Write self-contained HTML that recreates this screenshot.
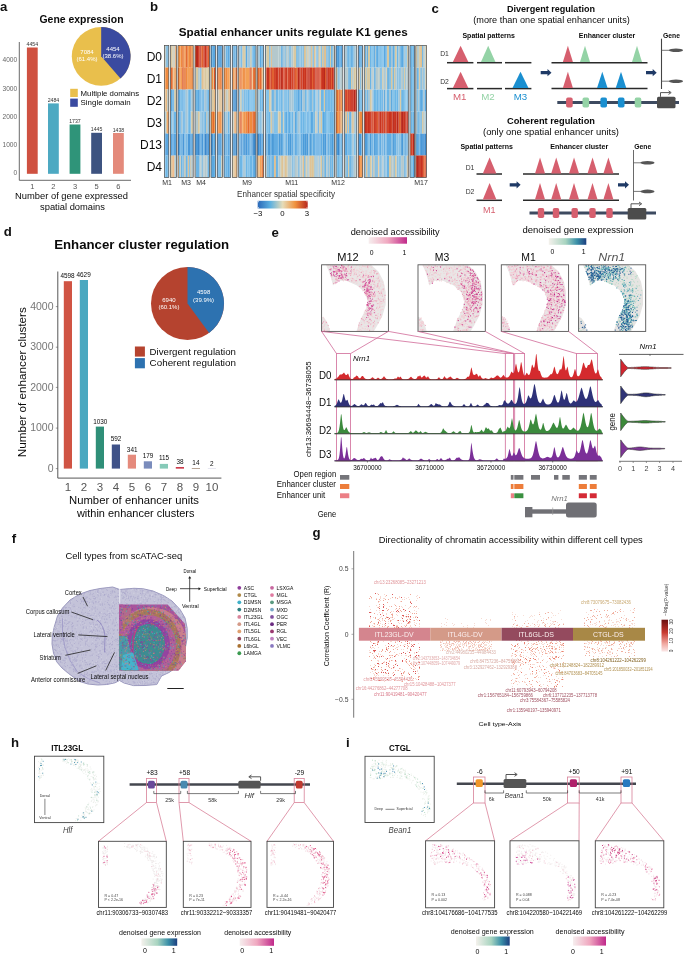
<!DOCTYPE html>
<html><head><meta charset="utf-8"><style>
html,body{margin:0;padding:0;background:#fff;width:685px;height:954px;overflow:hidden}
svg{display:block;will-change:transform;font-family:"Liberation Sans", sans-serif}
text{dominant-baseline:central}
</style></head><body>
<svg fill="#0a0a0a" width="685" height="954" viewBox="0 0 685 954">
<rect width="685" height="954" fill="#fff"/>
<text x="0" y="6.5" font-size="13.2" fill="#111" font-weight="bold" >a</text>
<text x="39.5" y="19" font-size="10.5" font-weight="bold" textLength="84.0" lengthAdjust="spacingAndGlyphs" >Gene expression</text>
<line x1="19.30" y1="42.00" x2="19.30" y2="180.30" stroke="#444" stroke-width="0.8" />
<line x1="19.30" y1="180.30" x2="131.00" y2="180.30" stroke="#444" stroke-width="0.8" />
<text x="17.2" y="59.6" font-size="6.6" fill="#666" text-anchor="end" >4000</text>
<text x="17.2" y="88.3" font-size="6.6" fill="#666" text-anchor="end" >3000</text>
<text x="17.2" y="116.8" font-size="6.6" fill="#666" text-anchor="end" >2000</text>
<text x="17.2" y="144.9" font-size="6.6" fill="#666" text-anchor="end" >1000</text>
<text x="17.2" y="172.4" font-size="6.6" fill="#666" text-anchor="end" >0</text>
<rect x="26.9" y="47.5" width="10.8" height="126.3" fill="#cf5141" />
<text x="32.3" y="44" font-size="5.2" fill="#333" text-anchor="middle" >4454</text>
<text x="32.3" y="186.6" font-size="7.5" fill="#555" text-anchor="middle" >1</text>
<rect x="48" y="103.4" width="10.8" height="70.4" fill="#4da9c2" />
<text x="53.4" y="99.9" font-size="5.2" fill="#333" text-anchor="middle" >2484</text>
<text x="53.4" y="186.6" font-size="7.5" fill="#555" text-anchor="middle" >2</text>
<rect x="69.6" y="124.5" width="10.8" height="49.3" fill="#2f9479" />
<text x="75" y="121" font-size="5.2" fill="#333" text-anchor="middle" >1737</text>
<text x="75" y="186.6" font-size="7.5" fill="#555" text-anchor="middle" >3</text>
<rect x="91.2" y="132.8" width="10.8" height="41" fill="#3d5380" />
<text x="96.6" y="129.3" font-size="5.2" fill="#333" text-anchor="middle" >1445</text>
<text x="96.6" y="186.6" font-size="7.5" fill="#555" text-anchor="middle" >5</text>
<rect x="113" y="133" width="10.8" height="40.8" fill="#e48a7b" />
<text x="118.4" y="129.5" font-size="5.2" fill="#333" text-anchor="middle" >1438</text>
<text x="118.4" y="186.6" font-size="7.5" fill="#555" text-anchor="middle" >6</text>
<text x="71.5" y="195.2" font-size="9.5" text-anchor="middle" textLength="113.0" lengthAdjust="spacingAndGlyphs" >Number of gene expressed</text>
<text x="72.5" y="206" font-size="9.5" text-anchor="middle" textLength="65.0" lengthAdjust="spacingAndGlyphs" >spatial domains</text>
<circle cx="101.2" cy="56.3" r="29.4" fill="#e9bf4c"/>
<path d="M101.2,56.3 L101.2,26.9 A29.4,29.4 0 0 1 120.50,78.47 Z" fill="#3a4aa0" stroke="none" stroke-width="1" />
<text x="113" y="49" font-size="6" fill="#fff" text-anchor="middle" >4454</text>
<text x="113" y="56" font-size="6" fill="#fff" text-anchor="middle" >(38.6%)</text>
<text x="87" y="51.5" font-size="6" fill="#fff" text-anchor="middle" >7084</text>
<text x="87" y="58.5" font-size="6" fill="#fff" text-anchor="middle" >(61.4%)</text>
<rect x="70.2" y="88.8" width="7.6" height="8.2" fill="#e9bf4c" />
<rect x="70.2" y="98.6" width="7.6" height="8.2" fill="#3a4aa0" />
<text x="80.6" y="93" font-size="7.8" textLength="58.5" lengthAdjust="spacingAndGlyphs" >Multiple domains</text>
<text x="80.6" y="102.5" font-size="7.8" textLength="50.0" lengthAdjust="spacingAndGlyphs" >Single domain</text>
<text x="150" y="6.5" font-size="13.2" fill="#111" font-weight="bold" >b</text>
<text x="178.8" y="31.5" font-size="11.3" font-weight="bold" textLength="229.0" lengthAdjust="spacingAndGlyphs" >Spatial enhancer units regulate K1 genes</text>
<path d="M165.03 45.5v22.0M178.53 155.5v22.0M190.73 155.5v22.0M203.83 67.5v22.0M206.83 111.5v22.0M282.43 155.5v22.0M304.53 45.5v22.0M311.43 45.5v22.0M312.43 155.5v22.0M314.43 45.5v22.0M318.83 45.5v22.0M324.53 45.5v22.0M334.03 45.5v22.0M336.53 67.5v22.0M348.63 111.5v22.0M366.43 155.5v22.0M407.73 155.5v22.0" stroke="#e0c090" stroke-width="1.06"/>
<path d="M180.68 155.5v22.0M283.98 45.5v22.0M287.28 155.5v22.0M300.08 155.5v22.0M373.58 155.5v22.0M378.28 155.5v22.0M378.98 155.5v22.0" stroke="#e0c090" stroke-width="0.76"/>
<path d="M184.98 155.5v22.0M188.28 155.5v22.0M271.28 45.5v22.0M325.68 45.5v22.0" stroke="#e0c090" stroke-width="1.36"/>
<path d="M202.33 67.5v22.0M274.93 155.5v22.0M346.13 111.5v22.0M421.13 45.5v22.0" stroke="#e0c090" stroke-width="2.06"/>
<path d="M285.13 155.5v22.0M303.23 155.5v22.0M310.13 155.5v22.0M352.93 111.5v22.0" stroke="#e0c090" stroke-width="1.66"/>
<path d="M165.03 67.5v22.0M175.83 67.5v22.0M178.53 45.5v22.0M239.93 67.5v22.0M239.93 111.5v22.0M241.93 67.5v22.0M241.93 111.5v22.0M243.63 111.5v22.0M251.93 67.5v22.0" stroke="#f3a157" stroke-width="1.06"/>
<path d="M172.98 67.5v22.0M180.68 45.5v22.0M218.88 111.5v22.0M221.18 111.5v22.0M229.98 67.5v22.0M242.78 111.5v22.0M257.58 155.5v22.0M261.88 67.5v22.0" stroke="#f3a157" stroke-width="0.76"/>
<path d="M176.43 67.5v22.0" stroke="#f3a157" stroke-width="0.26"/>
<path d="M179.68 67.5v22.0M181.68 67.5v22.0M184.98 45.5v22.0M188.28 45.5v22.0M188.28 67.5v22.0M189.58 67.5v22.0M338.68 89.5v22.0M338.68 111.5v22.0M360.58 155.5v22.0" stroke="#f3a157" stroke-width="1.36"/>
<path d="M192.03 45.5v22.0M359.13 111.5v22.0" stroke="#f3a157" stroke-width="1.66"/>
<path d="M214.78 111.5v22.0" stroke="#f3a157" stroke-width="1.56"/>
<path d="M221.98 67.5v22.0M221.98 111.5v22.0" stroke="#f3a157" stroke-width="0.96"/>
<path d="M228.63 67.5v22.0M246.43 67.5v22.0M248.43 67.5v22.0M260.53 155.5v22.0M341.33 89.5v22.0" stroke="#f3a157" stroke-width="2.06"/>
<path d="M230.53 67.5v22.0" stroke="#f3a157" stroke-width="0.46"/>
<path d="M263.48 67.5v22.0M342.58 111.5v22.0" stroke="#f3a157" stroke-width="0.56"/>
<path d="M362.58 111.5v22.0" stroke="#f3a157" stroke-width="0.16"/>
<path d="M165.03 89.5v22.0M173.83 45.5v22.0M212.53 89.5v22.0M213.53 89.5v22.0M234.13 111.5v22.0M234.13 155.5v22.0" stroke="#dcc8a0" stroke-width="1.06"/>
<path d="M166.33 111.5v22.0M220.03 89.5v22.0M359.13 67.5v22.0" stroke="#dcc8a0" stroke-width="1.66"/>
<path d="M168.78 89.5v22.0M168.78 111.5v22.0M362.58 67.5v22.0" stroke="#dcc8a0" stroke-width="0.16"/>
<path d="M171.63 45.5v22.0M171.63 155.5v22.0M228.63 89.5v22.0" stroke="#dcc8a0" stroke-width="2.06"/>
<path d="M176.43 155.5v22.0" stroke="#dcc8a0" stroke-width="0.26"/>
<path d="M221.98 89.5v22.0" stroke="#dcc8a0" stroke-width="0.96"/>
<path d="M232.98 155.5v22.0" stroke="#dcc8a0" stroke-width="1.36"/>
<path d="M236.33 111.5v22.0" stroke="#dcc8a0" stroke-width="1.46"/>
<path d="M165.03 111.5v22.0M175.83 155.5v22.0M182.83 155.5v22.0M183.83 155.5v22.0M200.13 111.5v22.0M203.83 111.5v22.0M267.53 155.5v22.0M268.53 155.5v22.0M282.43 45.5v22.0M289.43 45.5v22.0M304.53 155.5v22.0M306.83 45.5v22.0M307.83 155.5v22.0M313.43 45.5v22.0M322.53 155.5v22.0M324.53 155.5v22.0M331.43 155.5v22.0M339.83 67.5v22.0M347.63 111.5v22.0M351.63 155.5v22.0M365.43 155.5v22.0M375.43 67.5v22.0M375.43 155.5v22.0M376.43 155.5v22.0M377.43 155.5v22.0M381.83 155.5v22.0M385.83 67.5v22.0M385.83 155.5v22.0M394.43 155.5v22.0M400.63 67.5v22.0M400.63 155.5v22.0M403.63 67.5v22.0M418.63 67.5v22.0M419.63 111.5v22.0M424.93 67.5v22.0" stroke="#8cc0e0" stroke-width="1.06"/>
<path d="M166.33 45.5v22.0M167.93 45.5v22.0M258.73 111.5v22.0M269.83 45.5v22.0M285.13 45.5v22.0M290.73 45.5v22.0M303.23 45.5v22.0M328.13 45.5v22.0M328.13 155.5v22.0M332.73 45.5v22.0M352.93 155.5v22.0M399.33 67.5v22.0M399.33 155.5v22.0" stroke="#8cc0e0" stroke-width="1.66"/>
<path d="M168.78 45.5v22.0M408.28 67.5v22.0" stroke="#8cc0e0" stroke-width="0.16"/>
<path d="M179.68 155.5v22.0M189.58 155.5v22.0M271.28 155.5v22.0M294.18 155.5v22.0M316.98 45.5v22.0M316.98 155.5v22.0M321.38 45.5v22.0M338.68 67.5v22.0M360.58 67.5v22.0M384.68 155.5v22.0M417.48 111.5v22.0M423.78 67.5v22.0" stroke="#8cc0e0" stroke-width="1.36"/>
<path d="M200.98 111.5v22.0M261.88 111.5v22.0M278.28 155.5v22.0M287.28 45.5v22.0M300.08 45.5v22.0M315.98 45.5v22.0M344.78 111.5v22.0M378.28 67.5v22.0M383.68 67.5v22.0M383.68 155.5v22.0M386.68 155.5v22.0M405.48 155.5v22.0" stroke="#8cc0e0" stroke-width="0.76"/>
<path d="M202.33 111.5v22.0M202.33 155.5v22.0M208.33 111.5v22.0M260.53 111.5v22.0M292.53 155.5v22.0M298.73 45.5v22.0M298.73 155.5v22.0M301.43 45.5v22.0M346.13 155.5v22.0M368.93 155.5v22.0M380.33 67.5v22.0M380.33 155.5v22.0M390.03 67.5v22.0M397.53 67.5v22.0M397.53 155.5v22.0M421.13 67.5v22.0M421.13 111.5v22.0" stroke="#8cc0e0" stroke-width="2.06"/>
<path d="M356.08 111.5v22.0" stroke="#8cc0e0" stroke-width="1.56"/>
<path d="M165.03 133.5v22.0M182.83 133.5v22.0M183.83 133.5v22.0M195.53 133.5v22.0M211.53 45.5v22.0M212.53 133.5v22.0M234.13 89.5v22.0M240.93 133.5v22.0M249.93 133.5v22.0M336.53 45.5v22.0M337.53 133.5v22.0M422.63 133.5v22.0" stroke="#4a98d8" stroke-width="1.06"/>
<path d="M168.78 133.5v22.0" stroke="#4a98d8" stroke-width="0.16"/>
<path d="M176.43 133.5v22.0" stroke="#4a98d8" stroke-width="0.26"/>
<path d="M188.28 133.5v22.0M189.58 133.5v22.0M217.88 133.5v22.0M232.98 89.5v22.0M244.78 133.5v22.0M338.68 45.5v22.0M360.58 133.5v22.0M423.78 133.5v22.0" stroke="#4a98d8" stroke-width="1.36"/>
<path d="M197.03 133.5v22.0M202.33 133.5v22.0M208.33 133.5v22.0M246.43 133.5v22.0M260.53 133.5v22.0M421.13 133.5v22.0" stroke="#4a98d8" stroke-width="2.06"/>
<path d="M209.48 133.5v22.0" stroke="#4a98d8" stroke-width="0.36"/>
<path d="M220.03 45.5v22.0M359.13 133.5v22.0" stroke="#4a98d8" stroke-width="1.66"/>
<path d="M229.98 133.5v22.0" stroke="#4a98d8" stroke-width="0.76"/>
<path d="M236.33 89.5v22.0" stroke="#4a98d8" stroke-width="1.46"/>
<path d="M263.48 133.5v22.0M342.58 133.5v22.0" stroke="#4a98d8" stroke-width="0.56"/>
<path d="M165.03 155.5v22.0M182.83 111.5v22.0M183.83 89.5v22.0M190.73 111.5v22.0M239.93 89.5v22.0M250.93 89.5v22.0M265.83 89.5v22.0M265.83 111.5v22.0M267.53 89.5v22.0M267.53 111.5v22.0M268.53 89.5v22.0M268.53 111.5v22.0M282.43 89.5v22.0M286.43 89.5v22.0M304.53 111.5v22.0M306.83 89.5v22.0M306.83 111.5v22.0M313.43 89.5v22.0M313.43 111.5v22.0M322.53 111.5v22.0M323.53 89.5v22.0M329.43 111.5v22.0M330.43 89.5v22.0M337.53 155.5v22.0M347.63 133.5v22.0M351.63 133.5v22.0M372.73 45.5v22.0M376.43 89.5v22.0M382.83 45.5v22.0M394.43 45.5v22.0M394.43 89.5v22.0M403.63 45.5v22.0M404.63 89.5v22.0M407.73 89.5v22.0M419.63 89.5v22.0" stroke="#84c2e8" stroke-width="1.06"/>
<path d="M167.93 155.5v22.0M224.83 111.5v22.0M285.13 89.5v22.0M290.73 111.5v22.0M310.13 111.5v22.0M328.13 111.5v22.0M332.73 89.5v22.0M354.53 133.5v22.0M393.13 89.5v22.0" stroke="#84c2e8" stroke-width="1.66"/>
<path d="M171.63 111.5v22.0M202.33 89.5v22.0M246.43 89.5v22.0M248.43 155.5v22.0M254.13 89.5v22.0M274.93 111.5v22.0M276.93 111.5v22.0M279.63 89.5v22.0M341.33 155.5v22.0M350.13 45.5v22.0M380.33 45.5v22.0M411.73 155.5v22.0" stroke="#84c2e8" stroke-width="2.06"/>
<path d="M172.98 89.5v22.0M200.98 89.5v22.0M221.18 155.5v22.0M229.98 45.5v22.0M229.98 155.5v22.0M242.78 155.5v22.0M257.58 89.5v22.0M261.88 45.5v22.0M278.28 89.5v22.0M287.28 89.5v22.0M300.08 89.5v22.0M315.28 89.5v22.0M315.98 89.5v22.0M320.38 111.5v22.0M344.78 45.5v22.0M378.98 89.5v22.0M386.68 89.5v22.0M405.48 45.5v22.0M405.48 89.5v22.0M406.18 45.5v22.0M406.18 89.5v22.0M406.88 89.5v22.0M410.38 67.5v22.0M410.38 89.5v22.0" stroke="#84c2e8" stroke-width="0.76"/>
<path d="M176.43 89.5v22.0" stroke="#84c2e8" stroke-width="0.26"/>
<path d="M181.68 89.5v22.0M188.28 89.5v22.0M188.28 111.5v22.0M295.48 89.5v22.0M305.68 111.5v22.0M360.58 89.5v22.0M417.48 89.5v22.0" stroke="#84c2e8" stroke-width="1.36"/>
<path d="M193.03 111.5v22.0M230.53 45.5v22.0M230.53 155.5v22.0" stroke="#84c2e8" stroke-width="0.46"/>
<path d="M255.58 45.5v22.0" stroke="#84c2e8" stroke-width="0.96"/>
<path d="M356.08 133.5v22.0" stroke="#84c2e8" stroke-width="1.56"/>
<path d="M362.58 89.5v22.0M408.28 45.5v22.0" stroke="#84c2e8" stroke-width="0.16"/>
<path d="M413.63 67.5v22.0M413.63 89.5v22.0" stroke="#84c2e8" stroke-width="1.86"/>
<path d="M166.33 67.5v22.0M167.93 67.5v22.0M192.03 67.5v22.0M220.03 67.5v22.0M220.03 111.5v22.0M224.83 67.5v22.0" stroke="#ef8a3e" stroke-width="1.66"/>
<path d="M174.83 67.5v22.0M183.83 45.5v22.0M183.83 67.5v22.0M190.73 67.5v22.0M211.53 111.5v22.0M212.53 67.5v22.0M212.53 111.5v22.0M234.13 67.5v22.0M243.63 67.5v22.0M249.93 111.5v22.0M250.93 111.5v22.0M251.93 111.5v22.0M336.53 89.5v22.0M337.53 111.5v22.0" stroke="#ef8a3e" stroke-width="1.06"/>
<path d="M179.68 45.5v22.0M181.68 45.5v22.0M189.58 45.5v22.0M217.88 111.5v22.0M232.98 67.5v22.0M244.78 67.5v22.0M244.78 111.5v22.0M360.58 111.5v22.0M361.88 111.5v22.0M361.88 155.5v22.0" stroke="#ef8a3e" stroke-width="1.36"/>
<path d="M180.68 67.5v22.0M218.88 67.5v22.0M239.08 67.5v22.0M239.08 111.5v22.0M242.78 67.5v22.0M261.88 155.5v22.0" stroke="#ef8a3e" stroke-width="0.76"/>
<path d="M186.63 67.5v22.0M226.63 67.5v22.0M246.43 111.5v22.0" stroke="#ef8a3e" stroke-width="2.06"/>
<path d="M193.03 45.5v22.0" stroke="#ef8a3e" stroke-width="0.46"/>
<path d="M255.58 67.5v22.0M255.58 111.5v22.0" stroke="#ef8a3e" stroke-width="0.96"/>
<path d="M362.58 155.5v22.0" stroke="#ef8a3e" stroke-width="0.16"/>
<path d="M166.33 89.5v22.0M224.83 89.5v22.0" stroke="#e8b880" stroke-width="1.66"/>
<path d="M173.83 155.5v22.0M235.13 155.5v22.0" stroke="#e8b880" stroke-width="1.06"/>
<path d="M176.43 45.5v22.0" stroke="#e8b880" stroke-width="0.26"/>
<path d="M214.78 89.5v22.0" stroke="#e8b880" stroke-width="1.56"/>
<path d="M218.88 89.5v22.0M221.18 89.5v22.0" stroke="#e8b880" stroke-width="0.76"/>
<path d="M230.53 89.5v22.0" stroke="#e8b880" stroke-width="0.46"/>
<path d="M236.33 155.5v22.0" stroke="#e8b880" stroke-width="1.46"/>
<path d="M166.33 133.5v22.0M167.93 133.5v22.0M192.03 133.5v22.0M220.03 133.5v22.0M224.83 133.5v22.0M359.13 45.5v22.0" stroke="#5aa6e0" stroke-width="1.66"/>
<path d="M171.63 133.5v22.0M228.63 133.5v22.0M248.43 133.5v22.0M341.33 45.5v22.0" stroke="#5aa6e0" stroke-width="2.06"/>
<path d="M172.98 133.5v22.0M180.68 133.5v22.0M200.98 133.5v22.0M218.88 45.5v22.0M221.18 45.5v22.0M239.08 133.5v22.0M252.78 133.5v22.0M261.88 133.5v22.0" stroke="#5aa6e0" stroke-width="0.76"/>
<path d="M173.83 133.5v22.0M174.83 133.5v22.0M175.83 133.5v22.0M190.73 133.5v22.0M200.13 133.5v22.0M213.53 45.5v22.0M235.13 133.5v22.0M243.63 133.5v22.0M262.73 133.5v22.0M337.53 45.5v22.0M339.83 45.5v22.0M339.83 133.5v22.0M416.33 133.5v22.0M418.63 133.5v22.0" stroke="#5aa6e0" stroke-width="1.06"/>
<path d="M179.68 133.5v22.0M232.98 45.5v22.0M232.98 133.5v22.0M361.88 45.5v22.0M417.48 133.5v22.0" stroke="#5aa6e0" stroke-width="1.36"/>
<path d="M214.78 45.5v22.0M214.78 133.5v22.0" stroke="#5aa6e0" stroke-width="1.56"/>
<path d="M230.53 133.5v22.0" stroke="#5aa6e0" stroke-width="0.46"/>
<path d="M236.33 45.5v22.0" stroke="#5aa6e0" stroke-width="1.46"/>
<path d="M342.58 45.5v22.0" stroke="#5aa6e0" stroke-width="0.56"/>
<path d="M362.58 45.5v22.0" stroke="#5aa6e0" stroke-width="0.16"/>
<path d="M166.33 155.5v22.0M220.03 155.5v22.0M224.83 155.5v22.0M269.83 111.5v22.0M285.13 111.5v22.0M296.93 89.5v22.0M296.93 111.5v22.0M303.23 111.5v22.0M310.13 89.5v22.0M328.13 89.5v22.0M332.73 111.5v22.0M352.93 45.5v22.0M370.73 45.5v22.0M395.73 89.5v22.0" stroke="#6db6e6" stroke-width="1.66"/>
<path d="M168.78 155.5v22.0" stroke="#6db6e6" stroke-width="0.16"/>
<path d="M173.83 111.5v22.0M174.83 111.5v22.0M175.83 111.5v22.0M178.53 89.5v22.0M190.73 89.5v22.0M195.53 89.5v22.0M206.83 89.5v22.0M211.53 155.5v22.0M239.93 155.5v22.0M240.93 45.5v22.0M240.93 155.5v22.0M241.93 89.5v22.0M241.93 155.5v22.0M249.93 89.5v22.0M249.93 155.5v22.0M250.93 155.5v22.0M251.93 45.5v22.0M251.93 89.5v22.0M251.93 155.5v22.0M262.73 45.5v22.0M282.43 111.5v22.0M308.83 89.5v22.0M308.83 111.5v22.0M311.43 89.5v22.0M314.43 89.5v22.0M314.43 111.5v22.0M318.83 89.5v22.0M322.53 89.5v22.0M324.53 111.5v22.0M326.83 111.5v22.0M329.43 89.5v22.0M330.43 111.5v22.0M331.43 89.5v22.0M331.43 111.5v22.0M339.83 155.5v22.0M347.63 45.5v22.0M348.63 45.5v22.0M348.63 133.5v22.0M365.43 89.5v22.0M367.43 89.5v22.0M374.43 89.5v22.0M375.43 89.5v22.0M376.43 45.5v22.0M377.43 89.5v22.0M381.83 45.5v22.0M381.83 89.5v22.0M400.63 45.5v22.0M403.63 89.5v22.0M422.63 89.5v22.0" stroke="#6db6e6" stroke-width="1.06"/>
<path d="M179.68 111.5v22.0M184.98 89.5v22.0M184.98 111.5v22.0M189.58 89.5v22.0M189.58 111.5v22.0M244.78 89.5v22.0M281.28 89.5v22.0M281.28 111.5v22.0M288.28 89.5v22.0M288.28 111.5v22.0M294.18 89.5v22.0M305.68 89.5v22.0M321.38 89.5v22.0M325.68 89.5v22.0M325.68 111.5v22.0M338.68 155.5v22.0M361.88 89.5v22.0" stroke="#6db6e6" stroke-width="1.36"/>
<path d="M180.68 89.5v22.0M218.88 155.5v22.0M239.08 45.5v22.0M239.08 89.5v22.0M239.08 155.5v22.0M242.78 89.5v22.0M252.78 45.5v22.0M252.78 89.5v22.0M252.78 155.5v22.0M261.88 89.5v22.0M266.68 89.5v22.0M266.68 111.5v22.0M283.98 111.5v22.0M287.28 111.5v22.0M300.08 111.5v22.0M317.98 89.5v22.0M317.98 111.5v22.0M344.78 133.5v22.0M371.88 45.5v22.0M373.58 45.5v22.0M373.58 89.5v22.0M378.28 45.5v22.0M383.68 45.5v22.0M386.68 45.5v22.0M406.88 45.5v22.0M410.38 155.5v22.0" stroke="#6db6e6" stroke-width="0.76"/>
<path d="M197.03 89.5v22.0M208.33 89.5v22.0M226.63 45.5v22.0M226.63 155.5v22.0M228.63 111.5v22.0M246.43 155.5v22.0M248.43 89.5v22.0M254.13 45.5v22.0M260.53 89.5v22.0M272.93 89.5v22.0M276.93 89.5v22.0M292.53 111.5v22.0M301.43 111.5v22.0M350.13 133.5v22.0M380.33 89.5v22.0M388.03 89.5v22.0M390.03 45.5v22.0M397.53 45.5v22.0M397.53 89.5v22.0M402.13 89.5v22.0M411.73 45.5v22.0M411.73 67.5v22.0M411.73 89.5v22.0" stroke="#6db6e6" stroke-width="2.06"/>
<path d="M214.78 155.5v22.0" stroke="#6db6e6" stroke-width="1.56"/>
<path d="M230.53 111.5v22.0" stroke="#6db6e6" stroke-width="0.46"/>
<path d="M342.58 155.5v22.0" stroke="#6db6e6" stroke-width="0.56"/>
<path d="M413.63 45.5v22.0" stroke="#6db6e6" stroke-width="1.86"/>
<path d="M167.93 89.5v22.0" stroke="#c0c8c0" stroke-width="1.66"/>
<path d="M172.98 45.5v22.0" stroke="#c0c8c0" stroke-width="0.76"/>
<path d="M174.83 45.5v22.0M174.83 155.5v22.0M211.53 89.5v22.0" stroke="#c0c8c0" stroke-width="1.06"/>
<path d="M217.88 89.5v22.0M232.98 111.5v22.0M361.88 67.5v22.0" stroke="#c0c8c0" stroke-width="1.36"/>
<path d="M226.63 89.5v22.0" stroke="#c0c8c0" stroke-width="2.06"/>
<path d="M167.93 111.5v22.0" stroke="#f0a060" stroke-width="1.66"/>
<path d="M172.98 155.5v22.0M229.98 89.5v22.0" stroke="#f0a060" stroke-width="0.76"/>
<path d="M175.83 45.5v22.0M235.13 111.5v22.0" stroke="#f0a060" stroke-width="1.06"/>
<path d="M168.78 67.5v22.0" stroke="#e9c08c" stroke-width="0.16"/>
<path d="M173.83 67.5v22.0M211.53 67.5v22.0M213.53 67.5v22.0M235.13 67.5v22.0M262.73 67.5v22.0" stroke="#e9c08c" stroke-width="1.06"/>
<path d="M252.78 67.5v22.0" stroke="#e9c08c" stroke-width="0.76"/>
<path d="M258.73 155.5v22.0" stroke="#e9c08c" stroke-width="1.66"/>
<path d="M341.33 111.5v22.0" stroke="#e9c08c" stroke-width="2.06"/>
<path d="M171.63 67.5v22.0M186.63 45.5v22.0M248.43 111.5v22.0M254.13 67.5v22.0M254.13 111.5v22.0M260.53 67.5v22.0" stroke="#e36b30" stroke-width="2.06"/>
<path d="M178.53 67.5v22.0M182.83 45.5v22.0M190.73 45.5v22.0M213.53 111.5v22.0M240.93 67.5v22.0M249.93 67.5v22.0M262.73 155.5v22.0M336.53 111.5v22.0M337.53 89.5v22.0M339.83 111.5v22.0" stroke="#e36b30" stroke-width="1.06"/>
<path d="M184.98 67.5v22.0M217.88 67.5v22.0" stroke="#e36b30" stroke-width="1.36"/>
<path d="M193.03 67.5v22.0" stroke="#e36b30" stroke-width="0.46"/>
<path d="M221.18 67.5v22.0M252.78 111.5v22.0M257.58 67.5v22.0" stroke="#e36b30" stroke-width="0.76"/>
<path d="M236.33 67.5v22.0" stroke="#e36b30" stroke-width="1.46"/>
<path d="M258.73 67.5v22.0M359.13 155.5v22.0" stroke="#e36b30" stroke-width="1.66"/>
<path d="M263.48 155.5v22.0" stroke="#e36b30" stroke-width="0.56"/>
<path d="M171.63 89.5v22.0M228.63 45.5v22.0M228.63 155.5v22.0M246.43 45.5v22.0M254.13 155.5v22.0M260.53 45.5v22.0M298.73 89.5v22.0M301.43 89.5v22.0M346.13 133.5v22.0M402.13 45.5v22.0M421.13 89.5v22.0" stroke="#5aa8e0" stroke-width="2.06"/>
<path d="M173.83 89.5v22.0M178.53 111.5v22.0M182.83 89.5v22.0M183.83 111.5v22.0M200.13 89.5v22.0M203.83 89.5v22.0M212.53 155.5v22.0M213.53 155.5v22.0M241.93 45.5v22.0M249.93 45.5v22.0M262.73 89.5v22.0M286.43 111.5v22.0M289.43 111.5v22.0M307.83 111.5v22.0M311.43 111.5v22.0M312.43 111.5v22.0M318.83 111.5v22.0M323.53 111.5v22.0M326.83 89.5v22.0M334.03 89.5v22.0M334.03 111.5v22.0M351.63 45.5v22.0M365.43 45.5v22.0M367.43 45.5v22.0M374.43 45.5v22.0M377.43 45.5v22.0M382.83 89.5v22.0M385.83 45.5v22.0M424.93 89.5v22.0M425.93 89.5v22.0" stroke="#5aa8e0" stroke-width="1.06"/>
<path d="M179.68 89.5v22.0M217.88 155.5v22.0M295.48 111.5v22.0M384.68 45.5v22.0M384.68 89.5v22.0M391.68 89.5v22.0" stroke="#5aa8e0" stroke-width="1.36"/>
<path d="M180.68 111.5v22.0M283.98 89.5v22.0M378.28 89.5v22.0M378.98 45.5v22.0M410.38 45.5v22.0" stroke="#5aa8e0" stroke-width="0.76"/>
<path d="M193.03 89.5v22.0" stroke="#5aa8e0" stroke-width="0.46"/>
<path d="M198.83 89.5v22.0M359.13 89.5v22.0M393.13 45.5v22.0" stroke="#5aa8e0" stroke-width="1.66"/>
<path d="M255.58 155.5v22.0" stroke="#5aa8e0" stroke-width="0.96"/>
<path d="M263.48 45.5v22.0" stroke="#5aa8e0" stroke-width="0.56"/>
<path d="M408.28 89.5v22.0" stroke="#5aa8e0" stroke-width="0.16"/>
<path d="M413.63 155.5v22.0" stroke="#5aa8e0" stroke-width="1.86"/>
<path d="M172.98 111.5v22.0M229.98 111.5v22.0M257.58 45.5v22.0M283.28 89.5v22.0M315.28 111.5v22.0M319.68 89.5v22.0M364.58 89.5v22.0M371.88 89.5v22.0M383.68 89.5v22.0" stroke="#a6c6d6" stroke-width="0.76"/>
<path d="M176.43 111.5v22.0" stroke="#a6c6d6" stroke-width="0.26"/>
<path d="M181.68 111.5v22.0M244.78 155.5v22.0M271.28 89.5v22.0M294.18 111.5v22.0M316.98 89.5v22.0M316.98 111.5v22.0M391.68 45.5v22.0M423.78 89.5v22.0" stroke="#a6c6d6" stroke-width="1.36"/>
<path d="M186.63 89.5v22.0M186.63 111.5v22.0M205.33 89.5v22.0M226.63 111.5v22.0M248.43 45.5v22.0M272.93 111.5v22.0M274.93 89.5v22.0M292.53 89.5v22.0M298.73 111.5v22.0M346.13 45.5v22.0M368.93 89.5v22.0M390.03 89.5v22.0" stroke="#a6c6d6" stroke-width="2.06"/>
<path d="M192.03 89.5v22.0M224.83 45.5v22.0M258.73 45.5v22.0M258.73 89.5v22.0M290.73 89.5v22.0M303.23 89.5v22.0M352.93 133.5v22.0M354.53 45.5v22.0M399.33 45.5v22.0M399.33 89.5v22.0" stroke="#a6c6d6" stroke-width="1.66"/>
<path d="M239.93 45.5v22.0M243.63 89.5v22.0M243.63 155.5v22.0M289.43 89.5v22.0M304.53 89.5v22.0M307.83 89.5v22.0M312.43 89.5v22.0M336.53 155.5v22.0M366.43 45.5v22.0M366.43 89.5v22.0M372.73 89.5v22.0M375.43 45.5v22.0M385.83 89.5v22.0M404.63 45.5v22.0M416.33 89.5v22.0M418.63 89.5v22.0" stroke="#a6c6d6" stroke-width="1.06"/>
<path d="M263.48 89.5v22.0" stroke="#a6c6d6" stroke-width="0.56"/>
<path d="M356.08 45.5v22.0" stroke="#a6c6d6" stroke-width="1.56"/>
<path d="M174.83 89.5v22.0M175.83 89.5v22.0M240.93 89.5v22.0M243.63 45.5v22.0M250.93 45.5v22.0M324.53 89.5v22.0M400.63 89.5v22.0M407.73 45.5v22.0" stroke="#d6c8a2" stroke-width="1.06"/>
<path d="M192.03 111.5v22.0M269.83 89.5v22.0M370.73 89.5v22.0M395.73 45.5v22.0" stroke="#d6c8a2" stroke-width="1.66"/>
<path d="M209.48 89.5v22.0" stroke="#d6c8a2" stroke-width="0.36"/>
<path d="M221.98 155.5v22.0M255.58 89.5v22.0" stroke="#d6c8a2" stroke-width="0.96"/>
<path d="M242.78 45.5v22.0M278.28 111.5v22.0M283.28 111.5v22.0M315.98 111.5v22.0M319.68 111.5v22.0M320.38 89.5v22.0M364.58 45.5v22.0" stroke="#d6c8a2" stroke-width="0.76"/>
<path d="M244.78 45.5v22.0M271.28 111.5v22.0M321.38 111.5v22.0" stroke="#d6c8a2" stroke-width="1.36"/>
<path d="M279.63 111.5v22.0M368.93 45.5v22.0M388.03 45.5v22.0" stroke="#d6c8a2" stroke-width="2.06"/>
<path d="M178.53 133.5v22.0M206.83 133.5v22.0M211.53 133.5v22.0M234.13 133.5v22.0M235.13 89.5v22.0M241.93 133.5v22.0M251.93 133.5v22.0M424.93 133.5v22.0M425.93 133.5v22.0" stroke="#3a88cc" stroke-width="1.06"/>
<path d="M193.03 133.5v22.0" stroke="#3a88cc" stroke-width="0.46"/>
<path d="M198.83 133.5v22.0M258.73 133.5v22.0" stroke="#3a88cc" stroke-width="1.66"/>
<path d="M205.33 133.5v22.0M254.13 133.5v22.0" stroke="#3a88cc" stroke-width="2.06"/>
<path d="M217.88 45.5v22.0M338.68 133.5v22.0" stroke="#3a88cc" stroke-width="1.36"/>
<path d="M218.88 133.5v22.0M221.18 133.5v22.0M257.58 133.5v22.0" stroke="#3a88cc" stroke-width="0.76"/>
<path d="M221.98 45.5v22.0M255.58 133.5v22.0" stroke="#3a88cc" stroke-width="0.96"/>
<path d="M236.33 133.5v22.0" stroke="#3a88cc" stroke-width="1.46"/>
<path d="M181.68 133.5v22.0M184.98 133.5v22.0M360.58 45.5v22.0M361.88 133.5v22.0" stroke="#78b8e4" stroke-width="1.36"/>
<path d="M186.63 133.5v22.0M226.63 133.5v22.0M341.33 133.5v22.0" stroke="#78b8e4" stroke-width="2.06"/>
<path d="M203.83 133.5v22.0M212.53 45.5v22.0M213.53 133.5v22.0M234.13 45.5v22.0M235.13 45.5v22.0M239.93 133.5v22.0M250.93 133.5v22.0M336.53 133.5v22.0M419.63 133.5v22.0" stroke="#78b8e4" stroke-width="1.06"/>
<path d="M221.98 133.5v22.0" stroke="#78b8e4" stroke-width="0.96"/>
<path d="M242.78 133.5v22.0" stroke="#78b8e4" stroke-width="0.76"/>
<path d="M362.58 133.5v22.0" stroke="#78b8e4" stroke-width="0.16"/>
<path d="M181.68 155.5v22.0M281.28 45.5v22.0M325.68 155.5v22.0M417.48 67.5v22.0" stroke="#6cb4e4" stroke-width="1.36"/>
<path d="M186.63 155.5v22.0M197.03 155.5v22.0M205.33 111.5v22.0M208.33 155.5v22.0M272.93 155.5v22.0M276.93 155.5v22.0M350.13 67.5v22.0M350.13 111.5v22.0M350.13 155.5v22.0M388.03 67.5v22.0M388.03 155.5v22.0M411.73 111.5v22.0" stroke="#6cb4e4" stroke-width="2.06"/>
<path d="M198.83 155.5v22.0M269.83 155.5v22.0M296.93 45.5v22.0M332.73 155.5v22.0M370.73 67.5v22.0M393.13 67.5v22.0" stroke="#6cb4e4" stroke-width="1.66"/>
<path d="M200.13 67.5v22.0M265.83 45.5v22.0M326.83 45.5v22.0M329.43 45.5v22.0M330.43 155.5v22.0M331.43 45.5v22.0M347.63 155.5v22.0M348.63 67.5v22.0M372.73 155.5v22.0M374.43 67.5v22.0M381.83 67.5v22.0M404.63 155.5v22.0M418.63 111.5v22.0M422.63 45.5v22.0M425.93 111.5v22.0" stroke="#6cb4e4" stroke-width="1.06"/>
<path d="M200.98 67.5v22.0M266.68 155.5v22.0M283.28 45.5v22.0M315.28 155.5v22.0M317.98 45.5v22.0M319.68 155.5v22.0M344.78 67.5v22.0M364.58 67.5v22.0M405.48 67.5v22.0M406.18 155.5v22.0" stroke="#6cb4e4" stroke-width="0.76"/>
<path d="M209.48 67.5v22.0" stroke="#6cb4e4" stroke-width="0.36"/>
<path d="M263.48 111.5v22.0" stroke="#6cb4e4" stroke-width="0.56"/>
<path d="M413.63 111.5v22.0" stroke="#6cb4e4" stroke-width="1.86"/>
<path d="M182.83 67.5v22.0M240.93 111.5v22.0M250.93 67.5v22.0M339.83 89.5v22.0" stroke="#d9532a" stroke-width="1.06"/>
<path d="M214.78 67.5v22.0" stroke="#d9532a" stroke-width="1.56"/>
<path d="M342.58 89.5v22.0" stroke="#d9532a" stroke-width="0.56"/>
<path d="M192.03 155.5v22.0M198.83 67.5v22.0M290.73 155.5v22.0M296.93 155.5v22.0M310.13 45.5v22.0M352.93 67.5v22.0M354.53 111.5v22.0M354.53 155.5v22.0M393.13 155.5v22.0M395.73 67.5v22.0" stroke="#b4c8cc" stroke-width="1.66"/>
<path d="M193.03 155.5v22.0" stroke="#b4c8cc" stroke-width="0.46"/>
<path d="M195.53 67.5v22.0M195.53 111.5v22.0M195.53 155.5v22.0M200.13 155.5v22.0M203.83 155.5v22.0M206.83 155.5v22.0M262.73 111.5v22.0M286.43 45.5v22.0M289.43 155.5v22.0M308.83 45.5v22.0M308.83 155.5v22.0M312.43 45.5v22.0M314.43 155.5v22.0M318.83 155.5v22.0M323.53 45.5v22.0M323.53 155.5v22.0M326.83 155.5v22.0M329.43 155.5v22.0M334.03 155.5v22.0M337.53 67.5v22.0M347.63 67.5v22.0M351.63 111.5v22.0M366.43 67.5v22.0M367.43 155.5v22.0M372.73 67.5v22.0M374.43 155.5v22.0M376.43 67.5v22.0M377.43 67.5v22.0M382.83 155.5v22.0M403.63 155.5v22.0M407.73 67.5v22.0M416.33 67.5v22.0M416.33 111.5v22.0M418.63 45.5v22.0M422.63 67.5v22.0M424.93 45.5v22.0M424.93 111.5v22.0" stroke="#b4c8cc" stroke-width="1.06"/>
<path d="M197.03 111.5v22.0M205.33 155.5v22.0M272.93 45.5v22.0M274.93 45.5v22.0M276.93 45.5v22.0M279.63 45.5v22.0M279.63 155.5v22.0M292.53 45.5v22.0M301.43 155.5v22.0M341.33 67.5v22.0M346.13 67.5v22.0M402.13 67.5v22.0M402.13 155.5v22.0" stroke="#b4c8cc" stroke-width="2.06"/>
<path d="M200.98 155.5v22.0M257.58 111.5v22.0M278.28 45.5v22.0M283.98 155.5v22.0M315.98 155.5v22.0M317.98 155.5v22.0M320.38 45.5v22.0M320.38 155.5v22.0M364.58 155.5v22.0M371.88 67.5v22.0M371.88 155.5v22.0M373.58 67.5v22.0M406.18 67.5v22.0M406.88 67.5v22.0M406.88 155.5v22.0M410.38 111.5v22.0" stroke="#b4c8cc" stroke-width="0.76"/>
<path d="M288.28 45.5v22.0M288.28 155.5v22.0M295.48 155.5v22.0M305.68 155.5v22.0M384.68 67.5v22.0M391.68 155.5v22.0M417.48 45.5v22.0M423.78 45.5v22.0M423.78 111.5v22.0" stroke="#b4c8cc" stroke-width="1.36"/>
<path d="M342.58 67.5v22.0" stroke="#b4c8cc" stroke-width="0.56"/>
<path d="M356.08 155.5v22.0" stroke="#b4c8cc" stroke-width="1.56"/>
<path d="M195.53 45.5v22.0M265.83 67.5v22.0M312.43 67.5v22.0M331.43 67.5v22.0M347.63 89.5v22.0M377.43 111.5v22.0M385.83 111.5v22.0M400.63 111.5v22.0M424.93 155.5v22.0" stroke="#e0602f" stroke-width="1.06"/>
<path d="M200.98 45.5v22.0M287.28 67.5v22.0M320.38 67.5v22.0M373.58 111.5v22.0M410.38 133.5v22.0" stroke="#e0602f" stroke-width="0.76"/>
<path d="M202.33 45.5v22.0M208.33 45.5v22.0M272.93 67.5v22.0" stroke="#e0602f" stroke-width="2.06"/>
<path d="M269.83 67.5v22.0M296.93 67.5v22.0M399.33 111.5v22.0" stroke="#e0602f" stroke-width="1.66"/>
<path d="M295.48 67.5v22.0M325.68 67.5v22.0M423.78 155.5v22.0" stroke="#e0602f" stroke-width="1.36"/>
<path d="M197.03 45.5v22.0M298.73 67.5v22.0M397.53 111.5v22.0M402.13 111.5v22.0" stroke="#b8281c" stroke-width="2.06"/>
<path d="M200.13 45.5v22.0M308.83 67.5v22.0M324.53 67.5v22.0M326.83 67.5v22.0M365.43 111.5v22.0M418.63 155.5v22.0" stroke="#b8281c" stroke-width="1.06"/>
<path d="M281.28 67.5v22.0M417.48 155.5v22.0" stroke="#b8281c" stroke-width="1.36"/>
<path d="M315.28 67.5v22.0M371.88 111.5v22.0M383.68 111.5v22.0M386.68 111.5v22.0M405.48 111.5v22.0M406.88 111.5v22.0" stroke="#b8281c" stroke-width="0.76"/>
<path d="M354.53 89.5v22.0M393.13 111.5v22.0" stroke="#b8281c" stroke-width="1.66"/>
<path d="M413.63 133.5v22.0" stroke="#b8281c" stroke-width="1.86"/>
<path d="M197.03 67.5v22.0M205.33 67.5v22.0M208.33 67.5v22.0M368.93 67.5v22.0M390.03 155.5v22.0" stroke="#d8c8a0" stroke-width="2.06"/>
<path d="M198.83 111.5v22.0M354.53 67.5v22.0M370.73 155.5v22.0M395.73 155.5v22.0" stroke="#d8c8a0" stroke-width="1.66"/>
<path d="M206.83 67.5v22.0M265.83 155.5v22.0M267.53 45.5v22.0M268.53 45.5v22.0M286.43 155.5v22.0M306.83 155.5v22.0M307.83 45.5v22.0M311.43 155.5v22.0M313.43 155.5v22.0M322.53 45.5v22.0M330.43 45.5v22.0M348.63 155.5v22.0M351.63 67.5v22.0M365.43 67.5v22.0M367.43 67.5v22.0M382.83 67.5v22.0M394.43 67.5v22.0M404.63 67.5v22.0M416.33 45.5v22.0M419.63 45.5v22.0M419.63 67.5v22.0M422.63 111.5v22.0M425.93 45.5v22.0M425.93 67.5v22.0" stroke="#d8c8a0" stroke-width="1.06"/>
<path d="M209.48 111.5v22.0M209.48 155.5v22.0" stroke="#d8c8a0" stroke-width="0.36"/>
<path d="M266.68 45.5v22.0M283.28 155.5v22.0M315.28 45.5v22.0M319.68 45.5v22.0M344.78 155.5v22.0M378.98 67.5v22.0M386.68 67.5v22.0" stroke="#d8c8a0" stroke-width="0.76"/>
<path d="M281.28 155.5v22.0M294.18 45.5v22.0M295.48 45.5v22.0M305.68 45.5v22.0M321.38 155.5v22.0M391.68 67.5v22.0" stroke="#d8c8a0" stroke-width="1.36"/>
<path d="M356.08 67.5v22.0" stroke="#d8c8a0" stroke-width="1.56"/>
<path d="M408.28 155.5v22.0" stroke="#d8c8a0" stroke-width="0.16"/>
<path d="M198.83 45.5v22.0M285.13 67.5v22.0M370.73 111.5v22.0" stroke="#d3442a" stroke-width="1.66"/>
<path d="M203.83 45.5v22.0M206.83 45.5v22.0M289.43 67.5v22.0M304.53 67.5v22.0M306.83 67.5v22.0M313.43 67.5v22.0M314.43 67.5v22.0M318.83 67.5v22.0M329.43 67.5v22.0M367.43 111.5v22.0M372.73 111.5v22.0M375.43 111.5v22.0M376.43 111.5v22.0M381.83 111.5v22.0M382.83 111.5v22.0M425.93 155.5v22.0" stroke="#d3442a" stroke-width="1.06"/>
<path d="M266.68 67.5v22.0M278.28 67.5v22.0M283.28 67.5v22.0M283.98 67.5v22.0M315.98 67.5v22.0M319.68 67.5v22.0M344.78 89.5v22.0M378.98 111.5v22.0M406.18 111.5v22.0" stroke="#d3442a" stroke-width="0.76"/>
<path d="M271.28 67.5v22.0M288.28 67.5v22.0M294.18 67.5v22.0M316.98 67.5v22.0M321.38 67.5v22.0M384.68 111.5v22.0M391.68 111.5v22.0" stroke="#d3442a" stroke-width="1.36"/>
<path d="M274.93 67.5v22.0M279.63 67.5v22.0M292.53 67.5v22.0M301.43 67.5v22.0M346.13 89.5v22.0M350.13 89.5v22.0M388.03 111.5v22.0M411.73 133.5v22.0" stroke="#d3442a" stroke-width="2.06"/>
<path d="M205.33 45.5v22.0M276.93 67.5v22.0M368.93 111.5v22.0M380.33 111.5v22.0M390.03 111.5v22.0M421.13 155.5v22.0" stroke="#c8321f" stroke-width="2.06"/>
<path d="M209.48 45.5v22.0" stroke="#c8321f" stroke-width="0.36"/>
<path d="M267.53 67.5v22.0M268.53 67.5v22.0M282.43 67.5v22.0M286.43 67.5v22.0M307.83 67.5v22.0M311.43 67.5v22.0M322.53 67.5v22.0M323.53 67.5v22.0M330.43 67.5v22.0M334.03 67.5v22.0M348.63 89.5v22.0M351.63 89.5v22.0M366.43 111.5v22.0M374.43 111.5v22.0M394.43 111.5v22.0M403.63 111.5v22.0M404.63 111.5v22.0M407.73 111.5v22.0M416.33 155.5v22.0M419.63 155.5v22.0M422.63 155.5v22.0" stroke="#c8321f" stroke-width="1.06"/>
<path d="M290.73 67.5v22.0M303.23 67.5v22.0M310.13 67.5v22.0M328.13 67.5v22.0M332.73 67.5v22.0M352.93 89.5v22.0M395.73 111.5v22.0" stroke="#c8321f" stroke-width="1.66"/>
<path d="M300.08 67.5v22.0M317.98 67.5v22.0M364.58 111.5v22.0M378.28 111.5v22.0" stroke="#c8321f" stroke-width="0.76"/>
<path d="M305.68 67.5v22.0" stroke="#c8321f" stroke-width="1.36"/>
<path d="M356.08 89.5v22.0" stroke="#c8321f" stroke-width="1.56"/>
<path d="M408.28 111.5v22.0" stroke="#c8321f" stroke-width="0.16"/>
<path d="M265.83 133.5v22.0M268.53 133.5v22.0M306.83 133.5v22.0M307.83 133.5v22.0M323.53 133.5v22.0M365.43 133.5v22.0M366.43 133.5v22.0M374.43 133.5v22.0M382.83 133.5v22.0" stroke="#4a9ad8" stroke-width="1.06"/>
<path d="M269.83 133.5v22.0M290.73 133.5v22.0M303.23 133.5v22.0M310.13 133.5v22.0M332.73 133.5v22.0M370.73 133.5v22.0M393.13 133.5v22.0" stroke="#4a9ad8" stroke-width="1.66"/>
<path d="M272.93 133.5v22.0M279.63 133.5v22.0M402.13 133.5v22.0" stroke="#4a9ad8" stroke-width="2.06"/>
<path d="M281.28 133.5v22.0M288.28 133.5v22.0M305.68 133.5v22.0M325.68 133.5v22.0" stroke="#4a9ad8" stroke-width="1.36"/>
<path d="M283.28 133.5v22.0M317.98 133.5v22.0M378.98 133.5v22.0M386.68 133.5v22.0M405.48 133.5v22.0" stroke="#4a9ad8" stroke-width="0.76"/>
<path d="M266.68 133.5v22.0M278.28 133.5v22.0M315.28 133.5v22.0M315.98 133.5v22.0M319.68 133.5v22.0M320.38 133.5v22.0M371.88 133.5v22.0M406.18 133.5v22.0M406.88 133.5v22.0" stroke="#62ace2" stroke-width="0.76"/>
<path d="M271.28 133.5v22.0M295.48 133.5v22.0M316.98 133.5v22.0M321.38 133.5v22.0M384.68 133.5v22.0" stroke="#62ace2" stroke-width="1.36"/>
<path d="M274.93 133.5v22.0M276.93 133.5v22.0M292.53 133.5v22.0M301.43 133.5v22.0M380.33 133.5v22.0M388.03 133.5v22.0M390.03 133.5v22.0" stroke="#62ace2" stroke-width="2.06"/>
<path d="M282.43 133.5v22.0M286.43 133.5v22.0M289.43 133.5v22.0M304.53 133.5v22.0M311.43 133.5v22.0M313.43 133.5v22.0M314.43 133.5v22.0M318.83 133.5v22.0M324.53 133.5v22.0M330.43 133.5v22.0M331.43 133.5v22.0M334.03 133.5v22.0M367.43 133.5v22.0M372.73 133.5v22.0M375.43 133.5v22.0M376.43 133.5v22.0M377.43 133.5v22.0M394.43 133.5v22.0" stroke="#62ace2" stroke-width="1.06"/>
<path d="M296.93 133.5v22.0M328.13 133.5v22.0M395.73 133.5v22.0" stroke="#62ace2" stroke-width="1.66"/>
<path d="M267.53 133.5v22.0M308.83 133.5v22.0M312.43 133.5v22.0M322.53 133.5v22.0M326.83 133.5v22.0M329.43 133.5v22.0M381.83 133.5v22.0M385.83 133.5v22.0M400.63 133.5v22.0M403.63 133.5v22.0M404.63 133.5v22.0M407.73 133.5v22.0" stroke="#88c0e4" stroke-width="1.06"/>
<path d="M283.98 133.5v22.0M287.28 133.5v22.0M300.08 133.5v22.0M364.58 133.5v22.0M373.58 133.5v22.0M378.28 133.5v22.0M383.68 133.5v22.0" stroke="#88c0e4" stroke-width="0.76"/>
<path d="M285.13 133.5v22.0M399.33 133.5v22.0" stroke="#88c0e4" stroke-width="1.66"/>
<path d="M294.18 133.5v22.0M391.68 133.5v22.0" stroke="#88c0e4" stroke-width="1.36"/>
<path d="M298.73 133.5v22.0M368.93 133.5v22.0M397.53 133.5v22.0" stroke="#88c0e4" stroke-width="2.06"/>
<path d="M408.28 133.5v22.0" stroke="#88c0e4" stroke-width="0.16"/>
<rect x="164.5" y="45.5" width="4.3" height="132.0" fill="none" stroke="#4a4a4a" stroke-width="0.7"/>
<rect x="170.6" y="45.5" width="5.9" height="132.0" fill="none" stroke="#4a4a4a" stroke-width="0.7"/>
<rect x="178.0" y="45.5" width="15.2" height="132.0" fill="none" stroke="#4a4a4a" stroke-width="0.7"/>
<rect x="195.0" y="45.5" width="14.6" height="132.0" fill="none" stroke="#4a4a4a" stroke-width="0.7"/>
<rect x="211.0" y="45.5" width="4.5" height="132.0" fill="none" stroke="#4a4a4a" stroke-width="0.7"/>
<rect x="217.2" y="45.5" width="5.2" height="132.0" fill="none" stroke="#4a4a4a" stroke-width="0.7"/>
<rect x="224.0" y="45.5" width="6.7" height="132.0" fill="none" stroke="#4a4a4a" stroke-width="0.7"/>
<rect x="232.3" y="45.5" width="4.7" height="132.0" fill="none" stroke="#4a4a4a" stroke-width="0.7"/>
<rect x="238.7" y="45.5" width="17.3" height="132.0" fill="none" stroke="#4a4a4a" stroke-width="0.7"/>
<rect x="257.2" y="45.5" width="6.5" height="132.0" fill="none" stroke="#4a4a4a" stroke-width="0.7"/>
<rect x="265.3" y="45.5" width="69.2" height="132.0" fill="none" stroke="#4a4a4a" stroke-width="0.7"/>
<rect x="336.0" y="45.5" width="6.8" height="132.0" fill="none" stroke="#4a4a4a" stroke-width="0.7"/>
<rect x="344.4" y="45.5" width="12.4" height="132.0" fill="none" stroke="#4a4a4a" stroke-width="0.7"/>
<rect x="358.3" y="45.5" width="4.3" height="132.0" fill="none" stroke="#4a4a4a" stroke-width="0.7"/>
<rect x="364.2" y="45.5" width="44.1" height="132.0" fill="none" stroke="#4a4a4a" stroke-width="0.7"/>
<rect x="410.0" y="45.5" width="4.5" height="132.0" fill="none" stroke="#4a4a4a" stroke-width="0.7"/>
<rect x="415.8" y="45.5" width="10.6" height="132.0" fill="none" stroke="#4a4a4a" stroke-width="0.7"/>
<text x="162" y="56.8" font-size="12" text-anchor="end" >D0</text>
<text x="162" y="78.8" font-size="12" text-anchor="end" >D1</text>
<text x="162" y="100.8" font-size="12" text-anchor="end" >D2</text>
<text x="162" y="122.8" font-size="12" text-anchor="end" >D3</text>
<text x="162" y="144.8" font-size="12" text-anchor="end" >D13</text>
<text x="162" y="166.8" font-size="12" text-anchor="end" >D4</text>
<text x="167" y="182.9" font-size="7" fill="#333" text-anchor="middle" >M1</text>
<text x="186" y="182.9" font-size="7" fill="#333" text-anchor="middle" >M3</text>
<text x="201" y="182.9" font-size="7" fill="#333" text-anchor="middle" >M4</text>
<text x="247" y="182.9" font-size="7" fill="#333" text-anchor="middle" >M9</text>
<text x="291.7" y="182.9" font-size="7" fill="#333" text-anchor="middle" >M11</text>
<text x="338" y="182.9" font-size="7" fill="#333" text-anchor="middle" >M12</text>
<text x="421" y="182.9" font-size="7" fill="#333" text-anchor="middle" >M17</text>
<text x="286" y="194" font-size="8.4" fill="#333" text-anchor="middle" textLength="98.0" lengthAdjust="spacingAndGlyphs" >Enhancer spatial specificity</text>
<defs><linearGradient id="gb" x1="0" x2="1" y1="0" y2="0"><stop offset="0" stop-color="#2a68b8"/><stop offset="0.25" stop-color="#5cb0e0"/><stop offset="0.5" stop-color="#e6dcb8"/><stop offset="0.75" stop-color="#f0923e"/><stop offset="1" stop-color="#b8261c"/></linearGradient></defs>
<rect x="257.7" y="200.8" width="50" height="7.7" fill="url(#gb)" />
<line x1="258.50" y1="200.80" x2="258.50" y2="202.30" stroke="#fff" stroke-width="0.6" />
<line x1="258.50" y1="207.00" x2="258.50" y2="208.50" stroke="#fff" stroke-width="0.6" />
<line x1="307.00" y1="200.80" x2="307.00" y2="202.30" stroke="#fff" stroke-width="0.6" />
<line x1="307.00" y1="207.00" x2="307.00" y2="208.50" stroke="#fff" stroke-width="0.6" />
<text x="258" y="213" font-size="7.8" text-anchor="middle" >−3</text>
<text x="282.3" y="213" font-size="7.8" text-anchor="middle" >0</text>
<text x="307" y="213" font-size="7.8" text-anchor="middle" >3</text>
<text x="431.6" y="8" font-size="13.2" fill="#111" font-weight="bold" >c</text>
<text x="551" y="8" font-size="9.6" text-anchor="middle" font-weight="bold" textLength="88.0" lengthAdjust="spacingAndGlyphs" >Divergent regulation</text>
<text x="551.5" y="19.5" font-size="8.6" text-anchor="middle" textLength="156.5" lengthAdjust="spacingAndGlyphs" >(more than one spatial enhancer units)</text>
<text x="488.7" y="35.6" font-size="6.4" text-anchor="middle" font-weight="bold" textLength="52.5" lengthAdjust="spacingAndGlyphs" >Spatial patterns</text>
<text x="607" y="35.6" font-size="6.4" text-anchor="middle" font-weight="bold" textLength="56.5" lengthAdjust="spacingAndGlyphs" >Enhancer cluster</text>
<text x="671.5" y="35.6" font-size="6.4" text-anchor="middle" font-weight="bold" textLength="17.0" lengthAdjust="spacingAndGlyphs" >Gene</text>
<text x="444.5" y="53.4" font-size="6.8" fill="#333" text-anchor="middle" >D1</text>
<text x="444.5" y="81.2" font-size="6.8" fill="#333" text-anchor="middle" >D2</text>
<line x1="447.00" y1="62.70" x2="473.40" y2="62.70" stroke="#2a2a2a" stroke-width="1.5" />
<line x1="477.00" y1="62.70" x2="502.00" y2="62.70" stroke="#2a2a2a" stroke-width="1.5" />
<line x1="505.00" y1="62.70" x2="531.40" y2="62.70" stroke="#2a2a2a" stroke-width="1.5" />
<line x1="447.00" y1="88.60" x2="473.40" y2="88.60" stroke="#2a2a2a" stroke-width="1.5" />
<line x1="477.00" y1="88.60" x2="502.00" y2="88.60" stroke="#2a2a2a" stroke-width="1.5" />
<line x1="505.00" y1="88.60" x2="531.40" y2="88.60" stroke="#2a2a2a" stroke-width="1.5" />
<path d="M452.85,62.00 L460.60,45.70 L468.35,62.00 Z" fill="#d65f6e" stroke="none" stroke-width="1" />
<path d="M480.95,62.00 L488.20,45.70 L495.45,62.00 Z" fill="#94d3a6" stroke="none" stroke-width="1" />
<path d="M452.85,88.00 L460.60,71.70 L468.35,88.00 Z" fill="#d65f6e" stroke="none" stroke-width="1" />
<path d="M512.50,88.00 L520.50,71.70 L528.50,88.00 Z" fill="#1a8fd0" stroke="none" stroke-width="1" />
<text x="459.7" y="96.7" font-size="9" fill="#d65f6e" text-anchor="middle" textLength="13.5" lengthAdjust="spacingAndGlyphs" >M1</text>
<text x="488" y="96.7" font-size="9" fill="#94d3a6" text-anchor="middle" textLength="13.5" lengthAdjust="spacingAndGlyphs" >M2</text>
<text x="520.5" y="96.7" font-size="9" fill="#1a8fd0" text-anchor="middle" textLength="13.5" lengthAdjust="spacingAndGlyphs" >M3</text>
<path d="M540.70,71.10 L547.50,71.10 L547.50,69.10 L551.50,72.70 L547.50,76.30 L547.50,74.30 L540.70,74.30 Z" fill="#1f3a66" stroke="none" stroke-width="1" />
<line x1="551.50" y1="62.70" x2="647.50" y2="62.70" stroke="#2a2a2a" stroke-width="1.5" />
<line x1="551.50" y1="88.60" x2="647.50" y2="88.60" stroke="#2a2a2a" stroke-width="1.5" />
<path d="M562.90,62.00 L567.90,45.70 L572.90,62.00 Z" fill="#d65f6e" stroke="none" stroke-width="1" />
<path d="M580.00,62.00 L585.00,45.70 L590.00,62.00 Z" fill="#94d3a6" stroke="none" stroke-width="1" />
<path d="M632.00,62.00 L637.00,45.70 L642.00,62.00 Z" fill="#94d3a6" stroke="none" stroke-width="1" />
<path d="M562.90,88.00 L567.90,71.70 L572.90,88.00 Z" fill="#d65f6e" stroke="none" stroke-width="1" />
<path d="M597.05,88.00 L602.30,71.70 L607.55,88.00 Z" fill="#1a8fd0" stroke="none" stroke-width="1" />
<path d="M615.75,88.00 L621.00,71.70 L626.25,88.00 Z" fill="#1a8fd0" stroke="none" stroke-width="1" />
<path d="M646.00,71.10 L652.70,71.10 L652.70,69.10 L656.70,72.70 L652.70,76.30 L652.70,74.30 L646.00,74.30 Z" fill="#1f3a66" stroke="none" stroke-width="1" />
<line x1="661.50" y1="38.70" x2="661.50" y2="89.00" stroke="#444" stroke-width="1.1" />
<line x1="661.50" y1="50.30" x2="670.00" y2="50.30" stroke="#555" stroke-width="0.8" />
<ellipse cx="676" cy="50.3" rx="7" ry="1.8" fill="#555"/>
<line x1="661.50" y1="81.20" x2="670.00" y2="81.20" stroke="#555" stroke-width="0.8" />
<ellipse cx="676" cy="81.2" rx="7" ry="1.8" fill="#555"/>
<line x1="557.30" y1="102.50" x2="679.00" y2="102.50" stroke="#3d4a60" stroke-width="3" />
<rect x="566.1" y="97.6" width="6.6" height="10" fill="#d65f6e" rx="1.8"/>
<rect x="582.5" y="97.6" width="6.6" height="10" fill="#94d3a6" rx="1.8"/>
<rect x="600.4" y="97.6" width="6.6" height="10" fill="#1a8fd0" rx="1.8"/>
<rect x="617.9" y="97.6" width="6.6" height="10" fill="#1a8fd0" rx="1.8"/>
<rect x="634.7" y="97.6" width="6.6" height="10" fill="#94d3a6" rx="1.8"/>
<rect x="657" y="96.8" width="18.5" height="11.5" fill="#4c4c4c" rx="1.5"/>
<path d="M660.5,96.8 L660.5,92.6 L670,92.6" fill="none" stroke="#444" stroke-width="0.9" />
<path d="M668.5,90.8 L671.2,92.6 L668.5,94.4" fill="none" stroke="#444" stroke-width="0.9" />
<text x="551" y="120" font-size="9.6" text-anchor="middle" font-weight="bold" textLength="88.0" lengthAdjust="spacingAndGlyphs" >Coherent regulation</text>
<text x="551" y="131.5" font-size="8.6" text-anchor="middle" textLength="136.0" lengthAdjust="spacingAndGlyphs" >(only one spatial enhancer units)</text>
<text x="486.7" y="146.2" font-size="6.4" text-anchor="middle" font-weight="bold" textLength="52.5" lengthAdjust="spacingAndGlyphs" >Spatial patterns</text>
<text x="579.2" y="146.2" font-size="6.4" text-anchor="middle" font-weight="bold" textLength="58.0" lengthAdjust="spacingAndGlyphs" >Enhancer cluster</text>
<text x="642.7" y="146.2" font-size="6.4" text-anchor="middle" font-weight="bold" textLength="17.0" lengthAdjust="spacingAndGlyphs" >Gene</text>
<text x="470" y="167" font-size="6.8" fill="#333" text-anchor="middle" >D1</text>
<text x="470" y="191.8" font-size="6.8" fill="#333" text-anchor="middle" >D2</text>
<line x1="476.50" y1="174.00" x2="502.00" y2="174.00" stroke="#2a2a2a" stroke-width="1.5" />
<line x1="476.50" y1="200.30" x2="502.00" y2="200.30" stroke="#2a2a2a" stroke-width="1.5" />
<path d="M482.85,173.40 L489.60,157.40 L496.35,173.40 Z" fill="#d65f6e" stroke="none" stroke-width="1" />
<path d="M482.85,199.60 L489.60,183.10 L496.35,199.60 Z" fill="#d65f6e" stroke="none" stroke-width="1" />
<text x="489.2" y="210" font-size="9" fill="#d65f6e" text-anchor="middle" textLength="12.5" lengthAdjust="spacingAndGlyphs" >M1</text>
<path d="M509.70,183.20 L516.60,183.20 L516.60,181.20 L520.60,184.80 L516.60,188.40 L516.60,186.40 L509.70,186.40 Z" fill="#1f3a66" stroke="none" stroke-width="1" />
<line x1="523.00" y1="174.00" x2="619.00" y2="174.00" stroke="#2a2a2a" stroke-width="1.5" />
<line x1="523.00" y1="200.30" x2="619.00" y2="200.30" stroke="#2a2a2a" stroke-width="1.5" />
<path d="M535.00,173.40 L540.00,157.40 L545.00,173.40 Z" fill="#d65f6e" stroke="none" stroke-width="1" />
<path d="M535.00,199.60 L540.00,183.10 L545.00,199.60 Z" fill="#d65f6e" stroke="none" stroke-width="1" />
<path d="M551.20,173.40 L556.20,157.40 L561.20,173.40 Z" fill="#d65f6e" stroke="none" stroke-width="1" />
<path d="M551.20,199.60 L556.20,183.10 L561.20,199.60 Z" fill="#d65f6e" stroke="none" stroke-width="1" />
<path d="M569.00,173.40 L574.00,157.40 L579.00,173.40 Z" fill="#d65f6e" stroke="none" stroke-width="1" />
<path d="M569.00,199.60 L574.00,183.10 L579.00,199.60 Z" fill="#d65f6e" stroke="none" stroke-width="1" />
<path d="M587.50,173.40 L592.50,157.40 L597.50,173.40 Z" fill="#d65f6e" stroke="none" stroke-width="1" />
<path d="M587.50,199.60 L592.50,183.10 L597.50,199.60 Z" fill="#d65f6e" stroke="none" stroke-width="1" />
<path d="M603.40,173.40 L608.40,157.40 L613.40,173.40 Z" fill="#d65f6e" stroke="none" stroke-width="1" />
<path d="M603.40,199.60 L608.40,183.10 L613.40,199.60 Z" fill="#d65f6e" stroke="none" stroke-width="1" />
<path d="M618.00,183.20 L625.00,183.20 L625.00,181.20 L629.00,184.80 L625.00,188.40 L625.00,186.40 L618.00,186.40 Z" fill="#1f3a66" stroke="none" stroke-width="1" />
<line x1="633.50" y1="150.00" x2="633.50" y2="200.50" stroke="#444" stroke-width="0.8" />
<line x1="633.50" y1="162.80" x2="641.00" y2="162.80" stroke="#555" stroke-width="0.8" />
<ellipse cx="647.5" cy="162.8" rx="7" ry="1.8" fill="#555"/>
<line x1="633.50" y1="191.40" x2="641.00" y2="191.40" stroke="#555" stroke-width="0.8" />
<ellipse cx="647.5" cy="191.4" rx="7" ry="1.8" fill="#555"/>
<line x1="529.50" y1="213.00" x2="656.00" y2="213.00" stroke="#3d4a60" stroke-width="3" />
<rect x="537.8" y="208" width="6.4" height="10" fill="#d65f6e" rx="1.8"/>
<rect x="552.8" y="208" width="6.4" height="10" fill="#d65f6e" rx="1.8"/>
<rect x="571.5" y="208" width="6.4" height="10" fill="#d65f6e" rx="1.8"/>
<rect x="589.3" y="208" width="6.4" height="10" fill="#d65f6e" rx="1.8"/>
<rect x="606.3" y="208" width="6.4" height="10" fill="#d65f6e" rx="1.8"/>
<rect x="627.7" y="208" width="18.6" height="11.6" fill="#4c4c4c" rx="1.5"/>
<path d="M631,208 L631,203.8 L640.5,203.8" fill="none" stroke="#444" stroke-width="0.9" />
<path d="M639,202 L641.7,203.8 L639,205.6" fill="none" stroke="#444" stroke-width="0.9" />
<text x="3.7" y="231.7" font-size="13.2" fill="#111" font-weight="bold" >d</text>
<text x="54.2" y="245" font-size="12.2" font-weight="bold" textLength="175.0" lengthAdjust="spacingAndGlyphs" >Enhancer cluster regulation</text>
<line x1="57.80" y1="271.50" x2="57.80" y2="478.10" stroke="#444" stroke-width="0.9" />
<line x1="57.80" y1="478.10" x2="221.40" y2="478.10" stroke="#444" stroke-width="0.9" />
<text x="53.5" y="305.8" font-size="10.5" fill="#777" text-anchor="end" >4000</text>
<line x1="55.80" y1="306.60" x2="57.80" y2="306.60" stroke="#555" stroke-width="0.6" />
<text x="53.5" y="346.4" font-size="10.5" fill="#777" text-anchor="end" >3000</text>
<line x1="55.80" y1="347.20" x2="57.80" y2="347.20" stroke="#555" stroke-width="0.6" />
<text x="53.5" y="386.6" font-size="10.5" fill="#777" text-anchor="end" >2000</text>
<line x1="55.80" y1="387.40" x2="57.80" y2="387.40" stroke="#555" stroke-width="0.6" />
<text x="53.5" y="427.3" font-size="10.5" fill="#777" text-anchor="end" >1000</text>
<line x1="55.80" y1="428.10" x2="57.80" y2="428.10" stroke="#555" stroke-width="0.6" />
<text x="53.5" y="467.8" font-size="10.5" fill="#777" text-anchor="end" >0</text>
<line x1="55.80" y1="468.60" x2="57.80" y2="468.60" stroke="#555" stroke-width="0.6" />
<rect x="63.8" y="281.2" width="8.2" height="187.4" fill="#d05444" />
<text x="67.9" y="486.9" font-size="11.5" fill="#555" text-anchor="middle" >1</text>
<rect x="79.8" y="280" width="8.2" height="188.6" fill="#4aa8c0" />
<text x="83.9" y="486.9" font-size="11.5" fill="#555" text-anchor="middle" >2</text>
<rect x="95.8" y="426.6" width="8.2" height="42" fill="#2f8f78" />
<text x="99.9" y="486.9" font-size="11.5" fill="#555" text-anchor="middle" >3</text>
<rect x="111.8" y="444.5" width="8.2" height="24.1" fill="#3f5288" />
<text x="115.9" y="486.9" font-size="11.5" fill="#555" text-anchor="middle" >4</text>
<rect x="127.8" y="454.7" width="8.2" height="13.9" fill="#e58a7c" />
<text x="131.9" y="486.9" font-size="11.5" fill="#555" text-anchor="middle" >5</text>
<rect x="143.8" y="461.3" width="8.2" height="7.3" fill="#7a8cbc" />
<text x="147.9" y="486.9" font-size="11.5" fill="#555" text-anchor="middle" >6</text>
<rect x="159.8" y="463.9" width="8.2" height="4.7" fill="#86cab8" />
<text x="163.9" y="486.9" font-size="11.5" fill="#555" text-anchor="middle" >7</text>
<rect x="175.8" y="467.1" width="8.2" height="1.5" fill="#c8283a" />
<text x="179.9" y="486.9" font-size="11.5" fill="#555" text-anchor="middle" >8</text>
<rect x="191.8" y="468" width="8.2" height="0.6" fill="#8a6a50" />
<text x="195.9" y="486.9" font-size="11.5" fill="#555" text-anchor="middle" >9</text>
<rect x="207.8" y="468" width="8.2" height="0.6" fill="#d8d8e8" />
<text x="211.9" y="486.9" font-size="11.5" fill="#555" text-anchor="middle" >10</text>
<text x="67.5" y="275.3" font-size="6.4" text-anchor="middle" >4598</text>
<text x="83.6" y="274.8" font-size="6.4" text-anchor="middle" >4629</text>
<text x="100.3" y="421" font-size="6.4" text-anchor="middle" >1030</text>
<text x="116" y="438.9" font-size="6.4" text-anchor="middle" >592</text>
<text x="132.2" y="449" font-size="6.4" text-anchor="middle" >341</text>
<text x="148" y="455.3" font-size="6.4" text-anchor="middle" >179</text>
<text x="164" y="457.8" font-size="6.4" text-anchor="middle" >115</text>
<text x="180" y="461.3" font-size="6.4" text-anchor="middle" >38</text>
<text x="195.9" y="462.7" font-size="6.4" text-anchor="middle" >14</text>
<text x="211.8" y="463" font-size="6.4" text-anchor="middle" >2</text>
<text x="134" y="499.8" font-size="10.6" text-anchor="middle" textLength="130.0" lengthAdjust="spacingAndGlyphs" >Number of enhancer units</text>
<text x="135.7" y="513" font-size="10.6" text-anchor="middle" textLength="117.5" lengthAdjust="spacingAndGlyphs" >within enhancer clusters</text>
<text x="21.2" y="382.2" font-size="11.6" text-anchor="middle" textLength="150.0" lengthAdjust="spacingAndGlyphs" transform="rotate(-90 21.2 382.2)" >Number of enhancer clusters</text>
<circle cx="187.5" cy="303.5" r="36.5" fill="#b5432f"/>
<path d="M187.5,303.5 L187.5,267.0 A36.5,36.5 0 0 1 209.14,332.89 Z" fill="#2d72b0" stroke="none" stroke-width="1" />
<text x="203.6" y="291.8" font-size="6" fill="#fff" text-anchor="middle" >4598</text>
<text x="203.6" y="299.7" font-size="6" fill="#fff" text-anchor="middle" >(39.9%)</text>
<text x="168.9" y="299.7" font-size="6" fill="#fff" text-anchor="middle" >6940</text>
<text x="168.9" y="307.2" font-size="6" fill="#fff" text-anchor="middle" >(60.1%)</text>
<rect x="134.9" y="346.5" width="10" height="10.1" fill="#b5432f" />
<rect x="134.9" y="358.1" width="10" height="10.2" fill="#2d72b0" />
<text x="149.6" y="351.2" font-size="9.9" textLength="86.4" lengthAdjust="spacingAndGlyphs" >Divergent regulation</text>
<text x="149.6" y="362.2" font-size="9.9" textLength="86.4" lengthAdjust="spacingAndGlyphs" >Coherent regulation</text>
<text x="271.5" y="232.2" font-size="13.2" fill="#111" font-weight="bold" >e</text>
<text x="395.2" y="232.2" font-size="9" text-anchor="middle" textLength="89.0" lengthAdjust="spacingAndGlyphs" >denoised accessibility</text>
<defs><linearGradient id="gpink" x1="0" x2="1"><stop offset="0" stop-color="#f6eeee"/><stop offset="0.5" stop-color="#f0a8c0"/><stop offset="1" stop-color="#c0288a"/></linearGradient><linearGradient id="gteal" x1="0" x2="1"><stop offset="0" stop-color="#f4f1ec"/><stop offset="0.45" stop-color="#a8d4c0"/><stop offset="0.75" stop-color="#3a90a8"/><stop offset="1" stop-color="#1c3f80"/></linearGradient></defs>
<rect x="368.7" y="237.2" width="38.3" height="6.5" fill="url(#gpink)" />
<text x="371.7" y="252.5" font-size="6.8" text-anchor="middle" >0</text>
<text x="404.3" y="252.5" font-size="6.8" text-anchor="middle" >1</text>
<text x="578" y="230" font-size="9" text-anchor="middle" textLength="111.0" lengthAdjust="spacingAndGlyphs" >denoised gene expression</text>
<rect x="548.8" y="238.2" width="37.5" height="6.6" fill="url(#gteal)" />
<text x="552.3" y="251.4" font-size="6.8" text-anchor="middle" >0</text>
<text x="583.6" y="251.4" font-size="6.8" text-anchor="middle" >1</text>
<text x="348" y="256.8" font-size="11.2" text-anchor="middle" textLength="21.5" lengthAdjust="spacingAndGlyphs" >M12</text>
<text x="442" y="256.8" font-size="11.2" text-anchor="middle" textLength="14.5" lengthAdjust="spacingAndGlyphs" >M3</text>
<text x="528.5" y="256.8" font-size="11.2" text-anchor="middle" textLength="14.5" lengthAdjust="spacingAndGlyphs" >M1</text>
<text x="611.8" y="256.8" font-size="11.2" fill="#555" text-anchor="middle" font-style="italic" textLength="27.0" lengthAdjust="spacingAndGlyphs" >Nrn1</text>
<rect x="321.6" y="264.8" width="66.8" height="66.6" fill="#ffffff" />
<path d="M325.9,264.8 L371.0,264.8 L378.4,271.5 L383.7,281.4 L385.7,292.1 L385.7,304.8 L382.4,316.1 L377.7,324.7 L373.7,331.4 L356.3,331.4 L360.3,320.1 L365.7,309.4 L367.7,300.8 L364.4,292.1 L357.0,285.4 L346.3,280.8 L338.3,280.8 L333.0,285.4 L331.0,278.1 L328.9,271.5 Z" fill="#e9e6e6" stroke="none" stroke-width="1" />
<path d="M321.6,316.7 L324.3,318.1 L326.9,321.4 L328.9,326.7 L330.3,331.4 L321.6,331.4 Z" fill="#e9e6e6" stroke="none" stroke-width="1" />
<path d="M379.3 307.4h1.0M336.6 277.2h1.0M380.5 281.2h1.0M351.7 278.7h1.0M322.7 317.3h1.0M381.8 306.5h1.0M359.8 272.5h1.0M369.0 318.7h1.0M366.8 329.8h1.0M374.2 288.8h1.0M346.9 270.9h1.0M335.4 270.0h1.0M377.8 277.5h1.0M373.2 279.0h1.0M366.9 329.4h1.0M380.9 301.3h1.0M365.8 273.0h1.0M367.7 281.5h1.0M367.4 297.9h1.0M364.1 266.6h1.0M371.4 274.8h1.0M348.9 273.6h1.0M358.1 325.1h1.0M379.0 287.9h1.0M354.0 273.0h1.0M327.4 330.7h1.0M366.9 322.8h1.0M362.7 276.7h1.0M378.8 293.0h1.0M378.3 277.4h1.0M359.7 325.2h1.0M372.5 292.9h1.0M348.2 269.7h1.0M360.7 330.4h1.0M357.7 270.7h1.0M380.5 306.4h1.0M336.0 273.3h1.0M325.6 323.2h1.0M362.3 290.8h1.0M369.5 296.1h1.0M369.4 266.3h1.0M366.9 286.4h1.0M371.8 316.7h1.0M369.1 329.7h1.0M368.2 326.0h1.0M345.0 269.4h1.0M334.9 279.3h1.0M374.6 284.3h1.0M361.5 271.5h1.0M378.9 302.4h1.0M340.0 271.7h1.0M346.5 267.1h1.0M370.3 315.3h1.0M370.8 304.0h1.0M346.9 266.7h1.0M337.0 272.9h1.0M380.1 294.1h1.0M349.1 281.5h1.0M338.8 272.5h1.0M353.3 275.4h1.0M338.8 281.0h1.0M345.3 268.0h1.0M355.9 280.4h1.0M369.7 315.2h1.0M363.0 277.9h1.0M381.9 299.3h1.0M358.1 328.0h1.0M344.7 271.5h1.0M379.8 300.8h1.0M324.0 329.0h1.0M358.7 330.0h1.0M343.0 274.9h1.0M365.2 266.1h1.0M344.5 276.3h1.0M360.4 326.4h1.0M381.8 303.2h1.0M370.0 313.9h1.0M380.3 285.2h1.0M343.6 277.7h1.0M379.4 279.5h1.0M361.5 288.1h1.0M366.2 326.6h1.0M365.6 274.5h1.0M348.8 272.1h1.0M357.8 273.0h1.0M377.5 283.6h1.0M367.2 284.2h1.0M374.4 293.9h1.0M361.6 281.2h1.0M369.4 293.5h1.0M351.4 266.0h1.0M380.8 303.8h1.0M370.7 271.4h1.0M345.7 270.2h1.0M348.7 269.2h1.0M367.1 266.0h1.0M347.8 271.8h1.0M380.5 299.0h1.0M355.1 267.2h1.0M384.0 297.5h1.0M359.7 274.7h1.0M339.7 267.5h1.0M362.7 266.6h1.0M337.3 279.9h1.0M360.2 276.7h1.0M378.6 295.2h1.0M366.2 309.6h1.0M381.7 301.6h1.0M323.3 318.1h1.0M373.9 281.1h1.0M370.0 315.5h1.0M368.9 274.8h1.0M375.3 291.5h1.0M377.2 295.8h1.0M383.6 302.3h1.0M382.5 309.3h1.0M379.2 303.7h1.0M376.8 306.4h1.0M366.1 278.8h1.0M377.3 316.4h1.0M375.9 302.0h1.0M344.4 271.4h1.0M368.0 265.7h1.0M360.3 281.1h1.0M376.8 291.9h1.0M367.0 266.1h1.0M324.5 324.1h1.0M367.6 308.1h1.0M370.8 267.0h1.0M380.5 310.0h1.0M368.9 285.7h1.0M345.0 280.4h1.0M338.3 269.1h1.0M348.1 268.6h1.0M362.8 274.6h1.0M377.6 296.7h1.0M346.1 267.4h1.0M376.4 298.8h1.0M368.4 323.7h1.0M322.2 328.0h1.0M369.3 290.2h1.0M374.5 309.6h1.0M369.2 287.0h1.0M367.1 274.9h1.0M358.1 327.2h1.0M364.3 277.6h1.0M368.3 280.2h1.0M370.0 324.9h1.0M352.9 271.4h1.0M367.8 328.0h1.0M323.8 325.0h1.0M323.0 330.2h1.0M373.7 297.3h1.0M371.7 282.9h1.0M323.2 330.5h1.0M367.2 294.7h1.0M384.6 299.2h1.0M369.5 287.0h1.0M383.3 285.9h1.0M353.4 280.2h1.0M379.3 305.2h1.0M369.4 274.7h1.0M325.8 330.3h1.0M365.8 291.9h1.0M372.4 326.3h1.0M365.0 328.7h1.0M360.1 285.3h1.0M376.8 286.2h1.0M362.8 280.8h1.0M380.3 283.8h1.0M363.9 266.3h1.0M374.0 271.0h1.0M372.7 330.1h1.0M364.6 285.9h1.0M368.3 320.1h1.0M359.4 280.4h1.0M375.1 296.6h1.0M356.4 283.3h1.0M362.7 273.3h1.0M377.9 316.4h1.0M380.9 290.8h1.0M381.7 309.5h1.0M381.3 289.9h1.0M372.2 327.9h1.0M341.3 271.1h1.0M379.0 281.7h1.0M361.8 328.1h1.0M377.6 313.5h1.0M372.5 294.1h1.0M366.7 318.1h1.0M365.4 291.3h1.0M380.5 303.7h1.0M362.9 266.3h1.0M367.6 313.1h1.0M356.2 265.5h1.0M357.5 330.5h1.0M343.0 268.0h1.0M370.6 282.9h1.0M363.4 281.0h1.0M365.3 271.0h1.0M366.7 294.3h1.0M378.0 288.1h1.0M359.2 330.9h1.0M371.4 289.2h1.0M365.9 275.3h1.0M378.4 293.4h1.0M367.8 289.9h1.0M351.0 272.6h1.0M369.7 276.7h1.0M374.3 281.9h1.0M360.5 285.4h1.0M381.9 282.1h1.0M354.1 271.1h1.0M361.6 282.1h1.0M377.5 273.8h1.0M359.8 269.5h1.0M363.9 317.2h1.0M333.2 269.6h1.0M382.5 284.6h1.0M359.2 266.3h1.0M377.4 279.4h1.0M375.8 278.4h1.0M377.1 274.5h1.0M355.8 271.0h1.0M365.3 284.9h1.0M379.9 310.0h1.0M341.7 273.9h1.0M364.5 326.5h1.0M350.5 278.5h1.0M335.0 278.6h1.0M378.1 273.5h1.0M379.5 318.7h1.0M370.1 276.1h1.0M368.7 299.2h1.0M334.9 271.3h1.0M368.1 294.3h1.0M330.4 275.8h1.0M368.1 312.5h1.0M343.2 275.5h1.0M364.7 310.8h1.0M331.4 277.4h1.0M348.0 267.8h1.0M364.9 279.1h1.0M356.1 270.1h1.0M334.8 283.7h1.0M359.7 285.0h1.0M328.2 265.4h1.0M374.8 312.8h1.0M370.7 272.7h1.0M347.5 267.7h1.0M369.9 288.9h1.0M327.5 265.6h1.0M376.7 285.2h1.0M369.4 300.4h1.0M343.8 271.7h1.0M372.5 276.8h1.0M360.5 277.3h1.0M366.7 311.8h1.0M321.8 323.1h1.0M325.7 322.2h1.0M364.4 329.0h1.0M354.3 282.3h1.0M341.5 268.8h1.0M373.5 309.9h1.0M372.5 287.8h1.0M365.8 317.2h1.0M381.1 293.3h1.0M341.3 274.9h1.0M352.3 267.4h1.0M380.1 292.0h1.0M337.5 279.5h1.0M331.5 276.3h1.0M379.3 317.2h1.0M369.9 314.7h1.0M354.2 268.5h1.0M372.7 288.9h1.0M382.7 291.7h1.0M373.8 296.3h1.0M382.5 306.2h1.0M377.4 292.3h1.0M377.6 273.2h1.0M367.5 285.3h1.0M370.4 273.0h1.0M340.6 279.3h1.0M377.5 281.0h1.0M382.8 290.3h1.0M364.2 322.7h1.0M361.6 324.6h1.0M371.9 294.6h1.0M360.8 267.4h1.0M364.9 281.8h1.0M362.2 277.8h1.0M361.9 266.3h1.0M363.8 314.3h1.0M358.8 286.0h1.0M367.1 292.9h1.0M368.5 316.0h1.0M353.6 270.7h1.0M356.4 281.8h1.0M350.3 274.4h1.0M369.5 300.2h1.0M378.3 276.4h1.0M361.5 273.1h1.0M374.2 323.6h1.0M334.8 265.4h1.0M371.6 323.2h1.0M362.1 286.5h1.0M361.9 317.2h1.0M368.1 308.7h1.0M358.4 279.0h1.0M361.9 271.0h1.0M366.2 271.1h1.0M343.6 277.9h1.0M372.1 279.3h1.0M371.1 270.5h1.0M362.3 284.5h1.0M346.8 275.9h1.0M371.2 314.5h1.0M372.3 281.0h1.0M323.9 321.2h1.0M343.8 269.5h1.0M351.7 279.2h1.0M379.9 312.2h1.0M364.8 313.9h1.0M356.8 270.1h1.0M373.2 272.3h1.0M362.7 320.8h1.0M365.1 285.8h1.0M338.3 271.1h1.0M383.2 288.6h1.0M370.1 289.6h1.0M338.9 265.8h1.0M353.7 272.5h1.0M381.5 293.2h1.0M334.2 282.8h1.0M353.4 279.5h1.0M346.4 269.2h1.0M363.1 271.7h1.0M352.9 282.2h1.0M372.4 308.9h1.0M380.0 286.4h1.0M378.0 308.4h1.0M367.6 266.3h1.0M376.8 285.3h1.0M334.7 269.6h1.0M353.5 269.6h1.0M377.7 314.0h1.0M371.3 267.4h1.0M371.2 276.3h1.0M373.6 281.9h1.0M371.2 276.8h1.0M368.0 303.6h1.0M366.3 289.5h1.0M360.6 281.9h1.0M367.7 269.0h1.0M382.1 294.5h1.0M327.5 329.0h1.0M363.7 323.0h1.0M347.5 273.0h1.0M335.0 281.6h1.0M364.3 276.0h1.0M338.0 276.7h1.0M380.9 316.8h1.0M352.5 270.1h1.0M378.7 286.9h1.0M371.0 320.3h1.0M341.0 266.4h1.0M373.8 295.0h1.0M322.5 326.5h1.0M343.4 269.0h1.0M351.5 277.9h1.0M343.0 280.8h1.0M363.0 281.4h1.0M368.9 322.4h1.0M369.3 285.9h1.0M383.7 301.9h1.0M366.6 267.6h1.0M377.7 308.6h1.0M355.8 274.8h1.0M368.7 313.6h1.0M381.5 309.3h1.0M374.7 311.7h1.0M380.2 295.4h1.0M369.0 290.7h1.0M371.5 291.1h1.0M377.4 310.1h1.0M373.4 282.0h1.0M324.1 330.7h1.0M371.4 315.8h1.0M332.9 275.2h1.0M383.9 296.1h1.0M345.3 269.5h1.0M325.1 321.7h1.0M380.0 303.1h1.0M322.4 328.0h1.0M361.3 269.1h1.0M322.3 322.5h1.0M359.0 268.8h1.0M331.8 279.3h1.0M350.4 267.3h1.0M366.8 304.9h1.0M374.4 324.6h1.0M373.1 300.6h1.0M375.7 280.5h1.0M369.1 272.5h1.0M342.7 276.6h1.0M369.1 330.7h1.0M378.8 288.7h1.0M350.9 274.7h1.0M372.2 304.1h1.0M354.5 280.6h1.0M346.8 269.9h1.0M376.9 307.6h1.0M376.5 301.2h1.0M373.2 296.6h1.0M362.4 275.6h1.0M366.8 306.4h1.0M364.4 284.0h1.0M362.2 318.2h1.0M383.4 290.0h1.0M369.7 293.0h1.0M368.2 277.1h1.0M341.5 270.8h1.0M367.3 276.4h1.0M380.3 317.4h1.0M364.7 294.5h1.0M366.9 275.6h1.0M365.2 287.2h1.0M359.8 329.5h1.0M362.0 265.6h1.0M349.8 270.7h1.0M368.0 265.6h1.0M379.3 305.1h1.0M379.7 318.4h1.0M323.9 320.0h1.0M373.1 278.8h1.0M372.2 310.7h1.0M367.5 328.2h1.0M376.6 318.5h1.0M378.1 282.3h1.0M350.9 267.0h1.0M373.7 323.3h1.0M361.1 322.8h1.0M361.7 328.1h1.0M336.3 282.3h1.0M362.7 328.8h1.0M342.2 269.3h1.0M356.5 278.2h1.0M355.9 273.2h1.0M358.7 271.8h1.0M344.2 271.6h1.0M329.0 328.9h1.0M384.6 295.2h1.0M372.8 326.8h1.0M365.4 276.8h1.0M368.3 311.8h1.0M349.3 279.1h1.0M371.2 280.9h1.0M340.5 271.9h1.0M380.5 310.8h1.0M356.7 277.2h1.0M336.3 279.1h1.0M380.3 299.0h1.0M332.3 275.2h1.0M374.0 273.5h1.0M358.9 271.6h1.0M369.5 280.8h1.0M376.5 303.9h1.0M324.1 326.0h1.0M371.2 287.5h1.0M340.3 267.9h1.0M336.7 279.0h1.0M351.5 281.1h1.0M367.8 308.7h1.0M343.3 267.8h1.0M334.2 282.6h1.0M365.0 266.9h1.0M373.5 317.2h1.0M374.4 281.0h1.0M333.4 274.0h1.0M365.0 282.4h1.0M374.8 271.3h1.0M358.4 326.6h1.0M376.8 300.3h1.0M358.4 330.2h1.0M365.0 273.7h1.0M379.0 300.9h1.0M351.5 271.0h1.0M369.0 313.6h1.0M340.6 275.5h1.0M363.8 312.1h1.0M337.7 267.7h1.0M355.1 272.6h1.0M370.0 272.8h1.0M359.3 280.5h1.0M368.2 321.0h1.0M351.9 280.9h1.0M364.6 293.0h1.0M368.6 296.0h1.0M365.3 295.6h1.0" stroke="#f3d0d6" stroke-width="1.0"/>
<path d="M333.7 265.6h1.0M338.6 276.6h1.0M374.3 300.8h1.0M368.7 313.4h1.0M365.8 314.0h1.0M336.7 271.0h1.0M365.8 285.0h1.0M341.7 268.3h1.0M368.5 294.0h1.0M375.1 317.9h1.0M338.9 277.3h1.0M370.9 295.0h1.0M335.5 268.5h1.0M380.8 293.6h1.0M355.8 280.5h1.0M373.9 310.5h1.0M370.3 324.0h1.0M368.5 290.1h1.0M332.9 275.1h1.0M376.7 273.4h1.0M374.1 271.1h1.0M364.8 285.3h1.0M367.9 288.9h1.0M364.9 291.5h1.0M378.5 299.7h1.0M335.6 269.1h1.0M366.2 311.6h1.0M369.5 296.9h1.0M376.7 318.7h1.0M350.9 269.7h1.0M330.7 268.6h1.0M373.4 293.6h1.0M346.2 271.8h1.0M367.7 315.5h1.0M343.1 270.0h1.0M382.8 300.8h1.0M368.1 291.1h1.0M366.1 294.7h1.0M341.8 265.7h1.0M377.6 322.8h1.0M362.5 276.7h1.0M379.1 293.3h1.0M367.5 310.1h1.0M365.2 310.3h1.0M341.2 270.5h1.0M380.8 292.2h1.0M369.8 276.6h1.0M345.4 274.6h1.0M349.8 273.5h1.0M375.0 315.3h1.0M362.4 286.2h1.0M367.0 293.6h1.0M359.3 279.8h1.0M367.4 325.7h1.0M367.3 284.5h1.0M369.6 307.8h1.0M363.6 287.8h1.0M362.6 282.5h1.0M367.0 280.8h1.0M337.8 278.2h1.0M343.6 270.5h1.0M343.8 275.1h1.0M345.4 270.4h1.0M374.6 295.7h1.0M337.6 267.1h1.0M366.0 283.0h1.0M339.9 270.9h1.0M382.6 289.2h1.0M355.7 274.3h1.0M336.8 280.3h1.0M333.5 271.4h1.0M371.0 306.8h1.0M366.4 295.7h1.0M333.1 273.2h1.0M358.8 275.2h1.0M350.8 273.0h1.0M325.9 322.5h1.0M366.6 294.6h1.0M380.5 301.6h1.0M341.0 276.8h1.0M338.7 268.9h1.0M339.6 273.5h1.0M364.8 293.5h1.0M362.6 319.7h1.0M373.2 325.9h1.0M365.1 287.0h1.0M381.9 296.1h1.0M365.4 279.0h1.0M378.0 291.6h1.0M342.2 279.7h1.0M367.4 307.3h1.0M338.4 271.7h1.0M351.2 280.8h1.0M341.1 277.9h1.0M375.8 301.0h1.0M377.3 286.3h1.0M336.7 271.8h1.0M373.9 296.2h1.0M374.0 321.2h1.0M366.1 292.3h1.0M340.5 271.5h1.0M376.5 287.0h1.0M371.3 287.9h1.0M370.6 320.8h1.0M368.6 295.8h1.0M366.8 305.2h1.0M336.9 268.0h1.0M346.9 271.3h1.0M367.3 267.4h1.0M363.8 287.6h1.0M363.7 320.8h1.0M366.7 321.5h1.0M341.3 278.7h1.0M361.4 319.1h1.0M338.4 269.9h1.0M336.4 270.4h1.0M369.1 313.0h1.0M377.4 283.9h1.0M330.4 265.9h1.0M373.4 287.9h1.0M336.8 282.0h1.0M372.9 322.6h1.0M353.4 269.6h1.0M366.3 289.7h1.0M362.2 282.6h1.0M346.5 280.4h1.0M367.8 292.9h1.0M344.7 267.4h1.0M335.8 274.6h1.0M371.8 296.7h1.0M379.2 307.1h1.0M365.2 284.5h1.0M376.9 318.0h1.0M367.5 287.6h1.0M334.9 271.8h1.0M369.5 303.2h1.0M377.8 298.3h1.0M370.7 314.9h1.0M323.0 321.9h1.0M342.2 274.3h1.0M376.0 308.1h1.0M364.5 290.0h1.0M334.4 268.5h1.0M368.3 322.8h1.0M367.2 304.7h1.0M352.3 278.6h1.0M373.4 284.3h1.0M339.0 270.2h1.0M365.4 275.6h1.0M343.6 266.9h1.0M339.2 270.7h1.0M344.6 269.3h1.0M369.3 292.4h1.0M374.6 294.1h1.0M327.7 325.4h1.0M380.2 315.1h1.0M366.6 294.4h1.0M367.9 303.7h1.0M365.3 319.1h1.0M384.5 295.3h1.0M367.3 296.4h1.0M371.7 292.5h1.0M368.5 308.5h1.0M342.5 265.8h1.0M338.0 270.2h1.0M324.1 330.3h1.0M380.1 314.4h1.0M358.8 323.0h1.0M377.3 285.3h1.0M360.9 318.5h1.0M373.2 270.5h1.0M359.4 286.5h1.0M368.1 284.9h1.0M376.0 273.9h1.0M347.7 266.1h1.0M369.7 281.3h1.0M344.6 279.5h1.0M367.1 277.2h1.0M343.1 278.1h1.0M371.7 292.9h1.0M377.4 303.6h1.0M377.6 278.3h1.0M321.9 323.3h1.0M362.3 276.9h1.0M355.3 280.9h1.0M345.1 275.3h1.0M371.2 301.4h1.0M368.4 280.4h1.0M372.1 309.2h1.0M333.1 283.4h1.0M358.4 325.2h1.0M350.1 275.4h1.0M368.0 286.1h1.0M366.9 266.3h1.0M363.6 290.3h1.0M336.8 271.5h1.0M342.5 269.8h1.0M336.6 274.2h1.0M365.7 292.7h1.0M369.1 330.4h1.0M340.8 271.4h1.0M336.1 271.5h1.0M372.7 275.5h1.0M368.1 317.2h1.0M366.9 314.8h1.0M367.3 314.1h1.0M378.7 280.9h1.0M342.0 266.7h1.0M367.9 283.7h1.0M366.0 293.1h1.0M335.7 278.1h1.0M339.6 275.5h1.0M336.1 272.5h1.0M367.4 299.7h1.0M375.2 271.2h1.0M368.7 304.2h1.0M353.8 274.0h1.0M336.7 270.8h1.0M330.4 268.8h1.0M341.3 267.9h1.0M341.2 278.6h1.0M332.1 266.1h1.0M371.2 295.3h1.0M348.5 273.8h1.0M371.6 306.0h1.0M368.5 291.7h1.0M367.7 297.3h1.0M339.7 277.6h1.0M341.6 266.2h1.0M373.9 282.1h1.0M368.1 289.4h1.0M372.5 301.6h1.0M360.9 272.4h1.0M341.5 274.7h1.0M372.5 296.0h1.0M368.0 275.5h1.0M374.5 286.0h1.0M370.0 296.5h1.0M366.4 287.8h1.0M365.7 294.0h1.0M350.5 267.9h1.0M376.2 315.3h1.0M375.3 300.8h1.0M335.4 279.7h1.0M371.2 313.3h1.0M343.0 268.0h1.0M366.2 292.2h1.0M334.8 271.1h1.0M336.3 279.9h1.0M366.2 304.6h1.0M345.9 278.8h1.0M348.2 265.4h1.0M368.8 296.8h1.0M370.5 284.9h1.0M370.5 293.9h1.0M383.3 299.2h1.0M360.9 324.7h1.0M357.3 276.3h1.0M373.9 272.9h1.0M368.8 279.8h1.0" stroke="#eba0b8" stroke-width="1.0"/>
<path d="M373.0 294.1h1.0M367.3 315.2h1.0M336.1 273.3h1.0M371.0 310.1h1.0M366.9 289.7h1.0M339.1 275.5h1.0M368.2 295.4h1.0M369.7 294.6h1.0M342.4 277.6h1.0M344.5 271.1h1.0M372.2 281.0h1.0M347.9 279.8h1.0M370.6 300.1h1.0M368.7 301.3h1.0M370.4 287.1h1.0M364.2 292.6h1.0M374.0 292.2h1.0M367.1 302.4h1.0M330.3 269.8h1.0M331.2 275.7h1.0M367.1 304.5h1.0M338.9 276.2h1.0M367.9 305.9h1.0M342.0 276.0h1.0M370.9 286.9h1.0M366.5 288.8h1.0M343.4 266.8h1.0M346.3 275.9h1.0M338.7 271.0h1.0M337.7 269.6h1.0M371.8 289.5h1.0M365.2 284.0h1.0M336.8 273.4h1.0M369.0 296.0h1.0M345.5 275.0h1.0M364.7 285.3h1.0M336.1 266.3h1.0M367.4 296.7h1.0M359.5 279.6h1.0M367.0 304.8h1.0M337.7 269.6h1.0M368.0 326.2h1.0M363.7 286.7h1.0M368.6 292.1h1.0M333.3 266.7h1.0M373.1 305.0h1.0M371.3 306.7h1.0M362.2 286.8h1.0M367.6 290.9h1.0M332.8 271.4h1.0M338.9 276.0h1.0M369.7 281.8h1.0M368.8 283.2h1.0M339.4 275.8h1.0M368.3 282.3h1.0M370.5 301.0h1.0M369.4 279.6h1.0M368.2 290.1h1.0M367.1 290.7h1.0M366.4 291.5h1.0M340.9 274.8h1.0M333.3 271.8h1.0M366.1 290.3h1.0M371.4 308.3h1.0M330.0 273.6h1.0M339.5 270.5h1.0M370.9 305.6h1.0M369.4 289.2h1.0M369.6 303.6h1.0M364.9 283.4h1.0M333.5 275.6h1.0M372.1 306.5h1.0M369.5 319.3h1.0M342.6 267.8h1.0M333.2 267.9h1.0M370.2 301.4h1.0M342.3 276.8h1.0M368.3 277.0h1.0M364.3 281.6h1.0M368.7 283.1h1.0M363.5 286.1h1.0M364.0 285.1h1.0M369.9 287.1h1.0M368.8 282.7h1.0M345.6 268.7h1.0M341.1 278.1h1.0M366.8 285.8h1.0M368.9 301.7h1.0M331.0 272.9h1.0M345.9 273.5h1.0M365.4 293.3h1.0M341.1 274.9h1.0M370.5 292.0h1.0M371.0 276.7h1.0M338.6 271.2h1.0M340.0 267.6h1.0M368.4 308.1h1.0M364.9 280.2h1.0M369.2 308.0h1.0M329.4 269.6h1.0M334.2 276.1h1.0M341.0 265.3h1.0M364.1 289.5h1.0M368.5 286.4h1.0M333.7 271.5h1.0M362.7 281.7h1.0M335.2 266.4h1.0M339.6 278.5h1.0M365.1 285.3h1.0M373.8 312.7h1.0M366.7 288.2h1.0M333.4 272.2h1.0M335.5 282.8h1.0M341.0 265.6h1.0M369.9 280.7h1.0M335.6 276.5h1.0M369.4 279.3h1.0M335.6 274.6h1.0M372.3 305.3h1.0M369.5 296.4h1.0M367.6 310.3h1.0M344.1 274.1h1.0M368.9 309.7h1.0M369.1 292.6h1.0M341.3 271.4h1.0M367.5 298.1h1.0M350.9 267.0h1.0M339.0 269.8h1.0M372.4 309.3h1.0M370.4 289.1h1.0M331.0 274.3h1.0M370.0 308.6h1.0M334.3 271.9h1.0M365.8 282.5h1.0M367.4 305.3h1.0M345.8 275.5h1.0M366.5 305.1h1.0M367.4 313.2h1.0M368.3 279.9h1.0M345.1 277.1h1.0M337.4 275.6h1.0M370.3 311.9h1.0M373.0 276.6h1.0M366.8 291.4h1.0M369.2 281.4h1.0M345.7 269.0h1.0M369.7 314.1h1.0M335.7 266.8h1.0M367.6 303.8h1.0M350.4 271.1h1.0M338.1 278.3h1.0M369.8 298.4h1.0M338.4 281.0h1.0M340.5 277.7h1.0M347.1 279.8h1.0M333.1 274.3h1.0M366.2 317.5h1.0M363.1 275.2h1.0M340.7 273.1h1.0M372.1 299.1h1.0" stroke="#d04a98" stroke-width="1.0"/>
<rect x="321.60" y="264.80" width="66.80" height="66.60" fill="none" stroke="#555" stroke-width="0.9"/>
<rect x="418" y="264.8" width="67.3" height="66.6" fill="#ffffff" />
<path d="M422.3,264.8 L467.8,264.8 L475.2,271.5 L480.6,281.4 L482.6,292.1 L482.6,304.8 L479.2,316.1 L474.5,324.7 L470.5,331.4 L453.0,331.4 L457.0,320.1 L462.4,309.4 L464.4,300.8 L461.1,292.1 L453.7,285.4 L442.9,280.8 L434.8,280.8 L429.4,285.4 L427.4,278.1 L425.4,271.5 Z" fill="#e9e6e6" stroke="none" stroke-width="1" />
<path d="M418.0,316.7 L420.7,318.1 L423.4,321.4 L425.4,326.7 L426.7,331.4 L418.0,331.4 Z" fill="#e9e6e6" stroke="none" stroke-width="1" />
<path d="M466.7 304.9h1.0M472.7 301.9h1.0M466.9 324.4h1.0M445.9 278.0h1.0M472.9 287.3h1.0M466.4 329.7h1.0M462.2 278.1h1.0M465.6 278.9h1.0M461.0 315.9h1.0M475.7 316.5h1.0M426.1 272.2h1.0M430.2 272.3h1.0M462.7 310.7h1.0M427.5 275.7h1.0M468.8 322.3h1.0M466.6 312.3h1.0M429.2 275.5h1.0M458.3 289.0h1.0M429.5 280.7h1.0M476.7 296.6h1.0M475.2 305.3h1.0M468.0 267.5h1.0M477.8 307.2h1.0M470.0 312.6h1.0M478.6 305.9h1.0M472.5 304.4h1.0M479.1 306.9h1.0M446.6 272.0h1.0M473.1 296.4h1.0M463.2 268.2h1.0M476.5 299.7h1.0M464.6 321.9h1.0M433.1 275.0h1.0M477.3 282.7h1.0M462.1 315.8h1.0M470.2 299.4h1.0M474.2 295.0h1.0M464.6 330.5h1.0M437.9 274.2h1.0M453.2 284.2h1.0M474.6 274.4h1.0M422.4 323.5h1.0M463.2 317.8h1.0M464.7 301.8h1.0M435.1 270.3h1.0M473.3 310.5h1.0M469.2 283.3h1.0M433.1 270.8h1.0M462.8 330.0h1.0M446.0 274.6h1.0M476.5 282.7h1.0M454.3 280.5h1.0M452.0 281.5h1.0M452.9 280.7h1.0M469.3 289.9h1.0M478.6 288.1h1.0M437.4 279.2h1.0M460.9 312.4h1.0M464.5 279.5h1.0M479.0 301.3h1.0M432.3 267.7h1.0M466.9 273.0h1.0M467.8 273.1h1.0M456.4 285.9h1.0M474.9 282.8h1.0M465.1 308.2h1.0M473.8 275.7h1.0M481.2 303.4h1.0M463.5 307.4h1.0M467.3 309.5h1.0M462.6 268.1h1.0M462.0 274.2h1.0M459.8 318.4h1.0M469.3 295.4h1.0M432.2 277.8h1.0M466.2 271.8h1.0M479.1 308.7h1.0M463.4 307.3h1.0M463.9 317.8h1.0M419.1 325.8h1.0M448.7 276.7h1.0M449.2 270.5h1.0M461.5 325.7h1.0M468.3 296.3h1.0M445.7 266.0h1.0M421.2 322.2h1.0M454.7 279.0h1.0M456.4 287.5h1.0M468.0 317.1h1.0M477.4 309.3h1.0M478.2 291.2h1.0M468.6 327.2h1.0M454.7 273.4h1.0M476.4 301.3h1.0M448.5 273.3h1.0M459.3 325.7h1.0M475.2 274.0h1.0M472.5 278.6h1.0M439.0 280.8h1.0M467.3 309.1h1.0M429.3 273.6h1.0M459.0 277.3h1.0M467.5 328.7h1.0M463.9 314.0h1.0M469.0 310.9h1.0M463.2 279.2h1.0M462.1 322.4h1.0M456.5 287.9h1.0M423.0 329.4h1.0M471.9 306.2h1.0M445.7 268.2h1.0M462.6 330.1h1.0M469.3 316.0h1.0M458.5 265.6h1.0M426.2 270.9h1.0M476.2 292.2h1.0M477.3 309.7h1.0M446.3 279.6h1.0M464.9 302.1h1.0M450.2 272.8h1.0M476.0 299.3h1.0M455.7 267.3h1.0M466.2 281.5h1.0M448.7 277.9h1.0M466.6 282.8h1.0M466.7 320.0h1.0M466.1 304.0h1.0M447.3 273.0h1.0M463.5 307.3h1.0M460.2 290.8h1.0M464.0 315.9h1.0M454.2 269.4h1.0M462.1 326.2h1.0M462.9 330.3h1.0M462.6 265.9h1.0M418.9 324.0h1.0M478.6 291.5h1.0M466.4 291.5h1.0M477.0 292.4h1.0M464.2 324.8h1.0M456.7 320.3h1.0M469.6 297.3h1.0M432.3 278.0h1.0M464.0 277.6h1.0M425.2 270.4h1.0M475.7 299.2h1.0M440.9 270.2h1.0M451.9 279.5h1.0M460.4 288.3h1.0M463.6 299.9h1.0M459.1 324.2h1.0M447.3 268.7h1.0M461.9 288.1h1.0M440.4 273.7h1.0M470.1 282.9h1.0M475.5 282.4h1.0M468.5 292.4h1.0M468.5 303.3h1.0M466.1 316.6h1.0M421.7 325.5h1.0M458.4 318.8h1.0M444.0 278.4h1.0M464.5 287.5h1.0M461.5 317.1h1.0M430.0 270.7h1.0M461.6 270.2h1.0M471.0 283.6h1.0M432.3 282.0h1.0M454.1 283.8h1.0M459.7 323.6h1.0M463.6 311.4h1.0M463.5 318.3h1.0M457.6 267.7h1.0M448.4 270.0h1.0M452.8 271.1h1.0M464.3 329.5h1.0M422.2 322.2h1.0M473.8 305.6h1.0M456.9 329.4h1.0M453.6 283.8h1.0M464.2 266.8h1.0M426.0 271.7h1.0M463.0 321.4h1.0M436.2 280.7h1.0M463.3 271.3h1.0M467.8 309.4h1.0M455.1 282.3h1.0M464.7 301.9h1.0M479.3 285.1h1.0M470.7 310.0h1.0M439.9 277.3h1.0M473.7 308.7h1.0M480.2 299.4h1.0M440.8 281.0h1.0M445.4 277.1h1.0M461.6 323.3h1.0M476.6 312.4h1.0M421.6 321.5h1.0M456.5 326.0h1.0M477.0 308.0h1.0M478.9 308.2h1.0M465.9 273.1h1.0M465.1 276.1h1.0M476.5 313.2h1.0M456.6 282.7h1.0M474.9 311.2h1.0M470.4 322.8h1.0M468.4 290.1h1.0M459.5 265.5h1.0M472.9 277.4h1.0M460.7 283.0h1.0M465.8 282.0h1.0M432.9 273.1h1.0M466.1 292.5h1.0M463.3 323.0h1.0M471.8 272.5h1.0M420.1 324.7h1.0M436.9 278.8h1.0M473.5 275.3h1.0M443.1 271.3h1.0M475.3 274.9h1.0M462.8 316.4h1.0M464.4 311.0h1.0M458.8 323.5h1.0M431.2 281.2h1.0M468.4 293.5h1.0M479.8 302.6h1.0M470.9 303.3h1.0M464.2 285.5h1.0M464.7 292.1h1.0M470.8 294.5h1.0M465.6 323.3h1.0M457.6 330.2h1.0M479.5 289.8h1.0M468.7 309.7h1.0M465.2 276.3h1.0M464.1 279.1h1.0M463.6 298.4h1.0M452.1 270.9h1.0M419.8 322.2h1.0M461.3 322.3h1.0M460.4 272.7h1.0M475.6 281.8h1.0M467.0 299.4h1.0M440.8 265.4h1.0M422.5 321.8h1.0M472.5 303.9h1.0M473.3 301.7h1.0M443.5 268.9h1.0M445.8 275.6h1.0M470.3 295.5h1.0M471.5 318.4h1.0M480.4 301.9h1.0M465.3 287.6h1.0M469.7 268.2h1.0M473.8 322.1h1.0M473.9 276.6h1.0M469.1 303.4h1.0M464.5 273.9h1.0M473.1 320.0h1.0M465.0 271.2h1.0M420.8 322.7h1.0M464.6 330.0h1.0M421.8 323.6h1.0M477.4 295.8h1.0M431.4 279.5h1.0M421.2 329.4h1.0M466.9 298.9h1.0M460.1 324.8h1.0M463.0 314.6h1.0M434.6 276.3h1.0M471.1 320.7h1.0M466.8 328.1h1.0M470.8 311.3h1.0M472.6 295.1h1.0M462.6 296.4h1.0M469.4 277.5h1.0M446.5 267.0h1.0M456.8 285.2h1.0M461.4 324.4h1.0M468.5 282.4h1.0M428.8 283.7h1.0M443.5 273.3h1.0M472.3 282.1h1.0M449.7 276.2h1.0M463.7 326.5h1.0M435.8 273.5h1.0M437.3 275.0h1.0M469.3 322.1h1.0M472.5 296.6h1.0M466.7 330.4h1.0M461.5 269.6h1.0M468.5 302.4h1.0M463.6 285.7h1.0M466.5 330.7h1.0M432.1 268.0h1.0M440.9 267.1h1.0M428.7 268.4h1.0M468.4 311.5h1.0M430.4 279.2h1.0M476.7 290.0h1.0M468.4 289.0h1.0M420.7 324.3h1.0M456.3 324.0h1.0M463.8 315.7h1.0M449.9 283.8h1.0M441.8 265.4h1.0M462.0 287.4h1.0M462.0 293.7h1.0M477.1 280.0h1.0M469.4 312.4h1.0M439.3 266.6h1.0M438.9 277.9h1.0M460.0 312.8h1.0M467.3 288.8h1.0M461.6 317.0h1.0M453.7 267.2h1.0M468.6 273.5h1.0M454.5 328.2h1.0M446.5 282.6h1.0M460.1 324.0h1.0M472.2 306.3h1.0M477.4 301.2h1.0M478.4 308.4h1.0M465.5 302.9h1.0M457.4 318.3h1.0M467.6 318.4h1.0M462.8 325.0h1.0M427.9 265.4h1.0M422.9 265.9h1.0M468.6 325.4h1.0M420.8 318.1h1.0M467.4 314.1h1.0M457.3 268.8h1.0M466.7 307.3h1.0M459.4 266.3h1.0M464.4 306.8h1.0M474.9 275.0h1.0M460.3 283.5h1.0M473.5 313.1h1.0M468.9 317.5h1.0M473.5 308.1h1.0M469.9 277.5h1.0M464.0 284.4h1.0M473.0 282.4h1.0M459.8 266.5h1.0M457.3 330.0h1.0M452.7 269.3h1.0M420.0 325.4h1.0M472.4 275.0h1.0M450.9 267.8h1.0M467.8 296.4h1.0M457.5 327.2h1.0M445.7 267.4h1.0M451.3 267.7h1.0M457.7 285.6h1.0M461.8 330.6h1.0M478.6 283.8h1.0M480.4 294.5h1.0M463.5 330.6h1.0M477.2 310.3h1.0M457.9 325.5h1.0M472.2 313.6h1.0M448.0 273.7h1.0M476.0 303.2h1.0M423.0 322.8h1.0M425.8 266.6h1.0M474.1 317.2h1.0M475.1 296.4h1.0M447.3 276.8h1.0M428.0 276.5h1.0M462.9 265.4h1.0M466.2 271.5h1.0M444.0 277.2h1.0M472.3 318.0h1.0M457.7 278.8h1.0M438.4 270.8h1.0M434.4 269.7h1.0M426.5 273.9h1.0M471.1 299.5h1.0M450.1 283.4h1.0M433.8 273.5h1.0M474.5 296.3h1.0M478.1 283.0h1.0M463.4 297.4h1.0M428.3 278.5h1.0M469.5 301.6h1.0M463.9 295.4h1.0M478.2 315.4h1.0M464.9 277.6h1.0M419.0 320.5h1.0M456.6 327.1h1.0M435.5 277.1h1.0M463.3 291.3h1.0M445.2 271.3h1.0M423.5 330.0h1.0M467.5 329.6h1.0M476.2 315.3h1.0M454.1 283.2h1.0M436.0 273.3h1.0M463.0 321.4h1.0M448.5 268.3h1.0M465.7 289.7h1.0M466.0 297.5h1.0M418.2 323.0h1.0M477.0 311.5h1.0M478.8 297.9h1.0M431.5 270.3h1.0M421.3 323.5h1.0M467.5 278.2h1.0M471.7 317.2h1.0M454.9 284.8h1.0M465.6 328.0h1.0M461.3 316.7h1.0M473.9 299.6h1.0M476.5 283.9h1.0M444.0 268.1h1.0M434.4 265.9h1.0M446.7 274.2h1.0M437.1 269.2h1.0M468.1 295.9h1.0M455.1 269.6h1.0M460.6 279.8h1.0M463.7 299.1h1.0M446.9 278.9h1.0M467.5 301.1h1.0M463.9 268.7h1.0M450.9 277.4h1.0M463.6 269.2h1.0M475.2 283.2h1.0M475.4 303.8h1.0M452.7 275.0h1.0M463.1 280.3h1.0M452.9 270.8h1.0M469.4 307.1h1.0M456.9 282.8h1.0M449.1 279.6h1.0M421.3 330.2h1.0M453.9 266.0h1.0M478.9 283.7h1.0M457.7 266.2h1.0M465.0 315.1h1.0M420.4 325.2h1.0M470.7 278.6h1.0M465.2 297.0h1.0M473.5 291.4h1.0M457.3 320.4h1.0M473.9 282.6h1.0M463.1 311.9h1.0M446.2 269.0h1.0M444.7 270.0h1.0M464.6 307.0h1.0M467.3 303.0h1.0M476.2 316.5h1.0M479.1 285.5h1.0M462.7 273.0h1.0M467.9 312.1h1.0M464.2 317.0h1.0M469.0 288.7h1.0M468.7 317.6h1.0M466.7 276.7h1.0M469.0 279.8h1.0M432.8 280.7h1.0M428.8 265.9h1.0M446.5 274.4h1.0M458.1 285.1h1.0M431.8 277.9h1.0M474.8 276.6h1.0M464.2 272.9h1.0M430.8 268.8h1.0M474.6 275.4h1.0M467.3 279.6h1.0M462.7 277.8h1.0M436.4 272.2h1.0M478.2 303.0h1.0M473.4 299.1h1.0M461.9 273.8h1.0M467.6 298.7h1.0M446.0 274.9h1.0M469.4 294.0h1.0M454.6 281.0h1.0M439.8 275.2h1.0M449.8 280.9h1.0M419.8 329.9h1.0M424.5 267.2h1.0M466.4 326.5h1.0M448.4 267.1h1.0M459.2 288.5h1.0M465.2 323.6h1.0M456.8 275.7h1.0M472.9 275.5h1.0M453.6 274.7h1.0M468.5 298.7h1.0M470.9 309.0h1.0M473.0 304.2h1.0M470.6 305.5h1.0M469.2 268.0h1.0M420.2 318.3h1.0M431.5 283.3h1.0M437.9 279.0h1.0M480.9 295.6h1.0M466.1 291.6h1.0M468.5 279.8h1.0M430.4 267.3h1.0M432.2 271.8h1.0M469.7 295.2h1.0M465.8 288.0h1.0M470.0 315.3h1.0M470.1 296.4h1.0M471.6 269.9h1.0M466.4 320.5h1.0M429.6 269.8h1.0M466.7 296.5h1.0M478.0 291.1h1.0M427.8 266.5h1.0M465.3 285.9h1.0M470.4 326.3h1.0M460.0 319.1h1.0M447.2 273.2h1.0M423.3 324.4h1.0M476.3 292.6h1.0M434.1 268.1h1.0M439.0 275.2h1.0M473.0 288.5h1.0M462.9 318.0h1.0M446.6 272.1h1.0M430.3 278.8h1.0M468.5 297.4h1.0M468.1 316.7h1.0M480.8 292.3h1.0M469.5 309.1h1.0M449.7 267.3h1.0M473.5 308.4h1.0M469.9 300.5h1.0M455.4 329.7h1.0M466.3 306.9h1.0M452.5 272.8h1.0M461.1 285.3h1.0M467.2 294.7h1.0M477.5 309.8h1.0M451.4 268.5h1.0M468.6 267.7h1.0M469.6 305.8h1.0M467.9 319.2h1.0M420.0 329.7h1.0M465.7 275.2h1.0M458.4 323.9h1.0M429.0 274.9h1.0M479.1 310.2h1.0M461.8 285.5h1.0" stroke="#f3ccd3" stroke-width="1.0"/>
<path d="M467.4 312.6h1.0M433.1 279.3h1.0M472.4 281.5h1.0M471.9 276.3h1.0M466.0 329.9h1.0M467.7 294.3h1.0M472.9 293.3h1.0M455.1 327.1h1.0M459.4 270.4h1.0M474.8 317.0h1.0M464.0 287.7h1.0M475.3 297.5h1.0M460.4 275.9h1.0M473.0 274.7h1.0M472.6 278.9h1.0M456.4 280.5h1.0M466.4 295.0h1.0M466.4 302.3h1.0M471.0 311.4h1.0M464.3 298.8h1.0M462.0 294.5h1.0M466.0 313.0h1.0M477.2 285.9h1.0M458.6 285.8h1.0M446.2 273.9h1.0M450.9 277.3h1.0M468.2 287.2h1.0M471.5 301.3h1.0M471.4 280.9h1.0M434.6 272.7h1.0M476.5 298.5h1.0M475.9 316.3h1.0M469.4 292.9h1.0M471.3 322.9h1.0M472.6 303.3h1.0M471.3 276.6h1.0M468.5 304.1h1.0M469.0 295.4h1.0M466.6 299.4h1.0M477.6 315.7h1.0M471.3 288.8h1.0M431.0 266.8h1.0M465.7 299.4h1.0M477.2 289.3h1.0M460.5 275.6h1.0M481.0 304.6h1.0M473.1 299.1h1.0M479.7 284.2h1.0M458.5 287.9h1.0M474.2 284.5h1.0M457.9 330.6h1.0M473.8 290.0h1.0M457.4 277.1h1.0M475.4 293.2h1.0M466.7 307.3h1.0M474.5 282.1h1.0M465.8 293.3h1.0M470.3 321.6h1.0M431.6 281.2h1.0M476.8 289.4h1.0M461.9 309.6h1.0M469.2 286.9h1.0M476.8 310.7h1.0M477.9 281.7h1.0M460.0 283.4h1.0M470.9 310.6h1.0M461.0 279.5h1.0M474.4 282.7h1.0M466.6 310.3h1.0M467.9 310.2h1.0M479.1 290.1h1.0M466.2 310.4h1.0M480.3 299.7h1.0M470.8 270.0h1.0M431.5 274.8h1.0M467.8 304.9h1.0M454.3 279.2h1.0M472.2 299.1h1.0M467.7 315.7h1.0M471.3 291.0h1.0M428.7 281.0h1.0M479.7 303.7h1.0M477.9 311.5h1.0M466.9 313.1h1.0M465.9 294.5h1.0M474.5 294.8h1.0M481.6 293.9h1.0M419.4 319.6h1.0M450.6 278.1h1.0M480.6 298.4h1.0M472.1 278.6h1.0M470.2 273.8h1.0M474.4 312.0h1.0M457.1 274.9h1.0M467.1 280.5h1.0M460.4 284.8h1.0M457.5 328.3h1.0M481.6 296.9h1.0M459.1 280.8h1.0M463.2 295.4h1.0M478.2 285.6h1.0M468.9 314.2h1.0M464.8 267.2h1.0M457.1 273.9h1.0M469.7 286.2h1.0M476.5 295.0h1.0M477.7 283.2h1.0M470.1 282.4h1.0M469.9 307.3h1.0M468.9 298.8h1.0M436.7 266.7h1.0M469.1 306.0h1.0M470.8 279.3h1.0M467.0 310.6h1.0M467.4 271.0h1.0M469.1 308.7h1.0M467.0 302.9h1.0M464.4 291.3h1.0M473.3 276.2h1.0M469.2 279.3h1.0M443.0 269.1h1.0M472.5 285.4h1.0M463.3 280.9h1.0M470.6 298.0h1.0M427.0 267.6h1.0M474.8 297.2h1.0M460.0 330.8h1.0M468.1 300.6h1.0M472.8 282.7h1.0M460.8 278.3h1.0M459.9 270.0h1.0M463.5 293.1h1.0M451.6 281.1h1.0M469.9 285.4h1.0M472.9 289.2h1.0M474.4 302.9h1.0M465.7 306.9h1.0M464.9 281.9h1.0M464.2 285.9h1.0M457.3 319.0h1.0M464.2 297.0h1.0M468.8 267.7h1.0M472.2 303.6h1.0M461.0 324.4h1.0M422.2 330.0h1.0M449.0 268.4h1.0M469.6 305.2h1.0M458.6 271.5h1.0M478.9 296.6h1.0M469.7 286.9h1.0M477.2 297.8h1.0M449.0 277.1h1.0M476.0 298.0h1.0M468.5 296.8h1.0M430.0 269.1h1.0M466.9 301.7h1.0M467.7 313.7h1.0M466.3 291.3h1.0M469.1 292.8h1.0M468.1 303.8h1.0M468.8 273.0h1.0M462.2 285.2h1.0M465.2 301.1h1.0M469.9 277.6h1.0M474.3 299.0h1.0M434.8 266.0h1.0M462.7 291.9h1.0M465.2 315.4h1.0M472.8 310.7h1.0M477.6 298.6h1.0M461.0 281.4h1.0M475.7 282.7h1.0M460.8 284.2h1.0M468.2 301.6h1.0M470.4 301.9h1.0M460.5 269.8h1.0M469.2 299.3h1.0M469.2 275.6h1.0M472.2 277.9h1.0M467.3 308.7h1.0M481.1 291.6h1.0M475.0 301.5h1.0M457.2 275.5h1.0M466.3 278.9h1.0M472.1 289.9h1.0M476.2 308.3h1.0M468.0 289.8h1.0M466.4 291.0h1.0M460.9 272.7h1.0M471.2 270.6h1.0M424.9 325.4h1.0M470.9 289.2h1.0M466.1 290.4h1.0M471.0 291.8h1.0M473.7 303.0h1.0M475.1 286.8h1.0M473.3 315.8h1.0M478.7 299.7h1.0M461.7 287.4h1.0M471.6 300.2h1.0M457.5 289.4h1.0M476.6 316.6h1.0M460.4 283.7h1.0M464.1 307.7h1.0M476.5 298.6h1.0M461.6 283.3h1.0M473.9 283.7h1.0M466.5 308.9h1.0M480.5 295.8h1.0M471.8 287.4h1.0M472.8 302.2h1.0M467.4 285.9h1.0M473.2 290.8h1.0M441.2 279.2h1.0M470.4 296.8h1.0M477.5 296.7h1.0M470.0 305.3h1.0M474.9 289.1h1.0M469.6 305.6h1.0M473.2 279.8h1.0M466.6 270.9h1.0M474.0 289.1h1.0M458.6 271.5h1.0M480.6 300.4h1.0M469.9 297.5h1.0M472.7 283.1h1.0M465.3 288.7h1.0M464.8 269.2h1.0M464.1 320.8h1.0M468.1 284.7h1.0M465.7 287.8h1.0M458.1 328.6h1.0M476.6 294.0h1.0M469.8 272.9h1.0M480.7 295.6h1.0M479.4 281.3h1.0M465.4 266.7h1.0M472.6 270.7h1.0M461.0 291.4h1.0M471.6 286.3h1.0M463.0 312.0h1.0M463.3 279.9h1.0M475.5 299.2h1.0M463.9 304.7h1.0M460.3 319.8h1.0M470.4 285.5h1.0M479.6 305.6h1.0M477.8 283.7h1.0M469.6 320.0h1.0M461.9 281.8h1.0M463.6 311.8h1.0M468.5 272.1h1.0M468.8 321.3h1.0M420.8 326.2h1.0M474.0 322.1h1.0M473.0 311.4h1.0M469.6 300.9h1.0M475.3 284.8h1.0M467.7 326.6h1.0M477.9 311.3h1.0" stroke="#eba0b8" stroke-width="1.0"/>
<path d="M475.1 303.0h1.0M472.0 292.7h1.0M475.5 307.3h1.0M476.9 294.2h1.0M474.9 275.2h1.0M481.2 299.9h1.0M440.0 267.0h1.0M472.7 291.5h1.0M475.8 287.1h1.0M467.9 316.7h1.0M472.5 285.7h1.0M472.0 295.7h1.0M454.3 327.1h1.0M471.5 285.7h1.0M461.4 273.5h1.0M473.1 303.8h1.0M475.4 280.8h1.0M473.0 271.7h1.0M476.6 288.6h1.0M470.9 293.4h1.0M459.7 276.3h1.0M474.2 286.3h1.0M470.0 270.0h1.0M466.2 307.7h1.0M476.1 294.3h1.0M448.6 280.8h1.0M474.5 275.2h1.0M469.6 321.0h1.0M463.5 288.5h1.0M467.7 271.5h1.0M473.5 297.4h1.0M477.8 282.5h1.0M475.5 284.4h1.0M479.6 288.2h1.0M473.4 295.9h1.0M474.4 296.7h1.0M472.2 270.1h1.0M474.7 291.4h1.0M476.5 277.8h1.0M433.0 270.1h1.0M462.1 324.8h1.0M471.4 273.5h1.0M478.0 292.4h1.0M477.8 302.2h1.0M444.3 278.7h1.0M465.4 280.7h1.0M472.2 302.6h1.0M457.8 320.6h1.0M470.0 275.1h1.0M469.9 273.1h1.0M472.7 296.1h1.0M474.0 288.8h1.0M477.7 279.2h1.0M466.2 294.6h1.0M475.5 307.6h1.0M471.4 289.2h1.0M476.1 281.9h1.0M470.1 309.2h1.0M464.4 275.0h1.0M473.2 279.0h1.0M480.8 292.7h1.0M472.4 280.5h1.0M474.2 302.0h1.0M479.7 307.5h1.0M477.5 312.2h1.0M476.4 308.8h1.0M476.1 301.4h1.0M432.8 267.4h1.0M468.7 281.3h1.0M466.8 267.1h1.0M475.8 296.9h1.0M471.8 287.7h1.0M473.9 273.7h1.0M474.0 290.4h1.0M465.2 321.0h1.0M471.3 293.2h1.0M477.7 311.5h1.0M472.0 284.0h1.0M479.3 299.8h1.0M461.1 284.2h1.0M475.6 298.8h1.0M472.5 301.4h1.0M462.5 285.8h1.0M472.3 305.7h1.0M477.0 305.1h1.0M479.4 308.3h1.0M471.5 279.6h1.0M456.5 268.8h1.0M470.1 315.9h1.0M469.9 269.2h1.0M470.8 307.2h1.0M427.0 274.2h1.0M431.9 283.2h1.0M464.1 286.3h1.0M479.3 294.7h1.0M477.4 298.7h1.0M463.8 304.3h1.0M467.3 319.4h1.0M464.3 313.4h1.0M474.5 294.5h1.0M469.6 295.0h1.0M477.0 278.1h1.0M476.2 294.1h1.0M472.3 281.6h1.0M480.9 298.3h1.0M437.3 279.5h1.0M470.8 288.2h1.0M436.0 270.7h1.0M465.8 309.3h1.0M466.5 299.1h1.0M479.8 286.1h1.0M467.6 282.8h1.0M474.5 308.3h1.0M467.2 299.1h1.0M472.0 291.0h1.0M474.2 287.0h1.0M468.7 327.2h1.0M472.6 313.8h1.0M471.1 302.9h1.0M463.6 287.0h1.0M471.8 275.6h1.0M474.4 277.8h1.0M467.7 295.6h1.0M473.4 283.9h1.0M475.7 288.7h1.0M477.9 288.3h1.0M473.3 309.8h1.0M472.1 298.9h1.0M473.0 276.1h1.0M470.7 292.2h1.0M467.0 292.2h1.0M473.4 303.8h1.0M469.2 294.6h1.0M467.3 298.7h1.0M473.4 290.3h1.0M481.1 294.8h1.0M478.5 289.7h1.0M470.4 327.2h1.0M474.7 299.9h1.0M467.6 278.0h1.0" stroke="#c83088" stroke-width="1.0"/>
<rect x="418.00" y="264.80" width="67.30" height="66.60" fill="none" stroke="#555" stroke-width="0.9"/>
<rect x="501.3" y="264.8" width="67.3" height="66.6" fill="#ffffff" />
<path d="M505.6,264.8 L551.1,264.8 L558.5,271.5 L563.9,281.4 L565.9,292.1 L565.9,304.8 L562.5,316.1 L557.8,324.7 L553.8,331.4 L536.3,331.4 L540.3,320.1 L545.7,309.4 L547.7,300.8 L544.4,292.1 L537.0,285.4 L526.2,280.8 L518.1,280.8 L512.7,285.4 L510.7,278.1 L508.7,271.5 Z" fill="#e9e6e6" stroke="none" stroke-width="1" />
<path d="M501.3,316.7 L504.0,318.1 L506.7,321.4 L508.7,326.7 L510.0,331.4 L501.3,331.4 Z" fill="#e9e6e6" stroke="none" stroke-width="1" />
<path d="M548.7 286.0h1.0M549.4 297.1h1.0M506.4 325.8h1.0M550.2 273.6h1.0M536.8 272.2h1.0M541.0 328.5h1.0M554.5 296.7h1.0M547.9 288.7h1.0M555.3 288.3h1.0M542.3 286.9h1.0M538.4 271.3h1.0M545.3 272.1h1.0M555.8 292.7h1.0M522.3 274.2h1.0M526.3 272.8h1.0M541.1 322.2h1.0M549.7 324.6h1.0M510.1 272.9h1.0M528.9 278.3h1.0M536.5 282.8h1.0M558.1 280.4h1.0M508.8 270.4h1.0M529.8 281.4h1.0M508.9 327.8h1.0M560.0 318.2h1.0M519.8 266.3h1.0M558.0 297.2h1.0M511.4 266.6h1.0M534.8 280.7h1.0M535.7 271.3h1.0M527.9 274.5h1.0M550.2 323.2h1.0M514.6 282.5h1.0M540.9 270.5h1.0M555.7 279.1h1.0M558.4 284.6h1.0M553.7 294.8h1.0M502.5 322.4h1.0M543.3 266.1h1.0M511.8 276.4h1.0M544.1 291.1h1.0M554.6 315.6h1.0M511.5 281.8h1.0M527.9 271.7h1.0M540.9 277.5h1.0M531.9 271.1h1.0M540.4 287.5h1.0M513.2 277.5h1.0M537.9 281.0h1.0M555.2 276.7h1.0M548.5 269.8h1.0M547.3 271.9h1.0M504.0 328.1h1.0M560.2 306.1h1.0M528.4 281.0h1.0M538.9 330.4h1.0M548.7 318.0h1.0M509.1 267.5h1.0M553.1 279.3h1.0M556.7 287.8h1.0M561.0 312.6h1.0M551.2 284.7h1.0M551.2 318.2h1.0M559.1 299.1h1.0M563.5 302.3h1.0M548.8 299.0h1.0M551.8 303.3h1.0M552.0 270.9h1.0M503.1 325.4h1.0M546.8 310.5h1.0M544.8 276.9h1.0M536.1 277.3h1.0M546.8 280.8h1.0M541.9 273.2h1.0M551.0 318.3h1.0M548.0 289.0h1.0M541.0 330.3h1.0M553.0 319.1h1.0M503.2 319.0h1.0M552.5 303.2h1.0M539.4 281.7h1.0M558.1 295.0h1.0M563.7 297.0h1.0M555.5 316.4h1.0M508.2 329.6h1.0M555.8 310.5h1.0M541.7 320.4h1.0M542.7 273.4h1.0M563.8 301.3h1.0M560.3 280.9h1.0M559.6 278.3h1.0M553.1 304.9h1.0M516.0 279.6h1.0M548.9 278.7h1.0M520.6 273.1h1.0M550.0 320.4h1.0M536.8 271.4h1.0M546.1 274.3h1.0M549.2 276.0h1.0M556.5 288.5h1.0M515.5 266.0h1.0M514.4 283.8h1.0M550.7 320.1h1.0M549.7 270.2h1.0M559.8 295.5h1.0M556.2 320.2h1.0M503.1 319.4h1.0M536.1 266.2h1.0M535.6 277.9h1.0M551.7 297.8h1.0M530.8 282.1h1.0M525.9 274.5h1.0M534.8 272.7h1.0M538.2 325.1h1.0M549.7 317.1h1.0M552.0 279.4h1.0M546.4 265.4h1.0M542.9 319.7h1.0M512.3 276.7h1.0M550.6 295.0h1.0M514.5 272.7h1.0M517.3 268.8h1.0M550.9 280.8h1.0M559.5 283.7h1.0M554.3 302.2h1.0M540.9 320.6h1.0M556.1 300.5h1.0M509.0 265.8h1.0M553.3 311.5h1.0M564.2 300.1h1.0M549.7 316.6h1.0M512.2 274.5h1.0M553.5 320.8h1.0M557.6 310.3h1.0M551.7 271.2h1.0M558.1 283.1h1.0M542.5 322.4h1.0M539.6 329.2h1.0M560.5 302.3h1.0M516.3 272.3h1.0M544.5 311.0h1.0M554.9 272.9h1.0M546.9 280.1h1.0M538.6 329.0h1.0M522.9 267.0h1.0M549.6 323.3h1.0M548.8 320.6h1.0M534.7 279.3h1.0M548.0 274.6h1.0M542.7 324.4h1.0M551.6 293.7h1.0M502.1 316.9h1.0M541.2 324.3h1.0M547.1 295.9h1.0M544.1 313.4h1.0M561.4 279.3h1.0M517.5 275.5h1.0M549.0 294.8h1.0M557.8 300.1h1.0M549.5 299.0h1.0M557.9 321.3h1.0M555.2 294.8h1.0M547.2 317.8h1.0M517.4 267.2h1.0M549.6 325.6h1.0M562.6 286.2h1.0M553.1 329.6h1.0M529.0 268.6h1.0M556.2 284.2h1.0M502.7 326.4h1.0M545.2 288.2h1.0M524.3 280.3h1.0M551.7 297.1h1.0M550.4 278.8h1.0M503.3 329.2h1.0M536.2 275.4h1.0M550.0 307.0h1.0M540.5 328.7h1.0M563.9 307.5h1.0M555.1 279.4h1.0M511.0 272.6h1.0M543.3 320.0h1.0M552.1 296.0h1.0M544.9 294.7h1.0M512.8 272.9h1.0M511.0 270.1h1.0M525.9 266.2h1.0M516.9 275.7h1.0M511.7 275.1h1.0M503.9 323.3h1.0M540.5 270.9h1.0M542.0 324.0h1.0M562.6 299.1h1.0M543.2 282.6h1.0M556.4 274.9h1.0M555.2 313.8h1.0M537.1 328.1h1.0M522.0 273.9h1.0M551.4 289.6h1.0M524.1 277.3h1.0M550.5 307.2h1.0M504.3 324.0h1.0M543.7 325.0h1.0M559.8 285.0h1.0M554.2 288.8h1.0M559.7 285.1h1.0M523.6 273.3h1.0M547.2 319.3h1.0M538.2 286.7h1.0M549.1 292.5h1.0M530.8 275.1h1.0M556.5 272.8h1.0M537.3 329.5h1.0M554.8 311.8h1.0M506.5 321.1h1.0M556.8 319.3h1.0M551.1 319.9h1.0M513.3 272.3h1.0M546.8 269.9h1.0M517.3 271.2h1.0M561.5 303.8h1.0M514.3 277.7h1.0M544.5 289.1h1.0M551.1 329.0h1.0M555.6 297.4h1.0M562.1 296.6h1.0M553.9 314.5h1.0M522.6 275.0h1.0M531.2 283.3h1.0M541.4 326.5h1.0M539.4 279.8h1.0M543.1 278.5h1.0M513.9 281.2h1.0M513.6 283.9h1.0M545.7 276.9h1.0M564.2 293.4h1.0M531.1 271.4h1.0M544.1 319.5h1.0M554.3 270.3h1.0M539.8 283.0h1.0M526.9 270.8h1.0M542.5 326.8h1.0M547.8 275.5h1.0M543.1 275.1h1.0M526.3 268.0h1.0M540.4 270.5h1.0M541.3 318.8h1.0M558.8 288.0h1.0M523.0 275.5h1.0M543.7 270.4h1.0M532.6 283.8h1.0M547.1 277.5h1.0M546.9 269.7h1.0M547.0 308.3h1.0M514.1 270.0h1.0M542.6 329.8h1.0M556.2 296.0h1.0M562.0 282.7h1.0M554.6 281.3h1.0M563.1 292.8h1.0M538.8 327.2h1.0M526.3 265.6h1.0M557.5 272.0h1.0M521.8 273.9h1.0M563.0 302.2h1.0M561.0 284.9h1.0M527.2 280.6h1.0M545.4 294.0h1.0M511.9 272.8h1.0M553.6 296.8h1.0M555.1 306.8h1.0M548.2 315.1h1.0M533.7 272.7h1.0M556.3 276.2h1.0M539.4 276.7h1.0M546.1 326.3h1.0M555.4 300.7h1.0M514.4 276.1h1.0M545.4 320.8h1.0M550.4 282.2h1.0M545.3 284.3h1.0M526.1 272.4h1.0M531.7 282.4h1.0M523.3 279.3h1.0M541.5 267.3h1.0M554.2 325.1h1.0M551.1 318.4h1.0M552.0 290.8h1.0M528.7 276.4h1.0M549.7 291.1h1.0M561.2 286.5h1.0M554.1 281.9h1.0M549.5 271.1h1.0M545.3 315.9h1.0M543.5 267.0h1.0M514.6 277.1h1.0M542.1 316.1h1.0M543.5 321.0h1.0M503.3 319.2h1.0M552.9 278.2h1.0M537.2 271.2h1.0M541.4 268.8h1.0M540.3 326.4h1.0M549.2 324.4h1.0M556.8 280.2h1.0M546.2 306.9h1.0M545.2 315.8h1.0M562.2 309.8h1.0M519.5 266.9h1.0M547.6 303.3h1.0M512.7 269.6h1.0M513.6 272.2h1.0M558.7 309.6h1.0M541.4 278.6h1.0M540.0 326.4h1.0M542.9 319.4h1.0M543.6 275.3h1.0M507.4 328.6h1.0M554.2 283.8h1.0M522.6 280.9h1.0M535.8 275.8h1.0M550.1 292.0h1.0M551.9 324.4h1.0M547.6 306.0h1.0M553.8 273.4h1.0M557.7 273.0h1.0M529.5 266.4h1.0M550.6 298.9h1.0M554.5 277.9h1.0M536.8 267.1h1.0M547.7 298.1h1.0M542.5 318.1h1.0M548.2 297.1h1.0M552.1 279.0h1.0M556.7 271.3h1.0M543.3 274.3h1.0M560.2 303.2h1.0M549.7 317.8h1.0M549.0 312.4h1.0M547.0 326.6h1.0M539.4 325.3h1.0M535.7 275.6h1.0M540.3 268.6h1.0M556.4 314.8h1.0M532.4 270.8h1.0M557.0 281.9h1.0M553.1 280.2h1.0M540.4 330.7h1.0M507.9 326.1h1.0M536.0 282.3h1.0M532.3 272.6h1.0M544.3 314.1h1.0M554.7 312.5h1.0M547.0 328.7h1.0M528.3 273.2h1.0M520.0 279.5h1.0M564.8 302.0h1.0M548.2 312.6h1.0M530.4 269.9h1.0M542.9 287.5h1.0M557.3 298.3h1.0M546.8 296.0h1.0M512.2 266.7h1.0M508.8 270.3h1.0M529.9 280.1h1.0M538.9 266.7h1.0M532.6 283.7h1.0M552.8 319.5h1.0M507.5 323.4h1.0M543.9 290.5h1.0M549.5 271.1h1.0M516.1 276.1h1.0M558.8 319.0h1.0M548.0 326.5h1.0M512.5 282.6h1.0M555.3 270.2h1.0M526.8 272.9h1.0M530.5 273.7h1.0M549.8 290.3h1.0M547.1 278.6h1.0M534.3 267.9h1.0M514.3 265.8h1.0M514.6 269.5h1.0M557.5 303.3h1.0M514.7 277.4h1.0M510.2 274.6h1.0M546.1 275.4h1.0M550.6 317.4h1.0M527.5 273.5h1.0M555.9 287.8h1.0M555.3 281.7h1.0M552.6 311.4h1.0M547.2 326.4h1.0M529.2 268.1h1.0M541.0 326.1h1.0M551.5 304.8h1.0M513.8 273.2h1.0M534.8 270.7h1.0M552.2 310.4h1.0M554.6 289.4h1.0M531.2 278.5h1.0M552.6 311.2h1.0M558.1 282.9h1.0M558.6 295.9h1.0M510.8 269.7h1.0M538.0 266.7h1.0M503.1 324.1h1.0M552.9 276.6h1.0M548.0 298.6h1.0M561.6 312.2h1.0M539.6 279.7h1.0M553.9 320.2h1.0M557.6 291.7h1.0M551.1 277.7h1.0M511.5 269.7h1.0M531.9 281.6h1.0M524.0 273.6h1.0M534.1 274.1h1.0M548.6 290.7h1.0M546.6 317.4h1.0M545.8 321.9h1.0M525.9 277.4h1.0M561.5 300.1h1.0M556.7 293.4h1.0M507.5 326.1h1.0M564.1 289.2h1.0M554.5 306.2h1.0M557.1 313.0h1.0M556.8 319.8h1.0M546.8 279.2h1.0M503.9 322.1h1.0M555.4 292.1h1.0M547.8 310.7h1.0M519.4 276.2h1.0M544.7 326.6h1.0M504.4 321.5h1.0M564.0 287.8h1.0M547.2 287.5h1.0M507.8 267.4h1.0M559.8 299.8h1.0M513.1 268.7h1.0M557.9 288.1h1.0M504.9 324.7h1.0M530.7 276.2h1.0M532.8 270.9h1.0M538.8 328.4h1.0M537.1 266.4h1.0M528.7 281.7h1.0M556.2 317.4h1.0M544.0 328.0h1.0M513.1 267.3h1.0M542.2 270.9h1.0M547.7 293.8h1.0M555.9 307.3h1.0M547.5 306.4h1.0M540.1 286.5h1.0M557.2 294.9h1.0M528.5 274.5h1.0M543.9 319.0h1.0M546.7 325.5h1.0M548.3 279.3h1.0M541.8 318.6h1.0M512.7 268.7h1.0M543.9 276.5h1.0M533.4 268.1h1.0M526.3 268.9h1.0M551.0 274.7h1.0M547.6 290.2h1.0M543.1 320.0h1.0M548.1 321.1h1.0M548.0 299.0h1.0M554.7 274.2h1.0M554.7 280.9h1.0M544.5 310.4h1.0M555.7 309.0h1.0M547.6 303.0h1.0M541.8 274.8h1.0M547.9 302.4h1.0M548.2 324.7h1.0M536.1 280.9h1.0M527.2 279.6h1.0M556.2 305.4h1.0M502.0 317.1h1.0M554.4 271.4h1.0M540.3 274.0h1.0M550.6 296.4h1.0M552.5 297.7h1.0M551.5 287.4h1.0M551.6 310.2h1.0M544.9 274.0h1.0M536.3 284.1h1.0M549.1 286.8h1.0M534.9 273.3h1.0M529.4 281.2h1.0M549.2 315.2h1.0M546.9 265.9h1.0M549.4 327.8h1.0M522.7 268.6h1.0M542.6 326.4h1.0M521.4 278.9h1.0M541.1 276.8h1.0M546.7 322.2h1.0M555.3 270.5h1.0M554.8 327.9h1.0M551.0 270.1h1.0M525.7 267.8h1.0M553.0 318.5h1.0M531.7 277.0h1.0M536.6 271.8h1.0M555.7 304.7h1.0M550.0 326.1h1.0M545.1 279.8h1.0M535.2 285.1h1.0M555.4 301.8h1.0M552.5 273.0h1.0M514.7 272.3h1.0M545.5 327.3h1.0M533.6 279.3h1.0M523.7 276.8h1.0M528.2 266.6h1.0M511.5 272.7h1.0M549.8 268.5h1.0M523.8 271.9h1.0M535.5 266.9h1.0M540.1 283.6h1.0M549.4 287.1h1.0M506.3 326.8h1.0M507.1 324.2h1.0M545.4 309.1h1.0M564.2 290.7h1.0M548.6 295.9h1.0M506.1 328.6h1.0M552.6 270.1h1.0M540.9 321.0h1.0M561.6 300.2h1.0M555.4 312.0h1.0M542.7 318.2h1.0M549.8 285.0h1.0M509.9 265.9h1.0M528.9 266.2h1.0M561.5 280.3h1.0M549.8 281.6h1.0M547.4 304.1h1.0M548.0 281.6h1.0M523.0 265.8h1.0M502.1 318.0h1.0M543.5 327.8h1.0M540.7 284.2h1.0M538.9 283.2h1.0M522.6 272.2h1.0M546.7 286.2h1.0M549.0 274.2h1.0M512.0 277.5h1.0M509.8 274.9h1.0M552.1 293.1h1.0M559.0 298.5h1.0M537.0 267.0h1.0M513.1 274.2h1.0M561.9 296.5h1.0M514.7 282.8h1.0M550.0 326.0h1.0M548.1 290.6h1.0M537.1 267.5h1.0M557.5 298.3h1.0M550.7 319.6h1.0M559.4 284.5h1.0M526.7 278.6h1.0M550.1 266.0h1.0M563.8 296.9h1.0M560.1 282.1h1.0M556.1 325.7h1.0M545.7 287.4h1.0M515.7 276.8h1.0M546.3 277.0h1.0M562.9 292.7h1.0M546.8 304.9h1.0M560.2 294.8h1.0M561.1 289.8h1.0M553.4 294.0h1.0M527.6 274.1h1.0M546.5 329.5h1.0M531.2 273.3h1.0M550.3 301.3h1.0M554.9 315.8h1.0M521.1 270.5h1.0M547.7 294.6h1.0M551.1 298.8h1.0M550.7 280.3h1.0M510.6 267.5h1.0M513.0 272.0h1.0M550.6 318.9h1.0M542.0 274.6h1.0M553.5 313.0h1.0M558.7 277.3h1.0M539.2 286.2h1.0M520.2 265.9h1.0M560.4 286.2h1.0M539.8 279.3h1.0M554.7 324.1h1.0M548.0 314.7h1.0M506.9 326.6h1.0M516.3 273.3h1.0M558.6 311.4h1.0M555.4 311.9h1.0M562.2 303.8h1.0M559.1 276.7h1.0M552.7 315.8h1.0M562.3 300.4h1.0M546.4 320.2h1.0M520.7 278.7h1.0M553.2 268.1h1.0M558.6 306.3h1.0M548.6 311.5h1.0M562.7 289.7h1.0M502.1 329.5h1.0M557.3 303.2h1.0M547.5 311.2h1.0M528.3 279.0h1.0M502.9 326.7h1.0M559.3 315.8h1.0M551.3 326.8h1.0M519.1 270.9h1.0M547.7 322.0h1.0M554.1 326.7h1.0M512.1 281.3h1.0M545.3 316.1h1.0M551.2 295.8h1.0M503.6 320.3h1.0M532.1 274.3h1.0M555.0 326.8h1.0M541.2 323.9h1.0M560.9 311.5h1.0M548.7 285.6h1.0M554.7 295.7h1.0M527.3 277.8h1.0M532.9 271.6h1.0M550.8 276.8h1.0M558.1 300.3h1.0M546.6 285.9h1.0M502.8 322.5h1.0M516.3 269.8h1.0M548.9 309.4h1.0M556.3 290.0h1.0M545.6 330.7h1.0M548.6 291.1h1.0M528.1 277.5h1.0M548.8 312.8h1.0M558.0 301.4h1.0M561.6 293.7h1.0M534.6 283.7h1.0M549.7 271.4h1.0M548.3 318.2h1.0M547.2 318.2h1.0M548.8 324.5h1.0M550.5 290.9h1.0M551.4 272.3h1.0M545.9 268.2h1.0M558.9 279.0h1.0M512.1 278.2h1.0M544.2 325.6h1.0M550.3 301.2h1.0M551.5 315.8h1.0M563.9 295.2h1.0M555.1 308.1h1.0M503.9 322.3h1.0M554.0 275.7h1.0M560.6 290.3h1.0M533.1 275.5h1.0M539.2 327.8h1.0M548.7 326.4h1.0M552.5 324.3h1.0M544.4 326.8h1.0M554.0 298.7h1.0M537.4 281.4h1.0M557.6 296.5h1.0M561.6 301.5h1.0M549.0 330.5h1.0M505.3 324.8h1.0M547.0 270.5h1.0M552.8 279.2h1.0M544.0 312.1h1.0M519.8 277.6h1.0M559.3 286.2h1.0M547.2 298.2h1.0M550.4 290.3h1.0M524.4 279.6h1.0M512.1 283.1h1.0M532.0 279.5h1.0M535.5 281.6h1.0M515.8 278.0h1.0M546.3 269.3h1.0M548.4 328.5h1.0M556.4 316.0h1.0M549.6 294.9h1.0M552.2 268.4h1.0M555.9 315.6h1.0M532.3 268.8h1.0M555.6 276.9h1.0M558.4 307.1h1.0M545.5 287.0h1.0M561.3 294.0h1.0M548.7 290.7h1.0M556.9 283.2h1.0M548.4 277.4h1.0M553.5 287.5h1.0M534.1 266.7h1.0M557.2 302.7h1.0M532.3 273.5h1.0M548.2 296.1h1.0M555.0 300.5h1.0M537.1 286.3h1.0M503.7 323.8h1.0M551.4 317.8h1.0M538.5 274.6h1.0M546.9 306.9h1.0M548.3 315.9h1.0M540.5 279.8h1.0M520.1 279.1h1.0M556.2 298.0h1.0M543.4 268.1h1.0M542.7 279.5h1.0M548.0 296.7h1.0M550.8 319.2h1.0M521.8 270.9h1.0M556.5 322.0h1.0M559.2 287.9h1.0M539.9 277.1h1.0M559.0 308.8h1.0M560.6 277.9h1.0M545.1 292.6h1.0M554.1 327.9h1.0M507.2 329.3h1.0M516.1 278.9h1.0M548.3 317.3h1.0M555.0 280.4h1.0M550.9 279.7h1.0M512.5 269.7h1.0M561.1 291.1h1.0M527.3 267.0h1.0M563.9 289.8h1.0M562.2 282.2h1.0M563.1 297.1h1.0M539.4 325.6h1.0M546.5 266.7h1.0M552.6 298.9h1.0M539.8 280.2h1.0M558.2 289.6h1.0M556.6 273.5h1.0M551.3 308.6h1.0M552.1 300.0h1.0M561.1 312.8h1.0M553.8 280.2h1.0M545.9 309.6h1.0M514.7 267.2h1.0M549.5 279.0h1.0M546.4 293.2h1.0M540.2 321.2h1.0M514.1 282.6h1.0M512.7 284.5h1.0M540.2 329.8h1.0M522.4 277.9h1.0M548.8 280.3h1.0M550.7 312.0h1.0M543.1 267.2h1.0M550.9 271.2h1.0M542.2 266.7h1.0M553.5 322.7h1.0M552.2 276.4h1.0M559.1 309.7h1.0M515.4 272.7h1.0M554.9 325.6h1.0M542.8 330.2h1.0M547.3 315.7h1.0M550.0 293.9h1.0M539.2 287.0h1.0M504.6 330.0h1.0M539.5 278.0h1.0M541.0 287.2h1.0M540.8 271.6h1.0M515.5 281.7h1.0M528.9 271.4h1.0M545.1 270.0h1.0M549.0 300.8h1.0M553.4 323.0h1.0M563.9 302.9h1.0M553.2 275.9h1.0M535.2 276.6h1.0M541.8 271.1h1.0M527.8 271.6h1.0M559.5 311.9h1.0M561.8 299.9h1.0M522.3 279.2h1.0M550.5 326.5h1.0M550.8 326.7h1.0M556.8 294.4h1.0M520.1 275.0h1.0M556.2 308.5h1.0M543.9 289.0h1.0M554.7 287.8h1.0M541.7 275.9h1.0M549.0 300.0h1.0M550.3 329.9h1.0M519.6 271.3h1.0M556.5 273.0h1.0M549.7 284.5h1.0M517.5 276.6h1.0M556.1 277.8h1.0M562.6 312.2h1.0M545.1 277.4h1.0M536.8 271.9h1.0M521.3 274.0h1.0M526.3 265.5h1.0M562.4 302.6h1.0M559.6 319.0h1.0M540.8 283.8h1.0M543.1 268.6h1.0M543.8 268.8h1.0M551.2 266.7h1.0M545.3 272.2h1.0M540.3 274.6h1.0M549.6 296.2h1.0M563.6 303.6h1.0M527.3 271.3h1.0M554.9 324.0h1.0M529.0 280.9h1.0M516.3 274.6h1.0M526.1 281.0h1.0M529.4 281.0h1.0M551.2 278.1h1.0M517.0 276.4h1.0M550.3 308.1h1.0M541.7 318.1h1.0M517.0 280.4h1.0M541.5 274.9h1.0M545.9 279.5h1.0M542.7 276.0h1.0M557.2 282.0h1.0M550.9 299.6h1.0M551.7 295.1h1.0M551.6 301.1h1.0M523.3 271.8h1.0M513.3 278.0h1.0M564.0 303.3h1.0M540.3 329.2h1.0M561.1 291.0h1.0M552.5 301.9h1.0M517.8 277.9h1.0M560.6 317.1h1.0M526.1 279.5h1.0M541.6 267.5h1.0" stroke="#f4ccd6" stroke-width="1.0"/>
<path d="M554.7 305.5h1.0M533.2 284.1h1.0M539.8 330.6h1.0M553.0 308.7h1.0M549.4 321.0h1.0M550.6 314.1h1.0M517.0 280.6h1.0M562.8 294.0h1.0M552.5 290.4h1.0M517.9 275.6h1.0M537.3 277.4h1.0M543.1 324.9h1.0M545.3 285.8h1.0M557.0 286.5h1.0M557.2 287.7h1.0M546.8 325.0h1.0M551.5 294.2h1.0M523.0 275.4h1.0M502.6 319.8h1.0M559.7 304.6h1.0M557.5 318.9h1.0M555.0 279.2h1.0M543.6 322.8h1.0M549.0 327.1h1.0M549.8 307.1h1.0M549.6 271.2h1.0M506.6 323.7h1.0M517.1 278.0h1.0M519.0 271.9h1.0M535.5 274.8h1.0M556.5 300.2h1.0M527.6 268.5h1.0M547.5 314.4h1.0M555.5 305.0h1.0M555.0 289.5h1.0M554.3 318.3h1.0M558.8 283.2h1.0M549.8 268.6h1.0M548.9 313.3h1.0M539.3 284.8h1.0M530.4 268.6h1.0M545.3 282.0h1.0M547.7 317.1h1.0M539.5 284.3h1.0M521.4 278.2h1.0M553.5 308.7h1.0M558.9 299.8h1.0M547.8 276.2h1.0M550.7 316.5h1.0M526.8 266.6h1.0M539.7 286.3h1.0M528.4 276.7h1.0M547.2 297.6h1.0M534.8 275.5h1.0M552.5 318.6h1.0M553.5 277.9h1.0M502.3 323.4h1.0M552.1 329.6h1.0M550.0 308.6h1.0M518.9 275.2h1.0M551.3 302.5h1.0M559.6 284.4h1.0M548.8 311.2h1.0M552.8 315.7h1.0M530.2 277.0h1.0M544.0 288.5h1.0M505.2 326.7h1.0M505.1 319.2h1.0M553.4 301.0h1.0M509.4 269.1h1.0M549.4 320.0h1.0M539.7 329.3h1.0M549.2 298.6h1.0M542.5 286.6h1.0M556.2 287.5h1.0M551.4 277.2h1.0M556.9 306.0h1.0M562.5 282.8h1.0M548.1 287.7h1.0M548.4 277.9h1.0M559.7 318.8h1.0M548.2 271.4h1.0M536.5 270.5h1.0M532.4 274.3h1.0M550.5 309.8h1.0M540.5 286.6h1.0M527.8 280.2h1.0M555.9 278.6h1.0M536.0 274.6h1.0M547.3 303.6h1.0M544.0 279.0h1.0M543.8 290.8h1.0M555.2 325.7h1.0M554.0 302.7h1.0M551.0 290.8h1.0M553.9 300.6h1.0M555.2 304.9h1.0M550.1 275.4h1.0M557.0 308.2h1.0M551.0 268.1h1.0M555.0 313.8h1.0M543.8 267.2h1.0M544.1 288.9h1.0M551.4 329.8h1.0M556.6 296.9h1.0M549.6 314.5h1.0M549.6 304.5h1.0M548.8 321.7h1.0M560.1 312.1h1.0M513.3 284.7h1.0M538.9 324.1h1.0M548.0 290.6h1.0M556.6 322.7h1.0M545.6 292.5h1.0M542.6 275.2h1.0M528.2 276.2h1.0M553.8 313.2h1.0M531.2 279.7h1.0M562.9 286.6h1.0M540.7 266.2h1.0M551.2 327.2h1.0M555.1 275.0h1.0M548.1 281.9h1.0M543.3 284.8h1.0M557.8 297.2h1.0M549.7 296.1h1.0M562.2 310.2h1.0M548.7 303.4h1.0M503.3 322.3h1.0M554.0 292.2h1.0M552.2 287.3h1.0M551.4 306.2h1.0M562.2 299.0h1.0M559.0 302.6h1.0M558.4 287.3h1.0M552.9 279.7h1.0M551.6 312.3h1.0M563.1 307.7h1.0M557.7 293.5h1.0M554.1 300.6h1.0M556.7 289.7h1.0M527.8 281.0h1.0M561.6 301.4h1.0M514.0 265.9h1.0M552.2 324.0h1.0M563.1 291.3h1.0M551.3 296.4h1.0M549.6 318.5h1.0M553.3 295.0h1.0M548.8 299.4h1.0M532.0 272.6h1.0M550.9 288.0h1.0M525.0 278.8h1.0M543.1 321.4h1.0M558.8 296.2h1.0M544.6 315.4h1.0M538.5 270.3h1.0M550.5 302.4h1.0M516.7 276.5h1.0M519.5 279.8h1.0M545.0 285.5h1.0M552.2 275.7h1.0M553.0 309.1h1.0M558.0 310.5h1.0M515.1 270.8h1.0M540.0 284.7h1.0M544.7 282.9h1.0M545.6 318.9h1.0M556.7 284.0h1.0M560.4 307.0h1.0M562.6 288.1h1.0M515.5 266.0h1.0M540.7 270.4h1.0M559.3 296.2h1.0M516.0 269.2h1.0M502.9 326.0h1.0M548.9 304.2h1.0M535.6 280.2h1.0M545.5 285.8h1.0M543.0 267.8h1.0M545.0 325.7h1.0M551.1 274.2h1.0M557.0 282.4h1.0M541.5 317.5h1.0M514.6 271.4h1.0M555.7 288.1h1.0M548.3 319.4h1.0M544.4 315.5h1.0M554.6 289.7h1.0M550.4 303.0h1.0M556.7 318.2h1.0M524.6 276.9h1.0M551.0 291.1h1.0M552.7 282.9h1.0M550.4 266.4h1.0M547.3 322.0h1.0M519.7 269.4h1.0M556.0 297.8h1.0M551.8 292.4h1.0M530.9 273.4h1.0M561.5 297.2h1.0M558.7 302.2h1.0M517.3 265.5h1.0M522.5 267.6h1.0M539.0 325.8h1.0M545.4 286.7h1.0M516.1 268.9h1.0M536.8 330.8h1.0M555.9 309.8h1.0M510.6 275.2h1.0M511.6 266.4h1.0M530.9 279.1h1.0M547.4 306.0h1.0M542.3 274.7h1.0M540.5 270.7h1.0M516.1 275.2h1.0M544.9 319.5h1.0M515.2 278.6h1.0M560.1 277.1h1.0M508.2 266.7h1.0M555.3 275.4h1.0M556.7 306.7h1.0M541.1 325.2h1.0M563.6 299.7h1.0M546.4 314.8h1.0M553.3 272.5h1.0M558.7 281.1h1.0M532.3 265.9h1.0M554.4 280.3h1.0M528.9 274.5h1.0M543.3 284.8h1.0M552.4 290.3h1.0M538.6 325.2h1.0M563.1 310.5h1.0M536.1 271.6h1.0M539.0 323.6h1.0M547.4 266.4h1.0M547.4 317.5h1.0M555.6 304.1h1.0M561.7 305.3h1.0M550.4 285.5h1.0M550.6 281.9h1.0M546.8 292.3h1.0M552.9 299.0h1.0M548.8 311.9h1.0M503.6 317.8h1.0M544.4 272.7h1.0M553.5 290.1h1.0M546.7 323.6h1.0M539.4 269.4h1.0M551.2 300.2h1.0M534.8 274.5h1.0M554.6 283.7h1.0M550.0 293.7h1.0M535.3 281.3h1.0M556.2 285.2h1.0M549.6 311.5h1.0M556.4 287.1h1.0M543.9 267.5h1.0M533.1 269.7h1.0M540.3 277.0h1.0M502.0 322.3h1.0M549.2 312.3h1.0M548.6 305.0h1.0M553.6 273.8h1.0M552.1 295.2h1.0M551.0 318.7h1.0M549.8 267.6h1.0M556.6 281.0h1.0M527.3 271.9h1.0M545.4 288.0h1.0M556.2 292.7h1.0M540.2 279.7h1.0M555.4 289.2h1.0M513.1 274.7h1.0M539.4 282.4h1.0M559.1 293.4h1.0M551.0 308.4h1.0M545.6 270.0h1.0M555.0 288.0h1.0M560.0 291.6h1.0M550.6 304.4h1.0M553.4 299.7h1.0M530.9 278.6h1.0M545.2 321.1h1.0M552.2 287.6h1.0M549.1 275.9h1.0M530.8 269.6h1.0M552.5 285.9h1.0M558.6 300.6h1.0M539.9 284.8h1.0M553.7 293.0h1.0M536.4 279.9h1.0M538.4 266.7h1.0M555.6 317.2h1.0M557.3 303.4h1.0M552.9 286.4h1.0M516.0 281.3h1.0M550.9 276.1h1.0M516.0 278.4h1.0" stroke="#e898b4" stroke-width="1.0"/>
<path d="M555.2 320.7h1.0M550.4 298.6h1.0M546.1 276.4h1.0M540.6 321.9h1.0M544.2 325.3h1.0M556.2 277.2h1.0M546.6 304.3h1.0M563.9 302.0h1.0M562.2 300.7h1.0M546.3 287.6h1.0M556.3 315.8h1.0M559.5 278.2h1.0M557.9 310.9h1.0M557.9 312.8h1.0M557.2 284.2h1.0M562.8 299.6h1.0M540.2 282.5h1.0M564.3 301.3h1.0M560.4 289.0h1.0M547.8 308.4h1.0M550.0 290.1h1.0M556.3 290.5h1.0M554.7 272.7h1.0M551.7 274.2h1.0M551.9 323.1h1.0M560.3 278.8h1.0M561.4 290.8h1.0M551.6 317.6h1.0M556.9 287.4h1.0M519.7 267.7h1.0M551.7 270.6h1.0M560.5 284.5h1.0M543.8 321.1h1.0M559.3 307.0h1.0M528.8 271.5h1.0M550.0 299.8h1.0M508.6 329.3h1.0M535.4 266.7h1.0M550.4 294.2h1.0M519.8 273.0h1.0M546.4 307.4h1.0M548.1 292.1h1.0M549.1 300.7h1.0M559.7 316.8h1.0M553.8 284.7h1.0M540.6 269.0h1.0M549.3 313.0h1.0M529.3 273.6h1.0M550.9 312.1h1.0M551.9 309.5h1.0M558.3 273.3h1.0M551.1 304.8h1.0M557.8 293.5h1.0M560.8 296.7h1.0M557.8 280.5h1.0M535.9 275.1h1.0M564.3 300.8h1.0M557.7 299.8h1.0M555.2 276.4h1.0M549.2 300.7h1.0M531.8 274.2h1.0M559.0 294.7h1.0M550.9 273.1h1.0M557.7 276.8h1.0M553.3 309.7h1.0M557.6 296.4h1.0M528.3 272.9h1.0M542.4 271.2h1.0M561.3 303.7h1.0M527.1 270.0h1.0M543.1 321.1h1.0M559.4 282.5h1.0M561.3 306.1h1.0M547.0 322.3h1.0M555.3 280.4h1.0M548.0 300.7h1.0M548.7 322.5h1.0M550.7 275.7h1.0M556.5 301.6h1.0M558.6 309.7h1.0M564.3 305.1h1.0M542.2 328.7h1.0M560.3 312.9h1.0M562.3 289.8h1.0M553.7 296.0h1.0M557.1 276.6h1.0M546.9 291.0h1.0M546.8 299.2h1.0M554.0 315.8h1.0M544.0 272.7h1.0M550.7 320.4h1.0M554.0 294.5h1.0M540.7 285.6h1.0M561.7 284.6h1.0M552.0 317.5h1.0M557.3 316.4h1.0M557.1 301.6h1.0M556.7 296.5h1.0M545.2 280.3h1.0M553.9 294.0h1.0M557.0 276.7h1.0M542.3 289.9h1.0M558.6 318.5h1.0M552.2 283.7h1.0M558.7 289.4h1.0M523.4 274.1h1.0M564.7 302.6h1.0M563.5 295.2h1.0M533.7 284.1h1.0M563.1 295.2h1.0" stroke="#c02888" stroke-width="1.0"/>
<rect x="501.30" y="264.80" width="67.30" height="66.60" fill="none" stroke="#555" stroke-width="0.9"/>
<rect x="578.6" y="264.8" width="67.1" height="66.6" fill="#ffffff" />
<path d="M582.9,264.8 L628.3,264.8 L635.6,271.5 L641.0,281.4 L643.0,292.1 L643.0,304.8 L639.7,316.1 L635.0,324.7 L630.9,331.4 L613.5,331.4 L617.5,320.1 L622.9,309.4 L624.9,300.8 L621.5,292.1 L614.2,285.4 L603.4,280.8 L595.4,280.8 L590.0,285.4 L588.0,278.1 L586.0,271.5 Z" fill="#e6e4e2" stroke="none" stroke-width="1" />
<path d="M578.6,316.7 L581.3,318.1 L584.0,321.4 L586.0,326.7 L587.3,331.4 L578.6,331.4 Z" fill="#e6e4e2" stroke="none" stroke-width="1" />
<path d="M618.9 320.4h1.0M638.2 294.4h1.0M626.6 278.3h1.0M628.1 297.4h1.0M581.1 321.1h1.0M624.4 308.5h1.0M624.0 314.1h1.0M612.4 279.1h1.0M618.2 276.6h1.0M625.8 267.8h1.0M598.0 279.2h1.0M628.2 298.4h1.0M627.2 309.4h1.0M637.4 290.5h1.0M627.8 284.5h1.0M626.4 320.1h1.0M627.4 322.9h1.0M627.2 327.3h1.0M633.0 307.5h1.0M632.3 285.3h1.0M636.7 286.6h1.0M633.3 295.7h1.0M617.5 321.3h1.0M593.3 278.3h1.0M631.0 301.4h1.0M630.0 308.1h1.0M614.1 278.9h1.0M609.9 281.0h1.0M609.9 281.8h1.0M614.7 284.3h1.0M624.1 293.5h1.0M597.5 276.0h1.0M635.2 278.5h1.0M608.8 283.5h1.0M626.4 304.1h1.0M623.4 296.3h1.0M632.1 306.6h1.0M625.8 268.2h1.0M608.1 268.1h1.0M624.5 315.8h1.0M629.1 305.7h1.0M629.2 307.1h1.0M627.3 306.3h1.0M617.0 280.7h1.0M625.0 274.0h1.0M629.9 319.9h1.0M629.2 292.0h1.0M631.4 301.9h1.0M616.8 271.1h1.0M634.1 306.5h1.0M637.2 281.8h1.0M602.6 269.0h1.0M614.3 273.7h1.0M631.9 305.6h1.0M630.6 294.7h1.0M627.4 266.3h1.0M630.9 289.6h1.0M622.4 283.7h1.0M604.9 273.8h1.0M612.2 271.1h1.0M631.6 290.6h1.0M604.6 268.6h1.0M584.2 267.3h1.0M603.3 267.1h1.0M631.0 323.0h1.0M624.2 319.8h1.0M589.2 267.3h1.0M598.7 275.4h1.0M629.8 296.5h1.0M613.5 268.5h1.0M624.3 300.0h1.0M631.2 312.2h1.0M622.4 284.8h1.0M589.0 279.2h1.0M612.5 265.8h1.0M593.3 279.0h1.0M618.8 316.7h1.0M608.3 282.0h1.0M628.1 299.8h1.0M632.8 325.7h1.0M615.9 278.5h1.0M637.7 305.3h1.0M627.1 305.9h1.0M619.0 279.0h1.0M631.3 300.3h1.0M626.3 316.8h1.0M627.9 290.0h1.0M624.8 311.5h1.0M620.2 315.7h1.0M586.3 266.2h1.0M612.1 268.3h1.0M620.4 290.5h1.0M595.0 275.9h1.0M632.1 279.5h1.0M591.7 274.6h1.0M629.9 313.1h1.0M609.4 270.9h1.0M633.9 282.2h1.0M625.8 283.1h1.0M588.0 277.3h1.0M592.8 282.1h1.0M630.7 274.6h1.0M587.6 266.4h1.0M613.5 275.6h1.0M593.7 275.1h1.0M608.6 277.8h1.0M635.8 277.2h1.0M623.6 291.8h1.0M631.5 285.9h1.0M615.7 268.6h1.0M623.5 320.3h1.0M616.3 266.5h1.0M589.8 270.6h1.0M612.8 281.1h1.0M634.6 296.8h1.0M603.2 273.0h1.0M631.2 286.4h1.0M617.7 279.4h1.0M632.9 291.6h1.0M624.0 268.3h1.0M614.3 274.5h1.0M629.4 282.2h1.0M618.0 280.8h1.0M636.3 285.6h1.0M609.2 279.1h1.0M626.8 298.3h1.0M631.7 320.3h1.0M620.6 327.4h1.0M623.8 297.9h1.0M597.8 276.5h1.0M628.3 268.7h1.0M632.9 281.2h1.0M582.6 329.6h1.0M628.8 266.8h1.0M630.6 276.1h1.0M601.6 271.8h1.0M604.6 279.1h1.0M630.3 322.0h1.0M622.5 325.4h1.0M594.5 280.3h1.0M626.4 298.4h1.0M628.7 305.7h1.0M634.9 299.4h1.0M632.4 284.8h1.0M607.7 274.2h1.0M622.3 283.2h1.0M625.9 308.4h1.0M592.0 273.9h1.0M607.4 274.2h1.0M618.6 271.2h1.0M590.4 284.7h1.0M625.8 321.5h1.0M636.1 276.0h1.0M633.0 288.9h1.0M597.9 277.6h1.0M612.7 280.7h1.0M623.0 297.1h1.0M612.1 284.2h1.0M599.6 269.2h1.0M611.8 283.8h1.0M609.3 270.4h1.0M605.5 273.5h1.0M600.0 277.8h1.0M625.0 300.5h1.0M632.5 296.3h1.0M606.2 277.0h1.0M624.4 307.5h1.0M633.5 307.8h1.0M580.5 330.6h1.0M630.9 279.4h1.0M636.4 287.1h1.0M629.7 326.0h1.0M633.2 299.1h1.0M615.0 272.4h1.0M591.6 267.4h1.0M592.0 277.5h1.0M622.7 280.7h1.0M634.5 317.3h1.0M626.9 271.4h1.0M617.4 286.5h1.0M628.2 328.6h1.0M612.6 272.9h1.0M619.4 278.2h1.0M613.0 265.7h1.0M621.2 330.4h1.0M608.5 278.3h1.0M632.8 290.3h1.0M628.9 316.2h1.0M633.4 295.4h1.0M634.9 302.1h1.0M617.6 269.0h1.0M622.4 319.1h1.0M628.9 326.7h1.0M619.7 278.4h1.0M625.3 311.4h1.0M625.5 311.8h1.0M628.0 324.5h1.0M607.0 274.7h1.0M625.7 320.3h1.0M626.5 317.7h1.0M596.9 276.6h1.0M613.0 276.4h1.0M632.7 303.3h1.0M629.6 302.4h1.0M621.7 312.6h1.0M629.9 329.5h1.0M630.6 303.3h1.0M632.0 271.5h1.0M610.2 273.2h1.0M615.4 267.9h1.0M622.8 280.9h1.0M623.5 282.4h1.0M626.2 309.7h1.0M617.1 267.4h1.0M624.3 319.8h1.0M622.1 323.2h1.0M634.7 302.8h1.0M630.7 297.1h1.0M617.0 278.2h1.0M625.3 299.8h1.0M636.5 317.7h1.0M602.7 269.1h1.0M608.8 279.9h1.0M578.9 328.5h1.0M619.5 329.8h1.0M627.8 327.5h1.0M626.3 289.4h1.0M595.7 273.2h1.0M636.8 275.7h1.0M602.5 266.1h1.0M629.8 313.8h1.0M632.3 289.5h1.0M635.2 291.7h1.0M608.8 276.6h1.0M627.1 288.2h1.0M619.3 322.8h1.0M626.0 303.0h1.0M630.0 294.9h1.0M610.0 278.7h1.0M620.8 320.4h1.0M625.3 311.2h1.0M589.8 282.2h1.0M607.1 279.5h1.0M619.4 276.1h1.0M597.1 265.8h1.0M625.2 317.8h1.0M605.5 280.2h1.0M621.5 284.1h1.0M625.7 302.0h1.0M630.5 295.0h1.0M622.7 320.9h1.0M630.6 295.9h1.0M641.2 290.4h1.0M626.5 277.0h1.0M618.9 265.8h1.0M630.9 310.7h1.0M601.0 276.5h1.0M590.0 281.0h1.0M626.3 314.3h1.0M597.8 272.6h1.0M626.9 300.2h1.0M599.5 270.9h1.0M627.2 321.2h1.0M632.9 296.0h1.0M616.1 274.2h1.0M633.4 309.8h1.0M624.3 274.0h1.0M605.9 273.6h1.0M627.7 306.0h1.0M630.0 318.1h1.0M635.2 309.3h1.0M618.1 271.6h1.0M606.5 277.4h1.0M620.4 315.0h1.0M601.9 269.4h1.0M621.7 266.7h1.0M584.6 267.5h1.0M608.9 273.8h1.0M626.1 293.0h1.0M623.5 310.4h1.0M604.3 281.5h1.0M635.9 298.1h1.0M629.0 313.7h1.0M625.1 314.3h1.0M620.7 328.8h1.0M626.1 308.9h1.0M635.8 298.6h1.0M635.8 298.2h1.0M624.3 303.2h1.0M604.6 269.9h1.0M626.8 300.6h1.0M633.1 307.3h1.0M589.8 284.6h1.0M632.0 323.3h1.0M627.6 324.1h1.0M602.1 277.8h1.0M611.0 268.8h1.0M632.9 271.4h1.0M629.0 318.3h1.0M632.5 274.4h1.0M620.3 281.6h1.0M609.9 267.5h1.0M624.2 322.3h1.0M625.5 308.7h1.0M621.9 322.5h1.0M592.0 265.9h1.0M619.3 270.0h1.0M606.6 282.3h1.0M590.7 272.6h1.0M609.9 271.1h1.0M627.1 314.9h1.0M639.9 303.9h1.0M626.7 271.4h1.0M624.6 275.9h1.0M622.3 313.4h1.0M624.6 322.5h1.0M638.7 285.7h1.0M618.7 320.6h1.0M591.8 275.9h1.0M635.9 293.5h1.0M623.7 321.0h1.0M622.9 280.5h1.0M607.3 275.5h1.0M624.2 319.8h1.0M609.8 283.7h1.0M627.2 309.6h1.0M631.5 304.8h1.0M621.9 310.6h1.0M618.8 271.0h1.0M626.2 322.1h1.0M623.2 308.3h1.0M627.0 307.0h1.0M609.8 272.5h1.0M585.1 266.2h1.0M625.2 312.8h1.0M628.3 318.7h1.0M627.8 269.4h1.0M629.4 314.2h1.0M629.6 324.7h1.0M617.9 318.9h1.0M624.8 310.9h1.0M615.5 324.4h1.0M637.6 315.5h1.0M624.1 275.9h1.0M592.0 280.1h1.0M613.5 273.0h1.0M629.4 310.4h1.0M612.0 271.2h1.0M628.4 285.8h1.0M628.3 295.9h1.0M626.7 302.0h1.0M595.2 265.5h1.0M628.7 269.4h1.0M615.9 282.7h1.0M635.4 301.3h1.0M635.4 299.5h1.0M603.4 277.0h1.0M613.0 277.3h1.0M634.8 276.6h1.0M630.5 324.5h1.0M595.0 278.9h1.0M620.9 289.4h1.0M627.3 322.1h1.0M602.0 275.2h1.0M617.9 283.7h1.0M596.9 278.2h1.0M613.4 279.6h1.0M589.3 273.2h1.0M622.7 311.3h1.0M611.0 272.6h1.0M623.2 277.7h1.0M634.6 287.9h1.0M608.8 282.0h1.0M610.5 283.5h1.0M630.7 297.0h1.0M596.0 277.1h1.0M623.3 296.8h1.0M595.9 277.3h1.0M620.9 313.2h1.0M623.8 269.2h1.0" stroke="#b8dcc8" stroke-width="1.0"/>
<path d="M602.2 269.5h1.0M621.2 269.6h1.0M608.2 267.5h1.0M624.2 323.7h1.0M624.0 269.7h1.0M608.5 274.4h1.0M623.0 285.4h1.0M625.4 322.7h1.0M599.0 278.6h1.0M628.0 307.7h1.0M629.5 318.3h1.0M628.4 309.4h1.0M619.7 270.2h1.0M628.7 326.0h1.0M626.1 324.1h1.0M593.1 277.9h1.0M591.7 268.4h1.0M624.8 303.9h1.0M615.8 275.1h1.0M605.5 268.1h1.0M624.5 313.3h1.0M627.1 321.8h1.0M601.3 268.3h1.0M604.5 266.0h1.0M632.3 307.4h1.0M630.5 317.6h1.0M593.8 273.0h1.0M620.8 291.6h1.0M629.0 302.0h1.0M603.7 268.8h1.0M633.7 301.1h1.0M635.9 320.5h1.0M603.2 279.3h1.0M591.0 269.5h1.0M588.4 267.5h1.0M602.5 274.8h1.0M630.9 309.4h1.0M627.2 290.2h1.0M630.0 321.9h1.0M636.4 314.5h1.0M610.3 278.2h1.0M599.3 271.3h1.0M603.0 268.8h1.0M625.0 299.7h1.0M607.3 273.0h1.0M599.7 272.7h1.0M637.0 315.7h1.0M623.6 273.6h1.0M594.8 275.1h1.0M630.7 316.6h1.0M620.7 291.7h1.0M631.2 304.4h1.0M605.2 276.2h1.0M627.1 315.1h1.0M591.1 274.9h1.0M623.8 303.2h1.0M631.4 327.5h1.0M625.2 323.3h1.0M630.6 320.6h1.0M629.1 296.8h1.0M621.8 311.2h1.0M628.4 309.9h1.0M594.8 270.5h1.0M593.2 266.0h1.0M629.7 318.1h1.0M622.8 307.8h1.0M594.0 271.6h1.0M625.7 330.9h1.0M630.6 297.8h1.0M609.6 276.7h1.0M624.3 305.4h1.0M624.0 307.2h1.0M628.8 288.8h1.0M606.1 281.5h1.0M632.2 307.3h1.0M618.9 277.0h1.0M605.2 272.0h1.0M629.7 314.8h1.0M615.8 266.3h1.0M621.6 279.5h1.0M615.3 278.4h1.0M624.3 310.5h1.0M630.9 319.6h1.0M622.0 328.0h1.0M622.2 314.0h1.0M615.7 269.1h1.0M628.7 312.6h1.0M623.3 270.8h1.0M624.2 290.9h1.0M630.3 301.6h1.0M635.8 320.4h1.0M603.7 275.4h1.0M625.2 327.0h1.0M611.3 270.0h1.0M599.1 268.2h1.0M597.0 274.4h1.0M612.4 273.9h1.0M602.9 274.5h1.0M606.6 267.8h1.0M613.2 270.3h1.0M631.8 320.6h1.0M587.0 274.6h1.0M625.8 322.8h1.0M597.1 268.7h1.0M623.9 280.4h1.0M601.4 278.8h1.0M623.3 294.0h1.0M615.6 277.6h1.0M632.0 288.9h1.0M628.1 319.1h1.0M616.2 273.9h1.0M623.1 286.5h1.0M599.9 276.7h1.0M600.5 279.8h1.0M628.8 295.6h1.0M607.5 270.8h1.0M634.3 320.7h1.0M603.0 272.9h1.0M634.6 308.0h1.0M623.0 328.9h1.0M623.2 322.5h1.0M628.1 318.8h1.0M631.9 315.5h1.0M622.6 268.3h1.0M632.4 301.0h1.0M610.3 280.4h1.0M612.2 279.3h1.0M628.4 319.1h1.0M617.4 270.3h1.0M616.7 322.5h1.0M636.5 313.9h1.0M589.5 278.8h1.0M608.4 278.3h1.0M627.9 324.3h1.0M614.3 268.3h1.0M598.0 277.7h1.0M625.7 309.3h1.0M632.1 290.6h1.0M600.9 265.6h1.0M624.6 296.0h1.0M603.7 277.0h1.0M599.7 272.6h1.0M622.3 325.7h1.0M615.0 276.8h1.0M597.0 271.0h1.0M621.1 323.5h1.0M605.8 278.8h1.0M596.0 272.6h1.0M595.2 269.1h1.0M614.8 273.4h1.0M600.2 275.3h1.0M626.3 309.6h1.0M624.6 285.2h1.0M603.3 267.1h1.0M628.0 290.8h1.0M613.1 272.2h1.0M627.1 302.0h1.0M639.3 298.4h1.0M588.2 268.5h1.0M632.9 305.5h1.0M615.8 271.4h1.0M620.6 312.9h1.0M621.3 327.9h1.0M629.9 304.4h1.0M609.9 274.6h1.0M594.1 281.8h1.0M618.6 276.1h1.0M625.9 328.5h1.0M594.0 275.6h1.0M590.6 272.7h1.0M586.1 272.6h1.0M600.1 271.2h1.0M627.0 321.5h1.0M605.3 268.1h1.0M611.2 272.3h1.0M626.5 310.6h1.0M623.2 271.1h1.0M632.1 292.1h1.0M627.8 320.7h1.0M605.1 267.9h1.0M617.1 269.7h1.0M630.6 291.0h1.0M621.6 311.7h1.0M597.8 268.6h1.0M607.6 268.9h1.0M598.0 279.3h1.0M590.7 266.5h1.0M612.9 279.0h1.0M632.3 301.5h1.0M630.5 308.3h1.0M632.5 311.0h1.0M620.9 313.8h1.0M594.7 268.1h1.0M626.0 304.1h1.0M609.6 267.5h1.0M627.4 313.0h1.0M626.5 311.6h1.0M616.3 288.0h1.0M592.3 268.0h1.0M606.1 279.7h1.0M625.5 313.2h1.0M604.9 272.7h1.0M627.5 302.2h1.0M626.2 315.5h1.0M613.0 275.7h1.0M626.9 318.7h1.0M621.7 319.1h1.0M597.9 279.8h1.0M615.6 277.8h1.0M626.1 312.4h1.0M622.3 330.5h1.0M616.2 324.7h1.0M608.3 278.7h1.0M626.7 291.6h1.0M599.5 277.3h1.0M586.2 266.6h1.0M629.5 285.3h1.0M634.0 308.1h1.0M624.3 287.2h1.0M591.9 275.6h1.0M613.0 273.1h1.0M626.3 311.5h1.0M610.6 271.1h1.0M629.4 329.9h1.0M617.6 265.5h1.0M634.9 312.2h1.0M600.4 274.1h1.0M591.3 265.5h1.0M624.3 301.5h1.0M628.4 303.5h1.0M624.7 307.7h1.0M622.5 325.8h1.0M620.8 317.0h1.0M625.3 299.2h1.0M591.1 273.2h1.0M601.3 267.0h1.0M625.3 309.4h1.0M623.0 326.1h1.0M624.2 299.6h1.0M626.2 303.5h1.0M597.8 276.4h1.0M628.9 282.6h1.0M605.1 270.4h1.0M619.6 267.7h1.0M630.5 317.4h1.0M629.6 306.0h1.0M601.3 274.2h1.0M630.3 282.0h1.0M602.6 273.9h1.0M602.7 274.6h1.0M620.7 318.9h1.0M635.7 288.6h1.0M636.5 307.2h1.0M628.0 309.6h1.0M618.6 317.4h1.0M607.5 277.8h1.0M629.3 289.8h1.0M607.5 269.1h1.0M589.8 277.0h1.0M625.0 267.2h1.0M626.5 303.4h1.0M622.9 270.0h1.0M636.4 315.8h1.0M629.9 295.0h1.0M630.2 299.4h1.0M626.3 301.1h1.0M624.7 305.7h1.0M626.7 329.0h1.0M624.8 284.3h1.0M606.6 268.7h1.0M625.8 316.7h1.0M598.6 271.6h1.0M604.4 271.8h1.0M628.2 320.1h1.0M629.9 301.1h1.0M630.4 302.0h1.0M632.4 316.8h1.0M625.1 327.1h1.0M623.2 312.7h1.0M622.9 310.8h1.0M607.1 275.9h1.0M624.4 305.2h1.0M628.0 301.6h1.0M598.1 276.8h1.0M626.3 306.7h1.0M632.9 309.5h1.0M623.4 326.0h1.0M607.9 276.2h1.0M626.8 325.0h1.0M627.8 321.2h1.0M630.1 284.0h1.0M625.1 296.6h1.0M592.4 278.8h1.0M602.9 265.8h1.0M629.2 298.3h1.0M614.5 268.9h1.0M628.8 315.3h1.0M585.8 266.4h1.0M630.1 311.1h1.0M609.3 275.6h1.0M624.5 306.8h1.0M625.8 308.2h1.0M627.1 309.3h1.0M611.7 281.5h1.0M628.4 318.3h1.0M621.9 293.3h1.0M630.3 322.1h1.0M634.8 316.8h1.0M624.5 307.5h1.0M619.4 277.8h1.0M591.7 283.4h1.0M599.4 269.1h1.0M629.1 305.7h1.0M640.3 295.0h1.0M609.9 275.5h1.0M606.5 268.0h1.0M615.8 273.7h1.0M620.2 269.4h1.0M616.7 322.1h1.0M619.6 321.6h1.0M624.7 302.7h1.0M613.4 278.1h1.0M629.1 313.9h1.0M622.3 284.3h1.0M625.3 305.0h1.0M627.6 313.1h1.0M618.7 267.0h1.0M593.2 276.3h1.0M628.9 315.5h1.0M623.7 289.8h1.0M618.9 274.6h1.0M593.3 281.0h1.0M586.8 269.9h1.0M622.0 322.8h1.0M632.7 319.8h1.0M637.8 300.5h1.0M623.4 320.8h1.0M623.1 318.4h1.0M627.6 329.8h1.0M633.1 303.3h1.0M610.2 274.4h1.0M622.6 293.4h1.0M628.9 317.3h1.0M622.6 328.6h1.0M607.9 269.8h1.0M598.5 272.6h1.0M620.5 326.4h1.0M637.1 296.3h1.0M625.6 286.1h1.0M600.4 277.4h1.0M623.0 297.0h1.0M618.4 278.9h1.0M611.9 272.8h1.0M626.3 330.6h1.0M627.7 300.4h1.0M634.1 296.3h1.0M615.1 270.4h1.0M624.1 285.0h1.0M626.1 318.1h1.0M611.0 270.2h1.0M631.5 295.4h1.0M588.0 266.2h1.0M626.4 303.9h1.0M608.6 273.6h1.0M607.1 269.9h1.0M601.1 269.8h1.0M608.5 268.3h1.0M624.3 300.3h1.0M622.8 293.2h1.0M627.2 324.2h1.0M632.0 326.4h1.0M622.0 294.8h1.0M606.7 275.0h1.0M623.7 283.0h1.0M618.2 280.6h1.0M621.8 271.9h1.0M616.9 269.6h1.0M628.7 323.0h1.0M611.2 284.1h1.0M624.3 267.6h1.0" stroke="#48a0b0" stroke-width="1.0"/>
<path d="M588.5 279.6h1.0M619.9 269.3h1.0M626.5 319.4h1.0M627.4 301.4h1.0M619.9 317.6h1.0M625.9 316.0h1.0M625.7 326.7h1.0M626.1 309.4h1.0M588.2 265.4h1.0M625.7 310.2h1.0M604.1 272.7h1.0M618.4 327.5h1.0M617.2 279.3h1.0M600.1 272.9h1.0M600.2 276.8h1.0M598.2 271.5h1.0M625.7 321.7h1.0M630.7 272.4h1.0M632.2 316.0h1.0M612.6 266.6h1.0M591.0 274.9h1.0M599.0 277.0h1.0M596.4 273.7h1.0M621.9 325.1h1.0M585.1 324.9h1.0M614.7 270.6h1.0M623.8 310.4h1.0M588.2 277.2h1.0M616.6 271.3h1.0M622.0 309.9h1.0M603.8 266.8h1.0M630.3 325.7h1.0M602.5 276.7h1.0M625.2 295.8h1.0M599.3 278.3h1.0M623.0 306.3h1.0M619.7 326.3h1.0M631.8 326.8h1.0M628.6 324.3h1.0M626.4 324.4h1.0M598.8 273.7h1.0M587.6 273.5h1.0M605.4 269.3h1.0M615.3 269.5h1.0M585.7 271.5h1.0M635.3 320.5h1.0M591.2 272.0h1.0M608.6 269.6h1.0M608.0 277.2h1.0M629.8 316.4h1.0M589.2 277.0h1.0M626.2 319.5h1.0M615.3 266.5h1.0M599.4 272.0h1.0M625.1 329.5h1.0M593.9 275.5h1.0M622.7 322.8h1.0M592.6 277.2h1.0M597.2 275.0h1.0M629.5 326.8h1.0M596.4 276.7h1.0M598.1 276.6h1.0M616.5 268.8h1.0M627.6 328.7h1.0M619.2 275.6h1.0M618.6 269.2h1.0M628.5 322.7h1.0M632.0 312.5h1.0M591.9 269.2h1.0M617.4 326.0h1.0M612.9 279.0h1.0M593.8 272.6h1.0M604.1 277.3h1.0M609.5 270.9h1.0M628.8 312.5h1.0M619.5 272.8h1.0M622.9 323.1h1.0M630.9 317.7h1.0M630.2 315.1h1.0M627.8 313.3h1.0M605.3 266.0h1.0M590.9 280.1h1.0M623.2 321.6h1.0M614.8 330.1h1.0M620.7 317.4h1.0M617.2 268.7h1.0M605.0 270.6h1.0M627.9 314.6h1.0M591.2 272.6h1.0M610.3 273.8h1.0M616.4 321.9h1.0M601.7 279.8h1.0M630.5 322.2h1.0M630.5 268.2h1.0M592.5 282.6h1.0M628.4 274.3h1.0M602.1 273.3h1.0M626.6 320.8h1.0M621.1 319.0h1.0M618.3 328.3h1.0M630.5 308.7h1.0M629.7 311.9h1.0M632.9 320.8h1.0M606.1 273.4h1.0M602.6 267.3h1.0M597.2 278.6h1.0M591.2 279.7h1.0M626.0 315.3h1.0M590.7 277.7h1.0M628.8 295.2h1.0M605.4 269.1h1.0M629.5 315.9h1.0M585.6 265.4h1.0M622.5 317.2h1.0M624.5 312.2h1.0M583.9 326.2h1.0M597.5 279.0h1.0M613.1 277.2h1.0M593.3 278.5h1.0M624.9 326.6h1.0M621.2 317.3h1.0M596.0 270.7h1.0M624.2 328.0h1.0M587.0 274.8h1.0M589.6 277.7h1.0M625.5 330.8h1.0M623.9 313.0h1.0M610.8 270.6h1.0M626.4 323.7h1.0M614.9 276.7h1.0M589.2 273.6h1.0M617.9 324.1h1.0M615.8 266.5h1.0M593.5 272.9h1.0M593.1 269.2h1.0M608.6 270.3h1.0M580.8 323.4h1.0M597.5 275.8h1.0M592.0 274.1h1.0M600.3 271.7h1.0M625.6 304.5h1.0M612.2 272.4h1.0M620.8 326.3h1.0M596.9 280.0h1.0M592.1 276.7h1.0M612.9 268.5h1.0M594.5 271.7h1.0M604.9 274.9h1.0M591.2 270.1h1.0M596.4 267.5h1.0M636.5 310.7h1.0M626.8 317.5h1.0M621.4 319.0h1.0M629.6 271.2h1.0M624.7 323.8h1.0M596.4 276.5h1.0M621.2 268.6h1.0M631.5 325.1h1.0M595.3 274.1h1.0M595.5 275.8h1.0M622.9 326.6h1.0M593.4 274.9h1.0M588.3 269.8h1.0M622.3 312.1h1.0M622.3 314.4h1.0M608.9 272.3h1.0M627.7 309.5h1.0M582.1 327.3h1.0M590.6 278.4h1.0M587.1 269.2h1.0M629.5 326.8h1.0M621.1 329.3h1.0M623.4 326.9h1.0M627.6 325.4h1.0M590.3 275.2h1.0M597.0 267.4h1.0M589.1 268.6h1.0M624.0 323.6h1.0M598.7 266.8h1.0M623.1 319.3h1.0M586.7 273.6h1.0M621.1 314.8h1.0M626.9 319.7h1.0M599.5 276.3h1.0M598.3 278.0h1.0M597.6 270.7h1.0M627.2 320.8h1.0M591.9 279.2h1.0M580.5 321.8h1.0M609.2 269.9h1.0M587.0 273.3h1.0M627.9 307.0h1.0M591.8 268.0h1.0M592.6 274.8h1.0M624.8 329.6h1.0M590.4 269.5h1.0M631.9 316.5h1.0M627.8 326.7h1.0M620.4 317.3h1.0M601.7 271.2h1.0M594.6 272.9h1.0M606.2 279.7h1.0M600.0 273.3h1.0M583.6 328.0h1.0M590.5 266.6h1.0M629.4 328.3h1.0M616.4 272.8h1.0M590.3 272.6h1.0M614.8 274.5h1.0M590.9 276.8h1.0M628.2 300.8h1.0M623.5 305.7h1.0M604.0 269.8h1.0M626.3 307.5h1.0M623.8 324.0h1.0M598.2 274.7h1.0M627.8 326.9h1.0M597.4 276.2h1.0M627.0 316.3h1.0M590.9 275.7h1.0M586.4 330.1h1.0M626.2 317.1h1.0M627.1 322.2h1.0M628.6 310.0h1.0M592.9 277.2h1.0M628.2 307.0h1.0M596.3 273.6h1.0M613.9 271.4h1.0M603.4 271.6h1.0M592.2 267.9h1.0M630.9 319.9h1.0M623.9 274.9h1.0M619.2 315.4h1.0M621.7 327.2h1.0M628.8 315.5h1.0M628.5 305.6h1.0M619.6 273.4h1.0M587.6 274.7h1.0M591.5 273.7h1.0M625.5 314.2h1.0M591.7 275.5h1.0M622.7 315.5h1.0M627.0 321.7h1.0M624.8 299.8h1.0M593.5 280.6h1.0M612.3 274.9h1.0M625.3 314.5h1.0M613.8 269.3h1.0M622.2 272.2h1.0M626.4 303.7h1.0M615.8 268.7h1.0M611.7 270.0h1.0M613.4 272.0h1.0M630.1 273.8h1.0M591.1 267.3h1.0M627.4 307.4h1.0M598.5 268.3h1.0M592.6 273.4h1.0M590.6 281.1h1.0M612.7 272.3h1.0M592.7 279.9h1.0M600.6 275.0h1.0M625.6 320.8h1.0M593.6 267.8h1.0M624.2 318.7h1.0M586.8 270.1h1.0M621.6 320.4h1.0M607.8 266.7h1.0M593.8 270.9h1.0M616.5 271.1h1.0M619.2 271.3h1.0M591.9 280.0h1.0M621.1 324.4h1.0M594.8 278.2h1.0M621.9 268.7h1.0M598.5 275.6h1.0M624.4 314.2h1.0M584.6 327.4h1.0M581.8 327.6h1.0M592.5 281.3h1.0M601.2 274.2h1.0M624.1 311.7h1.0M625.5 305.4h1.0M628.5 326.8h1.0M619.6 330.1h1.0M601.0 280.1h1.0M592.3 273.3h1.0M617.4 274.1h1.0M596.5 276.0h1.0M620.7 314.0h1.0M590.6 270.4h1.0M624.3 318.2h1.0M630.3 295.3h1.0M627.6 309.1h1.0M590.9 266.0h1.0M606.3 271.7h1.0M619.5 315.6h1.0M599.2 277.3h1.0M625.6 330.3h1.0M628.1 329.1h1.0" stroke="#1c5590" stroke-width="1.0"/>
<rect x="578.60" y="264.80" width="67.10" height="66.60" fill="none" stroke="#555" stroke-width="0.9"/>
<line x1="321.60" y1="331.40" x2="336.50" y2="353.60" stroke="#d06a98" stroke-width="0.8" />
<line x1="388.40" y1="331.40" x2="350.50" y2="353.60" stroke="#d06a98" stroke-width="0.8" />
<line x1="321.60" y1="331.40" x2="505.30" y2="353.60" stroke="#d06a98" stroke-width="0.8" />
<line x1="388.40" y1="331.40" x2="513.40" y2="353.60" stroke="#d06a98" stroke-width="0.8" />
<line x1="418.00" y1="331.40" x2="514.70" y2="353.60" stroke="#d06a98" stroke-width="0.8" />
<line x1="485.30" y1="331.40" x2="524.60" y2="353.60" stroke="#d06a98" stroke-width="0.8" />
<line x1="501.30" y1="331.40" x2="576.50" y2="353.60" stroke="#d06a98" stroke-width="0.8" />
<line x1="568.60" y1="331.40" x2="597.50" y2="353.60" stroke="#d06a98" stroke-width="0.8" />
<rect x="336.5" y="353.6" width="14.00" height="107.2" fill="none" stroke="#d06a98" stroke-width="0.8"/>
<rect x="505.3" y="353.6" width="8.10" height="107.2" fill="none" stroke="#d06a98" stroke-width="0.8"/>
<rect x="514.7" y="353.6" width="9.90" height="107.2" fill="none" stroke="#d06a98" stroke-width="0.8"/>
<rect x="576.5" y="353.6" width="21.00" height="107.2" fill="none" stroke="#d06a98" stroke-width="0.8"/>
<text x="353" y="358.3" font-size="7.5" font-style="italic" textLength="17.0" lengthAdjust="spacingAndGlyphs" >Nrn1</text>
<path d="M334.5,379.9 L334.5,379.0 L335.0,379.0 L335.5,378.8 L336.0,378.7 L336.5,378.4 L337.0,378.1 L337.5,377.6 L338.0,377.1 L338.5,376.5 L339.0,375.7 L339.5,375.0 L340.0,374.4 L340.5,374.4 L341.0,374.5 L341.5,374.5 L342.0,374.3 L342.5,374.0 L343.0,373.5 L343.5,372.9 L344.0,372.6 L344.5,373.2 L345.0,374.0 L345.5,374.7 L346.0,375.1 L346.5,375.1 L347.0,374.7 L347.5,373.9 L348.0,373.4 L348.5,374.5 L349.0,375.9 L349.5,377.1 L350.0,378.0 L350.5,378.5 L351.0,378.8 L351.5,379.0 L352.0,379.1 L352.5,379.0 L353.0,378.8 L353.5,378.2 L354.0,377.3 L354.5,377.3 L355.0,377.3 L355.5,376.8 L356.0,375.8 L356.5,375.6 L357.0,376.0 L357.5,376.1 L358.0,376.6 L358.5,377.4 L359.0,378.0 L359.5,378.3 L360.0,378.3 L360.5,378.0 L361.0,377.3 L361.5,376.5 L362.0,376.1 L362.5,376.0 L363.0,376.1 L363.5,376.7 L364.0,377.4 L364.5,378.0 L365.0,378.4 L365.5,378.7 L366.0,378.9 L366.5,379.1 L367.0,379.1 L367.5,379.2 L368.0,379.2 L368.5,379.2 L369.0,379.1 L369.5,379.1 L370.0,379.0 L370.5,378.8 L371.0,378.5 L371.5,378.1 L372.0,377.6 L372.5,377.2 L373.0,377.5 L373.5,378.0 L374.0,378.4 L374.5,378.7 L375.0,378.9 L375.5,379.0 L376.0,378.9 L376.5,378.7 L377.0,378.4 L377.5,378.0 L378.0,377.6 L378.5,377.9 L379.0,378.3 L379.5,378.7 L380.0,378.9 L380.5,379.0 L381.0,379.0 L381.5,378.8 L382.0,378.5 L382.5,378.1 L383.0,377.5 L383.5,376.7 L384.0,376.2 L384.5,376.7 L385.0,377.5 L385.5,378.1 L386.0,378.6 L386.5,378.9 L387.0,379.0 L387.5,379.1 L388.0,379.2 L388.5,379.2 L389.0,379.2 L389.5,379.2 L390.0,379.2 L390.5,379.2 L391.0,379.2 L391.5,379.2 L392.0,379.2 L392.5,379.2 L393.0,379.1 L393.5,379.0 L394.0,378.9 L394.5,378.6 L395.0,378.4 L395.5,378.4 L396.0,378.5 L396.5,378.5 L397.0,378.0 L397.5,377.0 L398.0,376.5 L398.5,377.1 L399.0,377.5 L399.5,377.4 L400.0,376.9 L400.5,376.4 L401.0,377.3 L401.5,378.1 L402.0,378.7 L402.5,379.0 L403.0,379.1 L403.5,379.2 L404.0,379.2 L404.5,379.2 L405.0,379.2 L405.5,379.2 L406.0,379.2 L406.5,379.2 L407.0,379.1 L407.5,379.0 L408.0,378.9 L408.5,378.7 L409.0,378.4 L409.5,378.0 L410.0,377.5 L410.5,376.9 L411.0,376.7 L411.5,377.1 L412.0,377.7 L412.5,378.2 L413.0,378.6 L413.5,378.8 L414.0,379.0 L414.5,379.1 L415.0,379.1 L415.5,379.0 L416.0,378.8 L416.5,378.4 L417.0,377.8 L417.5,376.8 L418.0,375.9 L418.5,376.3 L419.0,376.5 L419.5,376.0 L420.0,375.3 L420.5,375.7 L421.0,376.9 L421.5,377.4 L422.0,377.4 L422.5,377.0 L423.0,376.6 L423.5,376.1 L424.0,375.7 L424.5,375.6 L425.0,376.1 L425.5,376.8 L426.0,377.4 L426.5,377.6 L427.0,377.4 L427.5,376.8 L428.0,376.3 L428.5,377.0 L429.0,378.0 L429.5,378.6 L430.0,379.0 L430.5,379.1 L431.0,379.2 L431.5,379.2 L432.0,379.2 L432.5,379.2 L433.0,379.2 L433.5,379.2 L434.0,379.2 L434.5,379.2 L435.0,379.2 L435.5,379.2 L436.0,379.2 L436.5,379.1 L437.0,379.0 L437.5,378.7 L438.0,378.2 L438.5,377.5 L439.0,377.2 L439.5,377.8 L440.0,378.4 L440.5,378.8 L441.0,379.0 L441.5,379.1 L442.0,379.1 L442.5,378.9 L443.0,378.5 L443.5,377.8 L444.0,376.7 L444.5,376.3 L445.0,376.8 L445.5,377.7 L446.0,378.3 L446.5,378.6 L447.0,378.6 L447.5,378.4 L448.0,377.9 L448.5,377.6 L449.0,377.4 L449.5,377.1 L450.0,376.7 L450.5,376.5 L451.0,377.0 L451.5,377.6 L452.0,378.1 L452.5,378.5 L453.0,378.7 L453.5,378.9 L454.0,379.0 L454.5,379.0 L455.0,378.9 L455.5,378.7 L456.0,378.4 L456.5,378.0 L457.0,377.7 L457.5,377.9 L458.0,378.2 L458.5,378.6 L459.0,378.8 L459.5,379.0 L460.0,379.1 L460.5,379.2 L461.0,379.2 L461.5,379.2 L462.0,379.2 L462.5,379.2 L463.0,379.2 L463.5,379.2 L464.0,379.1 L464.5,379.1 L465.0,378.9 L465.5,378.7 L466.0,378.4 L466.5,377.9 L467.0,377.3 L467.5,376.8 L468.0,376.8 L468.5,376.8 L469.0,376.4 L469.5,375.4 L470.0,373.6 L470.5,371.2 L471.0,368.5 L471.5,367.3 L472.0,369.5 L472.5,372.0 L473.0,373.9 L473.5,374.8 L474.0,374.7 L474.5,374.9 L475.0,375.0 L475.5,374.4 L476.0,373.5 L476.5,373.9 L477.0,374.1 L477.5,374.8 L478.0,376.1 L478.5,376.7 L479.0,376.4 L479.5,375.7 L480.0,375.1 L480.5,375.9 L481.0,376.8 L481.5,377.7 L482.0,378.3 L482.5,378.6 L483.0,378.8 L483.5,378.8 L484.0,378.7 L484.5,378.5 L485.0,378.3 L485.5,378.1 L486.0,378.2 L486.5,378.4 L487.0,378.7 L487.5,378.8 L488.0,378.9 L488.5,378.9 L489.0,378.9 L489.5,378.7 L490.0,378.4 L490.5,378.0 L491.0,377.6 L491.5,377.6 L492.0,377.9 L492.5,378.1 L493.0,378.2 L493.5,378.1 L494.0,377.8 L494.5,377.5 L495.0,377.1 L495.5,376.7 L496.0,376.2 L496.5,375.7 L497.0,375.4 L497.5,375.4 L498.0,375.5 L498.5,375.9 L499.0,376.5 L499.5,377.1 L500.0,377.5 L500.5,377.7 L501.0,377.6 L501.5,377.3 L502.0,376.8 L502.5,376.0 L503.0,375.5 L503.5,374.7 L504.0,375.6 L504.5,376.3 L505.0,376.9 L505.5,377.2 L506.0,377.4 L506.5,377.5 L507.0,377.5 L507.5,377.5 L508.0,377.3 L508.5,377.0 L509.0,376.5 L509.5,375.8 L510.0,374.9 L510.5,373.7 L511.0,372.4 L511.5,371.4 L512.0,372.0 L512.5,372.8 L513.0,373.3 L513.5,373.1 L514.0,372.2 L514.5,370.4 L515.0,368.0 L515.5,365.3 L516.0,363.5 L516.5,365.3 L517.0,368.0 L517.5,370.3 L518.0,371.9 L518.5,372.4 L519.0,371.9 L519.5,370.4 L520.0,367.9 L520.5,364.9 L521.0,362.1 L521.5,362.7 L522.0,365.8 L522.5,369.0 L523.0,371.7 L523.5,373.7 L524.0,375.0 L524.5,375.6 L525.0,375.6 L525.5,375.0 L526.0,374.1 L526.5,372.9 L527.0,372.7 L527.5,373.7 L528.0,374.6 L528.5,375.1 L529.0,375.1 L529.5,374.5 L530.0,373.4 L530.5,371.6 L531.0,369.4 L531.5,367.0 L532.0,364.8 L532.5,364.8 L533.0,366.4 L533.5,367.6 L534.0,367.9 L534.5,366.6 L535.0,363.7 L535.5,359.2 L536.0,354.5 L536.5,354.0 L537.0,358.9 L537.5,364.1 L538.0,368.0 L538.5,370.2 L539.0,370.9 L539.5,370.8 L540.0,371.3 L540.5,373.0 L541.0,374.6 L541.5,375.8 L542.0,376.7 L542.5,377.2 L543.0,377.4 L543.5,377.6 L544.0,377.6 L544.5,377.7 L545.0,377.7 L545.5,377.6 L546.0,377.6 L546.5,377.5 L547.0,377.4 L547.5,377.2 L548.0,376.9 L548.5,376.6 L549.0,376.1 L549.5,375.5 L550.0,374.8 L550.5,374.2 L551.0,374.2 L551.5,374.2 L552.0,373.8 L552.5,372.9 L553.0,371.4 L553.5,369.4 L554.0,367.4 L554.5,366.5 L555.0,368.3 L555.5,370.4 L556.0,372.2 L556.5,373.5 L557.0,374.1 L557.5,374.2 L558.0,373.7 L558.5,372.7 L559.0,371.5 L559.5,370.2 L560.0,369.1 L560.5,369.4 L561.0,369.7 L561.5,369.1 L562.0,367.3 L562.5,364.1 L563.0,359.7 L563.5,355.8 L564.0,358.3 L564.5,363.3 L565.0,367.5 L565.5,369.9 L566.0,370.4 L566.5,369.3 L567.0,367.4 L567.5,366.6 L568.0,369.0 L568.5,371.8 L569.0,374.0 L569.5,375.6 L570.0,376.5 L570.5,377.1 L571.0,377.3 L571.5,377.2 L572.0,377.0 L572.5,376.4 L573.0,375.5 L573.5,374.1 L574.0,372.2 L574.5,370.1 L575.0,368.7 L575.5,370.1 L576.0,372.1 L576.5,373.9 L577.0,375.2 L577.5,376.0 L578.0,376.3 L578.5,376.3 L579.0,376.0 L579.5,375.4 L580.0,374.5 L580.5,373.3 L581.0,371.8 L581.5,370.0 L582.0,368.0 L582.5,365.8 L583.0,363.7 L583.5,362.4 L584.0,363.3 L584.5,364.9 L585.0,366.5 L585.5,367.6 L586.0,368.2 L586.5,368.1 L587.0,367.4 L587.5,366.1 L588.0,364.9 L588.5,365.0 L589.0,365.1 L589.5,364.8 L590.0,363.9 L590.5,362.4 L591.0,360.7 L591.5,359.2 L592.0,359.9 L592.5,362.2 L593.0,364.9 L593.5,367.4 L594.0,369.7 L594.5,371.5 L595.0,372.8 L595.5,373.5 L596.0,373.6 L596.5,373.0 L597.0,371.8 L597.5,370.3 L598.0,369.3 L598.5,370.7 L599.0,372.7 L599.5,374.4 L600.0,375.7 L600.5,376.5 L601.0,377.1 L601.5,377.4 L602.0,379.0 L602.5,379.1 L602.8,379.9 Z" fill="#d42a2e" stroke="none" stroke-width="1" />
<line x1="334.50" y1="379.90" x2="602.80" y2="379.90" stroke="#333" stroke-width="0.9" />
<path d="M334.5,406.9 L334.5,406.0 L335.0,405.8 L335.5,405.5 L336.0,405.0 L336.5,404.2 L337.0,403.2 L337.5,401.8 L338.0,400.4 L338.5,399.2 L339.0,399.7 L339.5,400.9 L340.0,402.0 L340.5,402.7 L341.0,402.7 L341.5,402.1 L342.0,400.7 L342.5,398.6 L343.0,396.2 L343.5,394.0 L344.0,394.3 L344.5,396.5 L345.0,398.6 L345.5,400.2 L346.0,400.8 L346.5,400.6 L347.0,399.9 L347.5,399.7 L348.0,401.2 L348.5,402.8 L349.0,404.1 L349.5,405.0 L350.0,405.5 L350.5,405.8 L351.0,406.0 L351.5,406.0 L352.0,405.8 L352.5,405.6 L353.0,405.3 L353.5,404.8 L354.0,404.3 L354.5,404.1 L355.0,404.3 L355.5,404.8 L356.0,405.3 L356.5,405.6 L357.0,405.8 L357.5,406.0 L358.0,406.0 L358.5,406.0 L359.0,405.9 L359.5,405.7 L360.0,405.4 L360.5,405.0 L361.0,404.5 L361.5,404.2 L362.0,404.5 L362.5,404.9 L363.0,405.2 L363.5,405.2 L364.0,404.9 L364.5,404.4 L365.0,403.6 L365.5,402.9 L366.0,403.2 L366.5,404.1 L367.0,404.8 L367.5,405.4 L368.0,405.7 L368.5,405.9 L369.0,406.0 L369.5,405.9 L370.0,405.7 L370.5,405.3 L371.0,404.9 L371.5,404.5 L372.0,404.7 L372.5,405.0 L373.0,404.9 L373.5,404.6 L374.0,404.5 L374.5,405.2 L375.0,405.7 L375.5,406.0 L376.0,406.1 L376.5,406.1 L377.0,406.0 L377.5,405.9 L378.0,405.7 L378.5,405.3 L379.0,404.8 L379.5,404.2 L380.0,403.5 L380.5,403.1 L381.0,403.3 L381.5,403.4 L382.0,403.0 L382.5,402.3 L383.0,402.5 L383.5,403.6 L384.0,404.7 L384.5,405.3 L385.0,405.7 L385.5,405.9 L386.0,406.0 L386.5,406.1 L387.0,406.2 L387.5,406.2 L388.0,406.2 L388.5,406.2 L389.0,406.2 L389.5,406.2 L390.0,406.2 L390.5,406.2 L391.0,406.2 L391.5,406.2 L392.0,406.2 L392.5,406.2 L393.0,406.2 L393.5,406.1 L394.0,406.1 L394.5,406.0 L395.0,405.8 L395.5,405.6 L396.0,405.3 L396.5,404.9 L397.0,404.7 L397.5,404.9 L398.0,405.3 L398.5,405.6 L399.0,405.8 L399.5,406.0 L400.0,406.1 L400.5,406.1 L401.0,406.2 L401.5,406.2 L402.0,406.2 L402.5,406.2 L403.0,406.2 L403.5,406.2 L404.0,406.2 L404.5,406.2 L405.0,406.2 L405.5,406.2 L406.0,406.2 L406.5,406.2 L407.0,406.2 L407.5,406.2 L408.0,406.2 L408.5,406.2 L409.0,406.2 L409.5,406.2 L410.0,406.2 L410.5,406.2 L411.0,406.2 L411.5,406.2 L412.0,406.2 L412.5,406.2 L413.0,406.2 L413.5,406.2 L414.0,406.2 L414.5,406.2 L415.0,406.2 L415.5,406.2 L416.0,406.2 L416.5,406.1 L417.0,405.9 L417.5,405.4 L418.0,404.6 L418.5,403.7 L419.0,404.4 L419.5,405.3 L420.0,405.8 L420.5,406.1 L421.0,406.2 L421.5,406.2 L422.0,406.2 L422.5,406.2 L423.0,406.2 L423.5,406.2 L424.0,406.2 L424.5,406.2 L425.0,406.2 L425.5,406.2 L426.0,406.2 L426.5,406.2 L427.0,406.2 L427.5,406.2 L428.0,406.1 L428.5,406.0 L429.0,405.8 L429.5,405.5 L430.0,405.1 L430.5,404.5 L431.0,404.0 L431.5,404.0 L432.0,404.5 L432.5,405.1 L433.0,405.5 L433.5,405.7 L434.0,405.8 L434.5,405.5 L435.0,404.8 L435.5,403.4 L436.0,403.1 L436.5,403.7 L437.0,403.9 L437.5,403.9 L438.0,404.3 L438.5,404.5 L439.0,404.5 L439.5,404.4 L440.0,404.5 L440.5,405.0 L441.0,405.5 L441.5,405.8 L442.0,406.0 L442.5,406.1 L443.0,406.2 L443.5,406.2 L444.0,406.2 L444.5,406.2 L445.0,406.2 L445.5,406.2 L446.0,406.2 L446.5,406.2 L447.0,406.1 L447.5,406.0 L448.0,405.6 L448.5,404.8 L449.0,403.5 L449.5,401.9 L450.0,401.8 L450.5,402.3 L451.0,403.3 L451.5,404.1 L452.0,404.7 L452.5,405.2 L453.0,405.6 L453.5,405.8 L454.0,406.0 L454.5,406.1 L455.0,406.1 L455.5,406.2 L456.0,406.2 L456.5,406.2 L457.0,406.2 L457.5,406.2 L458.0,406.2 L458.5,406.2 L459.0,406.2 L459.5,406.2 L460.0,406.2 L460.5,406.2 L461.0,406.2 L461.5,406.1 L462.0,406.0 L462.5,405.7 L463.0,405.3 L463.5,404.6 L464.0,404.1 L464.5,404.5 L465.0,405.2 L465.5,405.7 L466.0,406.0 L466.5,406.1 L467.0,406.2 L467.5,406.2 L468.0,406.2 L468.5,406.2 L469.0,406.0 L469.5,405.7 L470.0,404.8 L470.5,403.4 L471.0,403.0 L471.5,403.7 L472.0,405.0 L472.5,405.8 L473.0,406.1 L473.5,406.2 L474.0,406.2 L474.5,406.2 L475.0,406.1 L475.5,406.0 L476.0,405.8 L476.5,405.5 L477.0,404.9 L477.5,404.4 L478.0,404.7 L478.5,405.3 L479.0,405.7 L479.5,406.0 L480.0,406.1 L480.5,406.2 L481.0,406.2 L481.5,406.2 L482.0,406.2 L482.5,406.1 L483.0,405.9 L483.5,405.6 L484.0,405.1 L484.5,404.6 L485.0,404.5 L485.5,403.9 L486.0,402.9 L486.5,402.8 L487.0,403.1 L487.5,403.0 L488.0,403.1 L488.5,403.4 L489.0,404.1 L489.5,404.8 L490.0,405.4 L490.5,405.7 L491.0,405.9 L491.5,406.1 L492.0,406.1 L492.5,406.2 L493.0,406.2 L493.5,406.2 L494.0,406.2 L494.5,406.2 L495.0,406.2 L495.5,406.2 L496.0,406.2 L496.5,406.1 L497.0,406.1 L497.5,406.0 L498.0,405.8 L498.5,405.6 L499.0,405.3 L499.5,405.0 L500.0,405.0 L500.5,405.2 L501.0,405.3 L501.5,405.3 L502.0,405.0 L502.5,404.6 L503.0,404.0 L503.5,401.7 L504.0,400.9 L504.5,400.2 L505.0,400.6 L505.5,401.3 L506.0,402.1 L506.5,402.8 L507.0,403.3 L507.5,403.6 L508.0,403.7 L508.5,403.6 L509.0,403.3 L509.5,402.8 L510.0,402.0 L510.5,401.2 L511.0,400.3 L511.5,399.7 L512.0,400.3 L512.5,401.2 L513.0,402.1 L513.5,402.8 L514.0,403.4 L514.5,403.8 L515.0,403.9 L515.5,403.8 L516.0,403.5 L516.5,402.7 L517.0,401.5 L517.5,399.6 L518.0,396.9 L518.5,393.5 L519.0,389.8 L519.5,386.9 L520.0,388.5 L520.5,392.1 L521.0,395.6 L521.5,398.6 L522.0,400.8 L522.5,402.3 L523.0,403.2 L523.5,403.8 L524.0,404.0 L524.5,403.9 L525.0,403.6 L525.5,403.0 L526.0,402.2 L526.5,401.0 L527.0,399.5 L527.5,397.8 L528.0,396.1 L528.5,395.2 L529.0,396.1 L529.5,397.3 L530.0,398.1 L530.5,398.5 L531.0,398.3 L531.5,397.3 L532.0,395.7 L532.5,393.5 L533.0,390.9 L533.5,388.0 L534.0,385.3 L534.5,383.7 L535.0,385.4 L535.5,388.1 L536.0,391.1 L536.5,394.0 L537.0,396.5 L537.5,398.6 L538.0,400.2 L538.5,401.5 L539.0,402.3 L539.5,402.8 L540.0,403.0 L540.5,402.9 L541.0,402.4 L541.5,401.6 L542.0,400.6 L542.5,399.4 L543.0,398.6 L543.5,399.5 L544.0,400.7 L544.5,401.9 L545.0,402.8 L545.5,403.5 L546.0,404.0 L546.5,404.3 L547.0,404.5 L547.5,404.5 L548.0,404.6 L548.5,404.5 L549.0,404.5 L549.5,404.3 L550.0,404.1 L550.5,403.8 L551.0,403.2 L551.5,402.5 L552.0,401.5 L552.5,400.2 L553.0,398.7 L553.5,397.0 L554.0,395.4 L554.5,394.8 L555.0,396.0 L555.5,397.6 L556.0,399.3 L556.5,400.6 L557.0,401.7 L557.5,402.4 L558.0,402.6 L558.5,402.4 L559.0,401.7 L559.5,400.3 L560.0,398.2 L560.5,395.6 L561.0,392.6 L561.5,390.3 L562.0,391.4 L562.5,394.2 L563.0,396.8 L563.5,398.7 L564.0,399.7 L564.5,399.7 L565.0,398.8 L565.5,397.1 L566.0,395.0 L566.5,393.0 L567.0,393.4 L567.5,395.7 L568.0,398.1 L568.5,400.2 L569.0,401.7 L569.5,402.7 L570.0,403.3 L570.5,403.5 L571.0,403.4 L571.5,403.1 L572.0,402.6 L572.5,401.9 L573.0,401.1 L573.5,400.4 L574.0,400.6 L574.5,401.1 L575.0,401.5 L575.5,401.8 L576.0,401.8 L576.5,401.6 L577.0,401.1 L577.5,400.2 L578.0,399.1 L578.5,397.8 L579.0,396.1 L579.5,394.3 L580.0,392.3 L580.5,390.4 L581.0,388.7 L581.5,387.6 L582.0,388.6 L582.5,390.3 L583.0,392.1 L583.5,393.9 L584.0,395.6 L584.5,397.0 L585.0,398.0 L585.5,398.7 L586.0,398.9 L586.5,398.7 L587.0,398.1 L587.5,396.9 L588.0,395.4 L588.5,393.5 L589.0,391.2 L589.5,389.0 L590.0,386.9 L590.5,386.2 L591.0,387.8 L591.5,390.2 L592.0,392.6 L592.5,395.0 L593.0,397.0 L593.5,398.8 L594.0,400.1 L594.5,401.1 L595.0,401.7 L595.5,402.0 L596.0,401.9 L596.5,401.6 L597.0,401.0 L597.5,400.4 L598.0,400.0 L598.5,400.6 L599.0,401.5 L599.5,402.3 L600.0,403.0 L600.5,403.6 L601.0,404.0 L601.5,404.2 L602.0,405.9 L602.5,406.0 L602.8,406.9 Z" fill="#2e3178" stroke="none" stroke-width="1" />
<line x1="334.50" y1="406.90" x2="602.80" y2="406.90" stroke="#333" stroke-width="0.9" />
<path d="M334.5,433.8 L334.5,433.1 L335.0,433.1 L335.5,433.1 L336.0,433.1 L336.5,433.0 L337.0,432.9 L337.5,432.7 L338.0,432.2 L338.5,431.3 L339.0,429.7 L339.5,427.1 L340.0,423.3 L340.5,418.5 L341.0,414.0 L341.5,414.7 L342.0,419.4 L342.5,423.9 L343.0,427.2 L343.5,429.2 L344.0,430.1 L344.5,430.1 L345.0,429.5 L345.5,428.5 L346.0,427.4 L346.5,427.3 L347.0,428.4 L347.5,429.6 L348.0,430.7 L348.5,431.5 L349.0,432.1 L349.5,432.5 L350.0,432.8 L350.5,432.9 L351.0,433.0 L351.5,433.1 L352.0,433.1 L352.5,433.1 L353.0,433.1 L353.5,433.1 L354.0,433.1 L354.5,433.1 L355.0,433.1 L355.5,433.1 L356.0,433.1 L356.5,433.1 L357.0,433.1 L357.5,433.1 L358.0,433.1 L358.5,433.1 L359.0,433.1 L359.5,433.1 L360.0,433.1 L360.5,433.1 L361.0,433.1 L361.5,433.1 L362.0,433.0 L362.5,432.8 L363.0,432.6 L363.5,432.3 L364.0,432.0 L364.5,432.2 L365.0,432.5 L365.5,432.8 L366.0,432.9 L366.5,432.9 L367.0,432.9 L367.5,432.8 L368.0,432.6 L368.5,432.4 L369.0,432.2 L369.5,432.4 L370.0,432.6 L370.5,432.8 L371.0,432.9 L371.5,433.0 L372.0,433.1 L372.5,433.1 L373.0,433.1 L373.5,433.1 L374.0,433.1 L374.5,433.1 L375.0,433.1 L375.5,433.1 L376.0,433.1 L376.5,433.1 L377.0,433.1 L377.5,433.1 L378.0,433.0 L378.5,433.0 L379.0,432.9 L379.5,432.7 L380.0,432.4 L380.5,432.1 L381.0,431.9 L381.5,432.2 L382.0,432.5 L382.5,432.8 L383.0,432.9 L383.5,433.0 L384.0,432.9 L384.5,432.7 L385.0,432.1 L385.5,430.9 L386.0,429.9 L386.5,430.8 L387.0,432.1 L387.5,432.7 L388.0,433.0 L388.5,433.1 L389.0,433.1 L389.5,433.1 L390.0,433.1 L390.5,433.1 L391.0,433.0 L391.5,432.9 L392.0,432.7 L392.5,432.4 L393.0,431.8 L393.5,431.3 L394.0,431.7 L394.5,432.3 L395.0,432.7 L395.5,432.9 L396.0,433.0 L396.5,433.1 L397.0,433.1 L397.5,433.1 L398.0,433.1 L398.5,433.1 L399.0,433.1 L399.5,433.1 L400.0,433.1 L400.5,433.1 L401.0,433.1 L401.5,433.1 L402.0,433.1 L402.5,433.1 L403.0,433.1 L403.5,433.1 L404.0,433.1 L404.5,433.1 L405.0,433.1 L405.5,433.1 L406.0,433.1 L406.5,433.1 L407.0,433.1 L407.5,433.0 L408.0,433.0 L408.5,432.9 L409.0,432.6 L409.5,432.3 L410.0,431.8 L410.5,431.3 L411.0,431.1 L411.5,431.7 L412.0,432.3 L412.5,432.7 L413.0,432.7 L413.5,432.6 L414.0,432.3 L414.5,431.7 L415.0,431.0 L415.5,430.4 L416.0,430.5 L416.5,430.8 L417.0,431.2 L417.5,431.8 L418.0,432.2 L418.5,432.5 L419.0,432.6 L419.5,432.3 L420.0,431.7 L420.5,430.9 L421.0,431.4 L421.5,432.2 L422.0,432.7 L422.5,432.9 L423.0,432.9 L423.5,432.8 L424.0,432.6 L424.5,432.3 L425.0,432.0 L425.5,431.7 L426.0,431.9 L426.5,432.2 L427.0,432.5 L427.5,432.7 L428.0,432.9 L428.5,433.0 L429.0,433.0 L429.5,433.1 L430.0,433.1 L430.5,433.1 L431.0,433.1 L431.5,433.1 L432.0,433.1 L432.5,433.1 L433.0,433.1 L433.5,433.1 L434.0,433.1 L434.5,433.1 L435.0,433.1 L435.5,433.1 L436.0,433.1 L436.5,433.1 L437.0,433.1 L437.5,433.1 L438.0,433.1 L438.5,433.1 L439.0,433.0 L439.5,433.0 L440.0,432.9 L440.5,432.7 L441.0,432.4 L441.5,431.8 L442.0,431.0 L442.5,429.8 L443.0,428.6 L443.5,428.4 L444.0,429.4 L444.5,430.2 L445.0,430.7 L445.5,430.9 L446.0,431.4 L446.5,432.0 L447.0,432.4 L447.5,432.7 L448.0,432.9 L448.5,433.0 L449.0,433.0 L449.5,433.1 L450.0,433.0 L450.5,433.0 L451.0,432.9 L451.5,432.7 L452.0,432.3 L452.5,431.9 L453.0,431.4 L453.5,431.2 L454.0,431.6 L454.5,432.1 L455.0,432.5 L455.5,432.8 L456.0,432.9 L456.5,433.0 L457.0,433.0 L457.5,432.9 L458.0,432.7 L458.5,432.2 L459.0,431.6 L459.5,431.5 L460.0,431.0 L460.5,430.9 L461.0,432.0 L461.5,432.7 L462.0,433.0 L462.5,433.1 L463.0,433.1 L463.5,433.1 L464.0,433.1 L464.5,433.1 L465.0,433.1 L465.5,433.1 L466.0,433.1 L466.5,433.1 L467.0,433.1 L467.5,433.1 L468.0,433.0 L468.5,432.9 L469.0,432.6 L469.5,431.9 L470.0,430.7 L470.5,428.7 L471.0,426.1 L471.5,424.8 L472.0,427.1 L472.5,429.5 L473.0,431.2 L473.5,432.1 L474.0,432.4 L474.5,432.4 L475.0,432.1 L475.5,431.9 L476.0,432.1 L476.5,432.3 L477.0,432.2 L477.5,432.0 L478.0,432.1 L478.5,432.1 L479.0,431.9 L479.5,431.8 L480.0,431.6 L480.5,431.0 L481.0,430.2 L481.5,429.6 L482.0,430.2 L482.5,431.1 L483.0,431.7 L483.5,431.8 L484.0,431.4 L484.5,430.5 L485.0,429.2 L485.5,427.8 L486.0,427.2 L486.5,427.8 L487.0,428.6 L487.5,428.9 L488.0,428.7 L488.5,428.3 L489.0,428.7 L489.5,429.8 L490.0,430.6 L490.5,430.7 L491.0,430.3 L491.5,430.5 L492.0,430.5 L492.5,431.4 L493.0,432.3 L493.5,432.8 L494.0,433.0 L494.5,433.1 L495.0,433.1 L495.5,433.0 L496.0,433.0 L496.5,432.8 L497.0,432.5 L497.5,431.9 L498.0,431.0 L498.5,429.7 L499.0,428.8 L499.5,428.5 L500.0,428.0 L500.5,427.6 L501.0,428.7 L501.5,430.0 L502.0,431.2 L502.5,432.0 L503.0,432.5 L503.5,431.2 L504.0,431.3 L504.5,431.3 L505.0,431.1 L505.5,430.7 L506.0,430.1 L506.5,429.1 L507.0,427.9 L507.5,426.7 L508.0,426.8 L508.5,427.7 L509.0,428.3 L509.5,428.3 L510.0,427.5 L510.5,425.8 L511.0,423.2 L511.5,420.2 L512.0,418.1 L512.5,420.2 L513.0,423.3 L513.5,426.1 L514.0,428.2 L514.5,429.5 L515.0,430.2 L515.5,430.4 L516.0,430.2 L516.5,429.6 L517.0,428.4 L517.5,426.8 L518.0,424.6 L518.5,422.2 L519.0,420.0 L519.5,420.4 L520.0,422.7 L520.5,425.1 L521.0,427.2 L521.5,428.8 L522.0,429.9 L522.5,430.6 L523.0,431.0 L523.5,431.3 L524.0,431.4 L524.5,431.5 L525.0,431.5 L525.5,431.4 L526.0,431.3 L526.5,431.0 L527.0,430.6 L527.5,430.0 L528.0,429.1 L528.5,427.8 L529.0,426.1 L529.5,423.9 L530.0,421.6 L530.5,419.6 L531.0,419.7 L531.5,421.3 L532.0,422.9 L532.5,424.1 L533.0,424.4 L533.5,424.0 L534.0,422.6 L534.5,420.5 L535.0,417.8 L535.5,415.2 L536.0,413.4 L536.5,415.4 L537.0,418.3 L537.5,421.3 L538.0,424.0 L538.5,426.2 L539.0,427.9 L539.5,429.0 L540.0,429.6 L540.5,429.8 L541.0,429.5 L541.5,428.6 L542.0,427.0 L542.5,424.9 L543.0,423.0 L543.5,423.3 L544.0,425.5 L544.5,427.5 L545.0,429.1 L545.5,430.1 L546.0,430.7 L546.5,431.0 L547.0,431.1 L547.5,431.0 L548.0,430.8 L548.5,430.5 L549.0,430.2 L549.5,429.7 L550.0,429.0 L550.5,428.3 L551.0,427.4 L551.5,426.4 L552.0,425.3 L552.5,424.2 L553.0,423.2 L553.5,422.6 L554.0,423.2 L554.5,424.2 L555.0,425.2 L555.5,426.2 L556.0,427.1 L556.5,427.7 L557.0,427.9 L557.5,427.6 L558.0,426.6 L558.5,424.7 L559.0,421.9 L559.5,418.8 L560.0,416.6 L560.5,418.9 L561.0,422.2 L561.5,425.0 L562.0,427.0 L562.5,428.2 L563.0,428.6 L563.5,428.4 L564.0,427.9 L564.5,427.1 L565.0,426.1 L565.5,425.2 L566.0,424.6 L566.5,425.2 L567.0,426.1 L567.5,427.1 L568.0,428.0 L568.5,428.8 L569.0,429.4 L569.5,429.7 L570.0,429.9 L570.5,429.9 L571.0,429.7 L571.5,429.4 L572.0,428.9 L572.5,428.4 L573.0,427.9 L573.5,427.6 L574.0,427.9 L574.5,428.5 L575.0,429.1 L575.5,429.6 L576.0,430.1 L576.5,430.4 L577.0,430.6 L577.5,430.7 L578.0,430.7 L578.5,430.4 L579.0,430.0 L579.5,429.3 L580.0,428.3 L580.5,426.9 L581.0,425.0 L581.5,422.7 L582.0,420.0 L582.5,417.1 L583.0,414.3 L583.5,412.6 L584.0,414.3 L584.5,417.0 L585.0,419.8 L585.5,422.4 L586.0,424.5 L586.5,426.1 L587.0,427.0 L587.5,427.2 L588.0,426.9 L588.5,425.8 L589.0,424.0 L589.5,421.6 L590.0,418.7 L590.5,415.6 L591.0,413.0 L591.5,413.5 L592.0,416.3 L592.5,419.5 L593.0,422.5 L593.5,425.1 L594.0,427.0 L594.5,428.5 L595.0,429.5 L595.5,430.2 L596.0,430.6 L596.5,430.7 L597.0,430.7 L597.5,430.4 L598.0,430.1 L598.5,429.6 L599.0,429.0 L599.5,428.6 L600.0,428.9 L600.5,429.4 L601.0,429.9 L601.5,430.4 L602.0,432.3 L602.5,432.6 L602.8,433.8 Z" fill="#3b8b3d" stroke="none" stroke-width="1" />
<line x1="334.50" y1="433.80" x2="602.80" y2="433.80" stroke="#333" stroke-width="0.9" />
<path d="M334.5,461.0 L334.5,460.3 L335.0,460.3 L335.5,460.3 L336.0,460.3 L336.5,460.3 L337.0,460.2 L337.5,460.1 L338.0,459.8 L338.5,459.0 L339.0,457.5 L339.5,454.7 L340.0,450.0 L340.5,443.5 L341.0,436.8 L341.5,437.9 L342.0,444.8 L342.5,451.0 L343.0,455.2 L343.5,457.5 L344.0,458.4 L344.5,458.2 L345.0,456.9 L345.5,454.5 L346.0,451.2 L346.5,447.6 L347.0,447.0 L347.5,450.5 L348.0,454.0 L348.5,456.6 L349.0,458.3 L349.5,459.3 L350.0,459.8 L350.5,460.0 L351.0,460.0 L351.5,459.9 L352.0,459.7 L352.5,459.3 L353.0,458.9 L353.5,458.3 L354.0,457.9 L354.5,458.1 L355.0,458.4 L355.5,458.5 L356.0,458.9 L356.5,459.4 L357.0,459.8 L357.5,460.0 L358.0,460.1 L358.5,460.1 L359.0,460.0 L359.5,459.9 L360.0,459.6 L360.5,459.2 L361.0,458.8 L361.5,458.8 L362.0,458.9 L362.5,458.9 L363.0,458.6 L363.5,458.2 L364.0,457.9 L364.5,458.5 L365.0,459.1 L365.5,459.6 L366.0,459.9 L366.5,460.1 L367.0,460.2 L367.5,460.3 L368.0,460.3 L368.5,460.3 L369.0,460.2 L369.5,459.9 L370.0,459.4 L370.5,458.4 L371.0,457.6 L371.5,458.4 L372.0,459.0 L372.5,459.0 L373.0,458.7 L373.5,458.4 L374.0,458.2 L374.5,458.3 L375.0,458.1 L375.5,457.7 L376.0,458.1 L376.5,459.1 L377.0,459.7 L377.5,459.9 L378.0,459.9 L378.5,459.7 L379.0,459.3 L379.5,458.6 L380.0,457.6 L380.5,456.7 L381.0,456.4 L381.5,456.1 L382.0,456.4 L382.5,456.6 L383.0,457.5 L383.5,458.5 L384.0,459.3 L384.5,459.8 L385.0,460.1 L385.5,460.2 L386.0,460.2 L386.5,460.3 L387.0,460.2 L387.5,460.2 L388.0,460.1 L388.5,459.9 L389.0,459.6 L389.5,459.3 L390.0,459.4 L390.5,459.7 L391.0,459.9 L391.5,460.1 L392.0,460.2 L392.5,460.3 L393.0,460.3 L393.5,460.3 L394.0,460.3 L394.5,460.3 L395.0,460.3 L395.5,460.3 L396.0,460.3 L396.5,460.3 L397.0,460.3 L397.5,460.3 L398.0,460.3 L398.5,460.3 L399.0,460.2 L399.5,460.2 L400.0,460.1 L400.5,460.0 L401.0,459.8 L401.5,459.5 L402.0,458.9 L402.5,458.1 L403.0,457.3 L403.5,457.9 L404.0,458.5 L404.5,458.4 L405.0,458.4 L405.5,459.2 L406.0,459.8 L406.5,460.0 L407.0,460.0 L407.5,459.8 L408.0,459.5 L408.5,459.1 L409.0,458.6 L409.5,458.5 L410.0,458.9 L410.5,459.4 L411.0,459.8 L411.5,460.0 L412.0,460.1 L412.5,460.2 L413.0,460.3 L413.5,460.3 L414.0,460.3 L414.5,460.3 L415.0,460.3 L415.5,460.3 L416.0,460.3 L416.5,460.3 L417.0,460.3 L417.5,460.2 L418.0,460.2 L418.5,460.1 L419.0,459.9 L419.5,459.6 L420.0,459.2 L420.5,458.8 L421.0,458.7 L421.5,458.7 L422.0,459.1 L422.5,459.5 L423.0,459.8 L423.5,460.0 L424.0,460.1 L424.5,460.2 L425.0,460.3 L425.5,460.3 L426.0,460.3 L426.5,460.3 L427.0,460.3 L427.5,460.2 L428.0,459.9 L428.5,459.4 L429.0,458.8 L429.5,459.2 L430.0,459.8 L430.5,460.1 L431.0,460.2 L431.5,460.3 L432.0,460.3 L432.5,460.3 L433.0,460.3 L433.5,460.3 L434.0,460.3 L434.5,460.3 L435.0,460.3 L435.5,460.2 L436.0,460.0 L436.5,459.5 L437.0,458.9 L437.5,459.0 L438.0,459.6 L438.5,460.0 L439.0,460.0 L439.5,459.8 L440.0,459.3 L440.5,458.6 L441.0,457.9 L441.5,458.4 L442.0,459.2 L442.5,459.8 L443.0,460.1 L443.5,460.2 L444.0,460.2 L444.5,460.2 L445.0,460.1 L445.5,460.0 L446.0,459.8 L446.5,459.5 L447.0,459.2 L447.5,458.8 L448.0,458.7 L448.5,458.8 L449.0,458.5 L449.5,457.7 L450.0,457.7 L450.5,458.8 L451.0,459.7 L451.5,460.1 L452.0,460.2 L452.5,460.3 L453.0,460.3 L453.5,460.2 L454.0,460.1 L454.5,460.0 L455.0,459.7 L455.5,459.1 L456.0,458.4 L456.5,457.7 L457.0,457.7 L457.5,457.8 L458.0,457.7 L458.5,457.4 L459.0,457.2 L459.5,457.6 L460.0,458.2 L460.5,458.7 L461.0,459.2 L461.5,459.6 L462.0,459.8 L462.5,460.0 L463.0,460.1 L463.5,460.2 L464.0,460.2 L464.5,460.3 L465.0,460.3 L465.5,460.3 L466.0,460.3 L466.5,460.3 L467.0,460.3 L467.5,460.3 L468.0,460.2 L468.5,460.0 L469.0,459.6 L469.5,458.4 L470.0,455.7 L470.5,450.9 L471.0,444.9 L471.5,442.6 L472.0,447.0 L472.5,450.7 L473.0,453.4 L473.5,455.9 L474.0,457.7 L474.5,458.8 L475.0,459.5 L475.5,459.9 L476.0,460.1 L476.5,460.2 L477.0,460.2 L477.5,460.1 L478.0,460.0 L478.5,459.8 L479.0,459.6 L479.5,459.3 L480.0,459.2 L480.5,459.4 L481.0,459.6 L481.5,459.8 L482.0,460.0 L482.5,460.1 L483.0,460.2 L483.5,460.3 L484.0,460.3 L484.5,460.3 L485.0,460.3 L485.5,460.3 L486.0,460.3 L486.5,460.3 L487.0,460.3 L487.5,460.3 L488.0,460.3 L488.5,460.3 L489.0,460.3 L489.5,460.3 L490.0,460.3 L490.5,460.3 L491.0,460.3 L491.5,460.3 L492.0,460.3 L492.5,460.3 L493.0,460.3 L493.5,460.3 L494.0,460.2 L494.5,460.1 L495.0,459.9 L495.5,459.5 L496.0,459.1 L496.5,458.6 L497.0,458.6 L497.5,459.1 L498.0,459.6 L498.5,459.9 L499.0,460.1 L499.5,460.2 L500.0,460.3 L500.5,460.3 L501.0,460.3 L501.5,460.3 L502.0,460.3 L502.5,460.3 L503.0,460.3 L503.5,458.8 L504.0,458.8 L504.5,458.8 L505.0,458.7 L505.5,458.7 L506.0,458.5 L506.5,458.2 L507.0,457.6 L507.5,456.7 L508.0,455.1 L508.5,453.0 L509.0,450.5 L509.5,448.7 L510.0,450.4 L510.5,452.8 L511.0,454.6 L511.5,455.7 L512.0,455.9 L512.5,455.4 L513.0,454.2 L513.5,452.8 L514.0,452.5 L514.5,453.6 L515.0,454.6 L515.5,455.2 L516.0,455.2 L516.5,454.7 L517.0,453.7 L517.5,452.4 L518.0,450.9 L518.5,449.3 L519.0,448.0 L519.5,448.2 L520.0,449.6 L520.5,451.2 L521.0,452.8 L521.5,454.2 L522.0,455.4 L522.5,456.4 L523.0,457.1 L523.5,457.6 L524.0,458.0 L524.5,458.3 L525.0,458.5 L525.5,458.6 L526.0,458.7 L526.5,458.7 L527.0,458.7 L527.5,458.8 L528.0,458.7 L528.5,458.7 L529.0,458.7 L529.5,458.6 L530.0,458.5 L530.5,458.2 L531.0,457.9 L531.5,457.4 L532.0,456.7 L532.5,455.7 L533.0,454.4 L533.5,452.6 L534.0,450.4 L534.5,447.8 L535.0,445.0 L535.5,442.4 L536.0,440.8 L536.5,442.4 L537.0,445.0 L537.5,447.8 L538.0,450.4 L538.5,452.6 L539.0,454.3 L539.5,455.7 L540.0,456.7 L540.5,457.4 L541.0,457.8 L541.5,458.1 L542.0,458.3 L542.5,458.4 L543.0,458.4 L543.5,458.3 L544.0,458.2 L544.5,458.0 L545.0,457.9 L545.5,457.6 L546.0,457.4 L546.5,457.1 L547.0,456.9 L547.5,456.8 L548.0,456.9 L548.5,457.1 L549.0,457.4 L549.5,457.6 L550.0,457.7 L550.5,457.8 L551.0,457.7 L551.5,457.3 L552.0,456.6 L552.5,455.3 L553.0,453.3 L553.5,450.8 L554.0,448.1 L554.5,446.9 L555.0,449.2 L555.5,451.9 L556.0,454.2 L556.5,455.8 L557.0,456.9 L557.5,457.3 L558.0,457.4 L558.5,457.2 L559.0,456.7 L559.5,455.9 L560.0,454.9 L560.5,453.6 L561.0,452.1 L561.5,450.4 L562.0,448.7 L562.5,447.3 L563.0,447.1 L563.5,448.4 L564.0,450.0 L564.5,451.7 L565.0,453.3 L565.5,454.6 L566.0,455.7 L566.5,456.6 L567.0,457.3 L567.5,457.7 L568.0,458.1 L568.5,458.3 L569.0,458.5 L569.5,458.6 L570.0,458.7 L570.5,458.7 L571.0,458.7 L571.5,458.7 L572.0,458.6 L572.5,458.5 L573.0,458.3 L573.5,457.9 L574.0,457.3 L574.5,456.4 L575.0,455.2 L575.5,453.6 L576.0,451.8 L576.5,450.3 L577.0,450.7 L577.5,451.9 L578.0,452.8 L578.5,453.3 L579.0,453.1 L579.5,452.3 L580.0,450.8 L580.5,448.8 L581.0,446.4 L581.5,443.7 L582.0,441.3 L582.5,439.7 L583.0,441.2 L583.5,443.7 L584.0,446.3 L584.5,448.7 L585.0,450.8 L585.5,452.3 L586.0,453.3 L586.5,453.6 L587.0,453.4 L587.5,452.6 L588.0,451.1 L588.5,449.0 L589.0,446.5 L589.5,443.7 L590.0,441.1 L590.5,440.0 L591.0,441.7 L591.5,444.0 L592.0,446.1 L592.5,447.7 L593.0,448.4 L593.5,448.3 L594.0,447.4 L594.5,446.2 L595.0,445.4 L595.5,447.3 L596.0,449.7 L596.5,451.9 L597.0,453.7 L597.5,454.9 L598.0,455.5 L598.5,455.7 L599.0,455.6 L599.5,455.4 L600.0,455.9 L600.5,456.6 L601.0,457.2 L601.5,457.8 L602.0,459.6 L602.5,459.9 L602.8,461.0 Z" fill="#7b2f98" stroke="none" stroke-width="1" />
<line x1="334.50" y1="461.00" x2="602.80" y2="461.00" stroke="#333" stroke-width="0.9" />
<text x="325.2" y="375" font-size="11.5" text-anchor="middle" textLength="12.5" lengthAdjust="spacingAndGlyphs" >D0</text>
<text x="325.2" y="401.6" font-size="11.5" text-anchor="middle" textLength="12.5" lengthAdjust="spacingAndGlyphs" >D1</text>
<text x="325.2" y="429.8" font-size="11.5" text-anchor="middle" textLength="12.5" lengthAdjust="spacingAndGlyphs" >D2</text>
<text x="325.2" y="453.5" font-size="11.5" text-anchor="middle" textLength="12.5" lengthAdjust="spacingAndGlyphs" >D3</text>
<text x="308.8" y="409.2" font-size="7.8" text-anchor="middle" textLength="95.5" lengthAdjust="spacingAndGlyphs" transform="rotate(-90 308.8 409.2)" >chr13:36694448~36738055</text>
<text x="367.4" y="467.3" font-size="7" text-anchor="middle" textLength="28.5" lengthAdjust="spacingAndGlyphs" >36700000</text>
<line x1="367.40" y1="461.00" x2="367.40" y2="462.50" stroke="#333" stroke-width="0.6" />
<text x="429.5" y="467.3" font-size="7" text-anchor="middle" textLength="28.5" lengthAdjust="spacingAndGlyphs" >36710000</text>
<line x1="429.50" y1="461.00" x2="429.50" y2="462.50" stroke="#333" stroke-width="0.6" />
<text x="491" y="467.3" font-size="7" text-anchor="middle" textLength="28.5" lengthAdjust="spacingAndGlyphs" >36720000</text>
<line x1="491.00" y1="461.00" x2="491.00" y2="462.50" stroke="#333" stroke-width="0.6" />
<text x="552.7" y="467.3" font-size="7" text-anchor="middle" textLength="28.5" lengthAdjust="spacingAndGlyphs" >36730000</text>
<line x1="552.70" y1="461.00" x2="552.70" y2="462.50" stroke="#333" stroke-width="0.6" />
<text x="336.2" y="474.6" font-size="8.2" text-anchor="end" textLength="42.6" lengthAdjust="spacingAndGlyphs" >Open region</text>
<text x="276.8" y="484.8" font-size="8.2" textLength="59.1" lengthAdjust="spacingAndGlyphs" >Enhancer cluster</text>
<text x="276.8" y="495" font-size="8.2" textLength="48.5" lengthAdjust="spacingAndGlyphs" >Enhancer unit</text>
<text x="336.2" y="514" font-size="8.2" text-anchor="end" textLength="18.5" lengthAdjust="spacingAndGlyphs" >Gene</text>
<rect x="340" y="475" width="9.3" height="4.7" fill="#75757a" />
<rect x="340" y="484" width="9.3" height="5" fill="#ed7d3a" />
<rect x="340" y="493.3" width="9.3" height="4.9" fill="#ec7f86" />
<rect x="510.8" y="475" width="2.7" height="4.7" fill="#75757a" />
<rect x="514.3" y="475" width="9.1" height="4.7" fill="#75757a" />
<rect x="531" y="475" width="9" height="4.7" fill="#75757a" />
<rect x="554" y="475" width="4.4" height="4.7" fill="#75757a" />
<rect x="562.3" y="475" width="7.5" height="4.7" fill="#75757a" />
<rect x="578.8" y="475" width="8.1" height="4.7" fill="#75757a" />
<rect x="589.8" y="475" width="6.9" height="4.7" fill="#75757a" />
<rect x="510.8" y="484" width="2.7" height="5" fill="#ed7d3a" />
<rect x="514.3" y="484" width="9.1" height="5" fill="#ed7d3a" />
<rect x="578.8" y="484" width="8.1" height="5" fill="#ed7d3a" />
<rect x="589.8" y="484" width="6.9" height="5" fill="#ed7d3a" />
<rect x="510.8" y="493.3" width="3.2" height="4.9" fill="#ec7f86" />
<rect x="514.3" y="493.3" width="9.1" height="4.9" fill="#3a9040" />
<rect x="578.8" y="493.3" width="8.1" height="4.9" fill="#d42a36" />
<rect x="589.8" y="493.3" width="6.9" height="4.9" fill="#d42a36" />
<text x="559.5" y="498.9" font-size="7.5" fill="#777" text-anchor="middle" font-style="italic" textLength="16.7" lengthAdjust="spacingAndGlyphs" >Nrn1</text>
<rect x="525" y="507" width="7.4" height="10.3" fill="#707075" />
<rect x="532" y="509.3" width="35" height="4.4" fill="#707075" />
<rect x="566" y="502.6" width="30.7" height="14.9" fill="#707075" rx="2.5"/>
<line x1="552.70" y1="507.50" x2="552.70" y2="515.00" stroke="#999" stroke-width="0.6" />
<text x="11.7" y="538.7" font-size="13.2" fill="#111" font-weight="bold" >f</text>
<text x="123.8" y="556" font-size="8.6" text-anchor="middle" textLength="116.8" lengthAdjust="spacingAndGlyphs" >Cell types from scATAC-seq</text>
<defs><clipPath id="brainclip"><path d="M119.7,589.5 L112.7,587.0 L100.0,588.5 L90.0,590.5 L80.0,594.0 L70.0,600.0 L62.5,608.0 L57.5,616.0 L54.3,626.7 L52.3,636.0 L52.0,644.0 L53.5,653.0 L56.7,661.8 L62.0,668.0 L68.4,673.4 L74.0,677.5 L80.0,681.6 L88.0,684.0 L97.6,685.0 L107.0,684.5 L115.0,682.8 L119.5,680.5 L124.0,683.0 L133.5,685.6 L145.0,685.5 L156.8,684.5 L161.5,676.0 L169.0,672.5 L175.5,668.0 L181.0,659.0 L185.5,647.0 L187.2,638.0 L187.2,628.4 L185.0,618.0 L180.2,609.7 L172.0,601.0 L163.8,595.7 L153.0,591.0 L142.8,588.7 L134.0,588.3 L125.0,589.0 Z"/></clipPath></defs>
<path d="M119.7,589.5 L112.7,587.0 L100.0,588.5 L90.0,590.5 L80.0,594.0 L70.0,600.0 L62.5,608.0 L57.5,616.0 L54.3,626.7 L52.3,636.0 L52.0,644.0 L53.5,653.0 L56.7,661.8 L62.0,668.0 L68.4,673.4 L74.0,677.5 L80.0,681.6 L88.0,684.0 L97.6,685.0 L107.0,684.5 L115.0,682.8 L119.5,680.5 L124.0,683.0 L133.5,685.6 L145.0,685.5 L156.8,684.5 L161.5,676.0 L169.0,672.5 L175.5,668.0 L181.0,659.0 L185.5,647.0 L187.2,638.0 L187.2,628.4 L185.0,618.0 L180.2,609.7 L172.0,601.0 L163.8,595.7 L153.0,591.0 L142.8,588.7 L134.0,588.3 L125.0,589.0 Z" fill="#c4c3d9" stroke="#9c9abf" stroke-width="1.0" />
<path d="M172.4 596.2h0.8M93.4 619.8h0.8M62.8 640.6h0.8M187.4 622.5h0.8M168.0 595.7h0.8M63.6 642.2h0.8M95.6 681.7h0.8M173.7 642.0h0.8M174.1 679.5h0.8M64.6 632.7h0.8M149.5 655.8h0.8M117.9 588.7h0.8M153.5 666.2h0.8M75.4 638.0h0.8M123.6 645.4h0.8M154.7 613.8h0.8M59.2 682.7h0.8M89.2 664.0h0.8M97.9 592.2h0.8M68.7 622.3h0.8M93.1 603.7h0.8M54.7 640.6h0.8M55.1 661.7h0.8M147.5 663.3h0.8M57.9 602.4h0.8M165.4 623.6h0.8M126.5 633.3h0.8M187.1 646.6h0.8M99.2 631.1h0.8M75.7 661.3h0.8M60.0 625.0h0.8M103.2 635.9h0.8M133.3 617.2h0.8M167.6 679.9h0.8M111.6 594.8h0.8M144.8 633.9h0.8M56.3 669.3h0.8M163.7 616.7h0.8M74.7 628.7h0.8M68.0 596.8h0.8M56.4 622.5h0.8M59.2 595.8h0.8M183.3 625.0h0.8M97.8 602.4h0.8M123.6 659.8h0.8M73.4 653.5h0.8M167.7 609.3h0.8M74.3 650.4h0.8M123.2 592.5h0.8M169.9 637.2h0.8M105.1 652.1h0.8M93.1 635.6h0.8M164.0 628.8h0.8M121.5 641.7h0.8M128.2 597.7h0.8M85.6 644.4h0.8M170.8 612.5h0.8M56.2 650.8h0.8M155.2 663.3h0.8M54.8 650.0h0.8M106.3 660.1h0.8M64.8 684.9h0.8M99.7 624.0h0.8M56.2 645.6h0.8M137.3 669.1h0.8M154.1 675.2h0.8M160.5 597.3h0.8M85.4 606.1h0.8M178.5 612.7h0.8M91.9 610.0h0.8M137.6 619.0h0.8M142.8 627.7h0.8M63.9 606.8h0.8M85.2 664.8h0.8M87.3 682.9h0.8M85.6 598.2h0.8M126.6 622.5h0.8M67.6 613.5h0.8M85.7 634.1h0.8M115.9 599.8h0.8M162.1 605.5h0.8M168.6 615.0h0.8M73.1 660.0h0.8M107.5 671.5h0.8M179.0 588.9h0.8M179.3 606.3h0.8M161.0 598.9h0.8M121.7 589.8h0.8M163.1 621.0h0.8M156.4 624.3h0.8M128.8 607.0h0.8M108.7 652.0h0.8M84.6 638.2h0.8M170.5 621.9h0.8M53.1 657.8h0.8M142.4 648.6h0.8M144.3 684.0h0.8M129.2 659.6h0.8M157.5 611.2h0.8M59.1 647.5h0.8M151.3 591.5h0.8M182.5 599.6h0.8M111.3 611.0h0.8M65.7 680.6h0.8M85.8 641.3h0.8M176.3 678.2h0.8M114.2 629.9h0.8M147.9 680.9h0.8M132.1 600.7h0.8M140.0 587.0h0.8M174.3 664.6h0.8M161.1 631.3h0.8M108.5 596.4h0.8M93.9 619.3h0.8M125.2 594.7h0.8M71.6 664.6h0.8M75.6 660.4h0.8M156.3 642.1h0.8M121.4 634.8h0.8M67.5 653.8h0.8M96.4 601.6h0.8M68.7 655.8h0.8M114.2 664.4h0.8M174.5 641.2h0.8M112.4 664.6h0.8M131.3 665.7h0.8M84.5 636.8h0.8M55.6 636.0h0.8M183.2 629.7h0.8M171.9 620.4h0.8M168.4 597.3h0.8M172.4 619.0h0.8M92.8 619.9h0.8M155.0 642.1h0.8M69.4 612.4h0.8M93.8 613.7h0.8M115.9 653.8h0.8M52.8 640.2h0.8M83.0 595.8h0.8M61.4 639.7h0.8M128.2 662.0h0.8M154.3 659.4h0.8M147.0 588.3h0.8M60.9 641.3h0.8M143.5 608.0h0.8M104.3 635.5h0.8M125.4 629.8h0.8M52.2 640.3h0.8M143.0 678.3h0.8M178.2 612.1h0.8M112.7 608.4h0.8M62.9 607.7h0.8M187.7 666.2h0.8M85.1 620.3h0.8M72.5 606.0h0.8M101.8 604.6h0.8M74.3 606.3h0.8M149.6 666.6h0.8M170.4 609.9h0.8M171.4 625.7h0.8M121.7 680.0h0.8M64.5 658.2h0.8M164.3 650.4h0.8M104.1 678.5h0.8M123.5 668.1h0.8M149.0 654.4h0.8M146.9 591.5h0.8M162.9 632.1h0.8M83.1 675.6h0.8M130.1 607.4h0.8M184.6 604.3h0.8M154.7 594.3h0.8M187.7 647.2h0.8M179.8 680.7h0.8M94.6 671.4h0.8M54.0 649.6h0.8M131.1 587.3h0.8M142.2 677.1h0.8M122.9 598.3h0.8M71.1 633.8h0.8M155.7 671.2h0.8M123.5 629.0h0.8M97.6 634.8h0.8M174.5 667.5h0.8M133.8 677.5h0.8M172.9 632.5h0.8M124.2 646.9h0.8M81.9 661.4h0.8M59.3 621.3h0.8M82.1 619.8h0.8M167.5 665.5h0.8M64.1 645.0h0.8M141.2 648.3h0.8M91.9 632.0h0.8M64.0 673.2h0.8M130.7 651.2h0.8M172.7 626.7h0.8M79.9 616.4h0.8M142.3 644.6h0.8M123.0 648.9h0.8M134.3 598.8h0.8M161.9 630.2h0.8M76.2 659.3h0.8M64.4 620.4h0.8M178.5 591.2h0.8M183.4 617.2h0.8M139.1 658.5h0.8M92.8 623.1h0.8M98.7 667.0h0.8M84.3 638.2h0.8M65.3 658.2h0.8M150.5 614.4h0.8M159.8 663.8h0.8M110.4 593.5h0.8M54.6 645.8h0.8M76.8 656.7h0.8M112.3 592.9h0.8M80.4 599.0h0.8M159.4 625.9h0.8M88.5 635.3h0.8M186.2 651.6h0.8M125.3 673.1h0.8M58.0 663.9h0.8M89.5 589.7h0.8M145.3 643.0h0.8M145.6 677.5h0.8M133.6 639.5h0.8M63.4 669.4h0.8M53.0 673.3h0.8M131.3 604.7h0.8M165.6 597.0h0.8M176.7 628.6h0.8M160.7 599.9h0.8M168.6 600.7h0.8M123.0 671.5h0.8M138.9 636.4h0.8M79.6 673.0h0.8M88.4 618.3h0.8M176.2 612.0h0.8M114.7 613.7h0.8M75.2 634.1h0.8M79.4 666.8h0.8M70.4 587.7h0.8M59.2 636.5h0.8M57.0 611.4h0.8M123.0 647.0h0.8M158.5 639.5h0.8M119.6 586.7h0.8M159.2 679.6h0.8M73.5 606.7h0.8M155.4 605.0h0.8M133.6 681.6h0.8M66.3 673.1h0.8M82.6 685.2h0.8M120.8 648.3h0.8M64.2 635.4h0.8M67.8 637.0h0.8M84.8 599.1h0.8M60.3 661.4h0.8M73.4 613.3h0.8M160.0 611.1h0.8M52.4 636.4h0.8M167.1 641.4h0.8M99.5 667.0h0.8M134.9 666.9h0.8M184.6 623.4h0.8M75.6 653.1h0.8M185.6 645.5h0.8M57.2 684.3h0.8M146.6 682.9h0.8M91.0 637.2h0.8M82.6 621.2h0.8M129.6 587.0h0.8M140.6 642.2h0.8M85.7 619.8h0.8M145.4 597.9h0.8M174.6 599.6h0.8M128.2 629.3h0.8M146.5 601.3h0.8M179.6 685.9h0.8M125.6 640.2h0.8M80.2 642.0h0.8M113.6 673.6h0.8M180.5 610.9h0.8M55.0 629.7h0.8M137.2 649.8h0.8M147.7 604.9h0.8M173.5 642.0h0.8M146.7 626.8h0.8M174.6 591.1h0.8M59.1 600.4h0.8M83.7 601.3h0.8M54.3 626.3h0.8M52.3 684.7h0.8M178.9 640.2h0.8M140.4 590.8h0.8M176.8 673.2h0.8M159.8 596.5h0.8M57.0 607.0h0.8M149.9 635.2h0.8M100.7 593.6h0.8M150.9 627.9h0.8M166.2 608.6h0.8M130.3 605.5h0.8M77.8 655.2h0.8M53.7 636.0h0.8M85.5 598.8h0.8M60.7 653.5h0.8M157.6 666.4h0.8M55.1 599.9h0.8M83.6 676.2h0.8M165.9 664.5h0.8M89.2 632.2h0.8M124.2 685.1h0.8M69.2 667.7h0.8M107.8 600.4h0.8M113.9 591.3h0.8M65.9 648.0h0.8M147.1 626.9h0.8M62.4 660.2h0.8M74.2 594.4h0.8M122.0 674.3h0.8M85.8 674.0h0.8M137.4 596.9h0.8M70.1 659.3h0.8M59.2 648.1h0.8M124.8 593.5h0.8M80.2 603.6h0.8M114.3 625.0h0.8M143.1 612.6h0.8M142.5 676.0h0.8M53.1 663.2h0.8M163.9 661.0h0.8M83.8 632.6h0.8M122.6 637.2h0.8M168.3 637.4h0.8M92.2 606.7h0.8M131.4 616.1h0.8M161.0 629.4h0.8M123.4 634.3h0.8M88.6 636.8h0.8M124.4 611.4h0.8M169.7 634.4h0.8M178.7 639.6h0.8M67.0 589.2h0.8M149.2 587.2h0.8M113.9 606.0h0.8M151.5 645.2h0.8M181.4 613.9h0.8M186.3 639.2h0.8M81.4 612.1h0.8M90.8 625.8h0.8M145.1 675.6h0.8M160.1 650.2h0.8M153.5 654.3h0.8M75.4 679.3h0.8M123.2 672.7h0.8M88.6 646.3h0.8M110.4 591.8h0.8M126.8 640.6h0.8M149.8 683.8h0.8M109.8 665.6h0.8M99.5 621.4h0.8M163.0 664.5h0.8M125.1 638.1h0.8M156.2 656.1h0.8M158.2 592.0h0.8M105.8 645.6h0.8M125.2 633.9h0.8M80.3 608.2h0.8M124.2 633.5h0.8M60.5 667.6h0.8M99.4 645.5h0.8M181.1 678.3h0.8M169.9 625.5h0.8M169.0 669.2h0.8M98.7 601.5h0.8M151.2 683.0h0.8M141.9 683.9h0.8M77.1 636.7h0.8M176.8 638.1h0.8M185.2 679.6h0.8M169.4 607.8h0.8M131.2 677.8h0.8M129.8 643.9h0.8M58.9 667.3h0.8M170.0 679.7h0.8M67.4 623.5h0.8M161.5 607.7h0.8M127.7 588.9h0.8M60.6 658.3h0.8M174.2 622.9h0.8M103.0 680.0h0.8M86.0 628.2h0.8M111.7 592.9h0.8M111.3 615.3h0.8M156.2 676.4h0.8M139.3 665.8h0.8M183.4 634.8h0.8M163.9 608.8h0.8M159.9 680.3h0.8M153.2 632.3h0.8M129.8 670.8h0.8M121.0 604.4h0.8M135.7 617.6h0.8M79.7 635.5h0.8M110.2 657.3h0.8M84.6 601.3h0.8M163.6 594.7h0.8M143.2 639.9h0.8M105.3 663.7h0.8M180.9 676.0h0.8M105.4 622.3h0.8M77.7 621.0h0.8M133.3 682.9h0.8M170.2 681.3h0.8M97.4 670.0h0.8M112.7 602.9h0.8M83.5 613.2h0.8M146.7 634.0h0.8M62.7 678.6h0.8M74.6 636.9h0.8M125.0 662.3h0.8M171.9 594.4h0.8M81.7 638.8h0.8M181.4 674.1h0.8M94.4 676.9h0.8M60.7 656.8h0.8M70.0 658.7h0.8M162.2 640.7h0.8M53.0 627.7h0.8M160.1 594.1h0.8M67.2 629.7h0.8M98.4 638.2h0.8M71.7 627.1h0.8M142.2 588.9h0.8M181.8 667.8h0.8M94.6 649.9h0.8M64.2 656.8h0.8M52.3 626.7h0.8M52.2 681.2h0.8M124.0 668.3h0.8M166.7 683.1h0.8M87.0 675.7h0.8M120.7 620.7h0.8M135.4 612.4h0.8M67.1 665.6h0.8M114.2 669.4h0.8M132.0 669.9h0.8M64.9 612.4h0.8M139.7 606.7h0.8M83.0 601.9h0.8M176.4 642.3h0.8M58.1 598.9h0.8M152.8 621.8h0.8M164.3 682.3h0.8M97.1 624.9h0.8M77.1 595.0h0.8M75.3 669.6h0.8M174.5 591.0h0.8M149.9 637.8h0.8M166.9 602.2h0.8M132.8 622.1h0.8M124.6 674.9h0.8M63.1 611.2h0.8M161.2 596.1h0.8M173.9 668.2h0.8M109.4 646.5h0.8M101.5 643.9h0.8M101.1 654.4h0.8M81.5 680.9h0.8M104.3 681.6h0.8M136.2 648.2h0.8M174.5 672.4h0.8M90.1 684.5h0.8M151.0 629.6h0.8M146.9 665.2h0.8M164.3 608.9h0.8M88.1 615.4h0.8M170.6 614.0h0.8M78.9 591.2h0.8M177.1 632.1h0.8M85.1 643.4h0.8M69.7 635.9h0.8M174.2 634.9h0.8M89.5 594.8h0.8M158.7 611.7h0.8M126.5 643.7h0.8M132.7 653.6h0.8M177.6 652.2h0.8M183.3 663.4h0.8M167.8 662.0h0.8M138.6 632.8h0.8M90.3 679.3h0.8M66.2 594.1h0.8M80.1 590.5h0.8M123.4 664.3h0.8M77.0 678.2h0.8M127.7 663.1h0.8M57.2 586.8h0.8M174.1 616.4h0.8M126.9 622.1h0.8M69.1 591.1h0.8M177.8 638.9h0.8M108.6 663.4h0.8M103.4 586.5h0.8M91.6 672.4h0.8M72.1 623.7h0.8M75.2 669.8h0.8M64.3 647.5h0.8M94.3 587.2h0.8M138.7 669.2h0.8M169.3 598.4h0.8M52.9 614.3h0.8M166.5 682.5h0.8M61.2 616.1h0.8M71.3 610.3h0.8M79.7 638.1h0.8M165.7 664.8h0.8M163.9 618.4h0.8M121.8 652.1h0.8M59.5 598.5h0.8M167.5 665.0h0.8M71.1 592.4h0.8M90.6 651.3h0.8M62.8 625.8h0.8M121.6 617.8h0.8M86.9 672.4h0.8M57.2 652.8h0.8M88.3 588.1h0.8M135.4 679.2h0.8M52.4 637.7h0.8M107.0 632.2h0.8M179.8 661.6h0.8M111.0 638.3h0.8M123.0 674.3h0.8M57.6 646.6h0.8M70.0 603.5h0.8M127.1 679.8h0.8M63.8 660.8h0.8M84.6 596.8h0.8M116.0 622.5h0.8M182.4 612.7h0.8M130.0 588.1h0.8M72.8 650.4h0.8M138.7 600.7h0.8M123.8 589.2h0.8M131.1 625.4h0.8M144.7 649.8h0.8M145.1 665.3h0.8M129.6 593.7h0.8M112.5 637.2h0.8M145.3 629.2h0.8M97.3 630.7h0.8M63.2 640.4h0.8M55.6 590.5h0.8M184.2 679.3h0.8M75.6 615.6h0.8M54.5 641.0h0.8M141.7 631.9h0.8M115.9 675.3h0.8M164.9 655.3h0.8M99.1 657.0h0.8M92.7 654.1h0.8M109.3 647.7h0.8M157.7 650.4h0.8M110.4 670.5h0.8M93.2 624.7h0.8M86.2 603.2h0.8M54.4 656.3h0.8M64.2 622.9h0.8M184.1 678.8h0.8M90.6 623.0h0.8M175.7 614.4h0.8M120.8 685.0h0.8M153.6 624.2h0.8M52.7 675.0h0.8M152.2 597.0h0.8M117.5 613.4h0.8M55.9 661.6h0.8M103.8 669.2h0.8M91.3 672.1h0.8M80.2 637.8h0.8M97.5 643.0h0.8M60.1 626.9h0.8M97.9 614.1h0.8M172.5 602.9h0.8M87.1 682.1h0.8M113.0 633.9h0.8M172.2 679.5h0.8M145.0 594.2h0.8M70.6 665.0h0.8M140.2 647.6h0.8M168.7 647.9h0.8M182.7 612.7h0.8M108.0 654.0h0.8M155.0 683.4h0.8M57.4 678.1h0.8M73.4 592.0h0.8M169.3 683.0h0.8M63.5 602.7h0.8M85.8 627.1h0.8M128.1 635.9h0.8M69.6 657.0h0.8M149.2 617.5h0.8M91.0 666.6h0.8M165.5 609.5h0.8M140.6 679.7h0.8M169.2 596.9h0.8M88.8 674.4h0.8M144.5 678.2h0.8M108.6 670.4h0.8M157.8 599.2h0.8M162.4 646.7h0.8M128.3 643.0h0.8M180.3 618.2h0.8M159.6 653.5h0.8M57.7 624.2h0.8M150.5 619.1h0.8M104.3 649.3h0.8M91.7 586.7h0.8M91.2 630.9h0.8M114.0 680.4h0.8M68.6 628.8h0.8M98.4 657.0h0.8M81.8 668.2h0.8M104.2 594.6h0.8M153.7 601.3h0.8M117.4 589.4h0.8M69.9 639.5h0.8M125.4 591.1h0.8M143.6 672.5h0.8M94.5 599.2h0.8M98.2 686.1h0.8M187.4 660.8h0.8M166.5 676.5h0.8M149.9 668.4h0.8M152.9 654.8h0.8M151.7 665.4h0.8M86.0 586.7h0.8M99.8 650.5h0.8M70.2 654.8h0.8M110.6 669.8h0.8M65.7 658.7h0.8M79.4 665.2h0.8M87.0 673.7h0.8M60.8 675.8h0.8M56.6 640.5h0.8M178.3 629.1h0.8M86.1 662.7h0.8M171.7 612.1h0.8M177.3 680.8h0.8M167.7 636.5h0.8M120.6 589.7h0.8M132.3 651.6h0.8M58.9 586.5h0.8M178.7 676.5h0.8M62.8 640.6h0.8M153.7 662.1h0.8M126.2 603.8h0.8M153.1 682.3h0.8M160.4 631.7h0.8M59.0 606.4h0.8M63.3 592.0h0.8M82.0 640.4h0.8M106.9 611.0h0.8M180.8 636.2h0.8M118.1 604.1h0.8M136.2 653.4h0.8M75.9 616.1h0.8M54.2 684.7h0.8M118.9 636.9h0.8M129.4 662.5h0.8M123.0 656.7h0.8M103.0 588.7h0.8M156.9 652.0h0.8M111.3 682.9h0.8M145.3 676.7h0.8M112.2 606.1h0.8M107.5 596.0h0.8M158.4 612.7h0.8M106.3 635.3h0.8M182.8 631.9h0.8M134.0 670.9h0.8M148.6 626.7h0.8M103.2 641.8h0.8M138.8 620.1h0.8M159.8 591.1h0.8M72.9 666.1h0.8M90.8 637.5h0.8M99.5 612.1h0.8M186.5 598.3h0.8M58.5 624.6h0.8M149.8 634.5h0.8M186.6 623.0h0.8M159.1 629.0h0.8M179.0 613.2h0.8M70.7 650.7h0.8M101.6 632.1h0.8M159.2 629.9h0.8M81.0 654.9h0.8M139.3 669.9h0.8M147.1 622.4h0.8M184.0 676.7h0.8M145.1 626.7h0.8M152.4 596.5h0.8M116.2 655.6h0.8M56.9 682.5h0.8M119.9 679.0h0.8M68.4 586.7h0.8M57.9 682.6h0.8M104.3 604.2h0.8M114.5 648.5h0.8M154.8 597.2h0.8M130.8 592.5h0.8M153.9 630.6h0.8M62.9 639.6h0.8M91.9 655.3h0.8M184.5 684.4h0.8M181.0 601.2h0.8M141.0 603.3h0.8M65.9 641.0h0.8M57.6 609.6h0.8M133.2 610.9h0.8M126.4 614.4h0.8M111.8 678.7h0.8M124.8 631.6h0.8M143.9 607.6h0.8M175.4 587.1h0.8M129.8 679.0h0.8M124.5 668.3h0.8M162.8 630.6h0.8M111.9 606.1h0.8M77.5 596.0h0.8M93.1 630.4h0.8M187.1 631.4h0.8M182.8 617.4h0.8M175.1 605.6h0.8M167.2 655.4h0.8M185.6 665.9h0.8M177.5 610.5h0.8M62.3 618.2h0.8M64.4 638.8h0.8M168.2 642.4h0.8M156.6 625.9h0.8M158.5 630.7h0.8M136.3 665.1h0.8M163.3 670.2h0.8M60.9 639.4h0.8M93.7 587.1h0.8M139.5 686.2h0.8M149.2 670.2h0.8M88.5 590.2h0.8M138.0 633.1h0.8M161.7 620.5h0.8M152.0 590.4h0.8M67.8 602.0h0.8M114.2 650.3h0.8M136.7 639.4h0.8M69.7 601.8h0.8M147.2 616.9h0.8M156.4 633.4h0.8M80.9 668.4h0.8M102.3 668.1h0.8M57.7 667.1h0.8M95.2 624.9h0.8M73.4 640.1h0.8M66.0 682.5h0.8M88.7 681.1h0.8M126.5 664.5h0.8M89.0 662.4h0.8M94.7 608.8h0.8M55.6 644.6h0.8M76.8 625.1h0.8M56.2 587.8h0.8M167.1 673.5h0.8M55.1 613.0h0.8M160.8 646.7h0.8M149.9 674.0h0.8M85.8 674.5h0.8M160.0 594.8h0.8M82.4 624.3h0.8M126.9 634.4h0.8M94.0 596.4h0.8M116.7 665.7h0.8M99.7 683.7h0.8M133.0 596.2h0.8M63.8 634.6h0.8M73.2 671.6h0.8M186.4 686.2h0.8M186.9 600.0h0.8M163.1 597.1h0.8M121.8 677.4h0.8M72.7 597.1h0.8M91.1 615.2h0.8M115.5 617.9h0.8M146.7 619.8h0.8M60.0 656.8h0.8M106.4 615.3h0.8M137.6 622.8h0.8M177.3 678.6h0.8M143.6 625.5h0.8M53.8 594.5h0.8M118.4 613.1h0.8M118.8 589.7h0.8M72.8 652.9h0.8M130.8 648.6h0.8M182.6 611.2h0.8M96.0 638.6h0.8M81.9 684.3h0.8M170.2 650.5h0.8M86.9 597.2h0.8M104.4 648.2h0.8M81.9 657.5h0.8M182.2 683.2h0.8M166.3 599.5h0.8M186.9 612.6h0.8M71.8 635.0h0.8M148.4 598.4h0.8M67.3 672.6h0.8M174.5 606.6h0.8M104.8 651.5h0.8M122.8 641.7h0.8M182.4 627.8h0.8M68.5 646.7h0.8M169.5 682.2h0.8M186.8 684.4h0.8M70.1 608.9h0.8M147.0 601.1h0.8M155.9 594.2h0.8M135.1 611.2h0.8M121.6 664.2h0.8M93.1 590.0h0.8M57.2 675.7h0.8M180.6 654.6h0.8M95.3 598.0h0.8M103.2 642.1h0.8M165.1 684.2h0.8M74.9 611.3h0.8M154.8 626.1h0.8M54.0 626.5h0.8M141.5 612.1h0.8M141.9 644.2h0.8M183.7 628.0h0.8M60.4 634.8h0.8M123.1 657.9h0.8M82.0 658.8h0.8M56.7 632.6h0.8M160.7 651.8h0.8M96.6 644.3h0.8M89.6 680.7h0.8M77.2 614.8h0.8M130.5 646.7h0.8M149.8 663.6h0.8M89.1 607.8h0.8M58.9 607.4h0.8M61.1 669.5h0.8M104.7 616.6h0.8M149.7 646.3h0.8M132.8 621.9h0.8M174.2 660.0h0.8M118.2 649.5h0.8M149.7 622.1h0.8M123.8 605.6h0.8M142.7 667.0h0.8M137.5 644.9h0.8M142.4 682.1h0.8M117.1 589.6h0.8M57.9 600.7h0.8M158.7 679.4h0.8M184.9 669.4h0.8M101.9 603.4h0.8M115.7 662.2h0.8M64.5 623.3h0.8M119.1 634.5h0.8M152.4 676.2h0.8M165.0 626.1h0.8M63.9 635.0h0.8M131.0 675.2h0.8M114.5 656.7h0.8M110.5 656.0h0.8M83.8 601.3h0.8M145.0 613.3h0.8M96.7 624.3h0.8M144.9 603.9h0.8M123.0 639.5h0.8M65.3 608.2h0.8M140.4 624.3h0.8M73.1 625.8h0.8M165.3 612.5h0.8M171.3 607.2h0.8M71.8 622.8h0.8M59.2 606.1h0.8M83.2 652.0h0.8M65.2 666.6h0.8M107.4 596.6h0.8M166.5 615.1h0.8M118.5 678.6h0.8M128.2 596.1h0.8M139.8 608.3h0.8M114.4 591.8h0.8M64.6 660.3h0.8M162.8 626.0h0.8M144.2 614.9h0.8M112.9 602.1h0.8M156.3 638.3h0.8M61.9 639.0h0.8M178.7 628.3h0.8M59.5 651.8h0.8M101.5 618.9h0.8M95.6 645.4h0.8M111.1 644.9h0.8M111.4 683.9h0.8M175.1 639.6h0.8M102.2 592.3h0.8M166.3 617.0h0.8M125.0 599.9h0.8M95.3 631.2h0.8M166.6 626.6h0.8M68.8 679.8h0.8M60.4 620.5h0.8M62.1 600.8h0.8M68.4 635.7h0.8M68.3 598.8h0.8M165.2 621.0h0.8M89.1 622.9h0.8M53.8 652.3h0.8M90.3 599.4h0.8M149.5 655.6h0.8M96.8 630.1h0.8M130.5 676.3h0.8M123.8 653.0h0.8M66.9 641.3h0.8M52.4 680.1h0.8M70.1 602.7h0.8M107.1 654.9h0.8M86.8 664.7h0.8M168.6 595.1h0.8M143.4 674.4h0.8M105.7 683.7h0.8M81.9 621.8h0.8M158.9 622.1h0.8M136.2 675.9h0.8M52.6 611.3h0.8M159.0 683.9h0.8M124.4 668.9h0.8M138.5 616.9h0.8M95.7 676.5h0.8M113.6 651.7h0.8M73.0 669.1h0.8M115.4 596.0h0.8M78.8 681.4h0.8M62.3 676.4h0.8M116.3 639.8h0.8M92.6 622.1h0.8M79.4 683.5h0.8M97.9 595.9h0.8M181.6 595.7h0.8M138.9 652.7h0.8M83.8 660.7h0.8M158.2 629.8h0.8M107.8 662.8h0.8M108.8 644.5h0.8M140.8 676.2h0.8M152.8 639.8h0.8M106.5 619.3h0.8M90.0 593.8h0.8M157.5 612.9h0.8M159.5 632.7h0.8M89.0 619.4h0.8M84.3 607.5h0.8M175.0 636.7h0.8M113.9 640.3h0.8M177.6 645.5h0.8M125.9 641.2h0.8M152.5 615.3h0.8M60.4 601.2h0.8M52.9 588.4h0.8M157.0 647.3h0.8M170.0 676.7h0.8M62.6 609.5h0.8M185.6 597.9h0.8M174.4 640.0h0.8M75.7 617.7h0.8M104.8 602.0h0.8M128.2 678.6h0.8M108.9 644.1h0.8M73.2 612.7h0.8M126.4 638.7h0.8M148.4 591.3h0.8M91.5 608.9h0.8M173.1 625.1h0.8M165.7 666.1h0.8M95.0 611.1h0.8M112.9 630.6h0.8M178.2 660.2h0.8M147.3 641.3h0.8M175.2 636.3h0.8M135.6 591.7h0.8M74.5 642.2h0.8M142.8 667.8h0.8M133.6 614.1h0.8M82.6 614.4h0.8M167.6 591.8h0.8M120.6 635.8h0.8M154.7 634.5h0.8M100.9 643.4h0.8M126.1 613.5h0.8M132.7 681.7h0.8M154.0 682.7h0.8M130.0 588.3h0.8M53.0 644.9h0.8M187.6 641.7h0.8M116.9 672.5h0.8M84.1 674.3h0.8M146.5 666.9h0.8M108.1 594.7h0.8M153.4 652.3h0.8M52.5 671.2h0.8M109.7 686.3h0.8M108.0 667.7h0.8M150.2 661.4h0.8M85.4 654.8h0.8M137.5 675.2h0.8M163.8 627.3h0.8M146.3 641.0h0.8M89.1 636.9h0.8M160.9 665.7h0.8M184.2 630.3h0.8M82.5 671.0h0.8M60.8 674.8h0.8M102.6 649.3h0.8M166.6 611.3h0.8M106.5 668.9h0.8M119.0 645.8h0.8M178.0 602.7h0.8M84.4 672.0h0.8M177.7 626.7h0.8M177.4 653.0h0.8M72.8 653.8h0.8M186.3 626.3h0.8M80.1 625.3h0.8M102.7 632.8h0.8M121.6 626.2h0.8M170.4 659.2h0.8M151.2 648.7h0.8M53.3 629.7h0.8M55.0 598.8h0.8M123.4 629.1h0.8M65.1 678.1h0.8M184.3 588.5h0.8M183.6 645.7h0.8M104.9 594.5h0.8M95.2 627.5h0.8M180.8 673.4h0.8M164.8 630.6h0.8M174.2 634.6h0.8M109.5 613.7h0.8M117.1 681.8h0.8M123.2 651.4h0.8M160.7 629.0h0.8M132.2 626.8h0.8M115.7 597.1h0.8M127.7 649.4h0.8M63.5 607.6h0.8M135.0 676.8h0.8M150.7 591.6h0.8M98.8 672.9h0.8M140.1 650.5h0.8M161.0 607.8h0.8M81.9 612.9h0.8M99.9 589.2h0.8M55.2 668.4h0.8M182.2 616.8h0.8M154.6 590.8h0.8M58.7 602.0h0.8M74.7 650.9h0.8M65.1 620.1h0.8M172.3 643.0h0.8M94.1 598.3h0.8M75.2 592.8h0.8M132.6 686.1h0.8M104.7 649.0h0.8M181.5 649.6h0.8M126.6 589.3h0.8M104.0 594.8h0.8M172.2 597.7h0.8M154.3 678.8h0.8M139.9 642.2h0.8M118.3 674.7h0.8M91.0 625.9h0.8M150.3 605.5h0.8M146.3 671.0h0.8M147.3 641.9h0.8M96.9 681.9h0.8M178.9 594.7h0.8M90.3 663.6h0.8M102.6 616.7h0.8M163.3 663.4h0.8M124.0 672.2h0.8M99.8 679.2h0.8M67.4 643.3h0.8M127.3 623.4h0.8M77.3 592.8h0.8M156.7 644.9h0.8M152.2 620.7h0.8M164.3 600.2h0.8M135.7 647.5h0.8M129.5 587.4h0.8M187.2 614.7h0.8M74.5 681.8h0.8M159.1 680.8h0.8M125.2 647.0h0.8M117.0 630.5h0.8M75.9 586.9h0.8M161.0 669.2h0.8M57.3 676.6h0.8M167.1 633.3h0.8M119.9 642.1h0.8M65.5 640.2h0.8M72.5 660.0h0.8M170.3 614.9h0.8M160.1 674.8h0.8M53.7 629.3h0.8M157.7 660.7h0.8M78.7 642.2h0.8M174.1 603.5h0.8M57.5 602.5h0.8M94.9 633.4h0.8M186.5 619.4h0.8M106.0 639.3h0.8M84.7 600.5h0.8M76.6 672.3h0.8M137.5 603.6h0.8M97.3 591.9h0.8M184.3 588.6h0.8M72.2 662.0h0.8M155.7 634.3h0.8M179.1 669.4h0.8M161.6 597.8h0.8M59.8 656.8h0.8M63.0 660.2h0.8M169.1 642.6h0.8M153.0 682.1h0.8M179.8 596.2h0.8M81.1 639.3h0.8M154.9 657.6h0.8M174.7 686.0h0.8M139.1 660.8h0.8M138.1 684.8h0.8M129.2 600.3h0.8M114.0 632.8h0.8M164.9 593.5h0.8M67.6 599.2h0.8M82.2 609.8h0.8M103.7 630.5h0.8M164.9 592.0h0.8M149.6 653.6h0.8M54.3 663.6h0.8M119.5 624.8h0.8M106.5 640.6h0.8M72.5 662.8h0.8M90.4 624.3h0.8M54.9 627.3h0.8M56.1 657.8h0.8M108.0 640.0h0.8M172.7 639.7h0.8M92.3 620.4h0.8M165.1 680.6h0.8M144.4 678.9h0.8M173.3 589.1h0.8M72.2 595.2h0.8M62.2 627.2h0.8M178.3 609.5h0.8M106.2 594.3h0.8M157.2 603.0h0.8M93.1 638.1h0.8M54.6 610.7h0.8M61.6 598.8h0.8M96.7 638.6h0.8M138.1 654.9h0.8M99.1 615.7h0.8M126.3 612.7h0.8M127.5 678.4h0.8M54.3 611.5h0.8M175.1 657.6h0.8M172.1 672.7h0.8M137.2 682.2h0.8M185.3 643.9h0.8M87.0 586.9h0.8M184.9 650.8h0.8M129.7 658.6h0.8M142.4 678.9h0.8M180.4 601.5h0.8M98.3 620.6h0.8M151.1 587.4h0.8M109.3 607.8h0.8M119.0 621.5h0.8M167.9 677.5h0.8M73.0 651.7h0.8M124.7 657.8h0.8M163.2 640.1h0.8M171.3 618.1h0.8M187.1 674.5h0.8M178.4 685.5h0.8M177.0 591.8h0.8M143.7 642.7h0.8M105.1 622.1h0.8M101.5 685.5h0.8M61.9 616.3h0.8M162.2 592.7h0.8M152.0 681.9h0.8M172.9 649.2h0.8M88.6 587.5h0.8M142.5 616.0h0.8M98.5 674.1h0.8M184.4 602.5h0.8M52.5 597.8h0.8M66.2 645.0h0.8M154.7 601.9h0.8M152.4 654.9h0.8M174.8 631.9h0.8M76.5 614.0h0.8M158.6 682.4h0.8M146.2 636.6h0.8M137.6 653.1h0.8M81.6 682.8h0.8M70.2 642.9h0.8M137.7 643.5h0.8M100.3 636.9h0.8M129.5 616.2h0.8M157.2 592.8h0.8M140.0 619.3h0.8M118.0 632.8h0.8M95.0 646.7h0.8M157.0 631.2h0.8M164.6 630.7h0.8M89.0 627.0h0.8M108.8 617.1h0.8M168.1 602.7h0.8M183.4 602.6h0.8M180.1 588.7h0.8M84.3 593.5h0.8M99.3 651.0h0.8M177.8 594.1h0.8M186.2 615.7h0.8M185.2 627.7h0.8M81.2 673.1h0.8M118.2 678.4h0.8M66.4 674.5h0.8M53.5 640.5h0.8M144.7 636.1h0.8M178.3 621.2h0.8M69.9 679.2h0.8M64.8 636.8h0.8M117.6 595.6h0.8M71.4 644.9h0.8M123.7 634.5h0.8M115.0 619.8h0.8M90.8 589.1h0.8M174.8 675.8h0.8M82.2 597.8h0.8M119.5 679.2h0.8M114.1 648.5h0.8M149.6 615.8h0.8M72.2 664.9h0.8M64.0 663.6h0.8M106.8 590.5h0.8M153.7 653.4h0.8M158.5 607.7h0.8M116.2 669.5h0.8M161.9 625.8h0.8M180.6 597.1h0.8M115.5 641.2h0.8M108.8 597.6h0.8M131.3 605.6h0.8M167.8 597.9h0.8M87.2 652.3h0.8M163.2 595.9h0.8M159.5 650.3h0.8M163.9 662.4h0.8M88.0 682.9h0.8M92.6 600.0h0.8M145.5 614.3h0.8M108.6 604.5h0.8M137.3 626.3h0.8M92.7 587.9h0.8M151.1 673.7h0.8M76.9 654.9h0.8M181.9 589.5h0.8M109.0 681.8h0.8M144.1 595.9h0.8M172.5 636.5h0.8M97.3 631.0h0.8M152.9 589.9h0.8M127.1 674.3h0.8M109.4 613.5h0.8M66.5 651.1h0.8M92.3 676.5h0.8M128.2 663.2h0.8M95.9 671.5h0.8M93.9 643.9h0.8M126.2 651.7h0.8M90.2 587.6h0.8M78.4 643.7h0.8M71.6 639.8h0.8M130.9 672.5h0.8M141.0 597.7h0.8M67.1 681.4h0.8M168.6 611.2h0.8M102.8 608.8h0.8M80.1 645.2h0.8M165.6 592.8h0.8M110.7 608.2h0.8M149.4 613.6h0.8M66.9 600.1h0.8M177.4 618.1h0.8M133.0 644.9h0.8M111.8 629.0h0.8M95.7 624.7h0.8M168.6 635.3h0.8M86.6 640.8h0.8M59.3 682.4h0.8M133.8 604.0h0.8M100.5 651.9h0.8M158.5 678.2h0.8M161.2 675.9h0.8M121.5 595.3h0.8M167.4 638.5h0.8M160.5 602.8h0.8M128.2 598.6h0.8M178.7 657.6h0.8M182.5 624.9h0.8M60.6 591.0h0.8M157.1 621.7h0.8M115.1 627.6h0.8M142.4 612.5h0.8M77.6 587.3h0.8M69.7 587.7h0.8M133.6 597.4h0.8M148.4 668.3h0.8M52.8 627.8h0.8M111.3 685.3h0.8M172.4 597.5h0.8M182.0 632.1h0.8M181.0 668.8h0.8M106.2 638.6h0.8M107.0 683.5h0.8M180.7 588.4h0.8M82.6 628.0h0.8M79.6 684.3h0.8M102.1 605.2h0.8M149.5 595.1h0.8M124.7 645.2h0.8M80.4 680.9h0.8M150.5 629.9h0.8M71.8 589.9h0.8M181.2 619.1h0.8M96.0 629.1h0.8M139.6 682.2h0.8M167.6 686.0h0.8M119.8 646.1h0.8M72.2 631.7h0.8M100.1 628.4h0.8M76.8 613.5h0.8M71.8 626.3h0.8M151.7 673.3h0.8M138.0 614.2h0.8M160.5 672.6h0.8M131.0 670.2h0.8M157.7 682.7h0.8M84.8 657.8h0.8M174.5 654.4h0.8M162.6 671.9h0.8M56.4 634.9h0.8M161.7 625.7h0.8M67.5 623.5h0.8M103.6 640.0h0.8M171.1 671.4h0.8M162.0 610.6h0.8M81.2 623.0h0.8M141.0 626.6h0.8M142.8 590.2h0.8M170.0 648.9h0.8M80.0 599.6h0.8M128.9 640.6h0.8M113.2 620.0h0.8M144.4 657.3h0.8M174.6 663.4h0.8M106.3 589.4h0.8M83.6 594.2h0.8M117.3 671.1h0.8M177.6 686.3h0.8M93.1 629.4h0.8M52.1 626.8h0.8M150.0 599.0h0.8M172.8 660.1h0.8M136.3 632.8h0.8M86.2 601.2h0.8M107.8 626.2h0.8M129.4 588.2h0.8M158.8 674.9h0.8M58.1 645.1h0.8M153.4 617.8h0.8M127.9 668.3h0.8M101.5 617.8h0.8M172.8 614.2h0.8M187.8 671.1h0.8M159.9 588.2h0.8M157.1 671.4h0.8M171.0 588.2h0.8M80.6 639.3h0.8M152.8 670.4h0.8M117.4 629.8h0.8M101.7 636.0h0.8M155.3 655.3h0.8M70.5 648.2h0.8M118.9 596.3h0.8M175.2 678.0h0.8M121.6 651.0h0.8M168.8 662.5h0.8M132.6 639.7h0.8M58.3 666.8h0.8M107.0 632.6h0.8M83.0 627.9h0.8M164.6 623.3h0.8M141.5 671.2h0.8M61.4 610.6h0.8M103.6 670.5h0.8M95.0 644.2h0.8M89.7 615.7h0.8M183.2 657.7h0.8M95.1 640.0h0.8M112.9 670.3h0.8M104.3 613.3h0.8M67.3 653.3h0.8M77.7 648.2h0.8M97.2 634.9h0.8M107.6 627.2h0.8M71.4 665.4h0.8M146.8 645.6h0.8M121.6 675.3h0.8M75.4 674.6h0.8M129.5 671.0h0.8M95.4 602.7h0.8M158.9 643.3h0.8M176.6 650.1h0.8M68.0 598.2h0.8M178.0 618.0h0.8M72.0 645.9h0.8M136.3 589.7h0.8M166.9 611.5h0.8M119.3 625.0h0.8M122.4 684.1h0.8M129.1 641.2h0.8M120.6 607.3h0.8M182.4 651.5h0.8M138.6 655.1h0.8M162.9 636.3h0.8M101.8 629.0h0.8M182.3 650.3h0.8M92.4 643.3h0.8M138.3 650.0h0.8M184.1 684.8h0.8M63.9 633.3h0.8M164.4 626.1h0.8M152.4 638.6h0.8M115.3 596.9h0.8M136.9 611.2h0.8M110.6 678.8h0.8M158.9 616.5h0.8M176.8 632.4h0.8M179.7 610.4h0.8M94.9 598.2h0.8M126.6 640.1h0.8M129.6 587.9h0.8M55.2 616.9h0.8M168.7 633.0h0.8M73.0 637.3h0.8M132.7 640.3h0.8M103.8 618.9h0.8M137.5 653.3h0.8M101.7 663.3h0.8M73.8 669.8h0.8M141.0 612.7h0.8M55.8 588.9h0.8M76.9 663.9h0.8M61.8 603.1h0.8M124.5 626.9h0.8M139.9 632.0h0.8M116.3 666.4h0.8M172.6 614.0h0.8M99.8 593.2h0.8M82.8 600.1h0.8M178.3 662.7h0.8M65.5 676.6h0.8M56.2 610.6h0.8M138.6 648.4h0.8M91.6 631.2h0.8M172.8 647.4h0.8M93.5 619.2h0.8M121.3 623.9h0.8M130.9 632.0h0.8M156.1 616.4h0.8M137.2 598.7h0.8M100.2 594.7h0.8M183.9 663.7h0.8M87.2 601.8h0.8M108.3 633.7h0.8M162.9 666.8h0.8M138.1 637.7h0.8M92.0 671.9h0.8M161.5 589.7h0.8M70.5 599.4h0.8M55.9 633.6h0.8M165.7 657.3h0.8M167.2 633.5h0.8M80.6 685.6h0.8M182.6 644.2h0.8M83.3 598.9h0.8M171.2 640.6h0.8M66.8 628.4h0.8M124.1 638.6h0.8M178.1 604.6h0.8M126.5 598.6h0.8M149.3 659.9h0.8M166.9 637.3h0.8M120.1 674.2h0.8M145.6 599.7h0.8M72.1 630.6h0.8M66.0 607.5h0.8M181.6 608.8h0.8M96.1 621.2h0.8M137.2 685.9h0.8M178.6 617.4h0.8M89.9 631.5h0.8M77.7 615.0h0.8M102.9 613.9h0.8M131.1 678.7h0.8M140.8 603.6h0.8M124.8 601.8h0.8M125.3 629.6h0.8M179.2 630.6h0.8M104.2 644.0h0.8M120.4 640.8h0.8M64.9 662.4h0.8M74.3 657.7h0.8M186.4 607.0h0.8M57.8 656.7h0.8M64.1 669.7h0.8M68.4 615.9h0.8M113.6 623.1h0.8M148.7 627.3h0.8M97.5 637.9h0.8M139.0 612.9h0.8M109.8 653.7h0.8M142.0 606.6h0.8M119.1 677.6h0.8M112.1 636.5h0.8M66.8 639.1h0.8M169.1 638.8h0.8M169.3 651.1h0.8M185.2 677.7h0.8M53.6 622.6h0.8M83.5 676.4h0.8M145.6 641.4h0.8M104.4 661.3h0.8M149.9 595.9h0.8M134.3 589.9h0.8M66.2 590.6h0.8M160.6 594.4h0.8M98.1 658.4h0.8M157.7 646.3h0.8M179.1 654.3h0.8M99.7 653.5h0.8M89.6 663.4h0.8M178.2 617.2h0.8M116.7 644.7h0.8M134.2 612.8h0.8M152.6 596.2h0.8M160.2 612.0h0.8M96.6 597.9h0.8M147.9 647.1h0.8M56.8 615.1h0.8M119.1 615.3h0.8M134.9 625.3h0.8M58.4 608.4h0.8M105.2 666.5h0.8M137.9 596.1h0.8M63.3 626.2h0.8M139.7 626.3h0.8M81.1 592.7h0.8M122.1 643.1h0.8M125.1 588.7h0.8M130.1 634.2h0.8M106.9 614.8h0.8M145.3 674.8h0.8M159.1 675.4h0.8M108.9 615.7h0.8M110.1 619.8h0.8M144.9 657.7h0.8M118.8 645.8h0.8M151.2 610.0h0.8M140.6 615.0h0.8M148.3 657.5h0.8M120.6 664.2h0.8M106.4 634.9h0.8M105.6 633.6h0.8M74.3 659.4h0.8M141.4 671.1h0.8M162.0 630.1h0.8M97.2 636.9h0.8M181.1 682.3h0.8M165.6 616.7h0.8M172.8 618.0h0.8M99.7 604.2h0.8M170.0 641.2h0.8M126.5 591.0h0.8M84.2 675.2h0.8M62.7 670.6h0.8M74.0 643.5h0.8M104.5 685.1h0.8M157.6 592.3h0.8M56.0 628.7h0.8M123.2 624.3h0.8M145.0 660.1h0.8M104.2 666.4h0.8M89.0 611.0h0.8M59.2 677.7h0.8M67.2 647.2h0.8M153.3 658.5h0.8M132.1 679.5h0.8M80.3 589.4h0.8M158.2 594.3h0.8M111.6 642.1h0.8M113.8 609.2h0.8M69.5 649.0h0.8M60.7 654.4h0.8M56.6 621.3h0.8M158.8 668.2h0.8M79.3 670.8h0.8M154.2 659.3h0.8M106.7 631.5h0.8M151.7 656.8h0.8M56.0 656.2h0.8M142.7 670.8h0.8M68.4 590.0h0.8M182.1 604.2h0.8M162.4 589.6h0.8M161.1 677.5h0.8M136.1 608.5h0.8M123.8 597.4h0.8M127.4 624.8h0.8M145.3 587.0h0.8M157.9 587.9h0.8M69.8 607.8h0.8M152.6 631.9h0.8M185.9 618.6h0.8M119.3 683.8h0.8M81.0 601.0h0.8M134.2 682.8h0.8M62.3 667.1h0.8M56.1 598.7h0.8M124.7 609.4h0.8M68.8 596.5h0.8M113.9 597.4h0.8M64.4 638.7h0.8M94.5 637.4h0.8M116.3 652.8h0.8M103.0 592.1h0.8M147.2 677.8h0.8M84.7 660.6h0.8M177.3 639.5h0.8M52.4 606.9h0.8M157.2 678.1h0.8M67.2 640.8h0.8M167.2 652.7h0.8M68.5 607.5h0.8M64.0 682.3h0.8M172.3 632.4h0.8M127.1 679.0h0.8M172.3 621.6h0.8M178.2 666.8h0.8M149.4 674.0h0.8M118.1 650.8h0.8M130.9 651.8h0.8M187.5 592.7h0.8M160.9 599.1h0.8M82.5 597.0h0.8M86.9 664.3h0.8M53.3 659.3h0.8M163.6 650.0h0.8M59.9 601.4h0.8M172.9 610.5h0.8M127.2 592.7h0.8M79.2 666.0h0.8M78.4 607.4h0.8M126.3 674.7h0.8M68.4 596.3h0.8M145.4 612.3h0.8M92.2 619.8h0.8M104.3 622.6h0.8M110.6 644.0h0.8M177.2 625.9h0.8M187.1 678.8h0.8M185.8 640.6h0.8M127.0 629.5h0.8M130.5 596.3h0.8M171.7 607.6h0.8M124.9 665.5h0.8M152.4 612.1h0.8M63.5 644.0h0.8M139.4 603.5h0.8M109.1 661.8h0.8M123.0 651.7h0.8M80.4 665.9h0.8M84.8 608.1h0.8M169.1 675.1h0.8M163.9 607.7h0.8M79.7 660.7h0.8M77.1 656.2h0.8M156.8 660.1h0.8M114.5 626.2h0.8M157.0 606.4h0.8M127.2 610.6h0.8M61.4 624.8h0.8M131.7 668.7h0.8M143.7 616.3h0.8M169.3 610.0h0.8M147.8 592.8h0.8M150.2 667.6h0.8M128.7 642.8h0.8M141.0 619.0h0.8M117.7 593.3h0.8M74.5 677.4h0.8M65.0 680.4h0.8M112.4 603.9h0.8M83.9 672.8h0.8M171.1 667.6h0.8M103.2 672.2h0.8M155.1 672.5h0.8M90.0 631.0h0.8M167.3 670.0h0.8M62.8 678.6h0.8M85.3 652.8h0.8M120.0 639.9h0.8M53.7 682.4h0.8M136.4 676.0h0.8M140.5 633.5h0.8M164.5 680.1h0.8M97.9 665.3h0.8M148.9 677.7h0.8M56.8 634.7h0.8M65.3 640.9h0.8M117.7 587.1h0.8M97.3 661.9h0.8M53.0 620.3h0.8M66.8 595.0h0.8M100.4 613.0h0.8M159.6 586.9h0.8M117.2 638.7h0.8M180.5 661.9h0.8M88.0 613.7h0.8M112.3 683.9h0.8M118.7 599.6h0.8M118.1 664.4h0.8M74.9 668.5h0.8M124.2 593.0h0.8M78.5 586.5h0.8M65.5 626.6h0.8M173.0 661.1h0.8M136.8 658.0h0.8M155.3 670.8h0.8M91.8 594.7h0.8M66.0 652.9h0.8M149.9 661.9h0.8M53.8 626.4h0.8M70.9 624.6h0.8M135.4 632.7h0.8M62.4 600.3h0.8M84.9 636.7h0.8M55.8 634.9h0.8M72.7 596.4h0.8M137.3 598.3h0.8M100.4 676.3h0.8M173.8 606.7h0.8M178.6 628.3h0.8M111.0 652.6h0.8M71.3 599.8h0.8M119.8 587.2h0.8M106.5 680.9h0.8M106.5 644.1h0.8M180.5 604.8h0.8M89.8 615.5h0.8M146.6 643.3h0.8M142.1 592.9h0.8M183.2 592.1h0.8M175.2 623.4h0.8M59.2 622.3h0.8M77.1 638.9h0.8M163.9 620.0h0.8M107.0 602.5h0.8M162.1 673.8h0.8M124.4 679.0h0.8M60.2 642.9h0.8M137.0 652.9h0.8M102.0 616.9h0.8M160.9 667.6h0.8M142.9 611.9h0.8M177.8 645.3h0.8M102.6 644.5h0.8M66.8 591.1h0.8M99.0 612.9h0.8M58.9 634.6h0.8M111.5 666.4h0.8M112.2 641.6h0.8M158.7 619.8h0.8M98.6 671.0h0.8M178.2 649.3h0.8M56.9 614.2h0.8M71.9 651.3h0.8M152.9 678.1h0.8M141.4 624.3h0.8M127.7 641.7h0.8M165.2 657.8h0.8M85.0 612.4h0.8M107.6 683.9h0.8M88.9 664.6h0.8M84.1 680.5h0.8M58.5 666.5h0.8M128.1 678.1h0.8M103.1 588.0h0.8M181.7 644.7h0.8M79.3 633.1h0.8M122.0 592.9h0.8M66.6 680.4h0.8M53.5 675.0h0.8M103.7 595.5h0.8M130.1 665.2h0.8M112.1 644.3h0.8M106.4 653.0h0.8M133.0 651.3h0.8M120.9 606.6h0.8M59.0 618.2h0.8M155.8 679.4h0.8M97.0 590.2h0.8M90.0 667.0h0.8M133.9 605.9h0.8M158.0 635.0h0.8M126.4 638.7h0.8M86.9 613.3h0.8M167.2 594.3h0.8M55.7 666.6h0.8M132.1 640.4h0.8M69.9 661.3h0.8M115.2 677.1h0.8M83.0 684.7h0.8M161.9 617.4h0.8M85.0 645.0h0.8M151.5 666.1h0.8M120.9 647.2h0.8M153.6 654.1h0.8M59.2 682.5h0.8M123.0 596.8h0.8M182.8 651.3h0.8M162.0 645.4h0.8M97.1 664.5h0.8M164.4 628.9h0.8M100.4 595.4h0.8M126.4 605.5h0.8M112.4 591.0h0.8M61.8 627.1h0.8M72.3 599.1h0.8M143.8 685.4h0.8M121.0 620.1h0.8M124.2 593.2h0.8M154.9 587.2h0.8M149.5 636.4h0.8M156.1 643.3h0.8M149.7 635.2h0.8M143.4 651.6h0.8M172.0 664.2h0.8M162.6 681.2h0.8M119.2 629.1h0.8M165.4 600.9h0.8M55.2 650.4h0.8M177.7 685.2h0.8M157.6 669.5h0.8M133.7 625.4h0.8M135.1 623.1h0.8M93.1 598.3h0.8M142.6 593.6h0.8M54.8 640.9h0.8M115.3 624.8h0.8M177.0 678.0h0.8M64.2 638.5h0.8M100.1 605.2h0.8M165.2 645.1h0.8M81.1 680.3h0.8M125.3 627.9h0.8M177.3 624.4h0.8M175.3 678.4h0.8M125.0 606.8h0.8M97.2 591.8h0.8M165.0 609.9h0.8M93.4 672.4h0.8M164.6 608.3h0.8M95.7 652.1h0.8M52.2 601.3h0.8M155.0 684.2h0.8M95.6 646.5h0.8M151.8 629.4h0.8M163.2 617.0h0.8M157.9 656.4h0.8M113.1 613.4h0.8M85.6 655.2h0.8M159.4 599.9h0.8M65.9 620.1h0.8M176.6 677.1h0.8M127.5 611.3h0.8M62.2 639.6h0.8M114.5 592.3h0.8M93.9 626.8h0.8M115.6 675.1h0.8M170.0 590.4h0.8M172.5 593.9h0.8M125.5 655.7h0.8M182.2 635.0h0.8M120.2 627.8h0.8M52.7 671.1h0.8M152.4 587.2h0.8M116.6 666.8h0.8M182.7 628.1h0.8M87.1 639.8h0.8M74.5 661.3h0.8M112.7 621.8h0.8M143.3 618.0h0.8M103.4 661.6h0.8M98.1 590.1h0.8M95.2 607.2h0.8M161.1 601.3h0.8M117.3 640.2h0.8M78.5 681.8h0.8M86.3 597.2h0.8M97.6 656.8h0.8M105.0 614.3h0.8M158.4 661.9h0.8M101.5 643.5h0.8M149.9 670.7h0.8M171.4 642.5h0.8M74.4 666.3h0.8M60.4 606.3h0.8M175.9 666.9h0.8M123.7 620.0h0.8M92.7 615.5h0.8M184.7 635.6h0.8M72.3 623.2h0.8M72.1 657.2h0.8M172.7 638.5h0.8M59.4 659.2h0.8M176.1 633.6h0.8M173.4 602.4h0.8M148.1 654.6h0.8M114.3 673.4h0.8M175.3 612.8h0.8M65.7 635.8h0.8M184.8 627.7h0.8M147.1 618.1h0.8M163.8 621.6h0.8M70.6 587.0h0.8M164.5 614.4h0.8M92.8 602.3h0.8M172.2 619.1h0.8M181.1 597.8h0.8M85.1 642.0h0.8M75.1 651.3h0.8M105.0 672.0h0.8M56.0 590.6h0.8M135.9 675.6h0.8M175.0 682.0h0.8M165.0 671.7h0.8M187.3 679.3h0.8M137.5 664.6h0.8M80.5 665.1h0.8M187.5 647.1h0.8M91.0 649.2h0.8M53.3 667.5h0.8M60.2 638.3h0.8M144.7 646.9h0.8M57.5 589.8h0.8M137.3 675.4h0.8M135.3 621.3h0.8M60.8 590.8h0.8M171.1 680.4h0.8M78.3 588.8h0.8M184.0 643.1h0.8M184.5 601.6h0.8M79.8 685.9h0.8M164.3 629.1h0.8M146.5 592.7h0.8M146.3 665.4h0.8M73.6 670.3h0.8M150.7 615.7h0.8M124.8 592.9h0.8M179.2 679.1h0.8M135.3 647.4h0.8M160.8 589.0h0.8M89.8 655.8h0.8M115.0 589.1h0.8M182.9 681.2h0.8M162.2 668.7h0.8M137.0 618.2h0.8M60.2 641.2h0.8M122.1 598.2h0.8M78.6 654.3h0.8M185.6 588.1h0.8M157.8 663.5h0.8M94.9 677.8h0.8M117.8 673.1h0.8M157.6 650.5h0.8M166.4 615.3h0.8M93.8 672.0h0.8M81.3 650.2h0.8M76.3 665.3h0.8M155.8 679.8h0.8M129.9 626.4h0.8M106.8 622.8h0.8M155.9 656.0h0.8M182.7 591.3h0.8M149.8 607.8h0.8M60.0 662.3h0.8M72.1 625.5h0.8M121.2 616.0h0.8M173.6 651.8h0.8M184.0 625.8h0.8M178.1 625.0h0.8M129.8 596.7h0.8M174.4 593.4h0.8M105.2 666.7h0.8M59.4 620.3h0.8M122.2 658.5h0.8M89.1 649.9h0.8M76.6 657.4h0.8M178.1 651.9h0.8M114.3 604.7h0.8M167.8 620.2h0.8M121.9 665.4h0.8M101.7 646.8h0.8M156.4 606.3h0.8M73.8 677.0h0.8M85.5 589.8h0.8M106.4 642.0h0.8M120.3 667.8h0.8M70.5 600.6h0.8M83.8 635.8h0.8M60.2 622.4h0.8M117.0 642.6h0.8M125.2 639.4h0.8M64.6 613.6h0.8M84.9 684.6h0.8M147.7 633.6h0.8M63.4 640.1h0.8M156.7 682.8h0.8M132.2 599.0h0.8M124.9 677.4h0.8M147.0 625.0h0.8M103.5 643.2h0.8M68.5 610.6h0.8M96.9 609.2h0.8M61.5 588.0h0.8M109.7 671.9h0.8M61.5 587.0h0.8M95.5 662.5h0.8M68.3 626.9h0.8M149.9 590.3h0.8M176.2 600.5h0.8M57.7 611.4h0.8M177.3 681.1h0.8M115.3 639.4h0.8M101.5 589.3h0.8M104.1 663.6h0.8M59.2 606.5h0.8M111.8 675.3h0.8M104.7 635.9h0.8M86.9 668.7h0.8M92.1 660.5h0.8M123.0 665.0h0.8M159.6 599.9h0.8M111.7 591.0h0.8M128.4 663.0h0.8M95.7 640.5h0.8M149.3 678.9h0.8M155.2 589.7h0.8M132.1 634.1h0.8M75.1 588.9h0.8M81.5 612.7h0.8M85.9 652.2h0.8M133.1 641.8h0.8M123.1 636.5h0.8M158.5 601.2h0.8M80.8 633.9h0.8M81.1 633.6h0.8M145.1 683.0h0.8M178.6 607.4h0.8M74.7 658.6h0.8M180.0 617.4h0.8M96.5 637.1h0.8M162.8 599.5h0.8M99.8 620.7h0.8M160.5 612.0h0.8M99.1 626.1h0.8M133.3 612.0h0.8M136.9 638.5h0.8M166.2 685.4h0.8M86.5 667.6h0.8M56.6 644.4h0.8M62.6 608.6h0.8M155.5 628.8h0.8M75.4 670.3h0.8M99.3 639.3h0.8M141.5 594.9h0.8M76.2 660.9h0.8M134.9 622.9h0.8M108.1 678.3h0.8M102.6 679.9h0.8M83.7 676.6h0.8M128.3 682.2h0.8M167.5 610.2h0.8M141.9 648.0h0.8M118.1 640.9h0.8M161.0 628.1h0.8M73.1 664.8h0.8M120.6 602.2h0.8M149.2 673.5h0.8M174.2 647.5h0.8M58.9 622.7h0.8M78.9 652.5h0.8M118.9 589.4h0.8M156.4 660.6h0.8M65.2 607.4h0.8M77.2 649.1h0.8M150.0 662.5h0.8M156.2 610.1h0.8M139.8 683.2h0.8M117.5 685.2h0.8M92.2 618.1h0.8M129.5 624.7h0.8M63.9 589.6h0.8M177.9 681.8h0.8M57.8 616.0h0.8M135.3 597.6h0.8M76.6 647.5h0.8M68.3 622.0h0.8M77.0 681.0h0.8M122.3 657.9h0.8M136.3 589.4h0.8M160.2 643.4h0.8M80.2 591.5h0.8M66.8 655.9h0.8M143.5 668.2h0.8M145.1 643.5h0.8M137.8 632.8h0.8M176.0 592.6h0.8M85.5 604.9h0.8M170.2 627.9h0.8M166.7 606.4h0.8M104.1 620.1h0.8M139.7 667.2h0.8M101.2 640.9h0.8M78.7 675.9h0.8M103.8 609.5h0.8M132.2 640.2h0.8M63.5 654.8h0.8M124.1 618.8h0.8M74.7 660.2h0.8M148.2 656.3h0.8M148.1 630.1h0.8M126.7 664.4h0.8M100.6 671.1h0.8M162.7 604.0h0.8M101.6 669.0h0.8M59.5 600.6h0.8M94.3 649.7h0.8M115.2 656.9h0.8M143.3 647.4h0.8M184.0 655.7h0.8M120.7 591.8h0.8M172.8 636.5h0.8M95.1 601.5h0.8M140.4 593.3h0.8M128.7 589.3h0.8M184.0 632.0h0.8M131.1 624.6h0.8M58.0 652.8h0.8M104.3 619.4h0.8M102.1 661.7h0.8M187.8 605.0h0.8M132.9 660.8h0.8M106.9 675.5h0.8M138.4 681.0h0.8M59.5 617.6h0.8M99.7 599.2h0.8M69.5 621.6h0.8M134.0 654.3h0.8M72.8 669.2h0.8M179.2 685.2h0.8M88.8 610.8h0.8M134.7 682.8h0.8M135.9 614.7h0.8M135.7 685.0h0.8M162.4 610.4h0.8M179.1 642.2h0.8M116.7 682.9h0.8M110.2 595.5h0.8M147.7 635.9h0.8M139.9 588.5h0.8M62.8 650.4h0.8M54.9 650.2h0.8M81.6 601.2h0.8M162.8 674.9h0.8M105.2 663.3h0.8M187.8 605.8h0.8M87.4 619.5h0.8M114.4 677.4h0.8M159.1 638.9h0.8M115.6 665.0h0.8M65.3 586.9h0.8M53.4 602.2h0.8M114.0 671.0h0.8M106.7 634.6h0.8M147.8 631.5h0.8M169.2 633.6h0.8M107.6 661.9h0.8M185.2 680.9h0.8M116.9 629.6h0.8M93.9 684.2h0.8M91.6 655.3h0.8M116.2 603.4h0.8M68.9 591.4h0.8M172.6 648.0h0.8M57.7 631.4h0.8M140.8 618.2h0.8M126.4 588.6h0.8M55.3 662.4h0.8M66.2 624.4h0.8M140.2 593.6h0.8M65.0 587.6h0.8M154.5 633.9h0.8M80.8 634.8h0.8M168.6 589.2h0.8M161.6 620.5h0.8M151.9 649.5h0.8M139.3 663.5h0.8M80.0 675.8h0.8M111.9 644.8h0.8M172.9 642.2h0.8M89.6 674.5h0.8M63.5 673.0h0.8M134.8 609.0h0.8M154.3 622.5h0.8M167.8 586.6h0.8M86.8 645.1h0.8M69.3 640.7h0.8M151.5 635.9h0.8M184.7 609.8h0.8M110.8 607.9h0.8M102.0 675.0h0.8M161.7 667.2h0.8M148.4 665.0h0.8M141.9 681.3h0.8M88.5 592.1h0.8M170.4 668.3h0.8M102.2 628.4h0.8M86.7 637.9h0.8M123.0 658.8h0.8M96.6 646.5h0.8M97.9 654.7h0.8M149.8 656.6h0.8M170.6 593.8h0.8M123.0 683.1h0.8M140.5 634.8h0.8M71.4 678.6h0.8M73.5 604.3h0.8M179.9 601.1h0.8M112.0 591.2h0.8M53.5 664.7h0.8M159.6 680.4h0.8M103.1 631.9h0.8M77.2 659.8h0.8M154.9 594.7h0.8M89.0 613.7h0.8M151.0 680.3h0.8M168.4 607.7h0.8M60.2 654.5h0.8M155.1 678.8h0.8M90.7 677.3h0.8M70.7 616.0h0.8M177.0 635.4h0.8M158.3 643.7h0.8M124.5 654.9h0.8M106.3 619.0h0.8M156.6 660.3h0.8M109.3 605.4h0.8M187.4 590.8h0.8M62.9 644.2h0.8M59.7 659.7h0.8M137.3 626.1h0.8M60.4 673.9h0.8M123.1 649.4h0.8M183.0 603.9h0.8M61.6 662.7h0.8M81.3 601.9h0.8M173.4 628.6h0.8M122.7 634.7h0.8M110.9 671.6h0.8M54.1 616.0h0.8M182.9 663.1h0.8M112.1 623.0h0.8M121.1 591.0h0.8M122.4 680.4h0.8M163.6 599.7h0.8M108.5 613.6h0.8M61.7 638.1h0.8M124.8 662.0h0.8M142.7 601.9h0.8M134.1 644.2h0.8M91.8 632.4h0.8M146.0 649.8h0.8M115.9 603.6h0.8M120.8 635.3h0.8M97.6 669.8h0.8M155.0 611.3h0.8M112.4 612.7h0.8M89.0 602.6h0.8M108.3 632.0h0.8M118.0 596.5h0.8M147.3 599.7h0.8M112.2 648.6h0.8M83.1 607.8h0.8M103.4 662.2h0.8M115.5 608.5h0.8M163.9 674.8h0.8M126.1 596.3h0.8M57.6 639.1h0.8M173.7 686.2h0.8M172.8 652.7h0.8M109.4 617.6h0.8M69.4 599.7h0.8M105.4 666.4h0.8M134.9 625.9h0.8M157.0 635.1h0.8M62.9 609.8h0.8M95.8 616.1h0.8M91.1 644.2h0.8M93.6 630.2h0.8M106.6 650.1h0.8M139.2 616.4h0.8M76.0 600.5h0.8M160.9 642.2h0.8M143.4 599.8h0.8M167.3 630.8h0.8M138.8 628.8h0.8M101.1 623.8h0.8M176.5 620.0h0.8M126.5 652.7h0.8M120.2 641.3h0.8M156.4 590.2h0.8M173.1 662.6h0.8M108.9 630.5h0.8M107.7 629.4h0.8M129.0 685.0h0.8M84.8 662.4h0.8M122.4 604.8h0.8M81.2 650.5h0.8M93.8 619.9h0.8M115.5 618.2h0.8M97.1 678.2h0.8M155.6 595.2h0.8M181.3 649.1h0.8M152.3 590.9h0.8M83.2 604.6h0.8M155.8 622.3h0.8M99.0 676.3h0.8M139.1 624.9h0.8M126.3 648.1h0.8M78.9 678.3h0.8M107.8 663.1h0.8M137.9 598.8h0.8M157.9 600.1h0.8M83.1 654.8h0.8M171.5 656.9h0.8M166.1 635.9h0.8M79.1 618.4h0.8M61.5 682.4h0.8M152.7 648.0h0.8M131.3 596.3h0.8M53.1 681.4h0.8M71.8 626.6h0.8M186.5 646.9h0.8M118.0 602.5h0.8M110.1 629.2h0.8M153.2 630.9h0.8M105.8 663.7h0.8M117.4 624.8h0.8M72.0 635.1h0.8M71.7 616.7h0.8M76.9 613.1h0.8M134.7 602.0h0.8M133.6 623.0h0.8M55.5 591.4h0.8M160.3 629.6h0.8M92.7 596.4h0.8M147.4 677.5h0.8M114.9 625.4h0.8M168.2 620.7h0.8M88.9 598.7h0.8M162.6 616.7h0.8M146.1 632.1h0.8M116.3 675.5h0.8M53.8 637.8h0.8M63.8 636.1h0.8M86.1 670.3h0.8M102.1 663.0h0.8M58.9 631.8h0.8M74.9 671.5h0.8M117.9 644.7h0.8M119.7 600.0h0.8M58.3 677.1h0.8M54.3 611.6h0.8M156.0 676.1h0.8M176.6 650.7h0.8M114.5 659.7h0.8M165.0 674.8h0.8M122.0 666.2h0.8M170.6 676.4h0.8M147.6 647.6h0.8M102.2 641.7h0.8M179.4 683.7h0.8M159.5 657.6h0.8M185.5 680.6h0.8M101.3 659.2h0.8M97.8 666.0h0.8M74.0 617.0h0.8M63.1 640.4h0.8M77.2 587.2h0.8M66.6 646.8h0.8M105.1 607.3h0.8M139.8 603.5h0.8M146.9 629.2h0.8M91.7 601.9h0.8M56.9 670.3h0.8M119.6 616.3h0.8M130.4 597.8h0.8M110.0 643.4h0.8M95.6 591.9h0.8M158.9 655.1h0.8M93.3 603.1h0.8M84.1 623.2h0.8M147.6 684.0h0.8M60.9 603.4h0.8M160.7 658.8h0.8M96.4 655.5h0.8M156.1 673.8h0.8M138.8 663.6h0.8M140.0 660.0h0.8M172.7 676.8h0.8M144.8 602.9h0.8M117.5 596.5h0.8M119.8 663.6h0.8M87.0 615.4h0.8M82.6 683.5h0.8M87.5 635.4h0.8M178.7 661.6h0.8M172.4 669.7h0.8M64.1 589.6h0.8M133.1 614.8h0.8M63.5 591.4h0.8M71.7 628.8h0.8M100.2 622.7h0.8M144.9 625.1h0.8M110.3 649.9h0.8M111.8 624.1h0.8M166.8 629.9h0.8M91.6 674.9h0.8M142.6 634.7h0.8M153.5 649.7h0.8M183.1 622.1h0.8M151.4 642.2h0.8M86.7 601.4h0.8M158.5 626.6h0.8M77.2 601.5h0.8M59.0 613.6h0.8M129.1 673.2h0.8M119.4 637.6h0.8M125.5 591.1h0.8M110.8 656.7h0.8M162.8 645.4h0.8M158.4 611.7h0.8M182.0 594.3h0.8M127.3 605.6h0.8M169.2 654.5h0.8M135.9 663.9h0.8M163.2 649.8h0.8M159.3 617.0h0.8M173.2 652.4h0.8M150.0 629.3h0.8M59.1 681.9h0.8M163.1 646.0h0.8M147.1 589.7h0.8M139.9 586.5h0.8M98.5 627.2h0.8M152.6 676.0h0.8M85.2 592.5h0.8M186.5 647.2h0.8M126.4 595.0h0.8M97.4 594.8h0.8M161.7 597.4h0.8M55.3 661.9h0.8M97.9 656.5h0.8M107.9 604.2h0.8M122.9 648.6h0.8M58.0 587.0h0.8M113.3 666.7h0.8M72.8 656.0h0.8M183.6 674.2h0.8M150.5 631.7h0.8M142.2 677.1h0.8M170.8 641.2h0.8M93.1 664.4h0.8M169.0 641.3h0.8M163.5 652.3h0.8M135.5 649.0h0.8M148.2 659.6h0.8M174.3 597.6h0.8M115.6 667.2h0.8M144.2 681.3h0.8M158.4 607.4h0.8M113.1 630.0h0.8M67.5 652.1h0.8M147.7 612.5h0.8M185.9 640.2h0.8M107.2 670.1h0.8M63.8 665.8h0.8M149.3 596.0h0.8M88.6 675.7h0.8M92.3 665.0h0.8M162.3 586.9h0.8M69.3 612.9h0.8M52.0 630.1h0.8M52.8 670.4h0.8M169.8 675.6h0.8M65.0 593.7h0.8M168.7 606.8h0.8M122.6 592.1h0.8M76.9 621.5h0.8M76.0 632.0h0.8M171.5 617.8h0.8M166.9 638.9h0.8M142.0 591.1h0.8M70.4 667.7h0.8M79.5 682.5h0.8M97.0 668.1h0.8M83.3 626.7h0.8M174.9 601.8h0.8M128.1 605.1h0.8M95.6 648.2h0.8M61.0 633.8h0.8M141.9 590.9h0.8M128.4 667.8h0.8M58.4 587.7h0.8M57.5 630.3h0.8M154.0 638.7h0.8M173.0 659.8h0.8M187.0 654.8h0.8M130.3 628.4h0.8M105.5 681.0h0.8M101.9 642.6h0.8M118.5 612.5h0.8M56.2 606.2h0.8M135.5 640.9h0.8M93.6 607.8h0.8M100.6 676.8h0.8M52.4 622.1h0.8M92.9 593.6h0.8M90.0 591.9h0.8M181.2 645.5h0.8M127.6 639.9h0.8M175.7 607.1h0.8M82.1 593.5h0.8M143.3 644.8h0.8M80.4 631.2h0.8M148.4 617.0h0.8M120.1 613.1h0.8M126.8 603.7h0.8M134.1 627.3h0.8M65.5 614.4h0.8M67.5 643.9h0.8M110.1 633.3h0.8M118.6 644.4h0.8M95.9 647.8h0.8" stroke="#a8a5ca" stroke-width="0.8" clip-path="url(#brainclip)"/>
<path d="M181.0 627.6h0.8M177.0 655.4h0.8M148.2 606.3h0.8M68.3 611.5h0.8M137.3 674.3h0.8M183.7 683.9h0.8M144.2 598.6h0.8M65.9 681.9h0.8M82.8 591.9h0.8M85.9 645.1h0.8M155.7 644.7h0.8M166.8 657.9h0.8M180.8 664.4h0.8M69.3 638.0h0.8M76.6 607.7h0.8M176.4 658.4h0.8M96.9 601.8h0.8M73.9 597.2h0.8M94.0 663.7h0.8M146.4 633.5h0.8M157.6 610.6h0.8M105.4 662.6h0.8M176.6 630.1h0.8M114.5 632.3h0.8M157.0 674.7h0.8M127.1 586.9h0.8M136.4 601.3h0.8M165.3 652.8h0.8M181.2 604.6h0.8M122.4 624.1h0.8M58.4 652.6h0.8M74.2 642.2h0.8M105.0 647.1h0.8M115.7 628.8h0.8M66.7 593.6h0.8M76.7 662.3h0.8M142.4 622.4h0.8M80.8 661.6h0.8M115.7 670.2h0.8M92.2 662.7h0.8M161.8 634.3h0.8M160.5 645.8h0.8M147.3 676.8h0.8M116.2 609.1h0.8M55.9 635.8h0.8M117.0 620.7h0.8M162.2 628.9h0.8M146.3 596.4h0.8M102.3 593.2h0.8M150.2 628.5h0.8M75.7 648.4h0.8M130.6 625.6h0.8M79.9 684.1h0.8M99.7 606.3h0.8M136.7 637.6h0.8M129.8 628.6h0.8M123.6 608.1h0.8M145.1 665.2h0.8M162.1 587.0h0.8M57.3 627.5h0.8M89.8 633.1h0.8M182.7 644.4h0.8M99.2 620.2h0.8M60.5 678.1h0.8M162.9 684.4h0.8M162.4 632.2h0.8M60.2 673.1h0.8M117.8 666.0h0.8M147.5 656.4h0.8M167.4 611.1h0.8M163.2 607.5h0.8M150.8 619.8h0.8M131.4 668.9h0.8M119.1 622.7h0.8M125.7 624.5h0.8M125.4 645.9h0.8M109.6 610.4h0.8M53.3 630.6h0.8M159.6 677.5h0.8M87.6 660.7h0.8M89.8 619.7h0.8M131.2 592.7h0.8M184.9 643.1h0.8M140.1 625.2h0.8M121.7 676.7h0.8M165.2 619.5h0.8M89.6 627.3h0.8M111.5 602.3h0.8M68.7 616.4h0.8M94.9 626.7h0.8M184.7 598.2h0.8M87.2 668.6h0.8M169.4 624.5h0.8M88.0 641.1h0.8M83.3 672.7h0.8M163.4 625.0h0.8M140.2 636.1h0.8M71.8 664.2h0.8M119.5 587.2h0.8M178.7 647.0h0.8M80.8 623.0h0.8M187.2 662.8h0.8M119.3 648.6h0.8M160.5 608.5h0.8M155.6 668.1h0.8M170.4 662.5h0.8M148.9 607.9h0.8M83.6 649.3h0.8M160.6 626.3h0.8M161.9 596.4h0.8M66.0 660.9h0.8M118.3 669.6h0.8M91.2 625.5h0.8M141.6 671.1h0.8M165.7 616.3h0.8M187.8 609.4h0.8M121.5 613.5h0.8M99.6 594.7h0.8M99.7 601.1h0.8M66.6 591.7h0.8M182.9 684.5h0.8M111.9 594.1h0.8M117.7 619.1h0.8M162.3 603.5h0.8M128.1 631.3h0.8M89.5 684.0h0.8M166.1 599.8h0.8M168.9 637.7h0.8M83.0 667.3h0.8M183.1 646.7h0.8M74.9 596.9h0.8M158.2 681.7h0.8M118.8 611.2h0.8M168.0 642.6h0.8M54.0 627.5h0.8M149.6 622.7h0.8M185.0 602.7h0.8M80.6 646.2h0.8M100.1 662.5h0.8M182.5 602.0h0.8M112.0 682.3h0.8M165.8 672.8h0.8M105.9 658.0h0.8M131.0 662.1h0.8M156.4 679.5h0.8M156.8 678.4h0.8M101.4 651.8h0.8M127.8 590.1h0.8M98.1 652.6h0.8M102.9 670.4h0.8M139.3 645.7h0.8M116.6 603.3h0.8M68.1 675.6h0.8M167.3 623.8h0.8M136.8 623.9h0.8M133.6 600.4h0.8M84.1 629.4h0.8M129.8 619.7h0.8M128.9 605.1h0.8M129.2 588.8h0.8M154.8 685.9h0.8M181.4 591.9h0.8M166.9 596.9h0.8M155.7 672.3h0.8M130.3 622.6h0.8M115.1 627.5h0.8M129.1 641.8h0.8M58.0 655.3h0.8M58.3 625.9h0.8M154.1 624.4h0.8M131.0 652.6h0.8M76.3 610.9h0.8M142.7 589.6h0.8M180.2 661.9h0.8M161.2 663.4h0.8M59.1 677.5h0.8M58.4 635.4h0.8M90.4 603.3h0.8M86.5 600.2h0.8M163.5 588.3h0.8M151.0 632.6h0.8M133.0 620.7h0.8M69.4 597.5h0.8M147.1 633.4h0.8M111.7 650.9h0.8M52.2 612.4h0.8M87.1 668.0h0.8M80.5 673.5h0.8M168.0 629.7h0.8M143.1 681.9h0.8M166.9 598.2h0.8M101.1 612.5h0.8M159.7 679.0h0.8M128.6 611.1h0.8M106.6 632.3h0.8M155.3 602.3h0.8M100.7 640.9h0.8M99.9 602.3h0.8M151.9 681.4h0.8M129.1 613.3h0.8M82.4 612.9h0.8M181.5 611.9h0.8M144.3 627.4h0.8M112.8 665.1h0.8M166.3 636.2h0.8M96.0 626.7h0.8M76.8 659.1h0.8M117.3 673.8h0.8M96.1 661.3h0.8M171.1 682.8h0.8M88.1 679.2h0.8M120.0 683.8h0.8M122.7 600.9h0.8M155.9 637.8h0.8M68.9 629.1h0.8M75.1 640.8h0.8M92.8 655.1h0.8M167.8 621.4h0.8M111.8 682.5h0.8M112.1 601.7h0.8M148.9 652.5h0.8M178.5 627.8h0.8M167.4 592.0h0.8M177.3 601.2h0.8M110.1 596.0h0.8M79.6 625.8h0.8M69.9 606.4h0.8M111.9 608.9h0.8M183.2 636.3h0.8M61.0 590.3h0.8M73.8 645.2h0.8M113.8 684.0h0.8M102.5 608.8h0.8M158.6 596.4h0.8M52.5 589.1h0.8M67.5 650.1h0.8M65.4 595.9h0.8M71.9 625.2h0.8M168.1 674.2h0.8M163.9 592.0h0.8M62.7 612.7h0.8M119.6 593.1h0.8M170.9 676.0h0.8M97.2 657.2h0.8M167.8 626.7h0.8M181.0 613.3h0.8M95.5 632.2h0.8M77.2 672.3h0.8M64.8 653.4h0.8M77.2 634.7h0.8M125.4 647.2h0.8M120.2 588.0h0.8M54.2 617.9h0.8M90.5 625.5h0.8M154.5 670.3h0.8M85.2 658.6h0.8M167.4 662.8h0.8M84.3 632.5h0.8M105.5 607.0h0.8M177.3 590.7h0.8M53.6 602.5h0.8M106.3 596.9h0.8M58.7 616.4h0.8M134.3 668.4h0.8M73.0 655.9h0.8M152.0 630.6h0.8M99.4 619.1h0.8M158.6 601.1h0.8M63.4 618.6h0.8M66.5 587.0h0.8M184.4 675.3h0.8M140.2 596.4h0.8M129.9 644.2h0.8M183.1 599.9h0.8M154.0 640.6h0.8M60.7 612.0h0.8M79.8 597.8h0.8M169.1 668.3h0.8M92.4 611.0h0.8M170.7 588.7h0.8M135.5 665.3h0.8M101.0 657.4h0.8M107.1 642.1h0.8M121.6 678.0h0.8M101.0 598.3h0.8M130.5 650.2h0.8M142.7 663.4h0.8M128.0 683.4h0.8M123.2 626.3h0.8M86.6 667.9h0.8M96.5 605.7h0.8M176.2 675.3h0.8M159.8 647.5h0.8M133.3 593.2h0.8M135.4 666.8h0.8M156.4 596.2h0.8M61.3 605.4h0.8M175.6 668.8h0.8M151.0 646.7h0.8M82.9 660.2h0.8M67.8 670.1h0.8M68.5 620.2h0.8M170.4 588.6h0.8M145.1 637.6h0.8M152.1 617.2h0.8M167.4 669.3h0.8M141.2 649.3h0.8M156.9 629.3h0.8M71.0 652.4h0.8M58.2 649.2h0.8M167.2 591.3h0.8M59.4 648.5h0.8M169.1 628.5h0.8M173.7 685.1h0.8M72.6 599.9h0.8M77.4 619.4h0.8M145.2 627.1h0.8M180.0 643.4h0.8M169.8 606.0h0.8M146.5 675.1h0.8M177.9 650.9h0.8M69.1 679.7h0.8M124.2 622.3h0.8M170.1 588.3h0.8M161.9 622.7h0.8M154.1 675.8h0.8M129.8 658.7h0.8M147.8 605.1h0.8M185.5 628.6h0.8M180.7 685.0h0.8M84.7 624.4h0.8M174.9 661.8h0.8M164.0 610.0h0.8M91.0 628.3h0.8M102.5 617.8h0.8M58.6 613.0h0.8M164.9 653.6h0.8M107.2 625.8h0.8M97.8 673.2h0.8M168.4 629.9h0.8M177.5 622.4h0.8M143.6 592.7h0.8M71.9 663.8h0.8M93.7 597.4h0.8M57.6 629.8h0.8M93.3 636.0h0.8M168.9 599.5h0.8M139.2 683.5h0.8M159.0 600.1h0.8M60.3 654.9h0.8M89.8 633.6h0.8M137.7 681.8h0.8M81.3 619.1h0.8M68.8 634.0h0.8M92.6 616.6h0.8M108.5 670.7h0.8M187.9 668.7h0.8M178.3 622.0h0.8M143.4 629.6h0.8M107.8 587.9h0.8M177.7 594.6h0.8M126.9 641.1h0.8M179.9 653.0h0.8M100.1 667.2h0.8M159.0 587.8h0.8M154.3 600.5h0.8M104.4 681.4h0.8M154.3 649.5h0.8M154.0 669.7h0.8M136.8 638.1h0.8M124.0 682.7h0.8M143.6 649.3h0.8M147.5 594.8h0.8M155.5 684.1h0.8M112.3 614.5h0.8M131.4 646.5h0.8M102.3 660.2h0.8M184.2 629.7h0.8M112.6 680.2h0.8M142.1 614.7h0.8M124.5 623.8h0.8M183.8 661.2h0.8M133.5 616.7h0.8M177.2 620.9h0.8M118.3 671.3h0.8M164.4 649.0h0.8M91.8 625.3h0.8M182.3 589.4h0.8M58.1 598.8h0.8M161.1 593.5h0.8M158.4 647.3h0.8M129.1 677.7h0.8M131.8 684.8h0.8M81.7 646.3h0.8M53.6 606.3h0.8M92.3 588.8h0.8M160.4 605.6h0.8M187.3 594.5h0.8M170.2 598.0h0.8M174.6 679.9h0.8M101.8 678.5h0.8M168.2 612.6h0.8M89.5 635.0h0.8M157.8 616.2h0.8M155.0 672.2h0.8M158.8 675.6h0.8M144.9 626.6h0.8M153.5 661.5h0.8M123.1 614.0h0.8M120.5 620.3h0.8M132.6 613.8h0.8M88.3 610.5h0.8M117.1 643.1h0.8M124.0 611.4h0.8M65.3 598.0h0.8M143.4 627.7h0.8M117.4 598.2h0.8M72.0 610.6h0.8M89.0 608.9h0.8M144.4 609.4h0.8M105.6 680.2h0.8M144.3 638.8h0.8M123.1 671.8h0.8M60.5 659.3h0.8M116.7 648.1h0.8M165.2 607.8h0.8M71.5 683.1h0.8M58.8 658.6h0.8M185.6 589.7h0.8M144.6 633.2h0.8M74.1 649.0h0.8M114.6 624.4h0.8M147.0 668.6h0.8M87.4 627.3h0.8M82.2 663.9h0.8M53.1 674.7h0.8M54.0 650.8h0.8M167.0 675.3h0.8M183.9 660.8h0.8M106.0 684.3h0.8M162.2 594.6h0.8M172.6 586.6h0.8M73.8 612.7h0.8M111.3 643.1h0.8M68.4 635.0h0.8M172.5 672.6h0.8M105.7 594.7h0.8M139.6 613.8h0.8M59.7 597.9h0.8M106.4 669.0h0.8M109.0 624.3h0.8M100.9 625.3h0.8M138.1 590.2h0.8M126.2 673.4h0.8M75.8 627.3h0.8M148.0 681.6h0.8M143.7 592.2h0.8M105.7 672.6h0.8M57.0 592.0h0.8M117.5 622.3h0.8M121.3 593.3h0.8M56.1 681.9h0.8M171.3 647.4h0.8M151.0 595.4h0.8M170.2 639.5h0.8M160.6 607.2h0.8M88.5 615.3h0.8M99.6 619.4h0.8M157.8 656.7h0.8M177.1 591.4h0.8M62.9 683.4h0.8M71.5 586.5h0.8M56.4 611.7h0.8M58.8 659.0h0.8M137.7 659.8h0.8M128.4 616.5h0.8M79.8 622.7h0.8M58.6 602.2h0.8M71.5 643.1h0.8M92.4 626.3h0.8M175.0 656.5h0.8M140.8 610.3h0.8M159.1 644.7h0.8M89.2 662.6h0.8M60.5 632.6h0.8M90.6 617.3h0.8M82.4 620.4h0.8M104.7 627.9h0.8M151.0 588.6h0.8M178.9 610.3h0.8M167.5 632.0h0.8M110.4 611.2h0.8M55.6 609.9h0.8M165.2 652.0h0.8M156.1 593.2h0.8M126.4 654.6h0.8M140.3 606.3h0.8M57.6 618.3h0.8M62.7 645.8h0.8M184.6 616.3h0.8M104.2 636.9h0.8M87.0 588.1h0.8M153.1 656.6h0.8M86.7 668.7h0.8M177.5 607.4h0.8M61.2 633.3h0.8M172.8 590.5h0.8M185.5 618.8h0.8M59.7 617.4h0.8M136.0 654.5h0.8M112.7 604.6h0.8M53.9 588.8h0.8M161.4 683.5h0.8M177.7 669.1h0.8M110.9 641.4h0.8M160.1 670.5h0.8M175.5 664.2h0.8M173.5 651.1h0.8M110.7 618.7h0.8M54.1 599.5h0.8M67.0 669.2h0.8M149.2 666.1h0.8M58.8 598.6h0.8M85.5 594.1h0.8M91.9 641.6h0.8M138.9 676.2h0.8M177.3 677.2h0.8M164.7 667.1h0.8M53.8 670.4h0.8M143.9 670.0h0.8M122.8 607.5h0.8M187.0 684.5h0.8M138.6 604.1h0.8M53.6 665.5h0.8M146.4 611.6h0.8M82.6 641.0h0.8M108.2 612.7h0.8M133.7 593.2h0.8M72.4 592.8h0.8M63.3 620.5h0.8M127.0 597.1h0.8M67.1 670.6h0.8M164.9 648.7h0.8M158.8 642.5h0.8M144.8 616.3h0.8M153.1 628.4h0.8M74.9 675.1h0.8M102.1 630.7h0.8M144.8 665.1h0.8M124.2 637.7h0.8M86.2 660.8h0.8M101.7 661.8h0.8M81.9 636.5h0.8M93.7 590.9h0.8M89.1 684.3h0.8M110.3 655.3h0.8M157.3 628.6h0.8M119.2 603.1h0.8M180.1 681.0h0.8M155.0 590.4h0.8M152.9 676.1h0.8M64.1 656.3h0.8M106.4 640.9h0.8M148.2 653.3h0.8M95.3 614.4h0.8M55.6 632.5h0.8M151.6 597.4h0.8M121.9 618.3h0.8M61.2 631.0h0.8M186.2 667.2h0.8M80.3 637.5h0.8M100.9 600.1h0.8M110.6 629.3h0.8M97.2 593.5h0.8M183.1 607.1h0.8M131.9 589.2h0.8M185.7 657.6h0.8M96.3 591.9h0.8M148.3 588.8h0.8M96.4 598.3h0.8M82.4 597.4h0.8M118.9 669.5h0.8M56.5 684.1h0.8M114.6 677.9h0.8M171.0 638.5h0.8M69.5 659.5h0.8M159.2 661.1h0.8M92.5 633.8h0.8M98.0 617.7h0.8M163.1 620.5h0.8M173.6 587.9h0.8M86.8 678.4h0.8M78.4 638.6h0.8M139.3 653.8h0.8M100.6 645.7h0.8M100.2 589.8h0.8M180.6 629.5h0.8M113.2 635.9h0.8M52.2 610.8h0.8M121.3 647.7h0.8M156.7 662.2h0.8M78.8 652.0h0.8M94.4 643.5h0.8M75.5 673.6h0.8M60.2 647.4h0.8M54.6 607.4h0.8M164.0 672.5h0.8M132.7 595.1h0.8M124.8 668.1h0.8M117.9 595.2h0.8M66.0 619.0h0.8M151.7 595.0h0.8M73.4 650.4h0.8M138.4 612.7h0.8M149.1 613.1h0.8M68.1 638.8h0.8M79.7 642.7h0.8M88.0 635.2h0.8M129.3 640.1h0.8M164.5 645.1h0.8M112.2 603.8h0.8M81.8 588.7h0.8M142.5 680.4h0.8M140.2 631.4h0.8M85.6 588.3h0.8M181.7 678.9h0.8M99.5 590.0h0.8M61.6 651.7h0.8M132.1 639.1h0.8M137.5 593.7h0.8M123.6 652.4h0.8M122.9 619.1h0.8M124.6 655.4h0.8M96.3 648.6h0.8M114.8 654.3h0.8M56.5 664.9h0.8M70.9 601.2h0.8M183.1 602.1h0.8M119.8 651.7h0.8M178.6 627.4h0.8M94.4 669.4h0.8M92.5 599.6h0.8M104.8 602.7h0.8M78.1 674.2h0.8M119.2 648.1h0.8M93.1 610.9h0.8M52.9 605.2h0.8M102.0 625.6h0.8M152.0 594.2h0.8M179.5 594.3h0.8M169.8 612.0h0.8M159.4 670.9h0.8M78.9 679.3h0.8M81.7 623.2h0.8M152.0 672.2h0.8M139.7 675.9h0.8M106.5 588.2h0.8M126.2 646.1h0.8M87.1 587.7h0.8M103.7 620.3h0.8M172.0 675.6h0.8M146.1 646.2h0.8M173.9 590.8h0.8M182.2 620.3h0.8M176.2 609.9h0.8M89.4 611.7h0.8M150.5 619.9h0.8M154.9 669.8h0.8M130.7 590.7h0.8M119.2 638.1h0.8M131.3 667.0h0.8M66.2 627.9h0.8M119.0 663.3h0.8M172.3 639.6h0.8M101.6 670.6h0.8M150.7 654.3h0.8M150.9 594.9h0.8M102.2 670.1h0.8M144.1 633.0h0.8M135.2 660.4h0.8M79.4 652.2h0.8M172.5 605.2h0.8M159.3 647.1h0.8M87.3 650.7h0.8M98.7 623.0h0.8M100.4 639.5h0.8M63.3 680.9h0.8M147.8 608.3h0.8M74.6 634.1h0.8M63.0 655.1h0.8M138.8 652.9h0.8M137.8 644.2h0.8M182.3 610.4h0.8M100.7 593.0h0.8M125.1 601.4h0.8M77.7 616.6h0.8M92.6 665.4h0.8M89.6 612.7h0.8M140.3 601.5h0.8M161.3 658.9h0.8" stroke="#d6d6e4" stroke-width="0.8" clip-path="url(#brainclip)"/>
<line x1="119.70" y1="589.00" x2="119.70" y2="603.00" stroke="#e4e4ee" stroke-width="1.2" />
<path d="M62.5,618.5 Q60,650 77.7,672.3 Q88,680 100,683" fill="none" stroke="#a09cc8" stroke-width="0.9" />
<path d="M97,620 Q104,625 105,636 L104.6,652.4" fill="none" stroke="#9088c0" stroke-width="0.9" />
<defs><clipPath id="spclip"><path d="M119.2,604.6 L167.6,604.6 L185,624 L186,640 L186,661 L178.5,670.5 L119.2,670.5 Z"/></clipPath></defs>
<g clip-path="url(#spclip)">
<rect x="119" y="604" width="70" height="67" fill="#a8549c" />
<ellipse cx="151" cy="648" rx="37" ry="41" fill="#c87e8e"/>
<ellipse cx="148" cy="646" rx="33" ry="37" fill="#a8785a"/>
<ellipse cx="148" cy="646" rx="28" ry="31" fill="#b0609a"/>
<ellipse cx="148" cy="644" rx="22" ry="25" fill="#9444a0"/>
<ellipse cx="148" cy="644" rx="17" ry="20" fill="#3e8c92"/>
<path d="M138,626 Q130,640 134,660" fill="none" stroke="#b83a8a" stroke-width="1.6" />
<path d="M119,636 L127,636 L131,652 L136,670.5 L119,670.5 Z" fill="#4a9aa8" stroke="none" stroke-width="1" />
<path d="M123,655 L133,652 L139,670.5 L121,670.5 Z" fill="#44b4cc" stroke="none" stroke-width="1" />
<rect x="119" y="604" width="4" height="30" fill="#b05a9a" />
<rect x="122" y="608" width="9" height="16" fill="#b87a80" opacity="0.6"/>
<path d="M138.9 648.2h1.0M140.9 644.5h1.0M121.2 639.9h1.0M140.9 623.8h1.0M127.1 627.9h1.0M125.8 657.6h1.0M148.2 639.4h1.0M165.7 618.2h1.0M120.8 610.1h1.0M126.3 614.6h1.0M181.3 654.9h1.0M176.7 613.7h1.0M181.5 623.1h1.0M132.5 631.0h1.0M158.4 627.2h1.0M150.0 665.1h1.0M134.9 655.4h1.0M131.5 624.4h1.0M122.0 632.0h1.0M149.6 639.8h1.0M152.3 614.3h1.0M145.9 658.6h1.0M123.9 648.3h1.0M136.6 643.6h1.0M171.8 633.0h1.0M176.8 626.5h1.0M129.6 653.6h1.0M178.1 637.6h1.0M131.9 648.6h1.0M162.7 667.0h1.0M125.3 636.1h1.0M148.4 653.0h1.0M145.4 633.7h1.0M148.1 617.7h1.0M168.1 619.7h1.0M128.6 632.9h1.0M150.5 659.7h1.0M159.6 607.3h1.0M141.6 625.1h1.0M133.9 668.7h1.0M136.9 657.1h1.0M163.2 661.5h1.0M171.4 660.1h1.0M126.5 648.6h1.0M159.7 652.1h1.0M121.6 607.8h1.0M180.6 629.6h1.0M133.1 613.2h1.0M133.8 615.7h1.0M171.3 666.4h1.0M124.7 612.6h1.0M174.1 616.9h1.0M147.2 619.0h1.0M184.3 619.7h1.0M120.3 628.6h1.0M142.8 633.0h1.0M139.4 654.3h1.0M131.8 611.6h1.0M140.1 612.2h1.0M149.7 619.9h1.0M182.5 656.1h1.0M125.8 611.7h1.0M159.4 643.1h1.0M161.4 625.0h1.0M136.7 635.0h1.0M145.1 645.7h1.0M177.5 616.0h1.0M185.3 643.3h1.0M180.4 644.3h1.0M162.8 646.9h1.0M146.1 626.1h1.0M132.0 623.6h1.0M131.1 666.1h1.0M121.1 670.2h1.0M162.7 648.6h1.0M168.5 660.1h1.0M168.7 670.1h1.0M150.2 607.1h1.0M180.6 668.2h1.0M151.3 610.7h1.0M124.3 660.6h1.0M144.6 644.9h1.0M154.8 626.3h1.0M178.8 654.8h1.0M157.8 640.1h1.0M124.3 664.6h1.0M162.9 631.1h1.0M184.6 610.3h1.0M163.7 657.7h1.0M155.5 640.3h1.0M168.4 624.0h1.0M180.7 665.6h1.0M175.5 613.9h1.0M160.0 620.8h1.0M121.2 634.7h1.0M151.9 632.1h1.0M139.2 621.7h1.0M127.2 646.1h1.0M186.6 642.9h1.0M138.9 616.5h1.0M171.6 666.4h1.0M178.9 647.6h1.0M123.8 631.5h1.0M146.8 645.3h1.0M171.5 650.0h1.0M143.4 670.8h1.0M151.3 639.4h1.0M169.2 650.9h1.0M134.1 627.3h1.0M183.2 615.8h1.0M168.5 634.8h1.0M150.9 632.0h1.0M153.2 653.2h1.0M165.6 615.1h1.0M166.0 605.9h1.0M161.9 609.9h1.0M127.5 641.4h1.0M159.7 622.9h1.0M149.7 612.1h1.0M158.1 647.0h1.0M175.6 645.2h1.0M134.4 641.5h1.0M153.1 640.6h1.0M184.6 611.0h1.0M152.8 611.0h1.0M154.3 618.5h1.0M128.4 610.0h1.0M181.7 642.3h1.0M144.5 656.7h1.0M135.3 618.5h1.0M138.4 612.9h1.0M168.9 628.2h1.0M159.0 665.7h1.0M125.9 663.6h1.0M163.4 664.9h1.0M144.0 624.0h1.0M167.0 614.1h1.0M137.6 622.3h1.0M124.9 626.9h1.0M135.8 623.1h1.0M127.5 653.4h1.0M122.5 634.4h1.0M170.1 622.6h1.0M128.2 634.0h1.0M185.6 644.5h1.0M127.0 653.1h1.0M147.9 666.0h1.0M180.1 609.7h1.0M186.8 616.0h1.0M169.3 660.8h1.0M124.6 651.7h1.0M130.0 607.3h1.0M143.6 615.1h1.0M158.5 636.1h1.0M172.0 609.0h1.0M130.7 626.1h1.0M142.1 607.2h1.0M177.7 630.6h1.0M131.7 644.4h1.0M160.4 624.9h1.0M172.9 668.6h1.0M150.0 613.3h1.0M185.4 619.5h1.0M162.3 606.0h1.0M139.9 623.5h1.0M149.2 640.3h1.0M164.9 635.6h1.0M176.4 644.2h1.0M185.4 611.5h1.0M163.2 660.4h1.0" stroke="#c868a0" stroke-width="1" opacity="0.75"/>
<path d="M126.2 617.8h1.0M121.0 620.5h1.0M128.8 615.9h1.0M161.7 618.5h1.0M127.2 668.5h1.0M150.3 659.7h1.0M124.7 646.7h1.0M165.8 623.0h1.0M174.7 665.1h1.0M151.1 628.6h1.0M129.7 669.5h1.0M149.4 659.1h1.0M123.5 641.8h1.0M146.1 630.0h1.0M186.4 664.7h1.0M137.4 647.0h1.0M128.2 634.6h1.0M133.9 629.1h1.0M144.0 646.6h1.0M134.7 621.6h1.0M169.7 627.8h1.0M142.5 608.6h1.0M172.3 609.0h1.0M178.7 620.8h1.0M163.6 609.0h1.0M137.6 670.4h1.0M182.9 620.3h1.0M167.9 622.7h1.0M184.5 638.2h1.0M170.9 625.9h1.0M166.3 624.4h1.0M151.7 606.4h1.0M149.6 646.6h1.0M125.9 634.6h1.0M174.6 662.5h1.0M184.9 624.6h1.0M139.0 626.8h1.0M129.5 619.0h1.0M185.2 645.3h1.0M174.5 644.1h1.0M160.1 660.1h1.0M137.1 652.1h1.0M141.6 657.0h1.0M138.2 629.3h1.0M164.9 632.3h1.0M186.8 619.3h1.0M165.0 609.0h1.0M143.3 653.3h1.0M173.9 607.0h1.0M120.8 609.6h1.0M139.6 664.5h1.0M125.8 659.7h1.0M177.8 619.0h1.0M126.5 624.0h1.0M183.2 668.8h1.0M160.2 630.1h1.0M161.3 660.6h1.0M130.4 630.2h1.0M137.0 651.9h1.0M137.8 610.0h1.0M144.5 618.5h1.0M134.8 625.0h1.0M156.7 639.3h1.0M154.5 630.2h1.0M138.8 657.2h1.0M186.0 640.9h1.0M164.2 636.4h1.0M174.3 607.5h1.0M134.5 612.0h1.0M179.1 610.6h1.0M148.0 632.8h1.0M168.2 644.0h1.0M160.9 633.0h1.0M124.5 665.9h1.0M120.9 659.0h1.0M166.5 648.3h1.0M156.1 649.4h1.0M173.5 664.4h1.0M182.2 611.7h1.0M159.2 611.8h1.0M144.8 606.1h1.0M154.3 622.9h1.0M140.6 622.4h1.0M168.5 664.2h1.0M122.2 645.1h1.0M181.4 653.2h1.0M134.0 649.9h1.0M177.3 614.2h1.0M122.6 644.2h1.0M183.9 614.3h1.0M178.2 646.4h1.0M135.1 622.8h1.0M182.6 611.2h1.0M119.1 664.9h1.0M149.7 631.6h1.0M158.9 656.8h1.0M166.4 637.8h1.0M121.1 650.4h1.0M154.1 652.8h1.0M149.6 667.9h1.0M154.5 611.1h1.0M167.5 663.9h1.0M169.3 660.2h1.0M122.9 658.1h1.0M147.4 611.7h1.0M161.7 639.3h1.0M161.5 656.2h1.0M153.8 667.4h1.0M120.5 666.6h1.0M176.5 641.1h1.0M126.8 656.6h1.0M143.0 648.5h1.0M123.4 619.8h1.0M128.4 605.7h1.0M183.3 621.3h1.0M142.9 606.5h1.0M179.2 617.2h1.0M125.9 636.3h1.0M154.7 625.8h1.0M155.1 642.6h1.0M133.5 639.7h1.0M148.3 645.9h1.0M126.8 668.4h1.0M148.3 634.9h1.0M177.7 623.7h1.0M121.8 610.1h1.0M184.7 658.3h1.0M159.1 655.3h1.0M138.9 651.8h1.0M120.6 612.8h1.0M142.0 627.2h1.0M158.4 670.8h1.0M167.2 634.3h1.0M119.9 668.9h1.0M183.3 609.6h1.0M129.1 662.4h1.0M179.0 647.5h1.0M163.1 639.8h1.0M143.3 607.1h1.0M149.9 639.1h1.0M176.8 641.2h1.0M177.9 616.8h1.0M159.1 666.6h1.0M147.0 651.0h1.0M140.9 652.8h1.0M167.5 628.7h1.0M175.0 637.0h1.0M149.8 624.9h1.0M169.5 624.0h1.0M128.4 651.0h1.0M179.2 637.4h1.0M121.5 625.8h1.0M144.2 608.8h1.0M164.8 658.4h1.0M128.3 661.7h1.0M182.1 613.3h1.0M159.2 644.9h1.0M133.6 622.5h1.0M172.6 654.2h1.0M141.5 615.8h1.0M134.5 628.0h1.0M151.8 663.5h1.0M125.1 670.5h1.0M157.6 636.6h1.0M148.2 645.2h1.0M144.3 612.9h1.0M137.1 614.8h1.0M162.0 669.9h1.0M124.8 636.1h1.0M122.3 627.6h1.0" stroke="#3c8a8c" stroke-width="1" opacity="0.75"/>
<path d="M167.7 669.1h1.0M137.8 618.3h1.0M122.3 609.2h1.0M139.4 628.3h1.0M168.6 607.7h1.0M166.2 618.6h1.0M167.6 652.8h1.0M159.3 628.0h1.0M183.3 632.5h1.0M172.6 664.4h1.0M151.2 624.6h1.0M139.3 615.8h1.0M167.0 647.3h1.0M184.2 615.8h1.0M180.6 646.1h1.0M164.5 670.8h1.0M149.7 619.7h1.0M123.7 645.3h1.0M120.5 630.0h1.0M165.0 617.4h1.0M173.6 657.6h1.0M150.1 645.2h1.0M170.0 609.0h1.0M148.2 617.0h1.0M153.5 613.4h1.0M175.8 607.9h1.0M143.9 616.7h1.0M131.2 668.9h1.0M175.0 634.9h1.0M150.2 659.4h1.0M175.9 606.5h1.0M160.0 666.0h1.0M155.8 664.8h1.0M121.7 666.2h1.0M183.5 658.3h1.0M175.9 666.0h1.0M138.6 634.1h1.0M158.4 610.6h1.0M125.6 645.5h1.0M154.6 607.5h1.0M170.3 620.3h1.0M163.3 614.6h1.0M120.9 659.8h1.0M177.3 651.6h1.0M156.0 622.6h1.0M147.7 644.1h1.0M128.3 632.3h1.0M128.4 625.4h1.0M185.9 665.5h1.0M179.9 670.4h1.0M138.0 608.8h1.0M179.3 668.6h1.0M184.4 630.9h1.0M167.8 610.8h1.0M151.9 665.1h1.0M136.8 645.7h1.0M185.5 606.3h1.0M165.7 628.4h1.0M167.4 630.2h1.0M144.7 668.6h1.0M146.7 625.7h1.0M181.6 644.1h1.0M140.9 647.7h1.0M130.8 624.8h1.0M132.4 658.3h1.0M160.3 625.8h1.0M147.9 612.8h1.0M181.7 642.1h1.0M176.4 670.2h1.0M136.7 626.9h1.0M132.5 651.7h1.0M158.8 642.6h1.0M167.0 670.1h1.0M154.3 635.3h1.0M166.7 661.3h1.0M171.7 664.8h1.0M132.2 647.9h1.0M162.7 663.6h1.0M161.5 624.0h1.0M156.1 610.4h1.0M155.6 638.6h1.0M180.2 620.2h1.0M169.8 658.5h1.0M184.8 642.1h1.0M139.5 656.2h1.0M176.6 654.6h1.0M152.6 640.4h1.0M152.0 631.9h1.0M182.3 625.2h1.0M154.1 662.3h1.0M120.6 635.9h1.0M135.0 649.1h1.0M140.9 625.1h1.0M178.4 655.7h1.0M168.9 630.9h1.0M119.1 657.5h1.0M125.5 628.8h1.0M147.2 657.8h1.0M148.9 631.7h1.0M124.8 636.5h1.0M160.7 621.5h1.0M153.8 640.5h1.0M172.0 660.2h1.0M145.4 670.2h1.0M128.7 647.1h1.0M138.2 647.7h1.0M163.2 667.7h1.0M141.5 642.9h1.0M139.4 618.9h1.0M161.0 633.4h1.0M175.4 663.9h1.0M140.7 639.5h1.0M178.0 662.3h1.0M173.6 631.2h1.0M137.4 638.5h1.0M173.3 650.0h1.0M121.8 643.8h1.0M136.3 653.0h1.0M170.6 621.4h1.0M145.7 659.8h1.0M179.6 618.7h1.0M142.8 650.0h1.0M183.2 651.4h1.0M126.8 618.3h1.0M134.8 619.0h1.0M139.5 653.9h1.0M153.0 646.5h1.0M139.3 636.9h1.0M125.4 666.0h1.0M158.5 625.5h1.0M185.9 606.3h1.0M175.0 655.4h1.0M176.8 618.1h1.0M180.6 613.4h1.0M150.7 661.2h1.0M184.9 623.1h1.0M144.0 641.4h1.0M136.6 654.3h1.0M179.8 609.0h1.0M159.4 638.0h1.0M127.6 634.5h1.0M141.6 615.0h1.0M122.3 647.9h1.0M140.7 641.5h1.0M137.7 621.4h1.0M177.7 631.4h1.0M128.1 625.3h1.0M160.2 621.9h1.0M148.9 613.3h1.0M179.5 648.1h1.0M162.6 668.9h1.0M159.8 640.5h1.0M186.9 615.7h1.0M175.5 662.2h1.0M173.6 657.0h1.0M162.1 624.6h1.0M137.1 665.3h1.0M171.0 651.4h1.0M126.8 628.4h1.0M160.3 614.8h1.0M131.2 627.7h1.0M171.7 638.1h1.0M138.6 663.8h1.0M183.5 640.2h1.0M138.4 663.9h1.0M165.4 666.0h1.0M129.7 646.5h1.0M148.3 659.9h1.0M181.4 614.8h1.0M184.1 655.6h1.0" stroke="#8e3e9a" stroke-width="1" opacity="0.75"/>
<path d="M143.4 634.4h1.0M121.4 654.8h1.0M158.3 640.3h1.0M156.6 618.1h1.0M178.0 662.5h1.0M184.3 658.8h1.0M120.2 658.2h1.0M130.9 615.6h1.0M156.2 669.6h1.0M147.7 627.0h1.0M170.2 617.4h1.0M156.9 657.7h1.0M177.2 622.2h1.0M164.4 614.9h1.0M141.0 612.2h1.0M123.8 658.5h1.0M168.4 635.4h1.0M125.6 616.3h1.0M125.9 610.2h1.0M144.3 648.4h1.0M128.4 652.1h1.0M179.5 664.4h1.0M163.3 649.5h1.0M178.9 614.6h1.0M146.7 640.3h1.0M185.2 636.1h1.0M136.1 649.9h1.0M161.5 625.6h1.0M136.6 646.9h1.0M164.8 606.9h1.0M150.2 637.0h1.0M119.7 668.2h1.0M162.0 667.1h1.0M178.9 624.3h1.0M175.4 629.1h1.0M163.3 648.9h1.0M172.5 635.1h1.0M162.9 636.4h1.0M124.3 608.4h1.0M174.2 667.2h1.0M173.3 624.2h1.0M165.0 669.1h1.0M126.2 606.4h1.0M140.2 622.7h1.0M150.6 651.0h1.0M162.5 659.8h1.0M173.0 657.3h1.0M168.7 612.0h1.0M158.2 649.2h1.0M135.9 642.4h1.0M184.7 657.1h1.0M128.6 621.5h1.0M150.0 643.6h1.0M172.4 618.8h1.0M170.0 666.6h1.0M151.4 625.0h1.0M180.3 606.0h1.0M171.2 655.9h1.0M182.7 656.0h1.0M141.2 616.5h1.0M126.3 660.1h1.0M127.7 634.6h1.0M145.9 649.1h1.0M160.1 612.3h1.0M123.4 662.1h1.0M146.9 657.8h1.0M131.4 657.1h1.0M175.9 665.1h1.0M179.7 620.8h1.0M171.1 609.4h1.0M184.0 627.3h1.0M154.0 610.2h1.0M164.5 620.4h1.0M162.2 661.6h1.0M175.8 609.2h1.0M126.3 619.4h1.0M128.2 664.0h1.0M133.7 666.7h1.0M120.3 637.7h1.0M169.1 615.7h1.0M165.2 650.0h1.0M142.7 657.9h1.0M126.1 647.7h1.0M154.1 620.3h1.0M136.7 658.2h1.0M127.4 644.3h1.0M155.7 660.6h1.0M131.5 657.0h1.0M156.2 620.1h1.0M131.4 614.0h1.0M122.0 637.2h1.0M173.9 633.5h1.0M120.1 640.8h1.0M136.2 615.0h1.0M184.4 607.1h1.0M125.6 636.8h1.0M147.3 636.9h1.0M133.7 661.9h1.0M168.1 631.2h1.0M125.2 611.9h1.0M137.3 633.0h1.0M150.4 614.8h1.0M168.4 646.5h1.0M166.8 626.3h1.0M129.2 625.8h1.0M177.1 641.3h1.0M134.3 644.7h1.0M156.2 613.9h1.0M152.1 665.7h1.0M121.1 630.6h1.0M158.4 616.7h1.0M186.0 623.6h1.0M120.5 656.1h1.0M184.9 627.7h1.0M125.5 634.7h1.0M127.2 638.6h1.0M180.2 629.6h1.0M130.3 610.1h1.0M163.1 657.8h1.0M151.1 638.2h1.0M151.6 644.1h1.0M161.8 662.2h1.0M184.4 667.8h1.0M149.0 634.8h1.0M135.0 629.4h1.0M173.2 620.9h1.0M181.9 640.6h1.0M158.3 608.7h1.0M183.2 658.8h1.0M138.4 640.8h1.0M178.4 638.2h1.0M176.8 620.1h1.0M137.7 661.2h1.0M143.6 642.8h1.0M157.7 670.8h1.0M135.9 620.3h1.0M152.9 624.5h1.0M156.2 640.7h1.0M125.3 616.5h1.0M151.2 623.5h1.0M137.2 645.1h1.0M122.3 624.4h1.0M123.0 661.1h1.0M119.7 628.5h1.0M122.0 634.2h1.0M171.7 665.5h1.0M166.9 611.5h1.0M148.3 669.7h1.0M166.4 648.8h1.0M171.5 639.8h1.0M172.7 605.3h1.0M138.0 610.5h1.0M126.5 629.6h1.0M179.7 668.4h1.0M143.5 634.3h1.0M182.3 618.1h1.0M144.7 658.6h1.0M121.5 659.9h1.0M173.9 608.5h1.0M137.4 626.5h1.0M179.0 655.4h1.0M122.0 645.0h1.0M163.1 669.1h1.0M185.4 634.5h1.0M162.8 641.9h1.0M155.0 668.7h1.0M168.6 627.1h1.0M145.5 634.8h1.0M152.8 607.2h1.0M166.4 667.0h1.0" stroke="#b08a48" stroke-width="1" opacity="0.75"/>
<path d="M171.0 636.4h1.0M120.5 616.7h1.0M125.7 637.7h1.0M141.7 668.0h1.0M179.9 621.1h1.0M162.2 645.4h1.0M128.1 643.7h1.0M154.4 647.9h1.0M132.9 621.1h1.0M126.5 638.9h1.0M150.6 612.6h1.0M167.2 643.1h1.0M133.5 658.6h1.0M178.1 615.7h1.0M153.2 657.4h1.0M143.6 637.2h1.0M169.5 650.7h1.0M147.4 633.8h1.0M155.2 664.9h1.0M165.8 617.3h1.0M153.0 621.5h1.0M125.6 649.2h1.0M161.1 637.7h1.0M150.1 658.2h1.0M181.5 634.1h1.0M163.1 626.0h1.0M131.9 626.5h1.0M156.2 613.6h1.0M157.3 665.3h1.0M138.3 626.6h1.0M136.6 665.0h1.0M131.6 670.5h1.0M129.2 632.1h1.0M177.5 625.5h1.0M164.2 647.9h1.0M146.4 646.6h1.0M154.2 621.6h1.0M186.9 620.9h1.0M183.1 621.8h1.0M181.4 628.8h1.0M143.2 606.2h1.0M143.8 655.7h1.0M146.9 617.6h1.0M120.0 655.1h1.0M183.4 624.0h1.0M119.4 607.9h1.0M131.2 651.1h1.0M168.7 610.8h1.0M169.3 606.4h1.0M158.0 665.0h1.0M127.1 663.1h1.0M135.5 615.8h1.0M170.2 642.5h1.0M165.4 608.0h1.0M139.1 630.8h1.0M125.7 620.6h1.0M124.9 663.3h1.0M181.8 614.2h1.0M129.6 649.7h1.0M155.8 612.6h1.0M159.1 625.5h1.0M175.0 611.9h1.0M152.8 644.8h1.0M160.1 640.1h1.0M146.4 610.1h1.0M150.8 655.8h1.0M142.9 651.4h1.0M178.1 614.3h1.0M122.8 622.6h1.0M141.9 636.2h1.0M180.5 628.8h1.0M176.7 620.3h1.0M159.5 652.7h1.0M129.2 664.7h1.0M168.8 650.0h1.0M181.8 662.8h1.0M186.4 613.2h1.0M163.4 656.9h1.0M137.8 646.5h1.0M160.8 615.2h1.0M165.7 630.0h1.0M152.6 668.0h1.0M159.6 644.9h1.0M159.0 670.5h1.0M174.4 613.5h1.0M165.8 661.2h1.0M172.9 646.4h1.0M135.9 641.5h1.0M176.9 612.2h1.0M175.4 661.6h1.0M185.8 657.0h1.0M184.3 634.1h1.0M165.2 607.4h1.0M175.8 617.3h1.0M143.1 628.4h1.0M141.4 618.6h1.0M153.8 644.9h1.0M184.4 652.1h1.0M165.9 666.1h1.0M159.8 648.3h1.0M124.7 627.6h1.0M121.5 608.6h1.0M137.6 622.2h1.0M144.7 631.3h1.0M125.7 647.5h1.0M182.0 605.6h1.0M134.8 656.6h1.0M125.8 617.5h1.0M125.8 633.4h1.0M165.5 662.8h1.0M173.6 655.0h1.0M124.8 650.8h1.0M182.8 663.4h1.0M162.5 668.9h1.0M169.7 625.5h1.0M123.6 629.6h1.0M151.2 668.1h1.0M144.9 650.4h1.0M148.3 616.5h1.0M140.8 656.2h1.0M162.4 649.7h1.0M156.2 633.1h1.0M152.9 653.4h1.0M186.4 623.2h1.0M175.1 656.1h1.0M184.2 620.9h1.0M176.5 662.1h1.0M173.9 623.7h1.0M186.5 645.7h1.0M183.3 623.8h1.0M174.4 631.8h1.0M175.7 650.4h1.0M124.5 667.4h1.0M121.4 626.4h1.0M128.9 664.8h1.0M155.3 610.3h1.0M153.9 653.2h1.0M162.2 635.6h1.0M137.1 620.3h1.0M176.7 665.8h1.0M146.2 619.1h1.0M157.1 637.2h1.0M148.8 617.8h1.0M133.8 638.9h1.0M174.2 627.3h1.0M175.1 612.0h1.0M186.1 658.5h1.0M161.6 647.3h1.0M130.1 624.1h1.0M148.9 621.3h1.0M125.8 656.1h1.0M133.8 615.5h1.0M144.7 629.6h1.0M173.4 661.8h1.0M177.3 649.6h1.0M155.6 620.5h1.0M175.1 607.9h1.0M130.5 620.7h1.0M174.6 614.6h1.0M144.2 658.6h1.0M134.6 631.7h1.0M164.9 644.6h1.0M128.1 643.0h1.0M178.0 644.4h1.0M142.0 611.7h1.0M165.2 666.5h1.0M143.7 618.3h1.0M156.1 645.0h1.0M172.5 648.1h1.0M163.0 639.7h1.0" stroke="#d88878" stroke-width="1" opacity="0.75"/>
<path d="M170.1 647.2h1.0M139.6 609.3h1.0M148.6 605.3h1.0M121.3 608.3h1.0M146.9 628.8h1.0M138.8 605.7h1.0M155.8 627.4h1.0M142.3 630.7h1.0M138.5 620.5h1.0M182.9 670.3h1.0M131.8 667.8h1.0M137.9 632.1h1.0M151.1 656.7h1.0M177.7 632.7h1.0M183.7 636.0h1.0M147.4 611.4h1.0M164.8 649.1h1.0M158.3 612.5h1.0M182.3 641.3h1.0M135.0 650.4h1.0M145.0 665.6h1.0M170.5 638.2h1.0M152.1 633.6h1.0M165.2 625.1h1.0M139.5 667.4h1.0M131.4 660.8h1.0M161.0 612.7h1.0M134.8 652.9h1.0M144.2 660.1h1.0M158.8 622.2h1.0M133.4 651.2h1.0M166.4 615.6h1.0M130.7 616.3h1.0M142.0 634.5h1.0M170.7 648.1h1.0M163.1 611.9h1.0M135.7 652.1h1.0M161.6 663.7h1.0M136.2 656.1h1.0M138.6 669.6h1.0M144.0 647.6h1.0M169.0 658.6h1.0M131.5 642.4h1.0M160.5 617.8h1.0M127.8 632.1h1.0M136.2 666.1h1.0M175.9 638.6h1.0M159.2 667.7h1.0M181.9 615.2h1.0M172.9 609.3h1.0M174.7 624.6h1.0M127.3 607.2h1.0M130.6 659.6h1.0M148.5 667.1h1.0M157.1 623.6h1.0M173.0 647.9h1.0M172.6 631.2h1.0M164.0 622.6h1.0M163.6 627.3h1.0M127.8 658.6h1.0M134.3 649.1h1.0M126.1 652.0h1.0M167.1 646.1h1.0M125.5 665.8h1.0M138.5 634.0h1.0M130.0 656.4h1.0M163.1 620.6h1.0M183.7 638.5h1.0M159.9 631.7h1.0M126.8 659.1h1.0M119.8 615.4h1.0M125.4 623.1h1.0M149.9 626.7h1.0M133.4 629.6h1.0M138.9 639.5h1.0M130.6 647.8h1.0M150.1 614.2h1.0M120.6 644.3h1.0M155.6 623.3h1.0M181.4 656.2h1.0M120.2 611.8h1.0M131.9 620.7h1.0M141.7 629.1h1.0M137.9 609.3h1.0M185.8 628.4h1.0M139.2 636.3h1.0M123.8 659.9h1.0M185.7 623.7h1.0M135.7 670.4h1.0M132.2 632.1h1.0M135.7 624.0h1.0M179.9 612.9h1.0M147.3 611.7h1.0M119.1 645.6h1.0M144.5 644.3h1.0M156.7 632.3h1.0M151.9 657.2h1.0M149.3 654.0h1.0M143.2 648.5h1.0M127.6 622.4h1.0M128.0 645.7h1.0M166.3 631.9h1.0M136.8 635.3h1.0M146.1 625.8h1.0M143.6 636.6h1.0M150.4 668.9h1.0M173.2 633.4h1.0M153.4 659.8h1.0M177.4 647.3h1.0M163.1 665.9h1.0M175.1 668.6h1.0M150.2 663.6h1.0M143.3 608.4h1.0M146.2 615.2h1.0M166.2 606.5h1.0M147.1 622.2h1.0M139.9 644.5h1.0M135.0 637.5h1.0M141.1 656.1h1.0M144.2 630.6h1.0M127.0 636.9h1.0M129.8 644.0h1.0M168.8 616.9h1.0M177.8 645.1h1.0M175.3 635.7h1.0M129.0 658.1h1.0M186.3 660.4h1.0M154.0 633.5h1.0M142.2 664.4h1.0M155.4 605.9h1.0M125.9 639.2h1.0M127.1 624.2h1.0M179.2 611.2h1.0M163.3 657.8h1.0M139.0 637.3h1.0M171.5 610.6h1.0M175.1 613.4h1.0M166.3 621.7h1.0M155.2 669.3h1.0M176.5 636.6h1.0M169.5 648.9h1.0M176.0 643.4h1.0M119.6 630.0h1.0M128.7 668.6h1.0M174.3 670.2h1.0M145.7 622.7h1.0M172.0 661.9h1.0M158.6 665.3h1.0M149.8 652.4h1.0M155.3 661.4h1.0M175.3 663.4h1.0M133.9 663.2h1.0M163.1 666.9h1.0M125.6 611.8h1.0M180.7 664.0h1.0M153.6 642.6h1.0M151.7 606.3h1.0M179.3 653.2h1.0M166.4 635.7h1.0M173.8 621.2h1.0M167.7 646.0h1.0M146.0 609.1h1.0M172.2 644.7h1.0M136.9 606.8h1.0M133.9 625.8h1.0M127.7 639.4h1.0M158.1 670.0h1.0M129.3 605.5h1.0M161.1 605.8h1.0M126.1 610.9h1.0" stroke="#3fb0c8" stroke-width="1" opacity="0.75"/>
<path d="M128.1 638.1h1.0M133.4 666.7h1.0M157.5 623.8h1.0M170.5 618.1h1.0M139.0 610.9h1.0M176.2 649.2h1.0M120.3 606.3h1.0M150.4 626.0h1.0M122.4 642.5h1.0M170.8 643.4h1.0M148.9 622.4h1.0M163.1 647.2h1.0M138.4 646.2h1.0M163.0 613.0h1.0M128.9 663.0h1.0M168.2 649.3h1.0M180.8 638.0h1.0M182.2 641.2h1.0M140.0 614.9h1.0M131.9 652.1h1.0M125.2 640.2h1.0M142.2 642.7h1.0M126.7 609.1h1.0M160.9 658.6h1.0M134.6 640.8h1.0M152.8 668.6h1.0M159.3 662.1h1.0M183.3 635.8h1.0M177.0 621.9h1.0M183.3 640.0h1.0M163.2 616.6h1.0M145.9 626.9h1.0M168.7 649.4h1.0M127.6 640.2h1.0M162.8 635.5h1.0M146.1 606.8h1.0M159.4 615.9h1.0M149.6 627.9h1.0M150.3 617.9h1.0M166.9 636.2h1.0M163.5 632.8h1.0M141.9 632.0h1.0M143.4 660.5h1.0M163.5 620.1h1.0M142.8 647.2h1.0M152.6 660.8h1.0M148.8 638.6h1.0M186.9 666.8h1.0M175.0 658.8h1.0M131.5 610.0h1.0M128.5 655.8h1.0M131.8 624.9h1.0M177.7 636.8h1.0M119.3 659.0h1.0M131.6 650.4h1.0M179.2 663.0h1.0M125.2 623.1h1.0M119.7 667.9h1.0M179.1 637.5h1.0M168.4 626.8h1.0M145.8 657.1h1.0M162.8 624.2h1.0M126.6 618.6h1.0M151.3 610.7h1.0M177.9 654.6h1.0M126.3 631.0h1.0M121.4 624.1h1.0M170.6 655.7h1.0M130.8 630.3h1.0M185.6 653.5h1.0M159.6 608.3h1.0M182.3 620.6h1.0M174.4 623.1h1.0M182.4 635.7h1.0M157.8 644.7h1.0M181.5 640.9h1.0M140.0 642.6h1.0M139.7 615.4h1.0M135.1 649.7h1.0M129.3 614.6h1.0M175.5 618.3h1.0M174.8 654.8h1.0M182.6 643.8h1.0M179.5 628.3h1.0M166.3 623.7h1.0M170.6 640.0h1.0M176.8 634.1h1.0M137.4 662.8h1.0M160.5 651.9h1.0M179.8 646.4h1.0M186.3 607.1h1.0M168.2 621.6h1.0M185.1 661.4h1.0M125.2 605.7h1.0M185.3 666.6h1.0M158.5 609.0h1.0M134.1 661.2h1.0M151.3 644.2h1.0M142.2 665.4h1.0M170.5 625.8h1.0M160.1 615.2h1.0M157.5 666.9h1.0M185.5 639.2h1.0M156.5 661.6h1.0M137.7 608.2h1.0M147.8 657.3h1.0M131.2 644.9h1.0M153.5 637.3h1.0M154.7 664.2h1.0M140.9 641.9h1.0M120.1 629.9h1.0M184.6 668.3h1.0M141.9 644.4h1.0M174.9 618.2h1.0M141.9 606.9h1.0M138.1 627.4h1.0M176.6 610.5h1.0M132.0 608.8h1.0M119.5 616.1h1.0M173.9 653.4h1.0M184.4 612.7h1.0M165.6 624.2h1.0M137.4 631.3h1.0M143.2 620.1h1.0M148.3 620.7h1.0M166.3 606.9h1.0M120.3 620.3h1.0M160.7 630.4h1.0M160.0 607.2h1.0M183.5 654.3h1.0M171.1 605.2h1.0M139.3 622.7h1.0M180.3 637.5h1.0M142.0 647.3h1.0M147.6 620.7h1.0M146.7 647.5h1.0M133.0 629.1h1.0M164.0 649.9h1.0M173.2 640.6h1.0M150.3 607.6h1.0M141.1 610.1h1.0M119.1 618.8h1.0M148.9 632.2h1.0M145.1 616.6h1.0M172.6 639.3h1.0M165.3 662.6h1.0M178.9 635.8h1.0M146.7 665.7h1.0M159.1 659.7h1.0M159.2 633.6h1.0M144.2 645.0h1.0M153.6 645.8h1.0M122.8 613.8h1.0M142.6 646.0h1.0M120.9 612.7h1.0M170.0 620.4h1.0M160.7 608.7h1.0M147.1 656.8h1.0M177.3 669.7h1.0M164.3 620.7h1.0M139.9 662.3h1.0M177.2 663.8h1.0M179.4 661.3h1.0M153.8 622.2h1.0M164.8 635.7h1.0M179.5 631.1h1.0M175.6 610.2h1.0M136.2 627.3h1.0M132.6 661.2h1.0M146.4 609.1h1.0" stroke="#7a3a9a" stroke-width="1" opacity="0.75"/>
<path d="M183.9 609.7h1.0M164.9 628.9h1.0M131.1 646.9h1.0M151.2 659.3h1.0M169.8 653.9h1.0M163.6 645.2h1.0M141.8 641.8h1.0M133.4 616.2h1.0M168.8 635.1h1.0M138.5 662.6h1.0M180.9 652.0h1.0M126.2 643.7h1.0M139.1 615.0h1.0M125.4 660.3h1.0M152.2 670.9h1.0M156.9 608.8h1.0M134.7 630.6h1.0M145.5 647.8h1.0M161.9 652.9h1.0M183.6 630.4h1.0M181.6 640.9h1.0M133.0 639.6h1.0M154.3 652.8h1.0M159.2 655.1h1.0M144.5 667.4h1.0M148.6 612.2h1.0M135.3 645.0h1.0M161.6 654.3h1.0M133.9 626.8h1.0M148.7 640.1h1.0M138.4 670.0h1.0M142.6 629.4h1.0M133.3 617.5h1.0M176.4 627.8h1.0M181.5 640.9h1.0M148.2 668.8h1.0M134.1 651.6h1.0M181.0 620.3h1.0M157.8 662.7h1.0M122.3 618.3h1.0M154.2 665.4h1.0M173.2 640.5h1.0M158.9 659.0h1.0M162.5 656.4h1.0M170.2 639.5h1.0M176.1 632.6h1.0M155.6 635.0h1.0M176.0 630.0h1.0M179.5 646.1h1.0M170.2 662.6h1.0M163.7 634.2h1.0M145.9 666.6h1.0M138.0 663.5h1.0M158.8 640.4h1.0M183.2 613.8h1.0M160.7 663.3h1.0M186.8 642.0h1.0M179.4 612.6h1.0M162.4 647.6h1.0M167.8 666.6h1.0M161.6 667.5h1.0M152.8 650.9h1.0M170.9 656.1h1.0M154.9 658.2h1.0M172.4 616.7h1.0M145.4 663.5h1.0M128.5 657.5h1.0M126.8 635.8h1.0M176.5 651.6h1.0M137.6 628.7h1.0M175.0 623.9h1.0M121.5 622.3h1.0M125.1 619.9h1.0M165.7 670.3h1.0M160.5 651.2h1.0M158.1 629.8h1.0M134.8 663.9h1.0M176.2 633.8h1.0M149.0 650.6h1.0M129.9 651.6h1.0M174.4 617.5h1.0M166.7 657.3h1.0M150.9 612.4h1.0M119.2 638.2h1.0M139.6 617.5h1.0M135.8 659.3h1.0M156.5 645.6h1.0M180.8 649.8h1.0M179.9 662.7h1.0M141.5 644.6h1.0M182.2 609.9h1.0M184.6 631.6h1.0M175.6 639.5h1.0M168.8 607.4h1.0M147.5 661.3h1.0M129.8 650.1h1.0M121.0 652.7h1.0M176.8 622.6h1.0M155.5 656.6h1.0M157.0 658.1h1.0M119.2 662.7h1.0M183.1 607.6h1.0M154.6 622.8h1.0M184.2 644.0h1.0M138.4 631.7h1.0M133.6 635.8h1.0M142.9 637.6h1.0M154.2 656.7h1.0M129.3 627.2h1.0M168.4 653.4h1.0M183.6 622.1h1.0M160.4 652.1h1.0M167.7 608.4h1.0M179.1 621.8h1.0M169.4 650.3h1.0M173.2 640.7h1.0M155.6 634.2h1.0M139.8 656.0h1.0M180.4 648.9h1.0M121.7 645.6h1.0M142.1 641.9h1.0M122.5 632.5h1.0M176.5 656.9h1.0M121.1 670.2h1.0M136.6 619.1h1.0M137.8 614.5h1.0M139.3 652.0h1.0M154.1 609.5h1.0M135.1 664.8h1.0M171.7 653.4h1.0M130.8 605.5h1.0M157.9 621.1h1.0M129.1 641.4h1.0M152.9 647.5h1.0M172.2 669.5h1.0M185.4 637.6h1.0M129.1 642.9h1.0M153.9 626.9h1.0M138.6 662.2h1.0M131.8 634.5h1.0M154.5 637.6h1.0M142.0 649.5h1.0M148.6 626.0h1.0M158.0 627.6h1.0M148.3 635.8h1.0M133.3 658.9h1.0M120.5 659.1h1.0M163.9 661.1h1.0M164.6 624.0h1.0M180.7 647.3h1.0M148.7 637.4h1.0M145.4 663.3h1.0M172.5 621.7h1.0M163.7 640.3h1.0M135.1 619.0h1.0M163.0 659.9h1.0M151.1 617.8h1.0M150.2 606.9h1.0M122.8 646.3h1.0M168.5 624.9h1.0M148.7 650.0h1.0M132.4 633.6h1.0M150.9 660.2h1.0M174.6 654.9h1.0M170.3 637.0h1.0M133.8 657.1h1.0M167.9 637.6h1.0M149.5 651.9h1.0M176.0 617.9h1.0M166.1 617.1h1.0" stroke="#a040a0" stroke-width="1" opacity="0.75"/>
</g>
<line x1="167.30" y1="688.50" x2="183.70" y2="688.50" stroke="#222" stroke-width="1" />
<text x="73.3" y="592.8" font-size="6.5" text-anchor="middle" textLength="16.9" lengthAdjust="spacingAndGlyphs" >Cortex</text>
<line x1="83.00" y1="597.00" x2="87.60" y2="606.30" stroke="#222" stroke-width="0.8" />
<text x="47.6" y="611.5" font-size="6.5" text-anchor="middle" textLength="43.8" lengthAdjust="spacingAndGlyphs" >Corpus callosum</text>
<line x1="71.30" y1="612.00" x2="92.90" y2="619.70" stroke="#222" stroke-width="0.8" />
<text x="54.2" y="634.9" font-size="6.5" text-anchor="middle" textLength="41.2" lengthAdjust="spacingAndGlyphs" >Lateral ventricle</text>
<line x1="78.30" y1="634.90" x2="107.50" y2="636.60" stroke="#222" stroke-width="0.8" />
<text x="50.2" y="657" font-size="6.5" text-anchor="middle" textLength="21.2" lengthAdjust="spacingAndGlyphs" >Striatum</text>
<line x1="65.40" y1="655.30" x2="90.50" y2="650.00" stroke="#222" stroke-width="0.8" />
<text x="58.2" y="679.3" font-size="6.5" text-anchor="middle" textLength="54.2" lengthAdjust="spacingAndGlyphs" >Anterior commissure</text>
<line x1="77.70" y1="673.40" x2="96.40" y2="665.80" stroke="#222" stroke-width="0.8" />
<text x="119.5" y="676.4" font-size="6.5" text-anchor="middle" textLength="58.0" lengthAdjust="spacingAndGlyphs" >Lateral septal nucleus</text>
<line x1="105.70" y1="670.50" x2="114.50" y2="652.40" stroke="#222" stroke-width="0.8" />
<text x="189.8" y="571.4" font-size="5.2" text-anchor="middle" textLength="12.4" lengthAdjust="spacingAndGlyphs" >Dorsal</text>
<text x="171.3" y="588.7" font-size="5.2" text-anchor="middle" textLength="10.6" lengthAdjust="spacingAndGlyphs" >Deep</text>
<text x="215.2" y="588.7" font-size="5.2" text-anchor="middle" textLength="23.0" lengthAdjust="spacingAndGlyphs" >Superficial</text>
<text x="190.3" y="605.5" font-size="5.2" text-anchor="middle" textLength="16.6" lengthAdjust="spacingAndGlyphs" >Ventral</text>
<line x1="189.70" y1="577.00" x2="189.70" y2="601.80" stroke="#222" stroke-width="0.8" />
<line x1="180.00" y1="588.70" x2="200.00" y2="588.70" stroke="#222" stroke-width="0.8" />
<path d="M188.2,578.5 L189.7,576 L191.2,578.5 Z" fill="#222" stroke="none" stroke-width="1" />
<path d="M198.5,587.2 L201,588.7 L198.5,590.2 Z" fill="#222" stroke="none" stroke-width="1" />
<circle cx="239.3" cy="587.80" r="1.9" fill="#8e3e9a"/>
<text x="243.8" y="587.8" font-size="5" >ASC</text>
<circle cx="239.3" cy="595.07" r="1.9" fill="#b08a48"/>
<text x="243.8" y="595.1" font-size="5" >CTGL</text>
<circle cx="239.3" cy="602.34" r="1.9" fill="#3fb0c8"/>
<text x="243.8" y="602.3" font-size="5" >D1MSN</text>
<circle cx="239.3" cy="609.61" r="1.9" fill="#2f7f80"/>
<text x="243.8" y="609.6" font-size="5" >D2MSN</text>
<circle cx="239.3" cy="616.88" r="1.9" fill="#d8849a"/>
<text x="243.8" y="616.9" font-size="5" >ITL23GL</text>
<circle cx="239.3" cy="624.15" r="1.9" fill="#d49a88"/>
<text x="243.8" y="624.1" font-size="5" >ITL4GL</text>
<circle cx="239.3" cy="631.42" r="1.9" fill="#e0a070"/>
<text x="243.8" y="631.4" font-size="5" >ITL5GL</text>
<circle cx="239.3" cy="638.69" r="1.9" fill="#944a5e"/>
<text x="243.8" y="638.7" font-size="5" >ITL6GL</text>
<circle cx="239.3" cy="645.96" r="1.9" fill="#a87030"/>
<text x="243.8" y="646" font-size="5" >L6bGL</text>
<circle cx="239.3" cy="653.23" r="1.9" fill="#3a9a50"/>
<text x="243.8" y="653.2" font-size="5" >LAMGA</text>
<circle cx="272" cy="587.80" r="1.9" fill="#c868a0"/>
<text x="276.6" y="587.8" font-size="5" >LSXGA</text>
<circle cx="272" cy="595.07" r="1.9" fill="#e07aa0"/>
<text x="276.6" y="595.1" font-size="5" >MGL</text>
<circle cx="272" cy="602.34" r="1.9" fill="#5a9a80"/>
<text x="276.6" y="602.3" font-size="5" >MSGA</text>
<circle cx="272" cy="609.61" r="1.9" fill="#7aa8c8"/>
<text x="276.6" y="609.6" font-size="5" >MXD</text>
<circle cx="272" cy="616.88" r="1.9" fill="#8050a0"/>
<text x="276.6" y="616.9" font-size="5" >OGC</text>
<circle cx="272" cy="624.15" r="1.9" fill="#6a2a80"/>
<text x="276.6" y="624.1" font-size="5" >PER</text>
<circle cx="272" cy="631.42" r="1.9" fill="#9a3a70"/>
<text x="276.6" y="631.4" font-size="5" >RGL</text>
<circle cx="272" cy="638.69" r="1.9" fill="#c080c0"/>
<text x="276.6" y="638.7" font-size="5" >VEC</text>
<circle cx="272" cy="645.96" r="1.9" fill="#8878c0"/>
<text x="276.6" y="646" font-size="5" >VLMC</text>
<text x="312.4" y="532.4" font-size="13.2" fill="#111" font-weight="bold" >g</text>
<text x="510.8" y="539.9" font-size="8.8" text-anchor="middle" textLength="264.0" lengthAdjust="spacingAndGlyphs" >Directionality of chromatin accessibility within different cell types</text>
<line x1="353.70" y1="551.00" x2="353.70" y2="717.70" stroke="#777" stroke-width="1" />
<text x="348.5" y="568.8" font-size="6.8" fill="#444" text-anchor="end" >0.5</text>
<line x1="351.50" y1="568.80" x2="353.70" y2="568.80" stroke="#777" stroke-width="0.6" />
<text x="348.5" y="634.3" font-size="6.8" fill="#444" text-anchor="end" >0</text>
<line x1="351.50" y1="634.30" x2="353.70" y2="634.30" stroke="#777" stroke-width="0.6" />
<text x="348.5" y="699.3" font-size="6.8" fill="#444" text-anchor="end" >−0.5</text>
<line x1="351.50" y1="699.30" x2="353.70" y2="699.30" stroke="#777" stroke-width="0.6" />
<text x="326.4" y="626" font-size="6.8" text-anchor="middle" textLength="80.6" lengthAdjust="spacingAndGlyphs" transform="rotate(-90 326.4 626)" >Correlation Coefficient (R)</text>
<path d="M406.0 621.5h1M392.0 613.5h1M391.0 620.5h1M403.0 615.5h1M373.0 623.5h1M369.0 606.5h1M406.0 624.5h1M407.0 619.5h1M399.0 623.5h1M408.0 617.5h1M397.0 625.5h1M400.0 601.5h1M416.0 600.5h1M392.0 619.5h1M377.0 619.5h1M409.0 618.5h1M414.0 610.5h1M393.0 624.5h1M399.0 612.5h1M379.0 627.5h1M397.0 612.5h1M382.0 624.5h1M410.0 621.5h1M390.0 598.5h1M395.0 609.5h1M392.0 616.5h1M407.0 621.5h1M373.0 617.5h1M414.0 624.5h1M380.0 598.5h1M400.0 620.5h1M410.0 625.5h1M385.0 596.5h1M409.0 619.5h1M380.0 617.5h1M372.0 625.5h1M370.0 617.5h1M408.0 597.5h1M392.0 615.5h1M398.0 627.5h1M401.0 606.5h1M379.0 601.5h1M415.0 607.5h1M399.0 596.5h1M373.0 626.5h1M402.0 620.5h1M374.0 624.5h1M419.0 623.5h1M389.0 606.5h1M416.0 616.5h1M379.0 610.5h1M382.0 619.5h1M411.0 627.5h1M380.0 623.5h1M419.0 626.5h1M383.0 600.5h1M380.0 597.5h1M388.0 623.5h1M378.0 621.5h1M384.0 624.5h1M410.0 626.5h1M415.0 616.5h1M407.0 616.5h1M401.0 617.5h1M379.0 618.5h1M391.0 611.5h1M379.0 608.5h1M416.0 619.5h1M380.0 621.5h1M381.0 616.5h1M397.0 615.5h1M404.0 599.5h1M383.0 615.5h1M371.0 612.5h1M409.0 627.5h1M416.0 606.5h1M386.0 614.5h1M410.0 622.5h1M382.0 618.5h1M377.0 614.5h1M402.0 627.5h1M377.0 593.5h1M386.0 616.5h1M404.0 611.5h1M393.0 611.5h1M370.0 609.5h1M370.0 618.5h1M408.0 608.5h1M384.0 626.5h1M410.0 622.5h1M404.0 597.5h1M378.0 623.5h1M399.0 597.5h1M396.0 608.5h1M406.0 598.5h1M390.0 617.5h1M412.0 613.5h1M371.0 598.5h1M404.0 625.5h1M394.0 618.5h1M405.0 605.5h1M402.0 607.5h1M402.0 599.5h1M417.0 620.5h1M398.0 622.5h1M384.0 598.5h1M383.0 598.5h1M398.0 609.5h1M401.0 623.5h1M413.0 607.5h1M388.0 609.5h1M409.0 599.5h1M410.0 612.5h1M414.0 622.5h1M416.0 611.5h1M413.0 617.5h1M380.0 596.5h1M379.0 612.5h1M384.0 605.5h1M416.0 596.5h1M409.0 607.5h1M395.0 609.5h1M373.0 617.5h1M377.0 607.5h1M376.0 610.5h1M386.0 613.5h1M376.0 605.5h1M394.0 604.5h1M378.0 602.5h1M406.0 614.5h1M402.0 620.5h1M380.0 600.5h1M405.0 616.5h1M417.0 598.5h1M406.0 617.5h1M413.0 620.5h1M403.0 620.5h1M396.0 625.5h1M397.0 612.5h1M382.0 619.5h1M383.0 600.5h1M393.0 619.5h1M382.0 613.5h1M404.0 609.5h1M419.0 624.5h1M384.0 594.5h1M388.0 621.5h1M379.0 612.5h1M418.0 608.5h1M395.0 598.5h1M396.0 606.5h1M397.0 627.5h1M373.0 626.5h1M387.0 626.5h1M378.0 623.5h1M396.0 614.5h1M376.0 598.5h1M391.0 617.5h1M382.0 620.5h1M416.0 606.5h1M373.0 617.5h1M416.0 623.5h1M382.0 612.5h1M409.0 623.5h1M417.0 595.5h1" stroke="#f8d8d0" stroke-width="1"/>
<path d="M378.0 601.5h1M407.0 623.5h1M388.0 619.5h1M390.0 612.5h1M408.0 614.5h1M402.0 615.5h1M414.0 613.5h1M397.0 620.5h1M375.0 618.5h1M382.0 618.5h1M392.0 615.5h1M403.0 616.5h1M378.0 619.5h1M384.0 620.5h1M379.0 606.5h1M406.0 625.5h1M390.0 620.5h1M419.0 597.5h1M378.0 623.5h1M391.0 614.5h1M405.0 626.5h1M399.0 608.5h1M397.0 598.5h1M395.0 605.5h1M392.0 597.5h1M408.0 623.5h1M394.0 627.5h1M374.0 613.5h1M369.0 598.5h1M409.0 622.5h1M396.0 608.5h1M378.0 607.5h1M370.0 622.5h1M410.0 606.5h1M371.0 597.5h1M410.0 617.5h1M388.0 619.5h1M374.0 623.5h1M379.0 625.5h1M410.0 594.5h1M383.0 600.5h1M401.0 611.5h1M385.0 621.5h1M385.0 599.5h1M392.0 614.5h1M382.0 626.5h1M415.0 625.5h1M379.0 620.5h1M392.0 617.5h1M401.0 626.5h1M378.0 594.5h1M388.0 617.5h1M401.0 601.5h1M377.0 624.5h1M387.0 602.5h1M416.0 613.5h1M388.0 599.5h1M388.0 626.5h1M410.0 601.5h1M395.0 597.5h1M379.0 604.5h1M407.0 619.5h1M376.0 599.5h1M374.0 626.5h1M414.0 620.5h1M387.0 627.5h1M385.0 618.5h1M370.0 596.5h1M396.0 627.5h1M386.0 595.5h1M396.0 626.5h1M415.0 617.5h1M375.0 617.5h1M371.0 621.5h1M412.0 613.5h1M388.0 609.5h1M397.0 626.5h1M390.0 621.5h1M399.0 606.5h1M414.0 606.5h1M391.0 606.5h1M369.0 625.5h1M416.0 606.5h1M390.0 621.5h1M385.0 625.5h1M386.0 608.5h1M379.0 599.5h1M387.0 610.5h1M386.0 617.5h1M400.0 610.5h1" stroke="#f0a898" stroke-width="1"/>
<path d="M383.0 615.5h1M378.0 622.5h1M411.0 603.5h1M402.0 618.5h1M405.0 610.5h1M383.0 607.5h1M389.0 618.5h1M408.0 622.5h1M392.0 594.5h1M394.0 625.5h1M410.0 602.5h1M403.0 609.5h1M383.0 610.5h1M408.0 616.5h1M382.0 610.5h1M406.0 616.5h1M370.0 612.5h1M391.0 623.5h1M410.0 619.5h1M375.0 593.5h1M409.0 621.5h1M379.0 608.5h1M387.0 617.5h1M403.0 621.5h1M398.0 620.5h1M383.0 604.5h1M385.0 623.5h1M380.0 614.5h1M383.0 606.5h1M369.0 626.5h1M406.0 620.5h1M396.0 611.5h1M398.0 627.5h1M401.0 597.5h1M397.0 610.5h1M369.0 612.5h1M370.0 616.5h1M419.0 620.5h1M417.0 617.5h1M393.0 625.5h1M398.0 611.5h1M402.0 615.5h1M410.0 616.5h1M409.0 611.5h1M403.0 615.5h1" stroke="#dc5a5a" stroke-width="1"/>
<path d="M394.0 652.5h1M401.0 649.5h1M385.0 645.5h1M410.0 663.5h1M375.0 672.5h1M381.0 671.5h1M418.0 673.5h1M388.0 675.5h1M411.0 668.5h1M413.0 663.5h1M377.0 669.5h1M393.0 679.5h1M401.0 674.5h1M419.0 655.5h1M414.0 667.5h1M382.0 680.5h1M414.0 669.5h1M371.0 642.5h1M395.0 656.5h1M408.0 664.5h1M383.0 675.5h1M373.0 647.5h1M373.0 655.5h1M378.0 675.5h1M378.0 653.5h1M392.0 655.5h1M412.0 665.5h1M389.0 660.5h1M371.0 648.5h1M415.0 678.5h1M370.0 665.5h1M394.0 667.5h1M379.0 664.5h1M397.0 640.5h1M400.0 668.5h1M389.0 658.5h1M406.0 655.5h1M373.0 669.5h1M393.0 665.5h1M418.0 651.5h1M396.0 663.5h1M416.0 679.5h1M385.0 673.5h1M398.0 646.5h1M401.0 681.5h1M413.0 664.5h1M374.0 666.5h1M397.0 649.5h1M372.0 671.5h1M374.0 648.5h1M375.0 676.5h1M417.0 671.5h1M409.0 642.5h1M382.0 655.5h1M417.0 652.5h1M375.0 643.5h1M378.0 660.5h1M378.0 661.5h1M404.0 676.5h1M409.0 660.5h1M390.0 646.5h1M397.0 647.5h1M378.0 654.5h1M404.0 658.5h1M374.0 652.5h1M402.0 669.5h1M411.0 641.5h1M385.0 658.5h1M384.0 662.5h1M390.0 641.5h1M377.0 641.5h1M370.0 647.5h1M372.0 653.5h1M415.0 668.5h1M395.0 648.5h1M403.0 649.5h1M387.0 649.5h1M411.0 662.5h1M405.0 660.5h1M391.0 641.5h1M374.0 656.5h1M390.0 655.5h1M376.0 675.5h1M381.0 663.5h1M379.0 678.5h1M414.0 652.5h1M397.0 654.5h1M394.0 666.5h1M392.0 657.5h1M408.0 672.5h1M417.0 670.5h1M417.0 658.5h1M397.0 670.5h1M374.0 674.5h1M380.0 654.5h1M374.0 648.5h1M385.0 680.5h1M419.0 666.5h1M373.0 651.5h1M377.0 660.5h1M407.0 647.5h1M378.0 654.5h1M379.0 656.5h1M400.0 671.5h1M395.0 641.5h1M374.0 670.5h1M410.0 679.5h1M384.0 681.5h1M405.0 661.5h1M406.0 679.5h1M397.0 641.5h1M374.0 666.5h1M397.0 644.5h1M398.0 680.5h1M417.0 665.5h1M396.0 647.5h1M392.0 673.5h1M378.0 664.5h1M388.0 666.5h1M373.0 673.5h1M401.0 675.5h1M411.0 663.5h1M371.0 669.5h1M384.0 662.5h1M396.0 663.5h1M404.0 672.5h1M405.0 644.5h1M410.0 656.5h1M379.0 651.5h1M405.0 655.5h1M388.0 673.5h1M413.0 665.5h1M401.0 655.5h1M378.0 679.5h1M403.0 645.5h1M407.0 663.5h1M377.0 641.5h1M388.0 643.5h1M389.0 644.5h1M393.0 668.5h1M384.0 681.5h1M399.0 653.5h1M413.0 661.5h1M378.0 647.5h1M410.0 648.5h1M384.0 661.5h1M412.0 680.5h1M398.0 655.5h1M413.0 680.5h1M404.0 644.5h1M411.0 650.5h1M392.0 646.5h1M388.0 672.5h1M418.0 643.5h1M369.0 652.5h1M377.0 673.5h1M392.0 646.5h1M369.0 650.5h1M386.0 666.5h1M379.0 657.5h1M407.0 651.5h1M374.0 675.5h1M392.0 660.5h1M375.0 665.5h1M370.0 672.5h1M377.0 674.5h1M375.0 670.5h1M396.0 661.5h1M386.0 663.5h1M372.0 647.5h1M410.0 654.5h1M390.0 651.5h1M389.0 664.5h1M383.0 641.5h1M384.0 669.5h1M409.0 655.5h1M377.0 643.5h1M373.0 658.5h1M370.0 646.5h1M378.0 653.5h1M406.0 655.5h1M388.0 673.5h1M391.0 655.5h1M402.0 669.5h1M371.0 680.5h1M374.0 664.5h1M410.0 667.5h1M414.0 653.5h1M391.0 677.5h1M374.0 667.5h1" stroke="#f8d8d0" stroke-width="1"/>
<path d="M391.0 668.5h1M409.0 661.5h1M402.0 675.5h1M391.0 660.5h1M381.0 651.5h1M373.0 677.5h1M386.0 647.5h1M404.0 671.5h1M393.0 665.5h1M411.0 668.5h1M377.0 642.5h1M419.0 649.5h1M370.0 652.5h1M374.0 643.5h1M395.0 670.5h1M375.0 658.5h1M378.0 680.5h1M398.0 670.5h1M386.0 673.5h1M405.0 641.5h1M395.0 661.5h1M387.0 650.5h1M403.0 673.5h1M394.0 645.5h1M393.0 646.5h1M418.0 677.5h1M402.0 681.5h1M419.0 676.5h1M374.0 657.5h1M372.0 653.5h1M410.0 657.5h1M390.0 651.5h1M385.0 651.5h1M390.0 657.5h1M396.0 654.5h1M415.0 640.5h1M401.0 642.5h1M413.0 666.5h1M389.0 655.5h1M393.0 672.5h1M418.0 655.5h1M409.0 665.5h1M373.0 678.5h1M407.0 648.5h1M388.0 648.5h1M372.0 669.5h1M395.0 642.5h1M379.0 656.5h1M390.0 677.5h1M411.0 644.5h1M375.0 672.5h1M408.0 680.5h1M409.0 643.5h1M399.0 668.5h1M419.0 668.5h1M382.0 649.5h1M369.0 656.5h1M380.0 680.5h1M388.0 665.5h1M383.0 656.5h1M390.0 651.5h1M370.0 641.5h1M392.0 655.5h1M389.0 652.5h1M418.0 676.5h1M413.0 678.5h1M370.0 647.5h1M382.0 650.5h1M371.0 660.5h1M386.0 662.5h1M406.0 661.5h1M378.0 642.5h1M397.0 649.5h1M390.0 657.5h1M389.0 661.5h1M404.0 678.5h1M381.0 669.5h1M408.0 646.5h1M375.0 645.5h1M410.0 663.5h1M376.0 655.5h1M395.0 655.5h1M411.0 676.5h1M406.0 662.5h1M419.0 647.5h1M408.0 673.5h1M411.0 664.5h1M383.0 662.5h1M418.0 662.5h1M375.0 665.5h1M393.0 667.5h1M386.0 659.5h1M401.0 679.5h1M403.0 672.5h1M388.0 666.5h1M408.0 656.5h1M389.0 667.5h1M413.0 644.5h1M407.0 645.5h1M373.0 667.5h1M378.0 672.5h1M393.0 649.5h1M378.0 663.5h1M394.0 680.5h1M416.0 657.5h1M373.0 679.5h1M413.0 669.5h1M382.0 670.5h1M386.0 648.5h1M416.0 663.5h1M373.0 678.5h1M387.0 658.5h1M381.0 667.5h1M400.0 645.5h1" stroke="#f0a898" stroke-width="1"/>
<path d="M415.0 673.5h1M386.0 662.5h1M409.0 674.5h1M391.0 645.5h1M387.0 658.5h1M373.0 650.5h1M410.0 650.5h1M419.0 662.5h1M393.0 667.5h1M419.0 647.5h1M382.0 663.5h1M377.0 644.5h1M378.0 641.5h1M404.0 646.5h1M385.0 669.5h1M394.0 674.5h1M372.0 645.5h1M413.0 671.5h1M387.0 670.5h1M403.0 652.5h1M394.0 656.5h1M412.0 645.5h1M375.0 669.5h1M376.0 673.5h1M393.0 675.5h1M395.0 660.5h1M386.0 649.5h1M393.0 675.5h1M399.0 641.5h1M406.0 659.5h1M415.0 665.5h1M385.0 672.5h1M388.0 646.5h1M379.0 680.5h1M419.0 667.5h1M416.0 652.5h1M395.0 664.5h1M411.0 646.5h1M410.0 655.5h1M401.0 673.5h1M413.0 646.5h1M419.0 662.5h1M405.0 653.5h1M381.0 672.5h1M410.0 649.5h1M407.0 641.5h1M371.0 678.5h1M388.0 663.5h1M387.0 679.5h1M373.0 643.5h1M388.0 673.5h1M404.0 646.5h1M374.0 650.5h1M401.0 653.5h1M383.0 672.5h1M397.0 665.5h1M407.0 643.5h1M418.0 679.5h1M377.0 663.5h1M414.0 644.5h1M378.0 666.5h1M402.0 660.5h1M381.0 656.5h1M415.0 671.5h1M374.0 651.5h1M388.0 643.5h1M402.0 661.5h1M386.0 664.5h1M375.0 650.5h1M377.0 656.5h1M418.0 655.5h1M415.0 656.5h1M371.0 668.5h1M409.0 652.5h1M416.0 655.5h1M378.0 663.5h1" stroke="#dc5a5a" stroke-width="1"/>
<path d="M449.0 642.5h1M442.0 650.5h1M446.0 649.5h1M458.0 642.5h1M460.0 642.5h1M488.0 646.5h1M447.0 640.5h1M464.0 644.5h1M459.0 641.5h1M453.0 644.5h1M466.0 646.5h1M466.0 649.5h1M482.0 649.5h1M454.0 649.5h1M469.0 641.5h1M451.0 643.5h1M489.0 647.5h1M487.0 642.5h1M446.0 645.5h1M454.0 644.5h1M462.0 649.5h1M447.0 643.5h1M489.0 645.5h1M479.0 645.5h1M440.0 650.5h1M464.0 643.5h1M479.0 644.5h1M474.0 642.5h1M444.0 645.5h1M474.0 643.5h1M471.0 648.5h1M484.0 644.5h1M477.0 642.5h1M484.0 647.5h1M458.0 645.5h1M476.0 648.5h1M472.0 643.5h1M460.0 644.5h1M475.0 649.5h1M466.0 642.5h1M462.0 643.5h1M446.0 643.5h1M487.0 642.5h1M468.0 642.5h1M440.0 641.5h1M488.0 648.5h1M456.0 645.5h1M489.0 649.5h1M457.0 641.5h1M476.0 650.5h1M483.0 641.5h1M442.0 648.5h1M450.0 644.5h1M444.0 643.5h1M470.0 645.5h1M485.0 644.5h1M485.0 645.5h1M490.0 650.5h1M465.0 643.5h1M478.0 647.5h1M458.0 649.5h1M478.0 642.5h1M444.0 650.5h1M456.0 641.5h1M449.0 646.5h1M481.0 643.5h1M441.0 642.5h1M471.0 644.5h1M481.0 650.5h1M450.0 647.5h1M456.0 644.5h1M443.0 648.5h1M456.0 647.5h1M440.0 650.5h1M467.0 649.5h1M459.0 644.5h1M466.0 644.5h1M449.0 650.5h1M475.0 641.5h1M478.0 646.5h1M460.0 643.5h1M459.0 645.5h1M486.0 642.5h1M455.0 648.5h1M458.0 644.5h1M488.0 643.5h1M459.0 650.5h1M446.0 643.5h1M474.0 646.5h1M440.0 644.5h1M464.0 640.5h1M453.0 644.5h1M457.0 647.5h1M491.0 648.5h1M471.0 644.5h1M475.0 649.5h1M455.0 650.5h1M453.0 644.5h1M457.0 647.5h1M480.0 646.5h1M481.0 643.5h1M455.0 646.5h1M472.0 647.5h1M472.0 646.5h1M445.0 646.5h1M458.0 647.5h1M464.0 645.5h1M441.0 644.5h1M483.0 646.5h1M455.0 649.5h1M469.0 647.5h1M469.0 647.5h1M465.0 643.5h1M442.0 641.5h1M466.0 641.5h1M456.0 648.5h1M463.0 642.5h1M472.0 645.5h1M467.0 640.5h1M442.0 641.5h1M442.0 649.5h1M469.0 648.5h1M477.0 650.5h1M443.0 649.5h1M461.0 649.5h1M468.0 647.5h1M445.0 650.5h1M475.0 648.5h1M448.0 649.5h1M482.0 649.5h1M472.0 646.5h1M446.0 646.5h1M441.0 644.5h1M471.0 644.5h1M476.0 644.5h1M454.0 649.5h1M491.0 646.5h1M461.0 649.5h1M485.0 641.5h1M486.0 648.5h1M484.0 645.5h1M486.0 645.5h1M486.0 650.5h1M448.0 649.5h1M449.0 648.5h1M446.0 641.5h1M466.0 650.5h1M480.0 649.5h1M457.0 646.5h1M475.0 650.5h1M448.0 643.5h1M472.0 643.5h1M475.0 645.5h1M463.0 641.5h1M444.0 645.5h1M441.0 647.5h1M488.0 643.5h1M466.0 642.5h1M466.0 643.5h1M469.0 649.5h1M445.0 643.5h1M470.0 643.5h1M484.0 650.5h1M463.0 644.5h1M474.0 650.5h1M482.0 649.5h1M468.0 646.5h1M463.0 647.5h1M445.0 643.5h1M445.0 644.5h1M453.0 645.5h1M441.0 647.5h1M470.0 641.5h1M445.0 650.5h1M485.0 648.5h1M480.0 644.5h1M478.0 644.5h1M457.0 643.5h1M486.0 644.5h1M441.0 644.5h1M482.0 647.5h1M469.0 643.5h1M470.0 646.5h1M462.0 645.5h1M459.0 644.5h1M473.0 644.5h1M461.0 648.5h1M479.0 649.5h1M473.0 650.5h1M475.0 645.5h1M468.0 644.5h1M488.0 648.5h1M485.0 647.5h1M483.0 643.5h1M484.0 649.5h1M440.0 647.5h1M476.0 647.5h1M474.0 645.5h1M480.0 645.5h1M491.0 641.5h1M445.0 647.5h1M448.0 643.5h1M450.0 649.5h1M462.0 645.5h1M472.0 647.5h1M469.0 647.5h1M453.0 649.5h1M453.0 641.5h1M453.0 645.5h1M489.0 642.5h1M485.0 649.5h1M484.0 644.5h1M451.0 644.5h1M467.0 649.5h1M489.0 648.5h1M463.0 646.5h1M462.0 644.5h1M462.0 643.5h1M468.0 648.5h1M446.0 643.5h1M442.0 650.5h1M473.0 649.5h1M463.0 644.5h1M481.0 644.5h1M446.0 647.5h1M449.0 643.5h1M447.0 644.5h1M446.0 647.5h1M487.0 647.5h1M484.0 648.5h1" stroke="#f8e0d8" stroke-width="1"/>
<path d="M470.0 650.5h1M473.0 647.5h1M478.0 646.5h1M483.0 649.5h1M479.0 649.5h1M485.0 648.5h1M452.0 643.5h1M452.0 648.5h1M474.0 644.5h1M483.0 649.5h1M482.0 642.5h1M459.0 650.5h1M442.0 650.5h1M463.0 641.5h1M455.0 642.5h1M481.0 646.5h1M466.0 645.5h1M483.0 646.5h1M473.0 641.5h1M450.0 646.5h1M465.0 642.5h1M449.0 642.5h1M489.0 648.5h1M475.0 642.5h1M452.0 649.5h1M480.0 645.5h1M469.0 650.5h1M440.0 642.5h1M446.0 642.5h1M479.0 649.5h1M441.0 646.5h1M472.0 643.5h1M481.0 649.5h1M457.0 646.5h1M469.0 646.5h1M459.0 649.5h1M472.0 645.5h1M447.0 647.5h1M478.0 645.5h1M480.0 646.5h1M451.0 645.5h1M448.0 648.5h1M472.0 650.5h1M456.0 641.5h1M483.0 646.5h1M470.0 646.5h1M459.0 641.5h1M473.0 650.5h1M478.0 645.5h1M449.0 641.5h1M487.0 640.5h1M489.0 641.5h1M459.0 646.5h1M470.0 641.5h1M487.0 650.5h1M479.0 647.5h1M490.0 646.5h1M457.0 647.5h1M471.0 642.5h1M468.0 643.5h1M468.0 642.5h1M454.0 641.5h1M484.0 642.5h1M448.0 640.5h1M440.0 645.5h1M455.0 647.5h1M478.0 642.5h1M449.0 642.5h1M481.0 644.5h1M455.0 642.5h1M458.0 641.5h1M443.0 643.5h1M453.0 643.5h1M491.0 644.5h1M452.0 649.5h1M458.0 648.5h1M466.0 641.5h1M479.0 641.5h1M454.0 648.5h1M449.0 644.5h1M479.0 650.5h1M482.0 647.5h1M441.0 646.5h1M477.0 649.5h1M447.0 645.5h1M481.0 646.5h1M463.0 647.5h1M449.0 644.5h1M460.0 646.5h1M442.0 640.5h1M464.0 643.5h1M447.0 650.5h1M483.0 643.5h1M457.0 650.5h1M468.0 642.5h1M487.0 649.5h1M466.0 641.5h1M458.0 641.5h1M469.0 646.5h1" stroke="#f0bcb0" stroke-width="1"/>
<path d="M441.0 626.5h1M453.0 625.5h1M452.0 623.5h1M461.0 623.5h1M486.0 623.5h1M486.0 619.5h1M473.0 627.5h1M490.0 620.5h1M463.0 626.5h1M467.0 625.5h1M447.0 619.5h1M485.0 620.5h1M488.0 625.5h1M474.0 625.5h1M446.0 625.5h1M454.0 624.5h1M446.0 622.5h1M467.0 627.5h1M481.0 618.5h1M490.0 619.5h1M444.0 624.5h1M474.0 623.5h1M485.0 622.5h1M445.0 618.5h1M441.0 623.5h1" stroke="#f6dcd4" stroke-width="1"/>
<path d="M512.0 614.5h1M539.0 624.5h1M543.0 620.5h1M514.0 617.5h1M552.0 621.5h1M558.0 627.5h1M553.0 621.5h1M520.0 627.5h1M557.0 622.5h1M535.0 625.5h1M543.0 618.5h1M544.0 623.5h1M534.0 615.5h1M522.0 625.5h1M519.0 626.5h1M514.0 623.5h1M539.0 612.5h1M561.0 619.5h1M537.0 621.5h1M529.0 617.5h1M563.0 623.5h1M531.0 615.5h1M512.0 619.5h1M534.0 619.5h1M512.0 612.5h1M532.0 616.5h1M548.0 618.5h1M537.0 624.5h1M553.0 622.5h1M540.0 616.5h1M558.0 613.5h1M530.0 616.5h1M534.0 626.5h1M515.0 614.5h1M551.0 617.5h1M551.0 624.5h1M512.0 626.5h1M560.0 610.5h1M528.0 626.5h1M551.0 612.5h1M523.0 615.5h1M542.0 623.5h1M550.0 625.5h1M532.0 623.5h1M550.0 623.5h1M553.0 624.5h1M555.0 615.5h1M530.0 625.5h1M517.0 624.5h1M516.0 627.5h1M547.0 623.5h1M514.0 627.5h1M547.0 612.5h1M539.0 625.5h1M514.0 618.5h1M525.0 621.5h1M545.0 625.5h1M554.0 621.5h1M552.0 623.5h1M542.0 622.5h1M517.0 616.5h1M537.0 622.5h1M550.0 620.5h1M557.0 622.5h1M527.0 620.5h1M538.0 620.5h1M545.0 613.5h1M552.0 613.5h1M527.0 620.5h1M553.0 615.5h1" stroke="#f8e0d8" stroke-width="1"/>
<path d="M517.0 625.5h1M534.0 624.5h1M539.0 614.5h1M558.0 625.5h1M544.0 625.5h1M541.0 620.5h1M545.0 613.5h1M548.0 617.5h1M527.0 626.5h1M513.0 624.5h1M555.0 627.5h1M554.0 624.5h1M559.0 624.5h1M528.0 623.5h1M549.0 626.5h1M526.0 626.5h1M546.0 619.5h1M524.0 623.5h1M563.0 624.5h1M555.0 621.5h1M538.0 626.5h1M521.0 627.5h1M545.0 626.5h1M515.0 620.5h1M543.0 622.5h1M516.0 625.5h1M546.0 619.5h1M545.0 624.5h1M548.0 612.5h1M514.0 616.5h1" stroke="#f0b0a0" stroke-width="1"/>
<path d="M545.0 652.5h1M543.0 672.5h1M535.0 674.5h1M551.0 660.5h1M517.0 646.5h1M557.0 663.5h1M546.0 641.5h1M524.0 675.5h1M527.0 640.5h1M527.0 652.5h1M536.0 660.5h1M515.0 680.5h1M525.0 682.5h1M512.0 655.5h1M556.0 641.5h1M545.0 651.5h1M515.0 651.5h1M523.0 650.5h1M523.0 652.5h1M512.0 686.5h1M550.0 658.5h1M511.0 649.5h1M550.0 681.5h1M535.0 655.5h1M515.0 650.5h1M538.0 662.5h1M519.0 674.5h1M513.0 674.5h1M539.0 665.5h1M541.0 656.5h1M552.0 673.5h1M520.0 655.5h1M555.0 672.5h1M531.0 645.5h1M559.0 672.5h1M540.0 646.5h1M523.0 662.5h1M524.0 682.5h1M543.0 675.5h1M524.0 644.5h1M553.0 666.5h1M547.0 661.5h1M555.0 668.5h1M554.0 667.5h1M558.0 666.5h1M511.0 683.5h1M514.0 660.5h1M549.0 652.5h1M543.0 684.5h1M535.0 644.5h1M555.0 659.5h1M530.0 654.5h1M547.0 648.5h1M535.0 648.5h1M549.0 665.5h1M541.0 643.5h1M547.0 653.5h1M527.0 644.5h1M521.0 663.5h1M559.0 646.5h1M539.0 665.5h1M539.0 681.5h1M538.0 677.5h1M541.0 670.5h1M532.0 654.5h1M563.0 649.5h1M549.0 653.5h1M541.0 651.5h1M515.0 667.5h1M540.0 686.5h1M525.0 678.5h1M517.0 672.5h1M550.0 642.5h1M553.0 667.5h1M557.0 664.5h1M511.0 655.5h1M511.0 648.5h1M540.0 684.5h1M546.0 653.5h1M527.0 660.5h1M531.0 643.5h1M540.0 667.5h1M519.0 655.5h1M542.0 665.5h1M524.0 643.5h1M517.0 652.5h1M556.0 652.5h1M536.0 656.5h1M554.0 649.5h1M514.0 670.5h1M547.0 661.5h1M552.0 656.5h1M554.0 659.5h1M550.0 645.5h1M545.0 675.5h1M536.0 662.5h1M557.0 642.5h1M541.0 648.5h1M543.0 647.5h1M546.0 667.5h1M534.0 648.5h1M547.0 681.5h1M524.0 681.5h1M552.0 648.5h1M539.0 653.5h1M552.0 649.5h1M550.0 656.5h1M556.0 685.5h1M539.0 671.5h1M530.0 652.5h1M517.0 650.5h1M511.0 649.5h1M545.0 672.5h1M529.0 658.5h1M528.0 657.5h1M530.0 650.5h1M532.0 686.5h1M532.0 644.5h1M529.0 683.5h1M553.0 668.5h1M530.0 673.5h1M537.0 666.5h1M560.0 652.5h1M521.0 668.5h1M546.0 687.5h1M538.0 669.5h1M556.0 648.5h1M562.0 645.5h1M528.0 641.5h1M526.0 656.5h1M548.0 686.5h1M517.0 658.5h1M513.0 662.5h1M541.0 686.5h1M514.0 654.5h1M528.0 664.5h1M522.0 663.5h1M558.0 678.5h1M527.0 641.5h1M512.0 679.5h1M556.0 671.5h1M562.0 643.5h1M554.0 646.5h1M552.0 679.5h1M512.0 663.5h1M531.0 667.5h1M544.0 643.5h1M552.0 651.5h1M529.0 669.5h1M518.0 643.5h1M553.0 653.5h1M546.0 642.5h1M540.0 646.5h1M542.0 644.5h1M532.0 674.5h1M512.0 658.5h1M519.0 666.5h1M554.0 647.5h1M520.0 671.5h1M541.0 650.5h1M537.0 649.5h1M547.0 656.5h1M533.0 656.5h1M555.0 651.5h1M516.0 651.5h1M558.0 664.5h1M546.0 648.5h1M545.0 640.5h1M515.0 678.5h1M543.0 659.5h1M517.0 643.5h1M531.0 653.5h1M525.0 663.5h1M552.0 648.5h1M527.0 685.5h1M558.0 678.5h1M519.0 682.5h1M511.0 675.5h1M517.0 678.5h1M514.0 682.5h1M537.0 675.5h1M543.0 647.5h1M546.0 662.5h1M520.0 662.5h1M555.0 685.5h1M557.0 681.5h1M552.0 647.5h1M523.0 655.5h1M531.0 640.5h1M551.0 646.5h1M563.0 665.5h1M543.0 651.5h1M533.0 640.5h1M526.0 662.5h1M518.0 670.5h1M559.0 656.5h1M532.0 686.5h1M561.0 644.5h1M532.0 646.5h1M539.0 665.5h1M518.0 681.5h1M530.0 684.5h1M557.0 674.5h1M561.0 672.5h1M518.0 648.5h1M515.0 681.5h1M538.0 659.5h1M538.0 658.5h1M539.0 643.5h1M518.0 645.5h1M551.0 660.5h1M519.0 662.5h1M534.0 664.5h1M549.0 643.5h1M532.0 664.5h1M543.0 646.5h1M562.0 656.5h1M530.0 674.5h1M534.0 651.5h1M563.0 667.5h1M540.0 677.5h1M519.0 677.5h1M521.0 641.5h1M558.0 652.5h1M545.0 669.5h1M563.0 647.5h1M561.0 647.5h1M517.0 684.5h1M543.0 644.5h1M533.0 643.5h1M542.0 649.5h1M551.0 683.5h1M556.0 649.5h1M519.0 651.5h1M533.0 664.5h1M511.0 656.5h1M529.0 668.5h1M535.0 655.5h1M555.0 663.5h1M553.0 661.5h1M525.0 674.5h1M539.0 652.5h1M531.0 655.5h1M561.0 658.5h1M549.0 646.5h1M514.0 662.5h1M556.0 676.5h1M554.0 647.5h1M556.0 665.5h1M542.0 649.5h1M563.0 679.5h1M551.0 641.5h1M524.0 659.5h1M526.0 674.5h1M528.0 662.5h1M516.0 669.5h1M535.0 667.5h1M526.0 645.5h1M557.0 645.5h1M532.0 651.5h1M522.0 649.5h1M542.0 642.5h1M531.0 651.5h1M559.0 682.5h1" stroke="#f8dcd4" stroke-width="1"/>
<path d="M511.0 660.5h1M552.0 640.5h1M530.0 648.5h1M533.0 653.5h1M561.0 651.5h1M556.0 643.5h1M514.0 663.5h1M535.0 652.5h1M511.0 680.5h1M536.0 642.5h1M536.0 644.5h1M512.0 653.5h1M546.0 678.5h1M559.0 641.5h1M513.0 649.5h1M540.0 662.5h1M552.0 652.5h1M534.0 677.5h1M541.0 669.5h1M555.0 652.5h1M554.0 658.5h1M545.0 653.5h1M545.0 650.5h1M562.0 672.5h1M536.0 672.5h1M554.0 687.5h1M549.0 648.5h1M535.0 649.5h1M542.0 654.5h1M542.0 652.5h1M533.0 648.5h1M534.0 659.5h1M558.0 669.5h1M563.0 662.5h1M561.0 679.5h1M555.0 648.5h1M552.0 657.5h1M516.0 681.5h1M551.0 642.5h1M546.0 653.5h1M549.0 681.5h1M532.0 651.5h1M530.0 660.5h1M542.0 660.5h1M555.0 649.5h1M521.0 656.5h1M538.0 641.5h1M559.0 647.5h1M551.0 675.5h1M511.0 644.5h1M543.0 666.5h1M559.0 649.5h1M512.0 662.5h1M516.0 655.5h1M543.0 646.5h1M515.0 654.5h1M559.0 681.5h1M519.0 647.5h1M536.0 648.5h1M554.0 668.5h1M559.0 671.5h1M551.0 651.5h1M556.0 686.5h1M563.0 655.5h1M551.0 674.5h1M532.0 686.5h1M561.0 658.5h1M526.0 684.5h1M549.0 645.5h1M540.0 648.5h1M560.0 642.5h1M518.0 659.5h1M550.0 659.5h1M513.0 649.5h1M520.0 664.5h1M560.0 664.5h1M532.0 680.5h1M556.0 648.5h1M546.0 642.5h1M549.0 679.5h1M550.0 652.5h1M530.0 687.5h1M563.0 651.5h1M534.0 643.5h1M513.0 664.5h1M562.0 644.5h1M562.0 644.5h1M511.0 648.5h1M537.0 662.5h1M548.0 646.5h1M516.0 678.5h1M555.0 656.5h1M527.0 678.5h1M556.0 680.5h1M562.0 677.5h1M532.0 673.5h1M549.0 673.5h1M548.0 651.5h1M561.0 645.5h1M515.0 656.5h1M528.0 647.5h1M536.0 681.5h1M550.0 650.5h1M530.0 664.5h1M518.0 675.5h1M551.0 648.5h1M529.0 648.5h1M560.0 640.5h1M547.0 644.5h1M530.0 666.5h1M535.0 677.5h1M520.0 665.5h1M519.0 660.5h1M556.0 657.5h1M538.0 650.5h1M534.0 654.5h1M552.0 648.5h1M551.0 667.5h1M515.0 646.5h1M539.0 666.5h1M515.0 654.5h1M550.0 643.5h1M547.0 685.5h1M536.0 673.5h1M514.0 674.5h1M515.0 669.5h1M551.0 646.5h1M536.0 656.5h1M523.0 657.5h1M529.0 661.5h1M513.0 683.5h1M531.0 650.5h1M515.0 654.5h1M521.0 649.5h1M512.0 645.5h1M552.0 646.5h1M528.0 643.5h1M513.0 662.5h1M537.0 644.5h1M516.0 650.5h1M555.0 657.5h1M555.0 643.5h1M560.0 644.5h1M525.0 650.5h1M531.0 647.5h1M533.0 644.5h1M536.0 676.5h1M537.0 682.5h1M550.0 642.5h1M513.0 673.5h1M522.0 661.5h1M520.0 656.5h1M548.0 671.5h1M523.0 664.5h1M520.0 660.5h1M562.0 686.5h1M554.0 679.5h1M541.0 641.5h1M546.0 672.5h1M520.0 654.5h1M513.0 661.5h1M515.0 661.5h1M548.0 676.5h1M522.0 681.5h1M557.0 680.5h1M562.0 651.5h1M531.0 684.5h1M555.0 666.5h1" stroke="#f2b0a0" stroke-width="1"/>
<path d="M529.0 649.5h1M525.0 662.5h1M532.0 671.5h1M537.0 647.5h1M555.0 682.5h1M517.0 644.5h1M544.0 669.5h1M525.0 658.5h1M546.0 646.5h1M562.0 679.5h1M557.0 684.5h1M516.0 640.5h1M515.0 651.5h1M544.0 673.5h1M530.0 658.5h1M562.0 651.5h1M563.0 643.5h1M525.0 647.5h1M532.0 649.5h1M524.0 643.5h1M539.0 685.5h1M556.0 656.5h1M519.0 640.5h1M515.0 645.5h1M552.0 643.5h1M559.0 670.5h1M536.0 670.5h1M514.0 646.5h1M520.0 659.5h1M552.0 652.5h1M552.0 648.5h1M526.0 659.5h1M529.0 660.5h1M533.0 658.5h1M556.0 686.5h1M558.0 657.5h1M529.0 681.5h1M521.0 652.5h1M553.0 658.5h1M535.0 659.5h1M544.0 649.5h1M532.0 667.5h1M549.0 658.5h1M554.0 686.5h1M563.0 645.5h1M554.0 658.5h1M521.0 672.5h1M524.0 642.5h1" stroke="#e88070" stroke-width="1"/>
<path d="M634.0 623.5h1M606.0 627.5h1M629.0 621.5h1M609.0 617.5h1M632.0 623.5h1M590.0 617.5h1M632.0 624.5h1M619.0 618.5h1M609.0 620.5h1M611.0 620.5h1M592.0 624.5h1M609.0 619.5h1M623.0 618.5h1M630.0 625.5h1M588.0 614.5h1M604.0 621.5h1M593.0 612.5h1M595.0 617.5h1M617.0 621.5h1M634.0 625.5h1M616.0 622.5h1M612.0 622.5h1M589.0 627.5h1M590.0 624.5h1M595.0 617.5h1M606.0 615.5h1M595.0 625.5h1M604.0 624.5h1M606.0 615.5h1M613.0 622.5h1M608.0 622.5h1M604.0 627.5h1M599.0 622.5h1M604.0 620.5h1M608.0 620.5h1M624.0 615.5h1M626.0 619.5h1M606.0 617.5h1M634.0 610.5h1M594.0 623.5h1M604.0 621.5h1M616.0 619.5h1M584.0 622.5h1M596.0 622.5h1M632.0 612.5h1M595.0 623.5h1M630.0 621.5h1M630.0 610.5h1M614.0 624.5h1M614.0 614.5h1M607.0 616.5h1M613.0 625.5h1M633.0 609.5h1M611.0 614.5h1M608.0 620.5h1M619.0 622.5h1M616.0 621.5h1M601.0 625.5h1M608.0 620.5h1M623.0 611.5h1M632.0 627.5h1M586.0 612.5h1M622.0 626.5h1M607.0 617.5h1M617.0 624.5h1M596.0 624.5h1M624.0 624.5h1M606.0 626.5h1M619.0 610.5h1M631.0 623.5h1M633.0 620.5h1M625.0 619.5h1M597.0 609.5h1M616.0 622.5h1M611.0 625.5h1M623.0 625.5h1M618.0 621.5h1M615.0 626.5h1M617.0 621.5h1M592.0 619.5h1M628.0 619.5h1M615.0 624.5h1M618.0 626.5h1M605.0 616.5h1" stroke="#f8dcd4" stroke-width="1"/>
<path d="M584.0 625.5h1M608.0 623.5h1M620.0 609.5h1M626.0 618.5h1M604.0 610.5h1M588.0 626.5h1M629.0 625.5h1M608.0 615.5h1M600.0 614.5h1M599.0 626.5h1M597.0 615.5h1M591.0 619.5h1M603.0 626.5h1M588.0 619.5h1M601.0 617.5h1M634.0 617.5h1M633.0 612.5h1M599.0 621.5h1M593.0 615.5h1M632.0 620.5h1M587.0 625.5h1M586.0 620.5h1M590.0 621.5h1M584.0 618.5h1M594.0 609.5h1M624.0 625.5h1M629.0 627.5h1M617.0 612.5h1M605.0 627.5h1M621.0 617.5h1M615.0 611.5h1M621.0 624.5h1M613.0 613.5h1M605.0 623.5h1M612.0 613.5h1M607.0 610.5h1M587.0 617.5h1M592.0 616.5h1M590.0 622.5h1M590.0 622.5h1M607.0 616.5h1M602.0 625.5h1M620.0 620.5h1M626.0 620.5h1M599.0 611.5h1M590.0 610.5h1M591.0 610.5h1M596.0 618.5h1M620.0 611.5h1M613.0 612.5h1M584.0 623.5h1M594.0 616.5h1M606.0 614.5h1M600.0 625.5h1M596.0 611.5h1M634.0 608.5h1" stroke="#f0b0a0" stroke-width="1"/>
<path d="M602.0 656.5h1M631.0 653.5h1M605.0 643.5h1M613.0 645.5h1M594.0 643.5h1M630.0 643.5h1M593.0 648.5h1M608.0 653.5h1M599.0 651.5h1M609.0 643.5h1M588.0 642.5h1M633.0 642.5h1M610.0 652.5h1M587.0 641.5h1M605.0 647.5h1M594.0 649.5h1M613.0 640.5h1M612.0 649.5h1M624.0 649.5h1M603.0 645.5h1M611.0 656.5h1M599.0 653.5h1M634.0 650.5h1M598.0 656.5h1M586.0 643.5h1M630.0 645.5h1M631.0 646.5h1M601.0 651.5h1M588.0 642.5h1M616.0 653.5h1M584.0 640.5h1M621.0 641.5h1M621.0 651.5h1M623.0 641.5h1M596.0 640.5h1M614.0 643.5h1M629.0 650.5h1M586.0 643.5h1M616.0 656.5h1M586.0 651.5h1M626.0 640.5h1M603.0 648.5h1M611.0 645.5h1M607.0 643.5h1M610.0 645.5h1M630.0 642.5h1M610.0 651.5h1M631.0 642.5h1M629.0 645.5h1M600.0 641.5h1M597.0 647.5h1M596.0 642.5h1M585.0 647.5h1M601.0 644.5h1M633.0 643.5h1M605.0 642.5h1M602.0 650.5h1M595.0 650.5h1M587.0 646.5h1M601.0 643.5h1M630.0 646.5h1M594.0 653.5h1M587.0 647.5h1M619.0 641.5h1M621.0 644.5h1M589.0 650.5h1M606.0 647.5h1M607.0 653.5h1M587.0 651.5h1M585.0 647.5h1M609.0 654.5h1M626.0 644.5h1M610.0 654.5h1M598.0 641.5h1M622.0 641.5h1M609.0 642.5h1M589.0 643.5h1M619.0 648.5h1M618.0 641.5h1M621.0 640.5h1M606.0 642.5h1M605.0 640.5h1M604.0 652.5h1M587.0 646.5h1M610.0 651.5h1M585.0 643.5h1M629.0 646.5h1M598.0 651.5h1M624.0 644.5h1M592.0 651.5h1M627.0 641.5h1M631.0 643.5h1M598.0 649.5h1M591.0 648.5h1M597.0 649.5h1M587.0 641.5h1M609.0 652.5h1M606.0 645.5h1M600.0 645.5h1M593.0 652.5h1M600.0 653.5h1M602.0 649.5h1M629.0 652.5h1M588.0 644.5h1M602.0 648.5h1M601.0 641.5h1M618.0 648.5h1M628.0 642.5h1M585.0 646.5h1M625.0 647.5h1M623.0 641.5h1M589.0 653.5h1M632.0 640.5h1M591.0 642.5h1M614.0 641.5h1M612.0 652.5h1M589.0 642.5h1M588.0 642.5h1M604.0 642.5h1M609.0 651.5h1" stroke="#f8dcd4" stroke-width="1"/>
<path d="M621.0 648.5h1M609.0 645.5h1M623.0 647.5h1M629.0 649.5h1M598.0 643.5h1M585.0 655.5h1M595.0 652.5h1M632.0 644.5h1M629.0 656.5h1M634.0 641.5h1M628.0 652.5h1M631.0 643.5h1M599.0 648.5h1M620.0 643.5h1M591.0 643.5h1M613.0 643.5h1M591.0 640.5h1M592.0 648.5h1M622.0 651.5h1M633.0 640.5h1M634.0 652.5h1M584.0 649.5h1M608.0 650.5h1M611.0 648.5h1M632.0 644.5h1M633.0 649.5h1M622.0 642.5h1M607.0 652.5h1M620.0 646.5h1M607.0 642.5h1M593.0 656.5h1M600.0 640.5h1M602.0 652.5h1M611.0 649.5h1M594.0 649.5h1M601.0 641.5h1M587.0 647.5h1M631.0 642.5h1M608.0 645.5h1M589.0 655.5h1M589.0 652.5h1M597.0 644.5h1M606.0 641.5h1M623.0 648.5h1M614.0 642.5h1M589.0 647.5h1M605.0 648.5h1M614.0 642.5h1M617.0 655.5h1M626.0 646.5h1M629.0 644.5h1M619.0 641.5h1M629.0 646.5h1M588.0 651.5h1M625.0 652.5h1M592.0 641.5h1M609.0 641.5h1M612.0 644.5h1M626.0 643.5h1M612.0 653.5h1M601.0 650.5h1M598.0 650.5h1M586.0 653.5h1M627.0 640.5h1M598.0 642.5h1M611.0 644.5h1M621.0 651.5h1M592.0 649.5h1M614.0 656.5h1M619.0 644.5h1M595.0 642.5h1M617.0 650.5h1M592.0 648.5h1M634.0 655.5h1M584.0 646.5h1M606.0 655.5h1M624.0 645.5h1M584.0 643.5h1M613.0 643.5h1M628.0 650.5h1" stroke="#f0b0a0" stroke-width="1"/>
<rect x="358.9" y="627.8" width="71.4" height="12.9" fill="#d4858e" />
<text x="394.1" y="634.3" font-size="7.6" fill="#fbeeee" text-anchor="middle" textLength="38.9" lengthAdjust="spacingAndGlyphs" >ITL23GL-DV</text>
<rect x="430.3" y="627.8" width="71.3" height="12.9" fill="#d49a88" />
<text x="465.2" y="634.3" font-size="7.6" fill="#fbeeee" text-anchor="middle" textLength="35.0" lengthAdjust="spacingAndGlyphs" >ITL4GL-DV</text>
<rect x="501.6" y="627.8" width="71.4" height="12.9" fill="#944a5e" />
<text x="536.2" y="634.3" font-size="7.6" fill="#fbeeee" text-anchor="middle" textLength="35.6" lengthAdjust="spacingAndGlyphs" >ITL6GL-DS</text>
<rect x="573" y="627.8" width="72" height="12.9" fill="#a88846" />
<text x="608.4" y="634.3" font-size="7.6" fill="#fbeeee" text-anchor="middle" textLength="30.7" lengthAdjust="spacingAndGlyphs" >CTGL-DS</text>
<text x="374" y="582.6" font-size="4.6" fill="#e0959a" textLength="51.8" lengthAdjust="spacingAndGlyphs" >chr13:23268085~23271213</text>
<text x="363.6" y="679" font-size="4.6" fill="#e0959a" textLength="49.1" lengthAdjust="spacingAndGlyphs" >chr8:45599518~45594435</text>
<text x="404" y="684.6" font-size="4.6" fill="#e0959a" textLength="51.6" lengthAdjust="spacingAndGlyphs" >chr15:10428488~10427377</text>
<text x="355.8" y="688.6" font-size="4.6" fill="#e0959a" textLength="51.7" lengthAdjust="spacingAndGlyphs" >chr16:44276862~44277708</text>
<text x="374" y="694.2" font-size="4.6" fill="#d87888" textLength="52.7" lengthAdjust="spacingAndGlyphs" >chr11:90419481~90420477</text>
<text x="412.7" y="658" font-size="4.6" fill="#e0a8a8" textLength="47.3" lengthAdjust="spacingAndGlyphs" >chr2:143733653~143734654</text>
<text x="412.7" y="663.2" font-size="4.6" fill="#e0a8a8" textLength="47.3" lengthAdjust="spacingAndGlyphs" >chr5:107448059~107449079</text>
<text x="446" y="652.2" font-size="4.6" fill="#d8b0a8" textLength="50.0" lengthAdjust="spacingAndGlyphs" >chr2:44980235~44984433</text>
<text x="470" y="661" font-size="4.6" fill="#d8a8a0" textLength="50.0" lengthAdjust="spacingAndGlyphs" >chr6:84757236~84759881</text>
<text x="463.8" y="667.4" font-size="4.6" fill="#d8a8a0" textLength="53.2" lengthAdjust="spacingAndGlyphs" >chr3:132927462~132929388</text>
<text x="505.4" y="690" font-size="4.6" fill="#a05060" textLength="51.3" lengthAdjust="spacingAndGlyphs" >chr11:60793943~60794208</text>
<text x="477.8" y="695.6" font-size="4.6" fill="#a05060" textLength="55.2" lengthAdjust="spacingAndGlyphs" >chr1:156765184~156759866</text>
<text x="543" y="695.3" font-size="4.6" fill="#a05060" textLength="54.0" lengthAdjust="spacingAndGlyphs" >chr6:137712235~137713778</text>
<text x="520" y="700.7" font-size="4.6" fill="#a05060" textLength="50.0" lengthAdjust="spacingAndGlyphs" >chr3:75584367~75585824</text>
<text x="506.8" y="710.7" font-size="4.6" fill="#a05060" textLength="54.0" lengthAdjust="spacingAndGlyphs" >chr1:135940197~135940971</text>
<text x="581" y="602.7" font-size="4.6" fill="#c8a870" textLength="50.0" lengthAdjust="spacingAndGlyphs" >chr8:73079675~73082436</text>
<text x="590.5" y="660.2" font-size="4.6" fill="#806020" textLength="55.3" lengthAdjust="spacingAndGlyphs" >chr8:104261222~104262299</text>
<text x="550" y="665" font-size="4.6" fill="#b09050" textLength="54.0" lengthAdjust="spacingAndGlyphs" >chr4:182248824~182289912</text>
<text x="604" y="669" font-size="4.6" fill="#b09050" textLength="48.6" lengthAdjust="spacingAndGlyphs" >chr5:201850032~201851194</text>
<text x="555.4" y="673.7" font-size="4.6" fill="#b09050" textLength="47.2" lengthAdjust="spacingAndGlyphs" >chr6:84703683~84705145</text>
<defs><linearGradient id="gred" x1="0" x2="0" y1="0" y2="1"><stop offset="0" stop-color="#6a1010"/><stop offset="0.4" stop-color="#c83a30"/><stop offset="0.75" stop-color="#f0a8a0"/><stop offset="1" stop-color="#fbe8e8"/></linearGradient></defs>
<rect x="661.5" y="619.7" width="6.5" height="31.9" fill="url(#gred)" />
<text x="671.5" y="621.9" font-size="4.8" fill="#333" text-anchor="middle" transform="rotate(-90 671.5 621.9)" >30</text>
<text x="671.5" y="631" font-size="4.8" fill="#333" text-anchor="middle" transform="rotate(-90 671.5 631)" >20</text>
<text x="671.5" y="640.8" font-size="4.8" fill="#333" text-anchor="middle" transform="rotate(-90 671.5 640.8)" >10</text>
<text x="671.5" y="650.8" font-size="4.8" fill="#333" text-anchor="middle" transform="rotate(-90 671.5 650.8)" >0</text>
<text x="666" y="599.7" font-size="4.8" fill="#333" text-anchor="middle" textLength="32.0" lengthAdjust="spacingAndGlyphs" transform="rotate(-90 666 599.7)" >−log<tspan font-size="3.4" dy="1">10</tspan><tspan dy="-1">(P-value)</tspan></text>
<text x="499.9" y="724" font-size="5.6" text-anchor="middle" textLength="42.8" lengthAdjust="spacingAndGlyphs" >Cell type-Axis</text>
<text x="11" y="742.3" font-size="13.2" fill="#111" font-weight="bold" >h</text>
<text x="67.2" y="748.1" font-size="9" text-anchor="middle" font-weight="bold" textLength="31.8" lengthAdjust="spacingAndGlyphs" >ITL23GL</text>
<rect x="34.5" y="756.2" width="69.3" height="66.4" fill="#fff" />
<path d="M79.4 764.5h0.9M86.2 812.2h0.9M79.3 769.2h0.9M82.7 813.0h0.9M82.7 813.9h0.9M93.7 775.7h0.9M77.6 818.4h0.9M76.4 759.6h0.9M91.4 797.7h0.9M63.3 759.4h0.9M62.7 759.0h0.9M75.2 820.6h0.9M92.9 774.4h0.9M90.7 776.5h0.9M38.6 770.6h0.9M78.8 763.8h0.9M90.6 813.4h0.9M62.1 759.9h0.9M84.1 769.6h0.9M97.8 789.4h0.9M85.5 808.9h0.9M81.6 763.8h0.9M81.6 769.0h0.9M91.4 810.8h0.9M85.0 809.0h0.9M77.3 819.4h0.9M65.0 758.6h0.9M83.6 770.0h0.9M94.5 796.6h0.9M96.6 793.8h0.9M90.8 783.9h0.9M99.1 793.3h0.9M87.7 771.3h0.9M83.4 773.4h0.9M98.9 789.0h0.9M86.7 766.2h0.9M86.7 768.8h0.9M85.9 817.3h0.9M74.5 760.8h0.9M63.1 759.7h0.9M69.0 759.9h0.9M76.7 768.3h0.9M39.1 778.0h0.9M90.9 809.7h0.9M90.0 810.5h0.9M92.3 811.1h0.9M40.8 758.8h0.9M92.0 807.3h0.9M84.0 815.6h0.9M65.7 759.3h0.9M88.3 809.3h0.9M41.1 777.3h0.9M92.3 772.1h0.9M80.1 765.9h0.9M95.3 775.0h0.9M87.2 772.2h0.9M98.1 801.1h0.9M93.8 787.9h0.9M94.8 791.4h0.9M80.5 765.5h0.9M84.2 814.6h0.9M99.3 788.8h0.9M96.4 798.0h0.9M85.9 764.3h0.9M88.4 774.1h0.9M63.6 761.7h0.9M39.4 775.3h0.9M75.6 760.1h0.9M88.3 803.2h0.9M93.9 789.3h0.9M67.1 762.3h0.9M92.7 789.2h0.9M85.3 811.2h0.9M96.6 787.9h0.9M79.0 767.7h0.9M80.5 817.8h0.9M80.5 768.9h0.9M93.5 799.4h0.9M40.7 775.8h0.9M40.4 773.3h0.9M96.4 804.9h0.9M88.6 779.4h0.9M40.9 764.0h0.9M79.9 764.2h0.9M93.2 786.5h0.9M80.4 820.2h0.9M80.5 764.9h0.9M76.3 764.1h0.9M39.0 772.9h0.9M96.1 784.3h0.9M90.9 797.2h0.9M88.4 809.9h0.9M66.7 759.5h0.9M39.3 771.4h0.9M96.3 790.2h0.9M89.5 778.9h0.9M82.2 771.8h0.9M89.3 813.6h0.9M87.2 809.5h0.9M80.6 769.7h0.9M94.6 784.0h0.9M95.7 792.0h0.9M40.5 762.9h0.9M92.5 806.7h0.9M96.7 801.9h0.9M90.5 769.0h0.9M75.8 818.6h0.9M92.4 811.4h0.9M86.1 806.6h0.9M73.7 764.4h0.9M98.9 786.7h0.9M70.6 760.2h0.9M68.3 758.7h0.9M93.4 797.5h0.9M92.6 799.0h0.9M93.8 800.8h0.9M93.2 771.7h0.9M83.3 814.6h0.9M94.9 790.1h0.9M75.6 763.8h0.9M85.9 806.3h0.9M91.3 810.2h0.9M72.3 763.7h0.9M39.9 763.4h0.9M73.6 759.0h0.9M83.5 770.3h0.9M62.9 758.9h0.9M95.1 778.3h0.9M88.7 814.6h0.9M75.0 761.4h0.9M94.7 797.7h0.9M91.2 784.9h0.9M40.1 762.1h0.9M85.1 811.2h0.9M38.9 771.7h0.9M87.0 812.7h0.9M88.0 808.0h0.9M97.1 783.2h0.9M78.1 766.1h0.9M63.5 758.6h0.9M89.5 806.8h0.9M95.0 802.7h0.9M75.2 766.2h0.9M84.8 807.8h0.9M83.1 816.3h0.9M64.9 761.7h0.9M89.9 810.6h0.9M92.1 772.0h0.9M91.0 809.7h0.9M42.7 775.0h0.9M91.4 810.8h0.9M82.2 816.7h0.9M98.1 797.2h0.9M90.7 791.0h0.9M89.8 767.0h0.9M93.3 779.3h0.9M97.7 801.8h0.9M84.1 817.0h0.9M39.3 770.1h0.9M95.0 805.9h0.9M74.9 760.7h0.9M85.1 769.1h0.9M91.2 788.4h0.9M70.9 761.2h0.9M83.1 817.8h0.9M72.9 765.2h0.9M41.7 767.3h0.9M96.4 795.3h0.9M38.0 767.4h0.9M95.6 795.9h0.9M92.4 777.8h0.9M86.9 766.3h0.9M42.9 765.0h0.9M38.7 780.1h0.9M42.1 773.6h0.9M74.3 761.9h0.9M85.0 771.1h0.9M88.0 775.5h0.9M66.7 761.6h0.9M90.1 782.8h0.9M39.3 769.6h0.9M91.3 800.4h0.9M75.6 762.5h0.9M93.6 809.9h0.9M77.3 761.0h0.9M95.3 783.9h0.9M96.1 799.2h0.9M42.9 775.3h0.9M93.4 787.0h0.9M93.4 801.9h0.9M85.8 811.5h0.9M93.4 780.0h0.9M66.2 763.3h0.9M92.9 802.5h0.9M79.6 769.7h0.9M80.5 764.6h0.9M89.4 812.8h0.9M41.2 758.8h0.9M77.4 760.2h0.9M88.1 813.5h0.9M75.7 760.4h0.9M39.7 762.6h0.9M77.6 761.7h0.9M95.8 805.0h0.9M41.8 764.8h0.9M79.9 765.5h0.9M95.3 786.4h0.9M95.6 779.3h0.9M38.7 773.3h0.9M94.5 779.1h0.9M40.2 777.0h0.9M62.5 761.4h0.9M91.9 790.4h0.9M71.1 761.7h0.9M80.8 767.5h0.9M86.3 807.7h0.9M42.7 765.4h0.9M71.9 761.3h0.9M87.5 804.5h0.9M85.6 774.4h0.9M93.9 775.7h0.9M77.5 819.8h0.9M40.7 761.3h0.9M99.6 791.4h0.9M84.3 812.8h0.9M96.0 776.6h0.9M94.5 786.8h0.9M38.1 761.7h0.9M83.4 770.1h0.9M95.4 792.6h0.9M92.2 777.1h0.9M96.5 804.4h0.9M39.7 766.5h0.9M70.2 759.5h0.9M38.5 773.2h0.9M88.3 770.0h0.9M86.7 770.4h0.9M41.3 770.2h0.9M90.6 789.5h0.9M85.0 772.2h0.9M95.3 791.9h0.9M87.4 778.2h0.9M73.5 765.4h0.9M88.0 813.3h0.9M42.4 769.4h0.9M92.7 782.9h0.9M41.1 775.5h0.9M77.9 761.0h0.9M97.0 800.3h0.9M91.7 797.5h0.9M90.8 801.5h0.9M93.9 779.1h0.9M73.9 764.1h0.9M98.1 793.6h0.9M42.9 769.1h0.9M89.4 772.8h0.9M81.5 815.4h0.9M65.1 759.4h0.9M98.6 783.4h0.9M94.9 795.4h0.9" stroke="#e8ece6" stroke-width="0.9"/>
<path d="M94.0 792.3h0.9M39.5 778.0h0.9M93.1 783.2h0.9M83.6 764.6h0.9M89.3 771.5h0.9M91.6 792.2h0.9M90.0 808.0h0.9M89.4 773.3h0.9M89.3 779.8h0.9M93.4 772.0h0.9M78.3 768.1h0.9M83.3 763.0h0.9M87.1 764.9h0.9M94.9 786.4h0.9M87.6 804.8h0.9M94.1 795.0h0.9M84.2 817.9h0.9M95.6 794.8h0.9M79.5 766.7h0.9M86.5 806.9h0.9M42.1 768.0h0.9M41.4 759.8h0.9M96.8 795.7h0.9M77.0 820.6h0.9M63.7 760.2h0.9M96.3 800.4h0.9M92.4 772.8h0.9M71.3 761.9h0.9M90.8 797.5h0.9M87.2 776.1h0.9M71.1 759.8h0.9M83.2 763.4h0.9M83.2 764.9h0.9M89.0 813.4h0.9M88.3 772.5h0.9M78.2 815.9h0.9M93.0 777.9h0.9M67.8 762.7h0.9M66.5 759.9h0.9M81.2 770.0h0.9" stroke="#b8d8c4" stroke-width="0.9"/>
<path d="M42.3 773.2h0.9M97.8 792.4h0.9M85.5 817.3h0.9M96.8 791.7h0.9M95.4 782.1h0.9M70.5 764.1h0.9M77.5 819.3h0.9M74.0 762.5h0.9M65.0 759.5h0.9M40.1 765.5h0.9M42.7 761.3h0.9M82.9 812.8h0.9M74.4 759.5h0.9M63.7 759.8h0.9M83.0 816.8h0.9M96.6 794.3h0.9M83.8 818.2h0.9M41.1 765.5h0.9M38.3 776.7h0.9M75.4 764.5h0.9M80.8 762.0h0.9M39.0 768.9h0.9M40.6 763.7h0.9M77.2 762.6h0.9M75.1 759.8h0.9M91.3 811.2h0.9M91.9 784.9h0.9M82.3 817.0h0.9" stroke="#3a8aa8" stroke-width="0.9"/>
<rect x="34.50" y="756.20" width="69.30" height="66.40" fill="none" stroke="#444" stroke-width="0.9"/>
<text x="44.9" y="795.7" font-size="3.6" fill="#333" text-anchor="middle" >Dorsal</text>
<line x1="44.90" y1="798.80" x2="44.90" y2="815.00" stroke="#333" stroke-width="0.6" />
<text x="44.9" y="818" font-size="3.6" fill="#333" text-anchor="middle" >Ventral</text>
<text x="67.7" y="829.9" font-size="9" fill="#444" text-anchor="middle" font-style="italic" textLength="9.4" lengthAdjust="spacingAndGlyphs" >Hlf</text>
<line x1="129.60" y1="784.50" x2="310.00" y2="784.50" stroke="#44474f" stroke-width="2.6" />
<rect x="146.40" y="778.5" width="10.10" height="24.1" fill="none" stroke="#d88098" stroke-width="0.8"/>
<rect x="148" y="780.7" width="6.8" height="7.8" fill="#6a4a9a" rx="1.6"/>
<rect x="179.00" y="778.5" width="10.00" height="24.1" fill="none" stroke="#d88098" stroke-width="0.8"/>
<rect x="180.6" y="780.7" width="6.8" height="7.8" fill="#4a8ab0" rx="1.6"/>
<rect x="294.20" y="778.5" width="10.00" height="24.1" fill="none" stroke="#d88098" stroke-width="0.8"/>
<rect x="295.8" y="780.7" width="6.8" height="7.8" fill="#c03a30" rx="1.6"/>
<rect x="238.4" y="780.8" width="22.2" height="7.7" fill="#555" rx="1.5"/>
<path d="M260.6,780.8 L260.6,776.8 L249.5,776.8" fill="none" stroke="#444" stroke-width="0.9" />
<path d="M251.5,775 L248.8,776.8 L251.5,778.6" fill="none" stroke="#444" stroke-width="0.9" />
<text x="249.2" y="795" font-size="7.5" fill="#333" text-anchor="middle" font-style="italic" textLength="9.4" lengthAdjust="spacingAndGlyphs" >Hlf</text>
<text x="152.1" y="772.8" font-size="6.6" text-anchor="middle" >+83</text>
<text x="184.5" y="772.8" font-size="6.6" text-anchor="middle" >+58</text>
<text x="299.4" y="772.8" font-size="6.6" text-anchor="middle" >-29</text>
<path d="M153.80,790.90 L153.80,793.60 L180.70,793.60 L180.70,790.90" fill="none" stroke="#444" stroke-width="0.7" />
<text x="169.5" y="799.6" font-size="5.4" fill="#333" text-anchor="middle" >25k</text>
<path d="M187.40,790.90 L187.40,793.60 L238.40,793.60 L238.40,790.90" fill="none" stroke="#444" stroke-width="0.7" />
<text x="212.5" y="799.6" font-size="5.4" fill="#333" text-anchor="middle" >58k</text>
<path d="M260.60,790.90 L260.60,793.60 L295.50,793.60 L295.50,790.90" fill="none" stroke="#444" stroke-width="0.7" />
<text x="280.7" y="799.6" font-size="5.4" fill="#333" text-anchor="middle" >29k</text>
<line x1="146.40" y1="802.60" x2="98.50" y2="841.30" stroke="#d88098" stroke-width="0.8" />
<line x1="156.50" y1="802.60" x2="166.30" y2="841.30" stroke="#d88098" stroke-width="0.8" />
<line x1="179.00" y1="802.60" x2="183.30" y2="841.30" stroke="#d88098" stroke-width="0.8" />
<line x1="189.00" y1="802.60" x2="251.00" y2="841.30" stroke="#d88098" stroke-width="0.8" />
<line x1="294.20" y1="802.60" x2="267.00" y2="841.30" stroke="#d88098" stroke-width="0.8" />
<line x1="304.20" y1="802.60" x2="333.50" y2="841.30" stroke="#d88098" stroke-width="0.8" />
<rect x="98.5" y="841.3" width="67.8" height="66.1" fill="#fff" />
<path d="M147.8 902.3h0.9M158.7 868.6h0.9M158.8 866.8h0.9M105.3 852.8h0.9M143.3 847.0h0.9M157.4 886.0h0.9M155.5 890.6h0.9M155.9 868.1h0.9M144.4 849.2h0.9M149.9 901.2h0.9M102.1 863.0h0.9M142.2 899.8h0.9M135.7 845.3h0.9M155.2 886.2h0.9M154.0 871.6h0.9M146.8 899.3h0.9M161.3 873.4h0.9M150.9 890.5h0.9M148.6 856.5h0.9M126.5 846.5h0.9M142.2 900.6h0.9M157.4 871.0h0.9M157.1 885.6h0.9M135.6 846.9h0.9M106.6 863.7h0.9M103.6 850.2h0.9M154.6 882.3h0.9M139.5 851.4h0.9M104.6 851.4h0.9M157.6 873.5h0.9M153.1 893.8h0.9M148.5 852.8h0.9M134.0 848.5h0.9M157.7 878.6h0.9M147.3 854.2h0.9M152.5 856.8h0.9M158.1 868.4h0.9M159.5 889.6h0.9M144.3 847.2h0.9M147.0 856.0h0.9M155.3 861.0h0.9M104.7 848.7h0.9M107.1 855.1h0.9M147.3 897.0h0.9M143.3 899.6h0.9M102.0 857.5h0.9M153.3 889.5h0.9M147.0 853.7h0.9M153.5 887.8h0.9M162.5 873.8h0.9M153.3 854.8h0.9M135.3 844.9h0.9M158.2 863.8h0.9M151.8 899.1h0.9M150.1 896.2h0.9M157.9 881.2h0.9M148.0 851.6h0.9M148.0 857.2h0.9M151.4 861.8h0.9M124.3 843.5h0.9M136.7 850.5h0.9M160.7 880.7h0.9M143.0 901.2h0.9M159.1 889.7h0.9M149.3 858.0h0.9M147.0 902.9h0.9M147.7 855.8h0.9M129.6 844.7h0.9M161.0 881.2h0.9M107.0 864.6h0.9M161.8 879.3h0.9M152.4 891.2h0.9M160.1 869.6h0.9M159.0 875.8h0.9M149.7 900.7h0.9M145.4 851.2h0.9M140.2 847.1h0.9M104.1 845.8h0.9M136.9 845.0h0.9M154.3 887.4h0.9M149.8 859.8h0.9M141.0 904.2h0.9M105.7 848.1h0.9M140.2 847.3h0.9M103.6 854.2h0.9M105.5 862.5h0.9M160.4 878.8h0.9M142.8 901.4h0.9M104.6 853.2h0.9M140.7 901.4h0.9M157.1 879.7h0.9M106.7 855.0h0.9M154.4 858.1h0.9M152.2 893.6h0.9M154.1 882.5h0.9M126.6 847.3h0.9M153.0 871.1h0.9M136.5 849.0h0.9M142.4 852.1h0.9M103.4 845.8h0.9M155.1 863.5h0.9M147.5 851.8h0.9M152.7 879.1h0.9M159.0 865.8h0.9M152.3 851.8h0.9M146.8 850.7h0.9M129.8 848.0h0.9M107.0 846.3h0.9M153.0 856.2h0.9M154.7 891.6h0.9M152.7 869.5h0.9M159.9 876.5h0.9M143.3 850.2h0.9M140.0 851.6h0.9M156.2 881.0h0.9M106.6 855.1h0.9M154.2 893.0h0.9M158.9 880.8h0.9M155.8 879.8h0.9M140.8 848.2h0.9M149.5 900.8h0.9M144.1 849.7h0.9M151.6 853.5h0.9M103.8 858.4h0.9M127.0 847.0h0.9M104.6 864.4h0.9M156.5 892.4h0.9M152.7 865.1h0.9M147.3 855.2h0.9M156.4 878.9h0.9M140.2 851.2h0.9M131.0 846.1h0.9M144.7 898.8h0.9M132.4 845.3h0.9M153.5 873.3h0.9M145.5 855.1h0.9M158.8 880.5h0.9M153.8 894.4h0.9M151.3 866.7h0.9M156.1 856.9h0.9M156.3 863.5h0.9M155.9 873.9h0.9M132.9 845.7h0.9M149.6 898.2h0.9M140.0 903.6h0.9M157.5 885.7h0.9M153.9 889.9h0.9M105.4 847.8h0.9M148.8 898.4h0.9M153.7 889.5h0.9M151.6 862.5h0.9M156.2 881.2h0.9M147.5 895.5h0.9M154.6 874.3h0.9M156.5 880.8h0.9M147.2 850.2h0.9M160.7 882.6h0.9M128.9 848.2h0.9M156.8 886.3h0.9M153.2 885.5h0.9M140.6 852.5h0.9M154.3 882.8h0.9M155.9 857.4h0.9M157.2 883.5h0.9M148.8 896.8h0.9M136.9 847.0h0.9M144.9 899.6h0.9M124.1 846.5h0.9M103.1 858.6h0.9M152.8 860.6h0.9M132.6 845.3h0.9M155.3 865.8h0.9M155.7 882.7h0.9M150.2 899.4h0.9M153.0 865.8h0.9M103.3 847.7h0.9M153.5 861.4h0.9M150.5 860.6h0.9M153.6 866.2h0.9M151.7 868.3h0.9M105.2 850.5h0.9M129.3 847.2h0.9M153.3 899.3h0.9M147.6 860.1h0.9M156.8 886.2h0.9M154.1 874.2h0.9M137.0 844.7h0.9M160.9 879.8h0.9M148.3 891.7h0.9M103.6 853.5h0.9M103.4 848.1h0.9M149.2 858.2h0.9M159.5 870.8h0.9M149.1 854.1h0.9M159.0 886.7h0.9M106.3 852.0h0.9M151.1 887.5h0.9M154.4 868.4h0.9M155.9 857.2h0.9M128.5 844.7h0.9M156.1 874.3h0.9M105.5 858.6h0.9M154.9 875.7h0.9M147.1 858.7h0.9M152.5 887.8h0.9M156.3 885.5h0.9M143.5 848.1h0.9M103.2 863.8h0.9M153.8 883.5h0.9M157.3 886.2h0.9M156.8 885.6h0.9M126.4 846.8h0.9M141.3 849.7h0.9M149.8 858.8h0.9M151.9 860.7h0.9M156.8 892.5h0.9M153.7 856.3h0.9M146.6 848.2h0.9M153.6 868.4h0.9M154.0 876.3h0.9M142.1 849.2h0.9M153.2 861.4h0.9M104.6 860.4h0.9M158.3 879.7h0.9M157.0 878.6h0.9M161.6 871.6h0.9M153.1 888.7h0.9M103.0 853.4h0.9M146.8 857.6h0.9M106.9 851.2h0.9M132.6 847.1h0.9M156.8 888.0h0.9M159.7 874.9h0.9M141.4 845.3h0.9M135.5 844.7h0.9M153.5 871.9h0.9M156.2 893.5h0.9M136.9 844.4h0.9M145.9 896.8h0.9M144.5 902.3h0.9M102.2 848.0h0.9M148.9 855.5h0.9M102.2 859.3h0.9M152.9 884.8h0.9M151.3 856.4h0.9M106.6 857.6h0.9M162.2 875.8h0.9M144.5 848.0h0.9M135.0 849.4h0.9M128.1 847.2h0.9M141.7 847.4h0.9M105.2 865.0h0.9M155.2 894.1h0.9M148.6 896.0h0.9M106.9 856.6h0.9M155.0 867.7h0.9M156.8 880.8h0.9M152.0 896.5h0.9M103.5 860.8h0.9M102.9 852.4h0.9M151.6 864.2h0.9M155.8 870.9h0.9M140.1 853.4h0.9M147.3 902.0h0.9M150.3 897.5h0.9M141.7 852.3h0.9M153.6 885.9h0.9M152.5 870.4h0.9M154.4 854.7h0.9M136.2 851.2h0.9M152.6 866.0h0.9M153.8 856.3h0.9M102.3 851.6h0.9M158.5 869.7h0.9M152.4 862.0h0.9M102.8 859.3h0.9M151.9 862.4h0.9M154.0 885.2h0.9M158.1 873.3h0.9M155.8 883.3h0.9M160.7 871.9h0.9M157.9 886.6h0.9M138.3 844.3h0.9M129.5 844.3h0.9M148.3 860.4h0.9M140.3 904.6h0.9M144.9 856.7h0.9M158.5 876.4h0.9M138.9 846.2h0.9M107.0 847.1h0.9M159.4 862.6h0.9M151.2 860.4h0.9M102.2 853.2h0.9M140.6 851.4h0.9M158.5 889.1h0.9M154.2 883.0h0.9M144.6 903.0h0.9M151.9 887.1h0.9M139.1 846.4h0.9M126.9 847.0h0.9" stroke="#ece8e8" stroke-width="0.9"/>
<path d="M149.7 856.2h0.9M106.8 862.6h0.9M152.3 889.6h0.9M147.2 854.9h0.9M152.4 891.7h0.9M157.7 889.5h0.9M145.6 900.3h0.9M105.1 865.1h0.9M149.5 855.8h0.9M146.6 851.5h0.9M144.5 851.2h0.9M155.3 886.2h0.9M149.3 852.9h0.9M151.3 899.0h0.9M155.8 875.6h0.9M157.3 876.0h0.9M103.0 856.8h0.9M131.3 847.1h0.9M156.9 879.1h0.9M156.4 889.1h0.9M127.6 845.0h0.9M140.2 844.7h0.9M160.9 883.0h0.9M132.6 846.3h0.9M106.8 849.3h0.9M151.5 893.7h0.9M131.5 846.9h0.9M157.9 874.4h0.9M151.4 866.5h0.9M140.0 901.9h0.9M156.0 872.0h0.9M151.2 893.9h0.9M106.3 860.9h0.9M160.1 868.7h0.9M152.5 887.6h0.9M152.2 884.4h0.9M150.9 898.3h0.9M146.7 899.9h0.9M155.1 892.1h0.9M136.0 845.3h0.9" stroke="#f0c0cc" stroke-width="0.9"/>
<path d="M142.3 900.3h0.9M147.3 896.7h0.9M148.4 892.5h0.9M151.9 893.8h0.9M157.0 887.6h0.9M151.6 889.5h0.9M153.3 898.4h0.9M104.0 846.8h0.9M146.1 902.2h0.9M144.9 902.4h0.9M151.9 891.3h0.9M154.0 895.0h0.9M139.4 902.9h0.9M141.0 902.3h0.9M106.4 856.2h0.9M142.2 900.5h0.9M104.2 862.3h0.9M153.2 886.0h0.9M104.9 848.0h0.9M145.6 900.3h0.9M146.7 895.1h0.9M143.7 902.6h0.9M152.6 896.7h0.9M153.5 888.7h0.9M146.1 901.6h0.9M106.8 857.1h0.9M148.6 898.4h0.9M153.7 890.9h0.9M152.0 894.7h0.9M103.6 856.3h0.9M143.7 900.7h0.9M140.6 903.7h0.9M154.3 889.9h0.9M153.3 884.8h0.9M103.3 862.6h0.9M106.8 860.7h0.9M155.5 889.9h0.9M153.5 893.9h0.9M157.5 887.1h0.9M151.0 894.7h0.9M147.4 897.3h0.9M154.8 888.6h0.9M156.3 892.8h0.9M156.5 893.5h0.9M142.9 903.6h0.9" stroke="#d84888" stroke-width="0.9"/>
<rect x="98.50" y="841.30" width="67.80" height="66.10" fill="none" stroke="#444" stroke-width="0.9"/>
<rect x="183.3" y="841.3" width="67.7" height="66.1" fill="#fff" />
<path d="M241.1 876.1h0.9M190.6 862.4h0.9M232.1 899.3h0.9M238.3 875.3h0.9M239.9 862.3h0.9M229.4 904.4h0.9M188.7 846.0h0.9M231.7 894.2h0.9M227.9 852.4h0.9M241.6 869.3h0.9M244.5 881.2h0.9M242.6 859.9h0.9M235.1 894.2h0.9M230.8 848.7h0.9M244.6 884.0h0.9M226.2 845.4h0.9M187.2 848.9h0.9M237.3 880.9h0.9M231.8 901.9h0.9M219.6 850.0h0.9M239.6 897.4h0.9M233.9 890.4h0.9M189.5 859.2h0.9M224.0 852.1h0.9M232.7 853.4h0.9M235.3 890.7h0.9M244.0 872.3h0.9M238.0 866.8h0.9M190.8 849.5h0.9M229.7 852.6h0.9M214.7 846.4h0.9M242.7 890.8h0.9M233.0 893.8h0.9M219.1 847.1h0.9M239.2 864.1h0.9M236.1 900.6h0.9M232.5 899.5h0.9M233.3 900.1h0.9M244.1 882.8h0.9M208.8 843.2h0.9M241.0 865.8h0.9M238.4 867.4h0.9M238.7 885.7h0.9M226.8 903.1h0.9M246.5 877.4h0.9M236.8 868.2h0.9M237.2 897.5h0.9M243.6 884.1h0.9M225.7 853.6h0.9M238.5 881.0h0.9M236.5 866.3h0.9M222.8 852.4h0.9M238.3 853.6h0.9M242.3 881.3h0.9M240.3 869.2h0.9M237.0 862.1h0.9M242.3 862.6h0.9M188.2 847.8h0.9M224.3 905.0h0.9M235.9 888.0h0.9M239.9 886.2h0.9M190.3 855.1h0.9M191.8 858.6h0.9M191.4 849.2h0.9M239.2 873.5h0.9M245.6 879.2h0.9M211.5 847.6h0.9M241.3 865.4h0.9M241.6 885.1h0.9M188.8 861.4h0.9M240.2 887.5h0.9M187.5 855.6h0.9M191.5 858.7h0.9M245.7 867.0h0.9M188.6 849.6h0.9M234.6 900.1h0.9M187.0 861.2h0.9M211.5 844.3h0.9M240.0 861.8h0.9M238.7 887.1h0.9M211.7 846.2h0.9M232.5 860.6h0.9M187.7 859.1h0.9M220.2 847.4h0.9M244.4 871.4h0.9M240.4 864.5h0.9M234.7 892.2h0.9M219.2 847.2h0.9M238.6 868.8h0.9M190.7 855.7h0.9M191.0 863.9h0.9M237.7 859.0h0.9M236.8 881.9h0.9M243.9 876.0h0.9M190.5 851.1h0.9M232.0 854.7h0.9M232.9 849.1h0.9M229.8 900.1h0.9M210.6 845.0h0.9M234.9 852.9h0.9M191.4 844.9h0.9M235.7 891.1h0.9M240.7 881.4h0.9M235.1 860.5h0.9M233.5 895.5h0.9M233.7 858.5h0.9M242.4 889.8h0.9M238.8 897.0h0.9M235.8 891.1h0.9M233.7 857.6h0.9M237.7 894.5h0.9M241.6 880.0h0.9M234.0 852.5h0.9M214.8 845.7h0.9M229.7 854.3h0.9M233.8 857.7h0.9M228.6 855.5h0.9M240.1 879.2h0.9M242.9 874.7h0.9M237.2 880.9h0.9M222.7 905.4h0.9M230.7 856.1h0.9M242.4 878.6h0.9M237.5 881.7h0.9M219.8 846.3h0.9M186.7 861.3h0.9M215.6 848.7h0.9M227.7 852.0h0.9M240.1 862.1h0.9M237.0 861.2h0.9M210.6 844.1h0.9M224.8 901.7h0.9M236.1 900.7h0.9M187.3 858.0h0.9M236.5 887.6h0.9M220.9 849.6h0.9M188.4 843.8h0.9M226.4 851.6h0.9M234.7 897.8h0.9M227.3 847.8h0.9M237.9 891.7h0.9M238.6 874.0h0.9M228.9 854.8h0.9M244.2 876.0h0.9M237.2 854.0h0.9M190.7 862.4h0.9M229.2 901.3h0.9M210.1 846.8h0.9M215.0 847.6h0.9M231.4 901.4h0.9M233.5 854.8h0.9M188.4 853.2h0.9M243.8 866.8h0.9M241.7 864.7h0.9M242.6 891.4h0.9M237.7 878.9h0.9M236.5 887.2h0.9M239.1 870.2h0.9M217.0 849.1h0.9M241.7 871.0h0.9M231.6 902.9h0.9M237.8 858.6h0.9M243.5 879.7h0.9M243.1 868.7h0.9M230.2 897.2h0.9M232.6 894.3h0.9M235.8 863.6h0.9M226.6 848.5h0.9M229.6 897.3h0.9M241.2 859.7h0.9M215.9 848.9h0.9M187.1 845.7h0.9M241.5 885.4h0.9M238.5 889.7h0.9M237.3 889.1h0.9M224.8 901.9h0.9M240.1 869.1h0.9M229.5 847.2h0.9M241.2 889.4h0.9M241.7 884.3h0.9M189.0 862.4h0.9M222.9 845.9h0.9M237.5 853.3h0.9M214.9 845.1h0.9M230.8 901.5h0.9M227.1 848.6h0.9M246.6 876.7h0.9M233.8 898.0h0.9M225.9 854.3h0.9M186.7 853.9h0.9M228.9 898.9h0.9M233.9 897.0h0.9M210.8 845.6h0.9M191.0 845.0h0.9M244.3 879.0h0.9M235.9 887.7h0.9M238.0 893.6h0.9M240.5 873.9h0.9M188.7 850.7h0.9M238.2 897.2h0.9M236.1 887.3h0.9M231.6 899.7h0.9M238.0 890.3h0.9M239.7 889.5h0.9M230.4 903.5h0.9M218.0 844.3h0.9M227.3 850.2h0.9M191.2 863.3h0.9M232.4 901.2h0.9M226.3 902.7h0.9M225.6 849.2h0.9M191.8 858.5h0.9M243.8 884.0h0.9M188.0 849.4h0.9M230.3 899.4h0.9M226.3 848.9h0.9M234.4 899.8h0.9M191.8 862.2h0.9M238.2 857.6h0.9M241.5 877.3h0.9" stroke="#f4e2e6" stroke-width="0.9"/>
<path d="M220.0 846.1h0.9M229.2 901.1h0.9M209.3 845.6h0.9M242.6 863.4h0.9M230.8 855.5h0.9M239.9 887.5h0.9M190.1 859.6h0.9M236.9 882.5h0.9M241.5 859.6h0.9M239.4 872.6h0.9M213.2 847.4h0.9M235.0 861.3h0.9M212.4 847.6h0.9M242.4 870.5h0.9M233.8 849.8h0.9M246.3 869.9h0.9M232.1 857.3h0.9M240.2 885.2h0.9M232.3 901.1h0.9M236.3 888.2h0.9M233.1 898.3h0.9M212.7 847.3h0.9M234.5 891.9h0.9M229.7 852.1h0.9M226.9 850.1h0.9M235.1 898.4h0.9M229.6 899.1h0.9M189.3 845.8h0.9M230.3 902.0h0.9M229.4 848.3h0.9M238.3 896.2h0.9M214.7 844.2h0.9M230.2 852.6h0.9M239.4 886.3h0.9M230.3 902.6h0.9M225.3 903.5h0.9M239.3 884.4h0.9M245.3 868.1h0.9M190.3 845.2h0.9M244.1 884.7h0.9M189.6 850.6h0.9M241.9 881.4h0.9M187.8 844.9h0.9M239.8 863.6h0.9M241.1 874.4h0.9M242.0 879.3h0.9M225.6 850.7h0.9M214.8 844.8h0.9M233.5 899.1h0.9M240.2 896.5h0.9M229.9 903.6h0.9M237.5 871.2h0.9M243.5 879.5h0.9M228.9 899.4h0.9M234.4 860.4h0.9M243.2 873.7h0.9M189.3 849.8h0.9M226.9 853.4h0.9M230.5 856.2h0.9M239.3 880.2h0.9M238.9 875.6h0.9M233.5 861.9h0.9M237.5 871.9h0.9M189.7 853.4h0.9M235.2 898.0h0.9M218.0 846.0h0.9M238.1 868.0h0.9M208.8 845.2h0.9M239.5 895.7h0.9M237.6 863.5h0.9M241.5 864.5h0.9M221.5 847.1h0.9M222.2 849.9h0.9M236.3 851.7h0.9M240.0 873.8h0.9M232.1 858.2h0.9M236.7 888.9h0.9M239.5 889.3h0.9M242.2 862.5h0.9M237.6 898.2h0.9" stroke="#eca0b8" stroke-width="0.9"/>
<path d="M234.2 852.3h0.9M234.1 856.0h0.9M236.8 862.0h0.9M240.2 879.8h0.9M240.2 859.6h0.9M238.8 866.0h0.9M229.5 854.5h0.9M243.8 862.9h0.9M237.7 853.6h0.9M244.7 874.9h0.9M242.6 877.5h0.9M245.9 872.0h0.9M232.0 851.4h0.9M235.3 864.0h0.9M237.6 854.8h0.9M231.2 902.7h0.9M241.6 879.2h0.9M239.3 857.9h0.9M229.0 853.1h0.9M233.4 858.8h0.9M234.1 854.8h0.9M243.6 877.3h0.9M238.6 898.4h0.9M226.7 901.9h0.9M233.2 850.0h0.9M242.3 872.4h0.9M245.7 876.9h0.9M236.7 866.2h0.9M244.7 884.7h0.9M236.8 858.4h0.9M225.9 905.4h0.9M230.9 896.2h0.9M245.9 879.1h0.9M231.1 896.6h0.9M243.3 866.9h0.9M230.1 850.3h0.9M244.2 879.4h0.9M228.5 849.2h0.9M226.2 901.9h0.9M237.7 897.9h0.9M245.6 867.4h0.9M241.0 889.3h0.9M237.7 870.2h0.9M244.8 885.3h0.9M230.6 903.5h0.9M234.5 858.1h0.9M244.7 862.9h0.9M235.2 854.5h0.9M241.5 863.3h0.9M245.8 878.5h0.9" stroke="#d83070" stroke-width="0.9"/>
<rect x="183.30" y="841.30" width="67.70" height="66.10" fill="none" stroke="#444" stroke-width="0.9"/>
<rect x="267" y="841.3" width="66.5" height="66.1" fill="#fff" />
<path d="M272.3 846.9h0.9M273.0 852.5h0.9M322.8 856.8h0.9M318.9 893.2h0.9M321.0 876.2h0.9M320.3 867.5h0.9M317.8 890.0h0.9M308.3 902.5h0.9M326.0 874.7h0.9M313.5 849.5h0.9M320.9 887.0h0.9M294.7 844.9h0.9M313.0 850.6h0.9M326.1 868.2h0.9M323.8 864.9h0.9M315.0 855.7h0.9M325.8 863.8h0.9M326.5 869.2h0.9M317.9 861.8h0.9M326.6 867.0h0.9M314.3 900.7h0.9M326.0 880.2h0.9M326.5 861.6h0.9M271.1 850.4h0.9M320.9 874.6h0.9M318.8 863.4h0.9M318.1 854.7h0.9M273.7 845.1h0.9M321.1 856.2h0.9M320.0 884.2h0.9M319.6 891.7h0.9M274.7 845.2h0.9M321.5 874.6h0.9M320.3 891.7h0.9M317.9 900.5h0.9M322.4 858.6h0.9M301.5 849.1h0.9M271.9 860.9h0.9M314.3 899.0h0.9M319.0 891.3h0.9M303.4 845.0h0.9M307.8 904.0h0.9M273.8 857.6h0.9M322.0 882.2h0.9M321.1 882.7h0.9M311.3 903.7h0.9M271.4 853.0h0.9M309.8 852.8h0.9M307.3 847.1h0.9M271.5 848.1h0.9M327.0 866.6h0.9M322.9 881.2h0.9M316.1 891.1h0.9M318.9 860.2h0.9M272.1 852.7h0.9M322.4 857.3h0.9M324.4 867.1h0.9M319.0 895.7h0.9M310.0 851.0h0.9M325.1 865.3h0.9M315.0 853.6h0.9M293.0 844.0h0.9M314.8 853.5h0.9M320.3 861.7h0.9M271.5 854.7h0.9M302.5 846.2h0.9M327.2 876.5h0.9M324.0 894.2h0.9M311.8 847.5h0.9M270.5 855.5h0.9M316.9 855.5h0.9M327.5 872.0h0.9M324.2 871.5h0.9M314.6 856.5h0.9M325.1 891.9h0.9M310.3 899.6h0.9M319.3 854.4h0.9M326.9 886.4h0.9M318.8 856.9h0.9M300.2 847.4h0.9M310.9 901.1h0.9M312.1 900.4h0.9M323.8 860.0h0.9M324.1 877.1h0.9M306.2 849.8h0.9M325.7 873.7h0.9M274.9 857.7h0.9M325.1 890.7h0.9M323.0 857.3h0.9M275.0 864.6h0.9M321.4 855.8h0.9M271.4 854.7h0.9M325.1 872.8h0.9M296.1 844.4h0.9M322.0 890.4h0.9M304.5 846.0h0.9M317.0 859.1h0.9M326.2 877.4h0.9M319.0 887.8h0.9M322.6 860.9h0.9M304.9 846.5h0.9M322.1 876.2h0.9M322.7 867.8h0.9M318.6 859.5h0.9M273.8 856.8h0.9M324.2 870.0h0.9M295.6 844.3h0.9M327.5 885.6h0.9M320.7 891.6h0.9M316.8 852.6h0.9M316.0 849.6h0.9M317.9 897.3h0.9M328.3 870.3h0.9M326.5 864.3h0.9M296.2 846.4h0.9M271.7 846.2h0.9M320.7 865.9h0.9M271.0 845.0h0.9M311.4 850.4h0.9M325.1 883.7h0.9M299.9 845.1h0.9M329.2 879.0h0.9M320.2 852.3h0.9M327.2 875.9h0.9M270.8 855.2h0.9M305.4 846.3h0.9M320.7 897.3h0.9M313.0 897.6h0.9M328.7 871.7h0.9M306.7 905.5h0.9M314.4 900.5h0.9M324.8 873.3h0.9M274.8 852.3h0.9M307.8 904.2h0.9M306.5 849.4h0.9M317.9 863.2h0.9M271.1 859.7h0.9M272.3 851.0h0.9M315.1 897.1h0.9M327.6 869.4h0.9M327.5 874.3h0.9M303.6 849.3h0.9M308.4 905.4h0.9M274.9 863.3h0.9M316.6 860.5h0.9M303.6 844.2h0.9M319.0 890.3h0.9M308.5 846.4h0.9M307.8 852.1h0.9M294.9 847.4h0.9M328.1 869.6h0.9M292.1 846.1h0.9M318.2 888.5h0.9M316.0 852.0h0.9M325.3 890.4h0.9M328.3 872.3h0.9M327.9 880.1h0.9M327.1 865.6h0.9M325.2 865.2h0.9M318.5 855.0h0.9M320.6 859.5h0.9M272.9 845.1h0.9M324.6 892.6h0.9M327.8 885.9h0.9M319.7 860.5h0.9M325.7 863.3h0.9M324.9 885.4h0.9M305.7 845.0h0.9M311.4 849.1h0.9M323.4 878.7h0.9M311.1 899.2h0.9M311.9 852.0h0.9M318.7 899.7h0.9M317.9 862.5h0.9M274.5 857.4h0.9M322.9 878.3h0.9M272.7 849.7h0.9M320.9 858.1h0.9M325.8 867.3h0.9M320.3 894.6h0.9M323.3 892.0h0.9M325.4 884.3h0.9M314.6 899.6h0.9M321.4 860.4h0.9M314.5 896.7h0.9M305.5 851.2h0.9M322.0 868.9h0.9M309.1 903.9h0.9M326.6 865.5h0.9M307.8 847.8h0.9M271.9 862.3h0.9M320.3 888.4h0.9M328.2 870.9h0.9M298.7 846.0h0.9M318.4 894.4h0.9M305.1 851.1h0.9M270.4 864.9h0.9M319.4 862.3h0.9M312.9 855.5h0.9M323.2 858.4h0.9M312.4 855.1h0.9M323.7 861.8h0.9M293.6 845.8h0.9M316.9 894.2h0.9M322.3 868.6h0.9M323.9 871.1h0.9M302.9 845.9h0.9M328.9 873.1h0.9M272.1 848.2h0.9M301.0 848.7h0.9M321.0 892.1h0.9M319.0 887.7h0.9M321.1 860.7h0.9M319.6 860.9h0.9M326.1 875.6h0.9M326.1 866.5h0.9M295.4 844.7h0.9M272.6 852.2h0.9M326.2 874.1h0.9M318.9 892.4h0.9M323.9 885.6h0.9M271.3 865.0h0.9M322.5 887.7h0.9M274.7 847.6h0.9M270.6 863.3h0.9M326.8 874.5h0.9M320.3 868.3h0.9M308.2 849.0h0.9M272.3 864.0h0.9M306.1 847.8h0.9" stroke="#f4e2e6" stroke-width="0.9"/>
<path d="M327.2 874.9h0.9M325.1 880.5h0.9M325.4 885.3h0.9M310.1 853.7h0.9M326.6 869.1h0.9M312.5 848.7h0.9M325.0 880.3h0.9M274.0 862.1h0.9M294.1 844.6h0.9M322.5 858.9h0.9M322.5 856.3h0.9M298.6 848.7h0.9M317.1 853.2h0.9M314.1 901.6h0.9M273.8 844.7h0.9M327.8 877.9h0.9M317.4 863.5h0.9M313.3 849.0h0.9M324.2 858.0h0.9M321.0 856.9h0.9M324.1 893.8h0.9M323.0 882.7h0.9M273.4 860.9h0.9M326.8 883.8h0.9M321.9 855.8h0.9M320.8 882.7h0.9M270.6 851.2h0.9M271.0 850.3h0.9M271.8 850.9h0.9M324.9 869.9h0.9M321.2 879.7h0.9M324.3 864.8h0.9M308.7 904.0h0.9M320.6 858.2h0.9M322.2 892.0h0.9M323.6 877.1h0.9M320.6 868.5h0.9M316.7 893.0h0.9M325.6 887.9h0.9M315.8 860.8h0.9M316.4 898.2h0.9M314.1 895.9h0.9M323.8 869.1h0.9M321.3 863.9h0.9M307.3 851.0h0.9M302.6 844.9h0.9M313.3 853.4h0.9M314.3 902.6h0.9M300.0 844.7h0.9M319.9 856.3h0.9M314.2 853.2h0.9M326.3 867.7h0.9M312.8 850.1h0.9M318.2 899.2h0.9M311.3 852.8h0.9M309.5 851.6h0.9M324.3 873.7h0.9M311.4 898.8h0.9M318.6 855.7h0.9M325.8 883.9h0.9M313.7 857.7h0.9M321.0 857.3h0.9M298.2 845.2h0.9M318.3 888.4h0.9M319.8 852.7h0.9M324.2 865.3h0.9M328.5 879.6h0.9M272.6 853.6h0.9M325.2 881.3h0.9M319.4 893.8h0.9M316.9 891.6h0.9M326.3 883.9h0.9M270.8 862.9h0.9M310.8 847.7h0.9M325.0 892.3h0.9M273.6 854.7h0.9M273.9 850.3h0.9M323.5 888.7h0.9M319.6 898.6h0.9M308.2 848.0h0.9" stroke="#eca0b8" stroke-width="0.9"/>
<path d="M325.0 884.3h0.9M311.2 851.1h0.9M322.5 872.8h0.9M323.1 879.0h0.9M327.5 880.7h0.9M306.2 846.5h0.9M327.1 881.8h0.9M315.4 852.2h0.9M324.8 876.0h0.9M315.7 857.2h0.9M320.3 867.5h0.9M325.9 877.2h0.9M313.3 849.0h0.9M324.2 882.6h0.9M309.9 845.6h0.9M317.2 853.0h0.9M322.5 864.3h0.9M322.3 876.8h0.9M314.0 849.0h0.9M318.8 855.7h0.9M317.8 854.1h0.9M326.8 867.6h0.9M323.5 877.6h0.9M328.6 868.8h0.9M327.6 865.2h0.9M311.8 854.6h0.9M323.7 867.3h0.9M319.7 854.3h0.9M327.5 883.0h0.9M322.5 895.1h0.9M309.7 849.7h0.9M323.0 892.7h0.9M326.5 874.4h0.9M326.8 871.4h0.9M318.5 854.4h0.9M321.0 859.8h0.9M323.9 876.8h0.9M323.8 892.5h0.9M304.7 847.9h0.9M322.6 883.2h0.9M313.9 857.9h0.9M313.3 855.8h0.9M315.1 848.5h0.9M325.8 867.1h0.9M322.9 888.8h0.9M325.1 887.4h0.9M322.3 888.0h0.9M322.7 863.1h0.9M320.8 863.3h0.9M319.1 851.9h0.9" stroke="#d83070" stroke-width="0.9"/>
<rect x="267.00" y="841.30" width="66.50" height="66.10" fill="none" stroke="#444" stroke-width="0.9"/>
<text x="104.5" y="895.8" font-size="3.6" fill="#444" >R = 0.47</text>
<text x="104.5" y="900.3" font-size="3.6" fill="#444" >P < 2.2e-16</text>
<text x="189.3" y="895.8" font-size="3.6" fill="#444" >R = 0.23</text>
<text x="189.3" y="900.3" font-size="3.6" fill="#444" >P = 7e-11</text>
<text x="273" y="895.8" font-size="3.6" fill="#444" >R = -0.44</text>
<text x="273" y="900.3" font-size="3.6" fill="#444" >P < 2.2e-16</text>
<text x="132.2" y="912.8" font-size="7" text-anchor="middle" textLength="71.5" lengthAdjust="spacingAndGlyphs" >chr11:90306733~90307483</text>
<text x="216.5" y="912.8" font-size="7" text-anchor="middle" textLength="71.5" lengthAdjust="spacingAndGlyphs" >chr11:90332212~90333357</text>
<text x="300.5" y="912.8" font-size="7" text-anchor="middle" textLength="71.5" lengthAdjust="spacingAndGlyphs" >chr11:90419481~90420477</text>
<text x="160" y="932.4" font-size="7" text-anchor="middle" textLength="82.0" lengthAdjust="spacingAndGlyphs" >denoised gene expression</text>
<rect x="141.4" y="938.4" width="35.8" height="7.4" fill="url(#gteal)" />
<text x="145" y="950.5" font-size="7" text-anchor="middle" >0</text>
<text x="173.7" y="950.5" font-size="7" text-anchor="middle" >1</text>
<text x="257.8" y="932.4" font-size="7" text-anchor="middle" textLength="67.0" lengthAdjust="spacingAndGlyphs" >denoised accessibility</text>
<rect x="239.7" y="938.4" width="34.3" height="7.4" fill="url(#gpink)" />
<text x="242.2" y="950.5" font-size="7" text-anchor="middle" >0</text>
<text x="271.1" y="950.5" font-size="7" text-anchor="middle" >1</text>
<text x="346" y="742.7" font-size="13.2" fill="#111" font-weight="bold" >i</text>
<text x="399.9" y="748.2" font-size="9" text-anchor="middle" font-weight="bold" textLength="21.7" lengthAdjust="spacingAndGlyphs" >CTGL</text>
<rect x="365" y="756.3" width="69.2" height="66.2" fill="#fff" />
<path d="M429.3 798.4h0.9M423.6 791.8h0.9M394.5 772.4h0.9M418.9 786.5h0.9M413.8 777.4h0.9M394.1 775.4h0.9M376.9 762.2h0.9M385.6 770.8h0.9M382.5 769.5h0.9M405.1 771.4h0.9M425.4 794.9h0.9M389.9 767.3h0.9M384.6 773.3h0.9M395.2 773.1h0.9M386.0 774.2h0.9M411.9 780.8h0.9M395.5 766.4h0.9M382.3 768.0h0.9M404.9 774.5h0.9M425.2 801.3h0.9M424.6 814.5h0.9M388.5 765.6h0.9M417.8 785.8h0.9M371.5 766.7h0.9M417.0 787.7h0.9M428.3 796.2h0.9M385.8 764.8h0.9M421.1 814.2h0.9M428.7 800.0h0.9M375.5 764.1h0.9M426.1 793.7h0.9M387.1 774.9h0.9M427.3 811.9h0.9M376.3 778.6h0.9M409.0 776.4h0.9M429.8 804.1h0.9M418.3 785.1h0.9M382.7 771.7h0.9M385.5 761.2h0.9M381.5 764.5h0.9M396.1 765.9h0.9M420.3 788.0h0.9M377.0 765.4h0.9M415.0 779.3h0.9M407.0 778.3h0.9M407.6 779.1h0.9M409.5 780.0h0.9M418.4 788.9h0.9M374.2 760.8h0.9M399.6 778.7h0.9M408.0 773.7h0.9M422.5 810.5h0.9M427.8 806.3h0.9M402.8 769.6h0.9M422.7 810.1h0.9M391.1 767.7h0.9M428.8 809.0h0.9M389.1 774.0h0.9M396.7 777.4h0.9M390.2 763.7h0.9M392.1 763.6h0.9M382.3 760.9h0.9M422.7 784.8h0.9M419.7 782.8h0.9M384.6 773.9h0.9M397.0 771.8h0.9M371.7 769.6h0.9M400.6 773.7h0.9M394.1 769.2h0.9M419.2 787.1h0.9M374.2 769.0h0.9M423.1 794.1h0.9M391.7 773.2h0.9M424.4 802.9h0.9M377.1 762.4h0.9M377.4 777.0h0.9M370.2 774.8h0.9M405.1 774.3h0.9M425.1 803.4h0.9M383.4 773.4h0.9M391.6 767.5h0.9M393.1 777.3h0.9M407.6 773.7h0.9M386.2 770.9h0.9M411.2 782.9h0.9M423.0 815.3h0.9M394.9 766.9h0.9M379.8 768.1h0.9M407.2 775.6h0.9M410.9 775.5h0.9M405.5 776.2h0.9M402.7 769.9h0.9M419.8 781.7h0.9M386.1 760.4h0.9M382.5 764.7h0.9M375.6 771.9h0.9M418.4 782.3h0.9M426.0 808.1h0.9M423.8 799.3h0.9M406.6 775.9h0.9M420.5 792.1h0.9M373.7 778.8h0.9M421.9 784.4h0.9M424.1 804.2h0.9M428.7 795.7h0.9M399.1 771.8h0.9M383.8 777.6h0.9M381.3 769.9h0.9M372.1 768.9h0.9M425.8 808.5h0.9M395.3 769.9h0.9M416.2 783.2h0.9M427.8 796.9h0.9M383.3 772.2h0.9M427.1 812.9h0.9M385.9 762.7h0.9M393.3 768.0h0.9M369.8 777.6h0.9M387.9 775.5h0.9M390.5 765.0h0.9M378.1 765.0h0.9M372.0 768.1h0.9M371.0 766.4h0.9M400.6 771.8h0.9M427.7 802.9h0.9M371.3 768.5h0.9M390.3 765.2h0.9M399.7 777.5h0.9M383.1 776.9h0.9M413.0 776.2h0.9M426.3 790.3h0.9M372.7 778.8h0.9M426.9 806.4h0.9M427.2 805.7h0.9M428.1 809.0h0.9M393.0 766.6h0.9M425.1 803.6h0.9M405.9 778.5h0.9M372.7 768.2h0.9M397.1 775.6h0.9M401.3 772.2h0.9M373.3 766.0h0.9M427.3 801.2h0.9M398.3 769.1h0.9M384.9 769.6h0.9M418.8 789.2h0.9M384.0 776.7h0.9M422.1 799.0h0.9M404.5 776.4h0.9M414.4 778.3h0.9M427.6 798.2h0.9M382.4 763.3h0.9M375.3 777.0h0.9M401.8 768.3h0.9M385.5 764.1h0.9M373.5 763.8h0.9M422.6 792.5h0.9M371.8 764.8h0.9M401.6 778.8h0.9M406.1 776.9h0.9M390.3 777.3h0.9M408.7 778.3h0.9M378.6 760.2h0.9M412.9 780.4h0.9M370.4 771.9h0.9M376.8 776.9h0.9M404.1 774.6h0.9M385.0 767.1h0.9M377.1 773.4h0.9M381.2 766.6h0.9M378.6 778.4h0.9M427.3 802.2h0.9M424.9 788.7h0.9M382.2 770.6h0.9M424.1 793.4h0.9M385.7 769.7h0.9M375.3 767.0h0.9M426.3 792.5h0.9M424.8 803.0h0.9M398.0 769.7h0.9M389.2 772.9h0.9M392.2 777.3h0.9M393.2 768.5h0.9M380.4 765.3h0.9M393.0 766.6h0.9M383.2 765.7h0.9M384.9 765.6h0.9M395.3 766.8h0.9M420.7 787.7h0.9M426.6 792.8h0.9M425.0 814.4h0.9M401.7 772.2h0.9M406.0 776.0h0.9M427.5 803.0h0.9M378.6 776.1h0.9M394.7 774.0h0.9M399.8 775.8h0.9M428.5 811.2h0.9M374.0 766.2h0.9M404.8 770.2h0.9M370.2 773.7h0.9M403.1 770.6h0.9M400.3 773.6h0.9M400.1 771.8h0.9M422.9 787.9h0.9M387.4 775.0h0.9M425.1 816.3h0.9M393.2 768.9h0.9M389.8 765.5h0.9M382.1 768.8h0.9M381.7 778.2h0.9M370.6 777.6h0.9M416.3 781.5h0.9M424.7 807.0h0.9M384.4 767.8h0.9M374.7 762.9h0.9M370.4 774.7h0.9M391.8 773.4h0.9M380.6 762.4h0.9M403.9 773.0h0.9M414.8 784.7h0.9M381.3 774.7h0.9M400.1 772.2h0.9M390.2 777.5h0.9M384.3 769.7h0.9M384.1 771.6h0.9M375.6 765.9h0.9M374.9 761.3h0.9M381.2 773.6h0.9M399.5 778.5h0.9M410.8 774.1h0.9M400.3 769.5h0.9M382.8 774.2h0.9M415.4 778.1h0.9M422.6 798.5h0.9M404.2 770.8h0.9M385.9 764.9h0.9M383.3 765.9h0.9M387.6 765.9h0.9M389.5 770.5h0.9" stroke="#e6ede4" stroke-width="0.9"/>
<path d="M372.6 770.6h0.9M375.7 773.6h0.9M422.9 810.5h0.9M420.3 783.8h0.9M386.6 775.8h0.9M405.7 777.2h0.9M392.3 775.3h0.9M414.3 777.4h0.9M399.0 772.6h0.9M384.1 775.9h0.9M396.4 765.9h0.9M416.9 782.4h0.9M425.3 791.9h0.9M380.9 774.9h0.9M428.8 807.2h0.9M372.5 766.7h0.9M400.7 768.7h0.9M389.5 774.0h0.9M404.7 773.2h0.9M376.1 774.0h0.9M380.4 774.8h0.9M379.3 777.9h0.9M373.9 770.6h0.9M429.5 809.0h0.9M408.9 774.5h0.9M380.8 772.9h0.9M384.9 775.3h0.9M383.5 764.3h0.9M375.2 764.0h0.9M378.2 763.3h0.9M422.6 788.4h0.9M374.6 769.8h0.9M427.8 799.2h0.9M397.7 770.8h0.9M370.1 775.4h0.9M389.5 769.6h0.9M429.2 808.1h0.9M374.9 760.7h0.9M381.7 762.9h0.9M381.3 771.6h0.9M374.3 769.6h0.9M427.5 809.7h0.9M404.7 774.5h0.9M392.3 764.1h0.9M389.5 773.2h0.9M391.7 768.4h0.9M416.2 786.6h0.9M428.0 801.9h0.9M422.6 808.5h0.9M406.3 777.4h0.9M378.1 772.6h0.9M415.6 785.1h0.9M372.1 760.2h0.9M379.9 778.6h0.9M419.7 781.9h0.9M401.3 776.2h0.9M379.4 778.0h0.9M370.2 768.3h0.9M424.2 812.5h0.9M417.2 779.1h0.9" stroke="#b0d8c0" stroke-width="0.9"/>
<path d="M422.1 783.5h0.9M372.2 770.0h0.9M384.6 773.3h0.9M428.9 808.5h0.9M381.1 769.0h0.9M423.9 807.5h0.9M381.1 773.3h0.9M383.4 773.8h0.9M383.4 776.6h0.9M380.4 773.2h0.9M392.4 771.3h0.9M386.1 771.4h0.9M427.8 803.2h0.9M377.7 767.1h0.9M377.7 768.5h0.9M379.4 769.7h0.9M379.0 777.1h0.9M424.0 789.5h0.9M393.2 765.9h0.9M392.5 769.3h0.9M421.6 811.3h0.9M427.0 807.1h0.9M376.8 778.2h0.9M378.3 764.0h0.9M378.4 773.1h0.9M394.1 772.1h0.9M423.8 786.9h0.9M379.7 775.4h0.9" stroke="#2a7aa8" stroke-width="0.9"/>
<rect x="365.00" y="756.30" width="69.20" height="66.20" fill="none" stroke="#444" stroke-width="0.9"/>
<text x="374.5" y="809.3" font-size="3.6" fill="#333" textLength="8.5" lengthAdjust="spacingAndGlyphs" >Deep</text>
<line x1="385.50" y1="809.30" x2="394.50" y2="809.30" stroke="#333" stroke-width="0.6" />
<text x="396.5" y="809.3" font-size="3.6" fill="#333" textLength="16.0" lengthAdjust="spacingAndGlyphs" >Superficial</text>
<text x="399.9" y="830" font-size="9" fill="#444" text-anchor="middle" font-style="italic" textLength="22.7" lengthAdjust="spacingAndGlyphs" >Bean1</text>
<line x1="456.80" y1="783.80" x2="636.00" y2="783.80" stroke="#44474f" stroke-width="2.6" />
<rect x="473.40" y="777" width="11.60" height="26" fill="none" stroke="#d88098" stroke-width="0.8"/>
<rect x="475.6" y="779.2" width="7.2" height="7.8" fill="#f0962a" rx="1.6"/>
<rect x="567.60" y="777" width="11.60" height="26" fill="none" stroke="#d88098" stroke-width="0.8"/>
<rect x="569.8" y="779.2" width="7.2" height="7.8" fill="#b0206a" rx="1.6"/>
<rect x="621.00" y="777" width="11.00" height="26" fill="none" stroke="#d88098" stroke-width="0.8"/>
<rect x="622.9" y="779.2" width="7.2" height="7.8" fill="#2a7ac0" rx="1.6"/>
<rect x="503.6" y="779" width="22.7" height="9" fill="#555" rx="1.5"/>
<path d="M506,779 L506,774.5 L516.5,774.5" fill="none" stroke="#444" stroke-width="0.9" />
<path d="M514.5,772.7 L517.2,774.5 L514.5,776.3" fill="none" stroke="#444" stroke-width="0.9" />
<text x="514.3" y="795.5" font-size="7.5" fill="#333" text-anchor="middle" font-style="italic" textLength="19.0" lengthAdjust="spacingAndGlyphs" >Bean1</text>
<text x="479.7" y="771.4" font-size="6.6" text-anchor="middle" >-6</text>
<text x="574.2" y="771.4" font-size="6.6" text-anchor="middle" >+50</text>
<text x="626.8" y="771.4" font-size="6.6" text-anchor="middle" >+91</text>
<path d="M485.00,790.30 L485.00,793.00 L503.60,793.00 L503.60,790.30" fill="none" stroke="#444" stroke-width="0.7" />
<text x="491.6" y="799" font-size="5.4" fill="#333" text-anchor="middle" >6k</text>
<path d="M526.30,790.30 L526.30,793.00 L567.60,793.00 L567.60,790.30" fill="none" stroke="#444" stroke-width="0.7" />
<text x="547" y="799" font-size="5.4" fill="#333" text-anchor="middle" >50k</text>
<path d="M579.20,790.30 L579.20,793.00 L621.00,793.00 L621.00,790.30" fill="none" stroke="#444" stroke-width="0.7" />
<text x="600" y="799" font-size="5.4" fill="#333" text-anchor="middle" >41k</text>
<line x1="473.40" y1="803.00" x2="425.60" y2="840.80" stroke="#d88098" stroke-width="0.8" />
<line x1="485.00" y1="803.00" x2="494.60" y2="840.80" stroke="#d88098" stroke-width="0.8" />
<line x1="567.60" y1="803.00" x2="510.00" y2="840.80" stroke="#d88098" stroke-width="0.8" />
<line x1="579.20" y1="803.00" x2="579.00" y2="840.80" stroke="#d88098" stroke-width="0.8" />
<line x1="621.00" y1="803.00" x2="595.30" y2="840.80" stroke="#d88098" stroke-width="0.8" />
<line x1="632.00" y1="803.00" x2="663.80" y2="840.80" stroke="#d88098" stroke-width="0.8" />
<rect x="425.6" y="840.8" width="69" height="67" fill="#fff" />
<path d="M488.6 884.7h0.9M432.9 859.0h0.9M434.6 863.0h0.9M472.7 861.2h0.9M444.1 859.7h0.9M445.5 859.6h0.9M464.4 862.6h0.9M448.9 860.1h0.9M483.8 882.7h0.9M480.7 874.8h0.9M479.0 870.3h0.9M471.9 860.2h0.9M455.8 855.8h0.9M439.9 855.4h0.9M458.9 855.4h0.9M478.7 873.5h0.9M462.7 853.4h0.9M462.7 860.5h0.9M447.7 851.9h0.9M487.8 886.2h0.9M473.2 868.3h0.9M465.9 861.5h0.9M464.8 863.6h0.9M454.6 852.7h0.9M439.5 861.7h0.9M441.1 854.2h0.9M450.0 857.2h0.9M436.8 863.3h0.9M436.6 858.0h0.9M484.3 890.2h0.9M485.7 891.0h0.9M448.7 862.7h0.9M442.2 857.4h0.9M459.2 862.8h0.9M482.0 868.9h0.9M486.0 894.3h0.9M451.1 859.6h0.9M436.8 862.0h0.9M478.2 870.2h0.9M437.6 858.1h0.9M443.0 856.1h0.9M452.2 853.6h0.9M474.8 870.0h0.9M440.0 844.9h0.9M437.6 852.4h0.9M477.8 872.7h0.9M454.4 858.1h0.9M462.2 855.2h0.9M436.7 847.7h0.9M484.9 899.6h0.9M433.6 857.3h0.9M443.7 850.2h0.9M430.7 861.0h0.9M466.7 858.6h0.9M467.4 864.9h0.9M484.8 875.3h0.9M464.0 860.2h0.9M486.4 886.5h0.9M481.9 876.8h0.9M482.0 874.9h0.9M435.1 848.6h0.9M436.9 849.3h0.9M475.2 870.4h0.9M477.7 864.9h0.9M482.2 869.7h0.9M446.1 849.9h0.9M440.4 844.8h0.9M467.5 862.5h0.9M435.1 847.3h0.9M488.8 882.9h0.9M437.4 847.3h0.9M449.3 854.4h0.9M466.4 864.6h0.9M489.1 889.3h0.9M441.8 861.9h0.9M468.9 859.9h0.9M482.9 870.9h0.9M473.6 864.5h0.9M436.1 858.6h0.9M445.0 855.0h0.9M436.8 850.8h0.9M436.1 852.2h0.9M465.2 856.2h0.9M475.2 864.9h0.9M477.4 864.5h0.9M434.6 864.6h0.9M444.9 849.2h0.9M445.0 854.8h0.9M460.3 854.2h0.9M433.6 863.2h0.9M451.0 857.3h0.9M432.8 851.5h0.9M484.9 885.6h0.9M489.1 885.5h0.9M433.1 860.6h0.9M434.8 859.1h0.9M452.1 854.0h0.9M436.2 850.0h0.9M484.0 898.0h0.9M485.0 880.8h0.9M454.3 857.7h0.9M462.0 859.6h0.9M480.6 872.6h0.9M436.3 856.2h0.9M446.2 857.7h0.9M440.7 861.2h0.9M445.9 845.7h0.9M487.5 897.2h0.9M446.9 847.2h0.9M454.9 851.1h0.9M443.8 855.6h0.9M452.6 858.8h0.9M449.4 855.3h0.9M457.0 853.0h0.9M484.0 873.4h0.9M455.6 858.5h0.9M480.2 872.6h0.9M486.4 896.7h0.9M444.1 861.4h0.9M451.9 849.8h0.9M459.8 858.4h0.9M437.7 853.4h0.9M436.1 845.4h0.9M470.9 864.7h0.9M463.1 862.3h0.9M483.3 885.0h0.9M456.8 850.9h0.9M436.5 852.7h0.9M477.9 864.3h0.9M466.7 863.5h0.9M438.3 859.0h0.9M434.7 862.9h0.9M467.4 857.6h0.9M439.1 854.3h0.9M440.8 856.9h0.9M446.6 861.1h0.9M454.0 858.9h0.9M476.4 866.9h0.9M456.5 856.2h0.9M449.0 851.8h0.9M483.6 880.6h0.9M446.5 861.6h0.9M489.5 894.1h0.9M484.8 876.0h0.9M455.1 850.5h0.9M452.3 850.2h0.9M487.2 881.6h0.9M489.6 886.1h0.9M434.1 861.6h0.9M444.6 854.7h0.9M476.6 868.6h0.9M432.3 846.8h0.9M449.9 860.7h0.9M462.8 853.2h0.9M452.5 851.6h0.9M458.8 858.2h0.9M430.6 853.8h0.9M484.7 897.3h0.9M459.9 858.0h0.9M456.7 856.6h0.9M483.6 897.0h0.9M485.5 880.6h0.9M479.5 866.7h0.9M437.6 850.5h0.9M459.9 853.4h0.9M487.1 879.7h0.9M460.5 859.8h0.9M483.8 886.3h0.9M485.4 882.8h0.9M453.9 859.9h0.9M437.3 862.4h0.9M468.9 857.7h0.9M456.0 861.2h0.9M482.3 898.7h0.9M470.8 866.1h0.9M483.0 872.3h0.9M483.3 875.1h0.9M457.7 857.4h0.9M438.8 862.2h0.9M483.5 900.1h0.9M444.9 853.1h0.9M445.0 853.6h0.9M433.2 862.6h0.9M481.9 868.2h0.9M466.9 857.7h0.9M459.5 862.1h0.9M452.9 848.8h0.9M439.5 857.7h0.9M445.4 851.8h0.9M433.4 855.5h0.9M476.0 871.4h0.9M465.3 861.8h0.9M484.0 899.6h0.9M481.0 869.8h0.9M478.3 867.1h0.9M433.6 847.5h0.9M488.0 881.1h0.9M445.5 852.2h0.9M484.6 895.5h0.9M436.4 854.8h0.9" stroke="#f4e2e6" stroke-width="0.9"/>
<path d="M447.9 857.1h0.9M439.8 853.9h0.9M481.8 878.5h0.9M430.2 855.9h0.9M464.0 857.8h0.9M485.8 896.1h0.9M483.7 885.4h0.9M449.9 856.3h0.9M451.3 858.7h0.9M431.8 849.3h0.9M476.0 866.0h0.9M452.4 849.9h0.9M441.5 855.3h0.9M489.1 881.5h0.9M482.5 870.3h0.9M484.2 897.2h0.9M490.0 884.6h0.9M464.4 855.6h0.9M459.6 858.2h0.9M488.6 893.6h0.9M431.7 858.4h0.9M440.3 844.9h0.9M484.5 880.8h0.9M449.2 862.5h0.9M466.4 865.3h0.9M475.7 864.4h0.9M443.2 851.3h0.9M482.4 882.1h0.9M483.6 874.8h0.9M435.7 859.1h0.9M487.4 898.1h0.9M447.9 862.7h0.9M483.2 892.9h0.9M431.7 855.6h0.9M489.9 893.3h0.9M453.3 851.9h0.9M487.7 889.7h0.9M434.0 850.5h0.9M472.3 867.4h0.9M462.6 863.3h0.9M458.9 853.2h0.9M470.6 859.7h0.9M437.4 854.3h0.9M478.3 868.9h0.9M432.5 844.7h0.9M441.4 845.9h0.9M453.3 862.2h0.9M466.1 859.4h0.9M479.2 873.9h0.9M444.6 858.9h0.9M450.5 857.0h0.9M451.6 851.0h0.9M481.0 875.6h0.9M448.4 850.2h0.9M431.2 852.4h0.9M486.0 880.0h0.9M430.4 856.5h0.9M468.9 858.3h0.9M484.1 884.4h0.9M473.5 861.6h0.9M447.8 845.9h0.9M441.2 858.5h0.9M462.1 864.0h0.9M464.0 854.6h0.9M446.4 849.6h0.9M434.2 855.4h0.9M442.5 859.0h0.9M450.7 858.8h0.9M485.2 882.0h0.9M434.4 864.2h0.9" stroke="#eeaac0" stroke-width="0.9"/>
<path d="M489.6 894.8h0.9M488.2 884.2h0.9M439.5 846.6h0.9M484.0 872.3h0.9M481.5 877.5h0.9M447.9 849.8h0.9M434.3 845.1h0.9M453.8 853.8h0.9M486.7 877.6h0.9M440.2 856.5h0.9M449.4 862.3h0.9M485.7 889.7h0.9M445.7 847.1h0.9M435.7 855.3h0.9M448.2 852.2h0.9M454.7 856.5h0.9M476.7 871.7h0.9M480.4 873.1h0.9M442.0 852.6h0.9M447.7 856.2h0.9M459.0 856.9h0.9M481.2 874.9h0.9M438.1 846.4h0.9M476.5 863.9h0.9M486.5 890.9h0.9M484.2 894.5h0.9M448.0 852.5h0.9M448.9 854.0h0.9M487.1 887.5h0.9M486.2 889.1h0.9M486.6 875.3h0.9M439.3 849.4h0.9M488.1 888.9h0.9M466.0 859.1h0.9M442.3 853.3h0.9M443.2 853.1h0.9M442.8 848.6h0.9M486.6 887.0h0.9M446.1 857.4h0.9M445.5 862.2h0.9M484.3 884.1h0.9M451.9 851.4h0.9M487.4 892.7h0.9M486.9 875.8h0.9M484.9 896.3h0.9" stroke="#d02878" stroke-width="0.9"/>
<rect x="425.60" y="840.80" width="69.00" height="67.00" fill="none" stroke="#444" stroke-width="0.9"/>
<rect x="510" y="840.8" width="69" height="67" fill="#fff" />
<path d="M525.9 863.4h0.9M525.4 855.8h0.9M516.9 857.6h0.9M529.3 855.2h0.9M516.8 855.9h0.9M567.0 875.9h0.9M536.2 856.5h0.9M521.2 846.1h0.9M554.5 865.1h0.9M528.2 856.7h0.9M550.0 864.1h0.9M541.2 852.6h0.9M527.2 860.9h0.9M555.5 861.4h0.9M572.0 885.3h0.9M570.5 895.6h0.9M525.1 858.1h0.9M541.5 852.3h0.9M537.7 862.2h0.9M569.8 881.4h0.9M535.0 855.6h0.9M562.5 869.2h0.9M551.5 863.7h0.9M530.6 860.7h0.9M523.1 856.1h0.9M535.2 854.7h0.9M553.1 860.1h0.9M528.7 850.4h0.9M543.6 855.9h0.9M521.7 854.2h0.9M536.6 858.7h0.9M519.2 864.4h0.9M567.2 880.2h0.9M528.3 862.5h0.9M524.3 860.9h0.9M525.9 851.7h0.9M573.7 893.8h0.9M574.5 886.0h0.9M563.3 870.6h0.9M558.6 866.5h0.9M525.6 859.4h0.9M517.4 850.9h0.9M561.4 868.0h0.9M520.4 848.2h0.9M574.5 889.8h0.9M558.4 864.4h0.9M573.4 886.3h0.9M562.5 873.4h0.9M534.6 859.9h0.9M573.3 894.1h0.9M525.7 859.8h0.9M573.3 895.3h0.9M569.8 900.0h0.9M568.9 892.3h0.9M573.5 891.3h0.9M529.5 860.6h0.9M570.7 875.9h0.9M525.9 850.2h0.9M523.8 863.0h0.9M567.6 895.9h0.9M529.9 853.5h0.9M524.0 851.3h0.9M519.9 847.6h0.9M555.7 865.3h0.9M532.2 862.8h0.9M567.6 900.5h0.9M520.8 846.5h0.9M532.2 849.9h0.9M569.7 897.0h0.9M555.7 861.9h0.9M531.6 846.1h0.9M525.0 853.8h0.9M536.4 853.1h0.9M571.3 898.8h0.9M570.3 886.0h0.9M563.9 867.7h0.9M570.4 879.7h0.9M521.2 853.7h0.9M539.2 857.0h0.9M566.5 875.5h0.9M528.3 846.9h0.9M558.6 863.7h0.9M545.2 852.0h0.9M519.2 859.8h0.9M572.5 877.4h0.9M526.9 862.4h0.9M517.4 857.5h0.9M569.2 877.8h0.9M519.6 862.3h0.9M516.7 859.3h0.9M566.4 871.3h0.9M537.5 858.1h0.9M570.2 883.6h0.9M528.8 857.9h0.9M532.4 853.0h0.9M521.2 863.6h0.9M543.5 862.6h0.9M527.0 853.5h0.9M523.8 845.3h0.9M524.8 845.8h0.9M521.9 845.6h0.9M550.3 855.3h0.9M565.2 867.9h0.9M572.3 880.2h0.9M561.6 864.4h0.9M527.0 862.2h0.9M569.5 890.8h0.9M529.7 855.0h0.9M525.0 863.1h0.9M571.7 879.2h0.9M545.4 859.2h0.9M564.1 865.9h0.9M517.8 854.2h0.9M547.2 853.3h0.9M529.6 844.6h0.9M563.4 869.2h0.9M519.6 845.3h0.9M539.8 858.9h0.9M569.7 878.2h0.9M530.2 851.7h0.9M537.9 861.8h0.9M524.1 860.5h0.9M559.8 862.9h0.9M533.5 850.8h0.9M517.6 846.0h0.9M554.7 863.0h0.9M570.7 895.6h0.9M567.3 895.5h0.9M516.3 851.9h0.9M559.9 871.5h0.9M522.8 862.3h0.9M516.6 847.6h0.9M521.1 861.9h0.9M531.9 859.0h0.9M566.6 873.7h0.9M549.4 864.2h0.9M530.6 860.4h0.9M518.5 858.0h0.9M571.4 883.7h0.9M514.8 856.1h0.9M538.6 858.9h0.9M538.4 858.5h0.9M530.3 856.4h0.9M568.6 876.1h0.9M532.7 849.9h0.9M534.3 854.9h0.9M546.8 856.4h0.9M542.1 852.0h0.9M516.2 852.5h0.9M534.5 846.6h0.9M518.3 862.0h0.9M570.2 882.4h0.9M535.1 849.4h0.9M521.8 861.1h0.9M534.7 855.5h0.9M517.1 854.5h0.9M521.2 851.4h0.9M532.3 855.0h0.9M570.1 877.4h0.9M539.8 858.7h0.9M574.3 894.1h0.9M526.8 846.1h0.9M570.5 875.5h0.9M537.7 848.9h0.9M567.9 884.2h0.9M544.3 858.2h0.9M568.2 880.4h0.9M571.1 888.3h0.9M572.1 894.9h0.9M569.0 890.8h0.9M519.1 851.1h0.9M525.0 861.6h0.9M530.3 863.0h0.9M547.3 863.9h0.9M571.4 888.8h0.9M518.5 851.2h0.9M557.4 862.2h0.9M572.2 894.0h0.9M573.2 895.9h0.9M522.0 844.9h0.9M519.1 856.7h0.9M523.0 860.8h0.9M535.1 849.0h0.9M519.9 856.9h0.9M571.2 889.0h0.9M539.8 861.3h0.9M563.3 866.8h0.9M538.5 858.4h0.9M553.8 858.5h0.9M542.8 852.4h0.9M516.0 864.0h0.9M522.3 847.4h0.9M519.0 854.1h0.9M565.6 867.0h0.9M568.9 881.4h0.9M521.9 854.5h0.9M573.2 893.3h0.9M532.6 846.0h0.9M568.3 883.9h0.9M535.1 853.0h0.9M562.5 873.4h0.9M517.8 859.3h0.9M524.9 854.9h0.9M550.4 864.4h0.9M520.5 853.2h0.9M548.6 862.7h0.9M532.2 856.8h0.9M528.6 851.2h0.9M564.5 871.8h0.9M518.6 847.5h0.9M549.5 858.6h0.9M570.9 898.3h0.9M573.5 895.5h0.9M516.1 862.2h0.9M537.4 858.1h0.9M567.9 891.6h0.9M518.2 859.6h0.9M528.8 857.5h0.9M522.4 854.2h0.9M538.7 860.9h0.9M571.7 882.2h0.9M570.8 890.6h0.9M568.0 891.9h0.9M572.7 879.6h0.9M529.6 849.3h0.9M538.7 862.3h0.9M566.8 896.9h0.9M563.9 866.2h0.9M555.3 866.2h0.9M569.8 882.0h0.9M540.7 856.9h0.9M516.4 860.8h0.9M561.5 866.6h0.9M563.1 871.8h0.9M559.0 864.8h0.9M520.9 853.0h0.9M517.1 846.9h0.9M568.2 888.1h0.9M570.0 885.3h0.9M535.0 853.8h0.9" stroke="#f0eaea" stroke-width="0.9"/>
<path d="M522.8 848.6h0.9M525.6 854.0h0.9M566.9 877.4h0.9M556.4 862.6h0.9M535.7 849.0h0.9M530.5 852.4h0.9M518.6 855.2h0.9M524.9 855.7h0.9M572.4 878.1h0.9M537.5 848.3h0.9M572.3 889.1h0.9M574.6 887.9h0.9M557.8 866.3h0.9M539.3 859.3h0.9M567.9 900.0h0.9M562.5 869.9h0.9M569.4 899.3h0.9M543.8 861.0h0.9M565.8 878.7h0.9M532.9 860.4h0.9M544.7 863.2h0.9M518.8 846.0h0.9M532.0 856.3h0.9M568.4 892.7h0.9M522.0 855.5h0.9M531.0 858.6h0.9M526.2 858.3h0.9M565.3 872.8h0.9M568.1 884.0h0.9M539.6 854.6h0.9M519.0 847.4h0.9M532.2 850.4h0.9M529.5 855.6h0.9M571.1 880.2h0.9M537.1 858.7h0.9" stroke="#eeb8c8" stroke-width="0.9"/>
<path d="M521.3 857.5h0.9M516.8 857.4h0.9M530.1 862.4h0.9M522.5 864.1h0.9M570.5 888.0h0.9M568.6 886.0h0.9M571.2 895.4h0.9M520.2 860.6h0.9M515.9 857.5h0.9M567.5 884.8h0.9M521.6 857.0h0.9M523.5 855.8h0.9M571.5 897.9h0.9M531.5 862.7h0.9M573.1 880.2h0.9M567.7 882.3h0.9M515.8 861.3h0.9M574.5 887.0h0.9M570.5 891.1h0.9M569.4 893.1h0.9M574.3 884.3h0.9M569.8 897.1h0.9M531.3 862.9h0.9M573.7 879.7h0.9M567.3 898.0h0.9M567.9 890.4h0.9M569.9 897.4h0.9M524.3 857.3h0.9M525.5 852.2h0.9M569.7 885.8h0.9M572.1 890.1h0.9M537.2 859.2h0.9M568.1 877.0h0.9M570.7 892.8h0.9M572.4 897.5h0.9M523.6 860.2h0.9M570.0 885.1h0.9M526.6 860.1h0.9M525.3 860.4h0.9M517.5 864.0h0.9" stroke="#c82888" stroke-width="0.9"/>
<rect x="510.00" y="840.80" width="69.00" height="67.00" fill="none" stroke="#444" stroke-width="0.9"/>
<rect x="595.3" y="840.8" width="68.5" height="67" fill="#fff" />
<path d="M657.8 886.0h0.9M635.2 857.4h0.9M631.0 862.1h0.9M618.5 849.8h0.9M604.8 845.0h0.9M606.3 847.6h0.9M618.6 859.7h0.9M630.4 858.0h0.9M599.8 861.5h0.9M645.8 870.0h0.9M623.4 852.0h0.9M620.6 856.4h0.9M641.0 859.9h0.9M630.5 862.3h0.9M622.3 852.3h0.9M599.6 860.5h0.9M601.6 855.2h0.9M650.4 868.5h0.9M607.4 849.8h0.9M600.6 852.2h0.9M649.3 866.5h0.9M627.4 857.0h0.9M607.5 852.5h0.9M612.6 863.0h0.9M615.5 856.6h0.9M653.9 893.7h0.9M605.8 860.9h0.9M622.4 848.3h0.9M604.2 858.3h0.9M631.3 858.4h0.9M654.6 890.8h0.9M655.3 887.8h0.9M631.3 861.4h0.9M615.7 848.7h0.9M642.8 865.3h0.9M632.9 859.6h0.9M601.1 860.1h0.9M636.3 860.0h0.9M619.5 851.4h0.9M654.6 892.9h0.9M640.9 865.1h0.9M648.7 869.1h0.9M647.2 871.3h0.9M610.3 851.2h0.9M620.9 847.5h0.9M652.6 900.1h0.9M612.2 858.7h0.9M611.9 859.8h0.9M645.9 872.2h0.9M601.7 853.5h0.9M635.3 863.2h0.9M655.0 880.5h0.9M643.1 865.1h0.9M617.3 849.1h0.9M622.0 856.7h0.9M611.0 846.2h0.9M657.1 891.1h0.9M606.5 859.3h0.9M655.4 886.8h0.9M620.0 852.0h0.9M656.8 894.3h0.9M626.6 862.2h0.9M619.2 859.4h0.9M634.1 854.7h0.9M629.0 860.9h0.9M655.7 896.1h0.9M617.4 852.1h0.9M653.1 876.6h0.9M652.8 879.3h0.9M654.0 896.8h0.9M601.8 857.2h0.9M601.5 861.7h0.9M640.7 860.3h0.9M614.1 847.8h0.9M654.3 895.8h0.9M655.8 880.4h0.9M637.5 864.7h0.9M629.1 854.4h0.9M616.7 855.3h0.9M642.1 861.4h0.9M630.8 856.3h0.9M604.0 854.8h0.9M650.4 867.3h0.9M608.6 860.2h0.9M618.9 850.2h0.9M651.4 869.8h0.9M645.7 871.6h0.9M642.4 862.1h0.9M657.0 877.0h0.9M656.4 894.8h0.9M652.8 899.6h0.9M655.0 900.5h0.9M658.2 895.6h0.9M612.1 863.5h0.9M625.0 855.9h0.9M600.2 861.1h0.9M653.6 884.8h0.9M624.9 849.2h0.9M633.9 857.1h0.9M658.4 891.8h0.9M625.0 859.3h0.9M653.3 877.0h0.9M623.6 859.7h0.9M604.2 854.9h0.9M656.8 884.3h0.9M609.3 859.8h0.9M653.6 878.2h0.9M618.1 850.6h0.9M648.3 869.5h0.9M654.8 893.5h0.9M617.5 851.9h0.9M604.2 845.7h0.9M606.2 847.3h0.9M611.4 860.4h0.9M625.2 850.6h0.9M636.4 865.1h0.9M605.1 864.1h0.9M644.6 862.5h0.9M606.4 849.7h0.9M648.1 866.8h0.9M648.5 873.9h0.9M628.2 851.2h0.9M642.7 864.1h0.9M624.5 849.3h0.9M615.3 855.9h0.9M638.5 858.3h0.9M620.6 856.6h0.9M625.4 861.9h0.9M607.7 857.5h0.9M609.7 862.6h0.9M621.9 854.4h0.9M605.3 859.6h0.9M617.0 848.3h0.9M655.8 889.8h0.9M649.5 870.9h0.9M653.2 899.8h0.9M651.4 869.5h0.9M602.4 857.2h0.9M602.8 854.1h0.9M653.2 875.3h0.9M627.2 851.5h0.9M657.5 892.3h0.9M648.8 867.5h0.9M616.2 855.7h0.9M616.1 860.9h0.9M600.9 855.2h0.9M613.1 859.4h0.9M612.7 858.3h0.9M616.7 860.5h0.9M603.1 860.7h0.9M638.9 861.7h0.9M624.9 854.8h0.9M654.2 886.1h0.9M608.0 853.8h0.9M638.7 859.3h0.9M635.5 862.4h0.9M611.3 861.8h0.9M605.6 850.7h0.9M646.4 867.4h0.9M618.7 849.4h0.9M618.2 858.3h0.9M624.1 850.9h0.9M606.8 859.3h0.9M650.9 898.7h0.9M654.2 884.8h0.9M613.3 862.7h0.9M632.6 859.2h0.9M599.9 858.6h0.9M606.7 847.0h0.9M648.4 873.9h0.9M653.8 884.8h0.9M624.0 858.0h0.9M655.5 886.5h0.9M612.5 860.3h0.9M658.6 883.2h0.9M625.0 860.0h0.9M603.1 844.7h0.9M609.3 858.8h0.9M654.8 876.8h0.9M626.8 861.3h0.9M613.9 848.8h0.9M614.1 851.2h0.9M623.1 861.1h0.9M655.8 876.5h0.9M612.5 859.0h0.9M633.2 864.2h0.9M616.1 846.2h0.9M654.0 899.8h0.9M615.3 862.1h0.9M658.2 890.6h0.9M619.8 852.0h0.9M651.2 876.4h0.9M602.4 848.6h0.9M647.6 867.5h0.9M615.4 860.1h0.9M601.9 859.8h0.9M607.7 846.6h0.9M606.3 861.0h0.9M655.1 887.3h0.9M650.1 871.9h0.9" stroke="#f4e0e6" stroke-width="0.9"/>
<path d="M607.9 861.1h0.9M615.7 846.0h0.9M658.8 895.3h0.9M620.6 851.7h0.9M633.0 861.5h0.9M614.4 861.4h0.9M652.9 889.5h0.9M600.7 863.5h0.9M618.6 858.2h0.9M602.2 858.9h0.9M659.2 894.3h0.9M610.3 855.1h0.9M614.6 846.6h0.9M647.1 867.4h0.9M608.9 859.4h0.9M625.7 853.5h0.9M606.1 851.8h0.9M656.9 892.8h0.9M630.0 859.0h0.9M651.5 881.3h0.9M645.3 867.0h0.9M631.9 861.3h0.9M619.7 860.6h0.9M619.8 849.0h0.9M601.0 857.1h0.9M609.9 849.0h0.9M623.7 862.4h0.9M655.8 889.5h0.9M629.3 852.1h0.9M610.0 862.0h0.9M601.1 852.5h0.9M653.7 888.5h0.9M617.2 847.0h0.9M611.9 849.7h0.9M650.8 871.4h0.9M651.6 868.8h0.9M659.1 886.8h0.9M601.5 850.3h0.9M611.4 857.6h0.9M624.6 861.8h0.9M610.3 862.6h0.9M656.4 883.2h0.9M618.1 854.5h0.9M609.2 863.4h0.9M633.3 857.4h0.9M636.4 859.6h0.9M614.0 852.2h0.9M604.5 846.8h0.9M656.6 878.8h0.9M646.5 872.0h0.9M656.9 883.4h0.9M645.1 865.4h0.9M644.7 866.8h0.9M655.8 881.9h0.9M621.0 856.2h0.9M610.4 860.1h0.9M645.9 864.0h0.9M617.1 853.0h0.9M605.9 849.7h0.9M617.3 851.9h0.9M632.2 858.4h0.9M608.2 862.4h0.9M620.5 855.5h0.9M621.2 858.2h0.9M625.4 853.3h0.9M611.0 850.1h0.9M651.3 869.5h0.9M602.7 861.8h0.9M655.0 898.9h0.9M639.1 863.1h0.9M628.8 852.0h0.9M602.0 852.1h0.9M645.7 869.6h0.9M619.1 852.7h0.9M605.0 850.1h0.9M653.4 880.8h0.9M618.6 852.8h0.9M613.4 848.2h0.9M652.2 899.6h0.9M603.0 855.2h0.9" stroke="#e880a8" stroke-width="0.9"/>
<path d="M611.8 849.7h0.9M613.0 848.5h0.9M653.8 878.8h0.9M615.5 857.3h0.9M656.3 884.1h0.9M654.9 878.1h0.9M610.1 852.3h0.9M656.4 889.9h0.9M609.7 855.1h0.9M619.1 849.7h0.9M654.7 890.2h0.9M600.4 856.1h0.9M617.7 852.6h0.9M615.7 855.2h0.9M656.6 877.5h0.9M607.9 844.7h0.9M626.3 859.0h0.9M653.5 883.2h0.9M611.3 847.6h0.9M619.2 853.4h0.9M621.8 851.1h0.9M623.9 855.9h0.9M608.3 845.2h0.9M614.9 850.0h0.9M654.6 878.2h0.9M633.6 861.9h0.9M652.8 889.0h0.9M616.1 855.8h0.9M618.8 848.8h0.9M622.0 850.4h0.9M602.0 845.5h0.9M613.8 850.5h0.9M645.3 869.2h0.9M656.0 880.6h0.9M655.1 880.9h0.9M605.7 854.1h0.9M611.3 857.0h0.9M658.6 880.3h0.9M623.9 858.2h0.9M618.7 850.9h0.9M636.2 856.2h0.9M656.5 876.4h0.9M610.6 853.5h0.9M603.1 847.8h0.9M633.5 858.1h0.9M612.0 851.2h0.9M628.1 860.1h0.9M628.7 851.9h0.9M631.8 854.6h0.9M617.7 852.9h0.9" stroke="#c01868" stroke-width="0.9"/>
<rect x="595.30" y="840.80" width="68.50" height="67.00" fill="none" stroke="#444" stroke-width="0.9"/>
<text x="431.6" y="895.3" font-size="3.6" fill="#444" >R = 0.13</text>
<text x="431.6" y="899.8" font-size="3.6" fill="#444" >P = 0.002</text>
<text x="516" y="895.3" font-size="3.6" fill="#444" >R = 0.088</text>
<text x="516" y="899.8" font-size="3.6" fill="#444" >P = 0.04</text>
<text x="601.3" y="895.3" font-size="3.6" fill="#444" >R = -0.23</text>
<text x="601.3" y="899.8" font-size="3.6" fill="#444" >P = 7.4e-08</text>
<text x="459.8" y="912.9" font-size="7" text-anchor="middle" textLength="75.6" lengthAdjust="spacingAndGlyphs" >chr8:104176686~104177535</text>
<text x="544.3" y="912.9" font-size="7" text-anchor="middle" textLength="75.6" lengthAdjust="spacingAndGlyphs" >chr8:104220580~104221469</text>
<text x="629.5" y="912.9" font-size="7" text-anchor="middle" textLength="75.6" lengthAdjust="spacingAndGlyphs" >chr8:104261222~104262299</text>
<text x="492.3" y="931.5" font-size="7" text-anchor="middle" textLength="83.0" lengthAdjust="spacingAndGlyphs" >denoised gene expression</text>
<rect x="476" y="936.5" width="33.7" height="9.1" fill="url(#gteal)" />
<text x="477.5" y="951.3" font-size="7" text-anchor="middle" >0</text>
<text x="506.2" y="951.3" font-size="7" text-anchor="middle" >1</text>
<text x="590" y="931.5" font-size="7" text-anchor="middle" textLength="69.0" lengthAdjust="spacingAndGlyphs" >denoised accessibility</text>
<rect x="573" y="936.5" width="33" height="9.1" fill="url(#gpink)" />
<text x="573" y="951.3" font-size="7" text-anchor="middle" >0</text>
<text x="601.8" y="951.3" font-size="7" text-anchor="middle" >1</text>
<text x="648" y="346.3" font-size="6.8" text-anchor="middle" font-style="italic" textLength="17.0" lengthAdjust="spacingAndGlyphs" >Nrn1</text>
<line x1="619.00" y1="354.40" x2="683.50" y2="354.40" stroke="#333" stroke-width="0.8" />
<line x1="650.00" y1="354.40" x2="650.00" y2="356.00" stroke="#333" stroke-width="0.6" />
<path d="M620.7,359.2 L621.2,359.9 L621.7,360.6 L622.2,361.3 L622.7,362.0 L623.2,362.6 L623.7,363.3 L624.2,363.9 L624.7,364.5 L625.2,365.1 L625.7,365.6 L626.2,366.1 L626.7,366.6 L627.2,367.0 L627.7,367.4 L628.2,367.5 L628.7,367.5 L629.2,367.5 L629.7,367.5 L630.2,367.5 L630.7,367.5 L631.2,367.4 L631.7,367.4 L632.2,367.4 L632.7,367.4 L633.2,367.4 L633.7,367.4 L634.2,367.3 L634.7,367.3 L635.2,367.3 L635.7,367.3 L636.2,367.2 L636.7,367.2 L637.2,367.2 L637.7,367.1 L638.2,367.1 L638.7,367.0 L639.2,367.0 L639.7,367.0 L640.2,366.9 L640.7,366.9 L641.2,366.8 L641.7,366.8 L642.2,366.8 L642.7,366.8 L643.2,366.7 L643.7,366.7 L644.2,366.7 L644.7,366.7 L645.2,366.7 L645.7,366.7 L646.2,366.7 L646.7,366.7 L647.2,366.8 L647.7,366.8 L648.2,366.8 L648.7,366.8 L649.2,366.9 L649.7,366.9 L650.2,367.0 L650.7,367.0 L651.2,367.0 L651.7,367.1 L652.2,367.1 L652.7,367.1 L653.2,367.2 L653.7,367.2 L654.2,367.3 L654.7,367.3 L655.2,367.3 L655.7,367.3 L656.2,367.4 L656.7,367.4 L657.2,367.4 L657.7,367.4 L658.2,367.4 L658.7,367.4 L659.2,367.5 L659.7,367.5 L660.2,367.5 L660.7,367.5 L661.2,367.5 L661.7,367.5 L662.2,367.5 L662.7,367.5 L663.2,367.5 L663.7,367.5 L664.2,367.5 L664.7,367.5 L665.2,367.5 L665.7,367.5 L666.2,367.5 L666.7,367.5 L667.2,367.6 L667.7,367.6 L668.2,367.7 L668.7,367.7 L669.2,367.8 L669.7,367.8 L670.2,367.8 L670.7,367.8 L671.2,367.8 L671.2,368.2 L670.7,368.2 L670.2,368.2 L669.7,368.2 L669.2,368.2 L668.7,368.3 L668.2,368.3 L667.7,368.4 L667.2,368.4 L666.7,368.5 L666.2,368.5 L665.7,368.5 L665.2,368.5 L664.7,368.5 L664.2,368.5 L663.7,368.5 L663.2,368.5 L662.7,368.5 L662.2,368.5 L661.7,368.5 L661.2,368.5 L660.7,368.5 L660.2,368.5 L659.7,368.5 L659.2,368.5 L658.7,368.6 L658.2,368.6 L657.7,368.6 L657.2,368.6 L656.7,368.6 L656.2,368.6 L655.7,368.7 L655.2,368.7 L654.7,368.7 L654.2,368.7 L653.7,368.8 L653.2,368.8 L652.7,368.9 L652.2,368.9 L651.7,368.9 L651.2,369.0 L650.7,369.0 L650.2,369.0 L649.7,369.1 L649.2,369.1 L648.7,369.2 L648.2,369.2 L647.7,369.2 L647.2,369.2 L646.7,369.3 L646.2,369.3 L645.7,369.3 L645.2,369.3 L644.7,369.3 L644.2,369.3 L643.7,369.3 L643.2,369.3 L642.7,369.2 L642.2,369.2 L641.7,369.2 L641.2,369.2 L640.7,369.1 L640.2,369.1 L639.7,369.0 L639.2,369.0 L638.7,369.0 L638.2,368.9 L637.7,368.9 L637.2,368.8 L636.7,368.8 L636.2,368.8 L635.7,368.7 L635.2,368.7 L634.7,368.7 L634.2,368.7 L633.7,368.6 L633.2,368.6 L632.7,368.6 L632.2,368.6 L631.7,368.6 L631.2,368.6 L630.7,368.5 L630.2,368.5 L629.7,368.5 L629.2,368.5 L628.7,368.5 L628.2,368.5 L627.7,368.6 L627.2,369.0 L626.7,369.4 L626.2,369.9 L625.7,370.4 L625.2,370.9 L624.7,371.5 L624.2,372.1 L623.7,372.7 L623.2,373.4 L622.7,374.0 L622.2,374.7 L621.7,375.4 L621.2,376.1 L620.7,376.8 Z" fill="#d3262f" stroke="#333" stroke-width="0.6" />
<path d="M620.7,386.0 L621.2,386.7 L621.7,387.4 L622.2,388.1 L622.7,388.8 L623.2,389.4 L623.7,390.1 L624.2,390.7 L624.7,391.3 L625.2,391.9 L625.7,392.4 L626.2,392.9 L626.7,393.4 L627.2,393.8 L627.7,394.2 L628.2,394.3 L628.7,394.3 L629.2,394.3 L629.7,394.3 L630.2,394.3 L630.7,394.3 L631.2,394.3 L631.7,394.3 L632.2,394.3 L632.7,394.3 L633.2,394.2 L633.7,394.2 L634.2,394.2 L634.7,394.2 L635.2,394.2 L635.7,394.1 L636.2,394.1 L636.7,394.1 L637.2,394.0 L637.7,393.9 L638.2,393.9 L638.7,393.8 L639.2,393.7 L639.7,393.7 L640.2,393.6 L640.7,393.5 L641.2,393.4 L641.7,393.3 L642.2,393.3 L642.7,393.2 L643.2,393.1 L643.7,393.0 L644.2,393.0 L644.7,392.9 L645.2,392.9 L645.7,392.9 L646.2,392.9 L646.7,392.9 L647.2,392.9 L647.7,393.0 L648.2,393.0 L648.7,393.1 L649.2,393.2 L649.7,393.2 L650.2,393.3 L650.7,393.4 L651.2,393.5 L651.7,393.6 L652.2,393.7 L652.7,393.7 L653.2,393.8 L653.7,393.9 L654.2,393.9 L654.7,394.0 L655.2,394.0 L655.7,394.1 L656.2,394.1 L656.7,394.2 L657.2,394.2 L657.7,394.2 L658.2,394.2 L658.7,394.2 L659.2,394.3 L659.7,394.3 L660.2,394.3 L660.7,394.3 L661.2,394.3 L661.7,394.4 L662.2,394.5 L662.7,394.5 L663.2,394.6 L663.7,394.6 L664.2,394.6 L664.7,394.6 L665.2,394.6 L665.2,395.1 L664.7,395.1 L664.2,395.1 L663.7,395.1 L663.2,395.1 L662.7,395.1 L662.2,395.1 L661.7,395.2 L661.2,395.3 L660.7,395.3 L660.2,395.3 L659.7,395.3 L659.2,395.3 L658.7,395.4 L658.2,395.4 L657.7,395.4 L657.2,395.4 L656.7,395.4 L656.2,395.5 L655.7,395.5 L655.2,395.6 L654.7,395.6 L654.2,395.7 L653.7,395.7 L653.2,395.8 L652.7,395.9 L652.2,395.9 L651.7,396.0 L651.2,396.1 L650.7,396.2 L650.2,396.3 L649.7,396.4 L649.2,396.4 L648.7,396.5 L648.2,396.6 L647.7,396.6 L647.2,396.7 L646.7,396.7 L646.2,396.7 L645.7,396.7 L645.2,396.7 L644.7,396.7 L644.2,396.6 L643.7,396.6 L643.2,396.5 L642.7,396.4 L642.2,396.3 L641.7,396.3 L641.2,396.2 L640.7,396.1 L640.2,396.0 L639.7,395.9 L639.2,395.9 L638.7,395.8 L638.2,395.7 L637.7,395.7 L637.2,395.6 L636.7,395.5 L636.2,395.5 L635.7,395.5 L635.2,395.4 L634.7,395.4 L634.2,395.4 L633.7,395.4 L633.2,395.4 L632.7,395.3 L632.2,395.3 L631.7,395.3 L631.2,395.3 L630.7,395.3 L630.2,395.3 L629.7,395.3 L629.2,395.3 L628.7,395.3 L628.2,395.3 L627.7,395.4 L627.2,395.8 L626.7,396.2 L626.2,396.7 L625.7,397.2 L625.2,397.7 L624.7,398.3 L624.2,398.9 L623.7,399.5 L623.2,400.2 L622.7,400.8 L622.2,401.5 L621.7,402.2 L621.2,402.9 L620.7,403.6 Z" fill="#2f3376" stroke="#333" stroke-width="0.6" />
<path d="M620.7,413.0 L621.2,413.7 L621.7,414.4 L622.2,415.1 L622.7,415.8 L623.2,416.4 L623.7,417.1 L624.2,417.7 L624.7,418.3 L625.2,418.9 L625.7,419.4 L626.2,419.9 L626.7,420.4 L627.2,420.8 L627.7,421.2 L628.2,421.3 L628.7,421.3 L629.2,421.3 L629.7,421.3 L630.2,421.3 L630.7,421.3 L631.2,421.3 L631.7,421.2 L632.2,421.2 L632.7,421.2 L633.2,421.2 L633.7,421.2 L634.2,421.2 L634.7,421.1 L635.2,421.1 L635.7,421.1 L636.2,421.1 L636.7,421.0 L637.2,421.0 L637.7,421.0 L638.2,420.9 L638.7,420.9 L639.2,420.9 L639.7,420.8 L640.2,420.8 L640.7,420.8 L641.2,420.7 L641.7,420.7 L642.2,420.7 L642.7,420.6 L643.2,420.6 L643.7,420.6 L644.2,420.6 L644.7,420.6 L645.2,420.6 L645.7,420.6 L646.2,420.6 L646.7,420.6 L647.2,420.6 L647.7,420.7 L648.2,420.7 L648.7,420.7 L649.2,420.8 L649.7,420.8 L650.2,420.8 L650.7,420.9 L651.2,420.9 L651.7,420.9 L652.2,421.0 L652.7,421.0 L653.2,421.0 L653.7,421.1 L654.2,421.1 L654.7,421.1 L655.2,421.1 L655.7,421.2 L656.2,421.2 L656.7,421.2 L657.2,421.2 L657.7,421.2 L658.2,421.2 L658.7,421.2 L659.2,421.3 L659.7,421.3 L660.2,421.3 L660.7,421.3 L661.2,421.3 L661.7,421.4 L662.2,421.5 L662.7,421.5 L663.2,421.6 L663.7,421.6 L664.2,421.6 L664.7,421.6 L665.2,421.6 L665.2,422.1 L664.7,422.1 L664.2,422.1 L663.7,422.1 L663.2,422.1 L662.7,422.1 L662.2,422.1 L661.7,422.2 L661.2,422.3 L660.7,422.3 L660.2,422.3 L659.7,422.3 L659.2,422.3 L658.7,422.4 L658.2,422.4 L657.7,422.4 L657.2,422.4 L656.7,422.4 L656.2,422.4 L655.7,422.4 L655.2,422.5 L654.7,422.5 L654.2,422.5 L653.7,422.5 L653.2,422.6 L652.7,422.6 L652.2,422.6 L651.7,422.7 L651.2,422.7 L650.7,422.7 L650.2,422.8 L649.7,422.8 L649.2,422.8 L648.7,422.9 L648.2,422.9 L647.7,422.9 L647.2,423.0 L646.7,423.0 L646.2,423.0 L645.7,423.0 L645.2,423.0 L644.7,423.0 L644.2,423.0 L643.7,423.0 L643.2,423.0 L642.7,423.0 L642.2,422.9 L641.7,422.9 L641.2,422.9 L640.7,422.8 L640.2,422.8 L639.7,422.8 L639.2,422.7 L638.7,422.7 L638.2,422.7 L637.7,422.6 L637.2,422.6 L636.7,422.6 L636.2,422.5 L635.7,422.5 L635.2,422.5 L634.7,422.5 L634.2,422.4 L633.7,422.4 L633.2,422.4 L632.7,422.4 L632.2,422.4 L631.7,422.4 L631.2,422.3 L630.7,422.3 L630.2,422.3 L629.7,422.3 L629.2,422.3 L628.7,422.3 L628.2,422.3 L627.7,422.4 L627.2,422.8 L626.7,423.2 L626.2,423.7 L625.7,424.2 L625.2,424.7 L624.7,425.3 L624.2,425.9 L623.7,426.5 L623.2,427.2 L622.7,427.8 L622.2,428.5 L621.7,429.2 L621.2,429.9 L620.7,430.6 Z" fill="#3d8a3a" stroke="#333" stroke-width="0.6" />
<path d="M620.7,439.9 L621.2,440.6 L621.7,441.3 L622.2,442.0 L622.7,442.7 L623.2,443.3 L623.7,444.0 L624.2,444.6 L624.7,445.2 L625.2,445.7 L625.7,446.3 L626.2,446.8 L626.7,447.3 L627.2,447.7 L627.7,448.0 L628.2,448.1 L628.7,448.1 L629.2,448.1 L629.7,448.1 L630.2,448.0 L630.7,448.0 L631.2,447.9 L631.7,447.9 L632.2,447.8 L632.7,447.8 L633.2,447.7 L633.7,447.7 L634.2,447.6 L634.7,447.5 L635.2,447.4 L635.7,447.4 L636.2,447.3 L636.7,447.2 L637.2,447.2 L637.7,447.1 L638.2,447.1 L638.7,447.0 L639.2,447.0 L639.7,447.0 L640.2,447.0 L640.7,447.0 L641.2,447.0 L641.7,447.1 L642.2,447.1 L642.7,447.2 L643.2,447.2 L643.7,447.3 L644.2,447.4 L644.7,447.4 L645.2,447.5 L645.7,447.6 L646.2,447.6 L646.7,447.7 L647.2,447.8 L647.7,447.8 L648.2,447.9 L648.7,447.9 L649.2,448.0 L649.7,448.0 L650.2,448.1 L650.7,448.1 L651.2,448.1 L651.7,448.1 L652.2,448.1 L652.7,448.2 L653.2,448.2 L653.7,448.2 L654.2,448.2 L654.7,448.2 L655.2,448.2 L655.7,448.2 L656.2,448.2 L656.7,448.2 L657.2,448.2 L657.7,448.2 L658.2,448.2 L658.7,448.2 L659.2,448.2 L659.7,448.2 L660.2,448.2 L660.7,448.3 L661.2,448.3 L661.7,448.4 L662.2,448.4 L662.7,448.4 L663.2,448.4 L663.7,448.4 L664.2,448.4 L664.7,448.4 L664.7,448.9 L664.2,448.9 L663.7,448.9 L663.2,448.9 L662.7,448.9 L662.2,449.0 L661.7,449.0 L661.2,449.1 L660.7,449.1 L660.2,449.2 L659.7,449.2 L659.2,449.2 L658.7,449.2 L658.2,449.2 L657.7,449.2 L657.2,449.2 L656.7,449.2 L656.2,449.2 L655.7,449.2 L655.2,449.2 L654.7,449.2 L654.2,449.2 L653.7,449.2 L653.2,449.2 L652.7,449.2 L652.2,449.3 L651.7,449.3 L651.2,449.3 L650.7,449.3 L650.2,449.3 L649.7,449.4 L649.2,449.4 L648.7,449.5 L648.2,449.5 L647.7,449.6 L647.2,449.6 L646.7,449.7 L646.2,449.8 L645.7,449.8 L645.2,449.9 L644.7,450.0 L644.2,450.0 L643.7,450.1 L643.2,450.2 L642.7,450.2 L642.2,450.3 L641.7,450.3 L641.2,450.4 L640.7,450.4 L640.2,450.4 L639.7,450.4 L639.2,450.4 L638.7,450.4 L638.2,450.3 L637.7,450.3 L637.2,450.2 L636.7,450.2 L636.2,450.1 L635.7,450.0 L635.2,450.0 L634.7,449.9 L634.2,449.8 L633.7,449.7 L633.2,449.7 L632.7,449.6 L632.2,449.6 L631.7,449.5 L631.2,449.5 L630.7,449.4 L630.2,449.4 L629.7,449.3 L629.2,449.3 L628.7,449.3 L628.2,449.3 L627.7,449.4 L627.2,449.7 L626.7,450.1 L626.2,450.6 L625.7,451.1 L625.2,451.7 L624.7,452.2 L624.2,452.8 L623.7,453.4 L623.2,454.1 L622.7,454.7 L622.2,455.4 L621.7,456.1 L621.2,456.8 L620.7,457.5 Z" fill="#7e3596" stroke="#333" stroke-width="0.6" />
<text x="611.9" y="421.8" font-size="8.4" text-anchor="middle" textLength="17.5" lengthAdjust="spacingAndGlyphs" transform="rotate(-90 611.9 421.8)" >gene</text>
<line x1="619.00" y1="461.30" x2="682.00" y2="461.30" stroke="#555" stroke-width="0.8" />
<line x1="620.00" y1="461.30" x2="620.00" y2="463.00" stroke="#555" stroke-width="0.6" />
<text x="620" y="468" font-size="7.2" fill="#444" text-anchor="middle" >0</text>
<line x1="633.20" y1="461.30" x2="633.20" y2="463.00" stroke="#555" stroke-width="0.6" />
<text x="633.2" y="468" font-size="7.2" fill="#444" text-anchor="middle" >1</text>
<line x1="646.40" y1="461.30" x2="646.40" y2="463.00" stroke="#555" stroke-width="0.6" />
<text x="646.4" y="468" font-size="7.2" fill="#444" text-anchor="middle" >2</text>
<line x1="659.60" y1="461.30" x2="659.60" y2="463.00" stroke="#555" stroke-width="0.6" />
<text x="659.6" y="468" font-size="7.2" fill="#444" text-anchor="middle" >3</text>
<line x1="673.00" y1="461.30" x2="673.00" y2="463.00" stroke="#555" stroke-width="0.6" />
<text x="673" y="468" font-size="7.2" fill="#444" text-anchor="middle" >4</text>
</svg></body></html>
